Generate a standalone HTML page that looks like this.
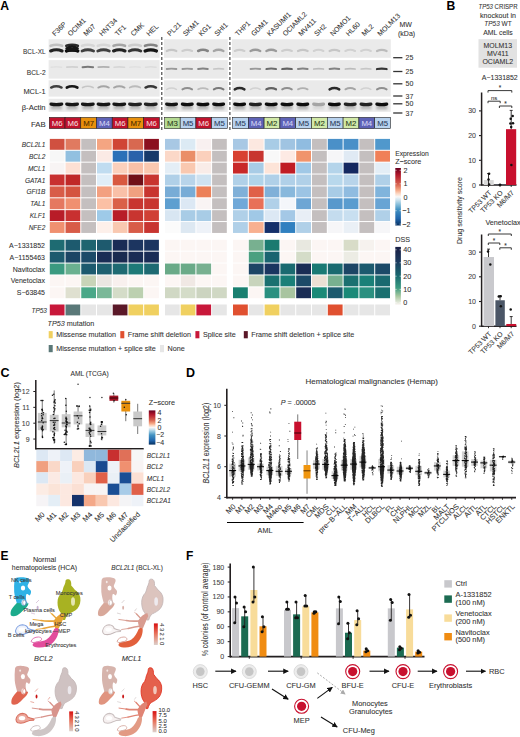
<!DOCTYPE html>
<html><head><meta charset="utf-8"><style>
html,body{margin:0;padding:0;background:#fff;}
body{width:520px;height:737px;overflow:hidden;}
svg{display:block;font-family:"Liberation Sans", sans-serif;}
</style></head><body>
<svg width="520" height="737" viewBox="0 0 520 737">
<rect width="520" height="737" fill="#fff"/>
<text x="0.30" y="10.30" font-size="12.2" text-anchor="start" fill="#000" font-weight="bold">A</text>
<text x="54.90" y="36.60" font-size="7.0" text-anchor="start" fill="#333" stroke="#333" stroke-width="0.08" transform="rotate(-45 54.90 36.60)">F36P</text>
<text x="70.63" y="36.60" font-size="7.0" text-anchor="start" fill="#333" stroke="#333" stroke-width="0.08" transform="rotate(-45 70.63 36.60)">OCIM1</text>
<text x="86.36" y="36.60" font-size="7.0" text-anchor="start" fill="#333" stroke="#333" stroke-width="0.08" transform="rotate(-45 86.36 36.60)">M07</text>
<text x="102.09" y="36.60" font-size="7.0" text-anchor="start" fill="#333" stroke="#333" stroke-width="0.08" transform="rotate(-45 102.09 36.60)">HNT34</text>
<text x="117.82" y="36.60" font-size="7.0" text-anchor="start" fill="#333" stroke="#333" stroke-width="0.08" transform="rotate(-45 117.82 36.60)">TF1</text>
<text x="133.55" y="36.60" font-size="7.0" text-anchor="start" fill="#333" stroke="#333" stroke-width="0.08" transform="rotate(-45 133.55 36.60)">CMK</text>
<text x="149.28" y="36.60" font-size="7.0" text-anchor="start" fill="#333" stroke="#333" stroke-width="0.08" transform="rotate(-45 149.28 36.60)">HEL</text>
<text x="170.10" y="36.60" font-size="7.0" text-anchor="start" fill="#333" stroke="#333" stroke-width="0.08" transform="rotate(-45 170.10 36.60)">PL21</text>
<text x="185.80" y="36.60" font-size="7.0" text-anchor="start" fill="#333" stroke="#333" stroke-width="0.08" transform="rotate(-45 185.80 36.60)">SKM1</text>
<text x="201.50" y="36.60" font-size="7.0" text-anchor="start" fill="#333" stroke="#333" stroke-width="0.08" transform="rotate(-45 201.50 36.60)">KG1</text>
<text x="217.20" y="36.60" font-size="7.0" text-anchor="start" fill="#333" stroke="#333" stroke-width="0.08" transform="rotate(-45 217.20 36.60)">SHI1</text>
<text x="238.10" y="36.60" font-size="7.0" text-anchor="start" fill="#333" stroke="#333" stroke-width="0.08" transform="rotate(-45 238.10 36.60)">THP1</text>
<text x="253.90" y="36.60" font-size="7.0" text-anchor="start" fill="#333" stroke="#333" stroke-width="0.08" transform="rotate(-45 253.90 36.60)">GDM1</text>
<text x="269.70" y="36.60" font-size="7.0" text-anchor="start" fill="#333" stroke="#333" stroke-width="0.08" transform="rotate(-45 269.70 36.60)">KASUMI1</text>
<text x="285.50" y="36.60" font-size="7.0" text-anchor="start" fill="#333" stroke="#333" stroke-width="0.08" transform="rotate(-45 285.50 36.60)">OCIAML2</text>
<text x="301.30" y="36.60" font-size="7.0" text-anchor="start" fill="#333" stroke="#333" stroke-width="0.08" transform="rotate(-45 301.30 36.60)">MV411</text>
<text x="317.10" y="36.60" font-size="7.0" text-anchor="start" fill="#333" stroke="#333" stroke-width="0.08" transform="rotate(-45 317.10 36.60)">SH2</text>
<text x="332.90" y="36.60" font-size="7.0" text-anchor="start" fill="#333" stroke="#333" stroke-width="0.08" transform="rotate(-45 332.90 36.60)">NOMO1</text>
<text x="348.70" y="36.60" font-size="7.0" text-anchor="start" fill="#333" stroke="#333" stroke-width="0.08" transform="rotate(-45 348.70 36.60)">HL60</text>
<text x="364.50" y="36.60" font-size="7.0" text-anchor="start" fill="#333" stroke="#333" stroke-width="0.08" transform="rotate(-45 364.50 36.60)">ML2</text>
<text x="380.30" y="36.60" font-size="7.0" text-anchor="start" fill="#333" stroke="#333" stroke-width="0.08" transform="rotate(-45 380.30 36.60)">MOLM13</text>
<rect x="48.60" y="39.30" width="111.00" height="18.50" fill="#eaeaea"/>
<rect x="48.60" y="60.10" width="111.00" height="18.50" fill="#eaeaea"/>
<rect x="48.60" y="80.30" width="111.00" height="16.30" fill="#eaeaea"/>
<rect x="48.60" y="98.80" width="111.00" height="13.00" fill="#eaeaea"/>
<rect x="164.00" y="39.30" width="63.80" height="18.50" fill="#eaeaea"/>
<rect x="164.00" y="60.10" width="63.80" height="18.50" fill="#eaeaea"/>
<rect x="164.00" y="80.30" width="63.80" height="16.30" fill="#eaeaea"/>
<rect x="164.00" y="98.80" width="63.80" height="13.00" fill="#eaeaea"/>
<rect x="232.00" y="39.30" width="158.80" height="18.50" fill="#eaeaea"/>
<rect x="232.00" y="60.10" width="158.80" height="18.50" fill="#eaeaea"/>
<rect x="232.00" y="80.30" width="158.80" height="16.30" fill="#eaeaea"/>
<rect x="232.00" y="98.80" width="158.80" height="13.00" fill="#eaeaea"/>
<defs><filter id="bl" x="-30%" y="-150%" width="160%" height="400%"><feGaussianBlur stdDeviation="0.55"/></filter><filter id="bl2" x="-30%" y="-150%" width="160%" height="400%"><feGaussianBlur stdDeviation="1.0"/></filter></defs>
<g filter="url(#bl2)">
<rect x="50.87" y="105" width="11" height="4.5" fill="rgb(184,184,184)"/>
<rect x="66.59" y="105" width="11" height="4.5" fill="rgb(184,184,184)"/>
<rect x="82.32" y="105" width="11" height="4.5" fill="rgb(184,184,184)"/>
<rect x="98.05" y="105" width="11" height="4.5" fill="rgb(184,184,184)"/>
<rect x="113.78" y="105" width="11" height="4.5" fill="rgb(184,184,184)"/>
<rect x="129.51" y="105" width="11" height="4.5" fill="rgb(187,187,187)"/>
<rect x="145.25" y="105" width="11" height="4.5" fill="rgb(187,187,187)"/>
<rect x="166.05" y="105" width="11" height="4.5" fill="rgb(184,184,184)"/>
<rect x="181.75" y="105" width="11" height="4.5" fill="rgb(182,182,182)"/>
<rect x="197.45" y="105" width="11" height="4.5" fill="rgb(182,182,182)"/>
<rect x="213.15" y="105" width="11" height="4.5" fill="rgb(182,182,182)"/>
<rect x="234.10" y="105" width="11" height="4.5" fill="rgb(182,182,182)"/>
<rect x="249.90" y="105" width="11" height="4.5" fill="rgb(187,187,187)"/>
<rect x="265.70" y="105" width="11" height="4.5" fill="rgb(182,182,182)"/>
<rect x="281.50" y="105" width="11" height="4.5" fill="rgb(182,182,182)"/>
<rect x="297.30" y="105" width="11" height="4.5" fill="rgb(182,182,182)"/>
<rect x="313.10" y="105" width="11" height="4.5" fill="rgb(217,217,217)"/>
<rect x="328.90" y="105" width="11" height="4.5" fill="rgb(182,182,182)"/>
<rect x="344.70" y="105" width="11" height="4.5" fill="rgb(187,187,187)"/>
<rect x="360.50" y="105" width="11" height="4.5" fill="rgb(187,187,187)"/>
<rect x="376.30" y="105" width="11" height="4.5" fill="rgb(182,182,182)"/>
</g>
<g filter="url(#bl)">
<path d="M50.62,51.00 Q56.37,48.60 62.12,51.00" fill="none" stroke="rgb(32,32,32)" stroke-width="3.08" stroke-linecap="round"/>
<path d="M66.34,51.00 Q72.09,48.60 77.84,51.00" fill="none" stroke="rgb(10,10,10)" stroke-width="3.20" stroke-linecap="round"/>
<path d="M82.07,51.00 Q87.82,48.60 93.57,51.00" fill="none" stroke="rgb(65,65,65)" stroke-width="2.90" stroke-linecap="round"/>
<path d="M97.80,51.00 Q103.55,48.60 109.30,51.00" fill="none" stroke="rgb(65,65,65)" stroke-width="2.90" stroke-linecap="round"/>
<path d="M113.53,51.00 Q119.28,48.60 125.03,51.00" fill="none" stroke="rgb(32,32,32)" stroke-width="3.08" stroke-linecap="round"/>
<path d="M129.26,51.00 Q135.01,48.60 140.76,51.00" fill="none" stroke="rgb(54,54,54)" stroke-width="2.96" stroke-linecap="round"/>
<path d="M145.00,51.00 Q150.75,48.60 156.50,51.00" fill="none" stroke="rgb(21,21,21)" stroke-width="3.14" stroke-linecap="round"/>
<path d="M166.75,51.00 Q171.55,48.60 176.35,51.00" fill="none" stroke="rgb(198,198,198)" stroke-width="2.18" stroke-linecap="round"/>
<path d="M182.45,51.00 Q187.25,48.60 192.05,51.00" fill="none" stroke="rgb(205,205,205)" stroke-width="2.14" stroke-linecap="round"/>
<path d="M198.15,51.00 Q202.95,48.60 207.75,51.00" fill="none" stroke="rgb(132,132,132)" stroke-width="2.54" stroke-linecap="round"/>
<path d="M213.85,51.00 Q218.65,48.60 223.45,51.00" fill="none" stroke="rgb(165,165,165)" stroke-width="2.36" stroke-linecap="round"/>
<path d="M234.80,51.00 Q239.60,48.60 244.40,51.00" fill="none" stroke="rgb(205,205,205)" stroke-width="2.14" stroke-linecap="round"/>
<path d="M250.60,51.00 Q255.40,48.60 260.20,51.00" fill="none" stroke="rgb(154,154,154)" stroke-width="2.42" stroke-linecap="round"/>
<path d="M266.40,51.00 Q271.20,48.60 276.00,51.00" fill="none" stroke="rgb(154,154,154)" stroke-width="2.42" stroke-linecap="round"/>
<path d="M282.20,51.00 Q287.00,48.60 291.80,51.00" fill="none" stroke="rgb(205,205,205)" stroke-width="2.14" stroke-linecap="round"/>
<path d="M298.00,51.00 Q302.80,48.60 307.60,51.00" fill="none" stroke="rgb(198,198,198)" stroke-width="2.18" stroke-linecap="round"/>
<path d="M313.80,51.00 Q318.60,48.60 323.40,51.00" fill="none" stroke="rgb(209,209,209)" stroke-width="2.12" stroke-linecap="round"/>
<path d="M329.60,51.00 Q334.40,48.60 339.20,51.00" fill="none" stroke="rgb(198,198,198)" stroke-width="2.18" stroke-linecap="round"/>
<path d="M345.40,51.00 Q350.20,48.60 355.00,51.00" fill="none" stroke="rgb(209,209,209)" stroke-width="2.12" stroke-linecap="round"/>
<path d="M361.20,51.00 Q366.00,48.60 370.80,51.00" fill="none" stroke="rgb(209,209,209)" stroke-width="2.12" stroke-linecap="round"/>
<path d="M377.00,51.00 Q381.80,48.60 386.60,51.00" fill="none" stroke="rgb(187,187,187)" stroke-width="2.24" stroke-linecap="round"/>
<path d="M50.62,45.80 Q56.37,43.80 62.12,45.80" fill="none" stroke="rgb(192,192,192)" stroke-width="2.60" stroke-linecap="round"/>
<path d="M66.34,45.80 Q72.09,43.80 77.84,45.80" fill="none" stroke="rgb(43,43,43)" stroke-width="2.60" stroke-linecap="round"/>
<path d="M82.07,45.80 Q87.82,43.80 93.57,45.80" fill="none" stroke="rgb(214,214,214)" stroke-width="2.60" stroke-linecap="round"/>
<path d="M97.80,45.80 Q103.55,43.80 109.30,45.80" fill="none" stroke="rgb(214,214,214)" stroke-width="2.60" stroke-linecap="round"/>
<path d="M113.53,45.80 Q119.28,43.80 125.03,45.80" fill="none" stroke="rgb(165,165,165)" stroke-width="2.60" stroke-linecap="round"/>
<path d="M129.26,45.80 Q135.01,43.80 140.76,45.80" fill="none" stroke="rgb(205,205,205)" stroke-width="2.60" stroke-linecap="round"/>
<path d="M145.00,45.80 Q150.75,43.80 156.50,45.80" fill="none" stroke="rgb(132,132,132)" stroke-width="2.60" stroke-linecap="round"/>
<path d="M51.12,67.20 Q56.37,66.40 61.62,67.20" fill="none" stroke="rgb(225,225,225)" stroke-width="1.62" stroke-linecap="round"/>
<path d="M66.84,67.20 Q72.09,66.40 77.34,67.20" fill="none" stroke="rgb(209,209,209)" stroke-width="1.68" stroke-linecap="round"/>
<path d="M82.57,67.20 Q87.82,66.40 93.07,67.20" fill="none" stroke="rgb(121,121,121)" stroke-width="2.00" stroke-linecap="round"/>
<path d="M98.30,67.20 Q103.55,66.40 108.80,67.20" fill="none" stroke="rgb(176,176,176)" stroke-width="1.80" stroke-linecap="round"/>
<path d="M114.03,67.20 Q119.28,66.40 124.53,67.20" fill="none" stroke="rgb(214,214,214)" stroke-width="1.66" stroke-linecap="round"/>
<path d="M129.76,67.20 Q135.01,66.40 140.26,67.20" fill="none" stroke="rgb(225,225,225)" stroke-width="1.62" stroke-linecap="round"/>
<path d="M145.50,67.20 Q150.75,66.40 156.00,67.20" fill="none" stroke="rgb(220,220,220)" stroke-width="1.64" stroke-linecap="round"/>
<path d="M166.75,69.00 Q171.55,68.20 176.35,69.00" fill="none" stroke="rgb(154,154,154)" stroke-width="1.88" stroke-linecap="round"/>
<path d="M182.45,69.00 Q187.25,68.20 192.05,69.00" fill="none" stroke="rgb(154,154,154)" stroke-width="1.88" stroke-linecap="round"/>
<path d="M198.15,69.00 Q202.95,68.20 207.75,69.00" fill="none" stroke="rgb(132,132,132)" stroke-width="1.96" stroke-linecap="round"/>
<path d="M213.85,69.00 Q218.65,68.20 223.45,69.00" fill="none" stroke="rgb(198,198,198)" stroke-width="1.72" stroke-linecap="round"/>
<path d="M250.60,69.00 Q255.40,68.20 260.20,69.00" fill="none" stroke="rgb(154,154,154)" stroke-width="1.88" stroke-linecap="round"/>
<path d="M266.40,69.00 Q271.20,68.20 276.00,69.00" fill="none" stroke="rgb(109,109,109)" stroke-width="2.04" stroke-linecap="round"/>
<path d="M282.20,69.00 Q287.00,68.20 291.80,69.00" fill="none" stroke="rgb(98,98,98)" stroke-width="2.08" stroke-linecap="round"/>
<path d="M298.00,69.00 Q302.80,68.20 307.60,69.00" fill="none" stroke="rgb(132,132,132)" stroke-width="1.96" stroke-linecap="round"/>
<path d="M313.80,69.00 Q318.60,68.20 323.40,69.00" fill="none" stroke="rgb(187,187,187)" stroke-width="1.76" stroke-linecap="round"/>
<path d="M329.60,69.00 Q334.40,68.20 339.20,69.00" fill="none" stroke="rgb(132,132,132)" stroke-width="1.96" stroke-linecap="round"/>
<path d="M345.40,69.00 Q350.20,68.20 355.00,69.00" fill="none" stroke="rgb(187,187,187)" stroke-width="1.76" stroke-linecap="round"/>
<path d="M361.20,69.00 Q366.00,68.20 370.80,69.00" fill="none" stroke="rgb(198,198,198)" stroke-width="1.72" stroke-linecap="round"/>
<path d="M377.00,69.00 Q381.80,68.20 386.60,69.00" fill="none" stroke="rgb(54,54,54)" stroke-width="2.24" stroke-linecap="round"/>
<path d="M51.12,87.55 Q56.37,84.95 61.62,87.55" fill="none" stroke="rgb(65,65,65)" stroke-width="2.40" stroke-linecap="round"/>
<path d="M66.84,87.55 Q72.09,84.95 77.34,87.55" fill="none" stroke="rgb(21,21,21)" stroke-width="2.64" stroke-linecap="round"/>
<path d="M82.57,87.55 Q87.82,84.95 93.07,87.55" fill="none" stroke="rgb(198,198,198)" stroke-width="1.68" stroke-linecap="round"/>
<path d="M98.30,87.55 Q103.55,84.95 108.80,87.55" fill="none" stroke="rgb(165,165,165)" stroke-width="1.86" stroke-linecap="round"/>
<path d="M114.03,87.55 Q119.28,84.95 124.53,87.55" fill="none" stroke="rgb(165,165,165)" stroke-width="1.86" stroke-linecap="round"/>
<path d="M129.76,87.55 Q135.01,84.95 140.26,87.55" fill="none" stroke="rgb(187,187,187)" stroke-width="1.74" stroke-linecap="round"/>
<path d="M145.50,87.55 Q150.75,84.95 156.00,87.55" fill="none" stroke="rgb(54,54,54)" stroke-width="2.46" stroke-linecap="round"/>
<path d="M166.75,89.35 Q171.55,86.75 176.35,89.35" fill="none" stroke="rgb(209,209,209)" stroke-width="1.62" stroke-linecap="round"/>
<path d="M182.45,89.35 Q187.25,86.75 192.05,89.35" fill="none" stroke="rgb(143,143,143)" stroke-width="1.98" stroke-linecap="round"/>
<path d="M198.15,89.35 Q202.95,86.75 207.75,89.35" fill="none" stroke="rgb(187,187,187)" stroke-width="1.74" stroke-linecap="round"/>
<path d="M213.85,89.35 Q218.65,86.75 223.45,89.35" fill="none" stroke="rgb(121,121,121)" stroke-width="2.10" stroke-linecap="round"/>
<path d="M234.80,89.35 Q239.60,86.75 244.40,89.35" fill="none" stroke="rgb(43,43,43)" stroke-width="2.52" stroke-linecap="round"/>
<path d="M250.60,89.35 Q255.40,86.75 260.20,89.35" fill="none" stroke="rgb(209,209,209)" stroke-width="1.62" stroke-linecap="round"/>
<path d="M266.40,89.35 Q271.20,86.75 276.00,89.35" fill="none" stroke="rgb(98,98,98)" stroke-width="2.22" stroke-linecap="round"/>
<path d="M282.20,89.35 Q287.00,86.75 291.80,89.35" fill="none" stroke="rgb(143,143,143)" stroke-width="1.98" stroke-linecap="round"/>
<path d="M298.00,89.35 Q302.80,86.75 307.60,89.35" fill="none" stroke="rgb(176,176,176)" stroke-width="1.80" stroke-linecap="round"/>
<path d="M329.60,89.35 Q334.40,86.75 339.20,89.35" fill="none" stroke="rgb(43,43,43)" stroke-width="2.52" stroke-linecap="round"/>
<path d="M345.40,89.35 Q350.20,86.75 355.00,89.35" fill="none" stroke="rgb(165,165,165)" stroke-width="1.86" stroke-linecap="round"/>
<path d="M361.20,89.35 Q366.00,86.75 370.80,89.35" fill="none" stroke="rgb(209,209,209)" stroke-width="1.62" stroke-linecap="round"/>
<path d="M377.00,89.35 Q381.80,86.75 386.60,89.35" fill="none" stroke="rgb(143,143,143)" stroke-width="1.98" stroke-linecap="round"/>
<path d="M51.12,104.15 Q56.37,105.15 61.62,104.15" fill="none" stroke="rgb(21,21,21)" stroke-width="3.40" stroke-linecap="round"/>
<path d="M66.84,104.15 Q72.09,105.15 77.34,104.15" fill="none" stroke="rgb(21,21,21)" stroke-width="3.40" stroke-linecap="round"/>
<path d="M82.57,104.15 Q87.82,105.15 93.07,104.15" fill="none" stroke="rgb(21,21,21)" stroke-width="3.40" stroke-linecap="round"/>
<path d="M98.30,104.15 Q103.55,105.15 108.80,104.15" fill="none" stroke="rgb(21,21,21)" stroke-width="3.40" stroke-linecap="round"/>
<path d="M114.03,104.15 Q119.28,105.15 124.53,104.15" fill="none" stroke="rgb(21,21,21)" stroke-width="3.40" stroke-linecap="round"/>
<path d="M129.76,104.15 Q135.01,105.15 140.26,104.15" fill="none" stroke="rgb(32,32,32)" stroke-width="3.40" stroke-linecap="round"/>
<path d="M145.50,104.15 Q150.75,105.15 156.00,104.15" fill="none" stroke="rgb(32,32,32)" stroke-width="3.40" stroke-linecap="round"/>
<path d="M166.75,104.15 Q171.55,105.15 176.35,104.15" fill="none" stroke="rgb(21,21,21)" stroke-width="3.40" stroke-linecap="round"/>
<path d="M182.45,104.15 Q187.25,105.15 192.05,104.15" fill="none" stroke="rgb(10,10,10)" stroke-width="3.40" stroke-linecap="round"/>
<path d="M198.15,104.15 Q202.95,105.15 207.75,104.15" fill="none" stroke="rgb(10,10,10)" stroke-width="3.40" stroke-linecap="round"/>
<path d="M213.85,104.15 Q218.65,105.15 223.45,104.15" fill="none" stroke="rgb(10,10,10)" stroke-width="3.40" stroke-linecap="round"/>
<path d="M234.80,104.15 Q239.60,105.15 244.40,104.15" fill="none" stroke="rgb(10,10,10)" stroke-width="3.40" stroke-linecap="round"/>
<path d="M250.60,104.15 Q255.40,105.15 260.20,104.15" fill="none" stroke="rgb(32,32,32)" stroke-width="3.40" stroke-linecap="round"/>
<path d="M266.40,104.15 Q271.20,105.15 276.00,104.15" fill="none" stroke="rgb(10,10,10)" stroke-width="3.40" stroke-linecap="round"/>
<path d="M282.20,104.15 Q287.00,105.15 291.80,104.15" fill="none" stroke="rgb(10,10,10)" stroke-width="3.40" stroke-linecap="round"/>
<path d="M298.00,104.15 Q302.80,105.15 307.60,104.15" fill="none" stroke="rgb(10,10,10)" stroke-width="3.40" stroke-linecap="round"/>
<path d="M313.80,104.15 Q318.60,105.15 323.40,104.15" fill="none" stroke="rgb(165,165,165)" stroke-width="3.40" stroke-linecap="round"/>
<path d="M329.60,104.15 Q334.40,105.15 339.20,104.15" fill="none" stroke="rgb(10,10,10)" stroke-width="3.40" stroke-linecap="round"/>
<path d="M345.40,104.15 Q350.20,105.15 355.00,104.15" fill="none" stroke="rgb(32,32,32)" stroke-width="3.40" stroke-linecap="round"/>
<path d="M361.20,104.15 Q366.00,105.15 370.80,104.15" fill="none" stroke="rgb(32,32,32)" stroke-width="3.40" stroke-linecap="round"/>
<path d="M377.00,104.15 Q381.80,105.15 386.60,104.15" fill="none" stroke="rgb(10,10,10)" stroke-width="3.40" stroke-linecap="round"/>
<path d="M66.59,48.50 Q72.09,44.50 77.59,48.50" fill="none" stroke="rgb(25,25,25)" stroke-width="2.6" stroke-linecap="round"/>
<rect x="66.59" y="47.5" width="11" height="4.2" fill="rgb(20,20,20)" rx="1.5"/>
</g>
<line x1="161.80" y1="37.00" x2="161.80" y2="131.00" stroke="#3a3a3a" stroke-width="1.1" stroke-dasharray="3,2"/>
<line x1="229.90" y1="37.00" x2="229.90" y2="131.00" stroke="#3a3a3a" stroke-width="1.1" stroke-dasharray="3,2"/>
<text x="45.60" y="54.10" font-size="7.4" text-anchor="end" fill="#333" stroke="#333" stroke-width="0.08" textLength="22.54" lengthAdjust="spacingAndGlyphs">BCL-XL</text>
<text x="45.60" y="75.40" font-size="7.4" text-anchor="end" fill="#333" stroke="#333" stroke-width="0.08" textLength="18.88" lengthAdjust="spacingAndGlyphs">BCL-2</text>
<text x="45.60" y="94.20" font-size="7.4" text-anchor="end" fill="#333" stroke="#333" stroke-width="0.08" textLength="22.20" lengthAdjust="spacingAndGlyphs">MCL-1</text>
<text x="45.60" y="109.90" font-size="7.4" text-anchor="end" fill="#333" stroke="#333" stroke-width="0.08" textLength="23.87" lengthAdjust="spacingAndGlyphs">&#946;-Actin</text>
<text x="45.60" y="126.70" font-size="7.4" text-anchor="end" fill="#333" stroke="#333" stroke-width="0.08" textLength="14.68" lengthAdjust="spacingAndGlyphs">FAB</text>
<text x="399.50" y="27.00" font-size="7.0" text-anchor="start" fill="#333" stroke="#333" stroke-width="0.08">MW</text>
<text x="398.00" y="35.50" font-size="7.0" text-anchor="start" fill="#333" stroke="#333" stroke-width="0.08">(kDa)</text>
<line x1="393.20" y1="57.70" x2="402.40" y2="57.70" stroke="#333" stroke-width="1.3"/>
<text x="405.50" y="60.30" font-size="7.0" text-anchor="start" fill="#333" stroke="#333" stroke-width="0.08">25</text>
<line x1="393.20" y1="71.50" x2="402.40" y2="71.50" stroke="#333" stroke-width="1.3"/>
<text x="405.50" y="74.10" font-size="7.0" text-anchor="start" fill="#333" stroke="#333" stroke-width="0.08">25</text>
<line x1="393.20" y1="83.80" x2="402.40" y2="83.80" stroke="#333" stroke-width="1.3"/>
<text x="405.50" y="86.40" font-size="7.0" text-anchor="start" fill="#333" stroke="#333" stroke-width="0.08">50</text>
<line x1="393.20" y1="96.00" x2="402.40" y2="96.00" stroke="#333" stroke-width="1.3"/>
<text x="405.50" y="98.60" font-size="7.0" text-anchor="start" fill="#333" stroke="#333" stroke-width="0.08">37</text>
<line x1="393.20" y1="103.80" x2="402.40" y2="103.80" stroke="#333" stroke-width="1.3"/>
<text x="405.50" y="106.40" font-size="7.0" text-anchor="start" fill="#333" stroke="#333" stroke-width="0.08">50</text>
<line x1="393.20" y1="113.00" x2="402.40" y2="113.00" stroke="#333" stroke-width="1.3"/>
<text x="405.50" y="115.60" font-size="7.0" text-anchor="start" fill="#333" stroke="#333" stroke-width="0.08">37</text>
<rect x="49.30" y="117.40" width="15.73" height="11.20" fill="#c0122c" stroke="#222" stroke-width="0.6"/>
<text x="57.16" y="125.90" font-size="7.8" text-anchor="middle" fill="#f4dede" stroke="#f4dede" stroke-width="0.08">M6</text>
<rect x="65.03" y="117.40" width="15.73" height="11.20" fill="#c0122c" stroke="#222" stroke-width="0.6"/>
<text x="72.89" y="125.90" font-size="7.8" text-anchor="middle" fill="#f4dede" stroke="#f4dede" stroke-width="0.08">M6</text>
<rect x="80.76" y="117.40" width="15.73" height="11.20" fill="#e8900c" stroke="#222" stroke-width="0.6"/>
<text x="88.62" y="125.90" font-size="7.8" text-anchor="middle" fill="#4a2a00" stroke="#4a2a00" stroke-width="0.08">M7</text>
<rect x="96.49" y="117.40" width="15.73" height="11.20" fill="#5e62b6" stroke="#222" stroke-width="0.6"/>
<text x="104.35" y="125.90" font-size="7.8" text-anchor="middle" fill="#d4d4f4" stroke="#d4d4f4" stroke-width="0.08">M4</text>
<rect x="112.22" y="117.40" width="15.73" height="11.20" fill="#c0122c" stroke="#222" stroke-width="0.6"/>
<text x="120.08" y="125.90" font-size="7.8" text-anchor="middle" fill="#f4dede" stroke="#f4dede" stroke-width="0.08">M6</text>
<rect x="127.95" y="117.40" width="15.73" height="11.20" fill="#e8900c" stroke="#222" stroke-width="0.6"/>
<text x="135.81" y="125.90" font-size="7.8" text-anchor="middle" fill="#4a2a00" stroke="#4a2a00" stroke-width="0.08">M7</text>
<rect x="143.68" y="117.40" width="15.73" height="11.20" fill="#c0122c" stroke="#222" stroke-width="0.6"/>
<text x="151.55" y="125.90" font-size="7.8" text-anchor="middle" fill="#f4dede" stroke="#f4dede" stroke-width="0.08">M6</text>
<rect x="164.50" y="117.40" width="15.70" height="11.20" fill="#b4da92" stroke="#222" stroke-width="0.6"/>
<text x="172.35" y="125.90" font-size="7.8" text-anchor="middle" fill="#2a3a1a" stroke="#2a3a1a" stroke-width="0.08">M3</text>
<rect x="180.20" y="117.40" width="15.70" height="11.20" fill="#b8d2ee" stroke="#222" stroke-width="0.6"/>
<text x="188.05" y="125.90" font-size="7.8" text-anchor="middle" fill="#2a3a5a" stroke="#2a3a5a" stroke-width="0.08">M5</text>
<rect x="195.90" y="117.40" width="15.70" height="11.20" fill="#c0122c" stroke="#222" stroke-width="0.6"/>
<text x="203.75" y="125.90" font-size="7.8" text-anchor="middle" fill="#f4dede" stroke="#f4dede" stroke-width="0.08">M6</text>
<rect x="211.60" y="117.40" width="15.70" height="11.20" fill="#b8d2ee" stroke="#222" stroke-width="0.6"/>
<text x="219.45" y="125.90" font-size="7.8" text-anchor="middle" fill="#2a3a5a" stroke="#2a3a5a" stroke-width="0.08">M5</text>
<rect x="232.50" y="117.40" width="15.80" height="11.20" fill="#b8d2ee" stroke="#222" stroke-width="0.6"/>
<text x="240.40" y="125.90" font-size="7.8" text-anchor="middle" fill="#2a3a5a" stroke="#2a3a5a" stroke-width="0.08">M5</text>
<rect x="248.30" y="117.40" width="15.80" height="11.20" fill="#5e62b6" stroke="#222" stroke-width="0.6"/>
<text x="256.20" y="125.90" font-size="7.8" text-anchor="middle" fill="#d4d4f4" stroke="#d4d4f4" stroke-width="0.08">M4</text>
<rect x="264.10" y="117.40" width="15.80" height="11.20" fill="#d2eaa8" stroke="#222" stroke-width="0.6"/>
<text x="272.00" y="125.90" font-size="7.8" text-anchor="middle" fill="#2a3a1a" stroke="#2a3a1a" stroke-width="0.08">M2</text>
<rect x="279.90" y="117.40" width="15.80" height="11.20" fill="#5e62b6" stroke="#222" stroke-width="0.6"/>
<text x="287.80" y="125.90" font-size="7.8" text-anchor="middle" fill="#d4d4f4" stroke="#d4d4f4" stroke-width="0.08">M4</text>
<rect x="295.70" y="117.40" width="15.80" height="11.20" fill="#b8d2ee" stroke="#222" stroke-width="0.6"/>
<text x="303.60" y="125.90" font-size="7.8" text-anchor="middle" fill="#2a3a5a" stroke="#2a3a5a" stroke-width="0.08">M5</text>
<rect x="311.50" y="117.40" width="15.80" height="11.20" fill="#d2eaa8" stroke="#222" stroke-width="0.6"/>
<text x="319.40" y="125.90" font-size="7.8" text-anchor="middle" fill="#2a3a1a" stroke="#2a3a1a" stroke-width="0.08">M2</text>
<rect x="327.30" y="117.40" width="15.80" height="11.20" fill="#b8d2ee" stroke="#222" stroke-width="0.6"/>
<text x="335.20" y="125.90" font-size="7.8" text-anchor="middle" fill="#2a3a5a" stroke="#2a3a5a" stroke-width="0.08">M5</text>
<rect x="343.10" y="117.40" width="15.80" height="11.20" fill="#d2eaa8" stroke="#222" stroke-width="0.6"/>
<text x="351.00" y="125.90" font-size="7.8" text-anchor="middle" fill="#2a3a1a" stroke="#2a3a1a" stroke-width="0.08">M2</text>
<rect x="358.90" y="117.40" width="15.80" height="11.20" fill="#5e62b6" stroke="#222" stroke-width="0.6"/>
<text x="366.80" y="125.90" font-size="7.8" text-anchor="middle" fill="#d4d4f4" stroke="#d4d4f4" stroke-width="0.08">M4</text>
<rect x="374.70" y="117.40" width="15.80" height="11.20" fill="#b8d2ee" stroke="#222" stroke-width="0.6"/>
<text x="382.60" y="125.90" font-size="7.8" text-anchor="middle" fill="#2a3a5a" stroke="#2a3a5a" stroke-width="0.08">M5</text>
<rect x="49.80" y="138.90" width="14.73" height="10.88" fill="#d05040"/>
<rect x="65.53" y="138.90" width="14.73" height="10.88" fill="#e07a60"/>
<rect x="81.26" y="138.90" width="14.73" height="10.88" fill="#c4bfbf"/>
<rect x="96.99" y="138.90" width="14.73" height="10.88" fill="#f4a582"/>
<rect x="112.72" y="138.90" width="14.73" height="10.88" fill="#d04535"/>
<rect x="128.45" y="138.90" width="14.73" height="10.88" fill="#d86850"/>
<rect x="144.18" y="138.90" width="14.73" height="10.88" fill="#8b1020"/>
<rect x="165.00" y="138.90" width="14.70" height="10.88" fill="#a8c8e4"/>
<rect x="180.70" y="138.90" width="14.70" height="10.88" fill="#dceaf4"/>
<rect x="196.40" y="138.90" width="14.70" height="10.88" fill="#f8f0f0"/>
<rect x="212.10" y="138.90" width="14.70" height="10.88" fill="#c4bfbf"/>
<rect x="233.00" y="138.90" width="14.80" height="10.88" fill="#a8c8e4"/>
<rect x="248.80" y="138.90" width="14.80" height="10.88" fill="#fce8e0"/>
<rect x="264.60" y="138.90" width="14.80" height="10.88" fill="#a8cce6"/>
<rect x="280.40" y="138.90" width="14.80" height="10.88" fill="#a0c4e2"/>
<rect x="296.20" y="138.90" width="14.80" height="10.88" fill="#90bce0"/>
<rect x="312.00" y="138.90" width="14.80" height="10.88" fill="#c4bfbf"/>
<rect x="327.80" y="138.90" width="14.80" height="10.88" fill="#4a90c8"/>
<rect x="343.60" y="138.90" width="14.80" height="10.88" fill="#4a90c8"/>
<rect x="359.40" y="138.90" width="14.80" height="10.88" fill="#c4bfbf"/>
<rect x="375.20" y="138.90" width="14.80" height="10.88" fill="#5098cc"/>
<text x="45.30" y="146.94" font-size="7.4" text-anchor="end" fill="#333" stroke="#333" stroke-width="0.08" font-style="italic" textLength="23.53" lengthAdjust="spacingAndGlyphs">BCL2L1</text>
<rect x="49.80" y="150.78" width="14.73" height="10.88" fill="#f7f7f7"/>
<rect x="65.53" y="150.78" width="14.73" height="10.88" fill="#92c0e0"/>
<rect x="81.26" y="150.78" width="14.73" height="10.88" fill="#c4bfbf"/>
<rect x="96.99" y="150.78" width="14.73" height="10.88" fill="#fbeae5"/>
<rect x="112.72" y="150.78" width="14.73" height="10.88" fill="#2a70b8"/>
<rect x="128.45" y="150.78" width="14.73" height="10.88" fill="#2a62aa"/>
<rect x="144.18" y="150.78" width="14.73" height="10.88" fill="#173a6a"/>
<rect x="165.00" y="150.78" width="14.70" height="10.88" fill="#fbd8c8"/>
<rect x="180.70" y="150.78" width="14.70" height="10.88" fill="#ea8e68"/>
<rect x="196.40" y="150.78" width="14.70" height="10.88" fill="#fbd0bc"/>
<rect x="212.10" y="150.78" width="14.70" height="10.88" fill="#c4bfbf"/>
<rect x="233.00" y="150.78" width="14.80" height="10.88" fill="#d84030"/>
<rect x="248.80" y="150.78" width="14.80" height="10.88" fill="#c83530"/>
<rect x="264.60" y="150.78" width="14.80" height="10.88" fill="#f8f8f8"/>
<rect x="280.40" y="150.78" width="14.80" height="10.88" fill="#fdeae4"/>
<rect x="296.20" y="150.78" width="14.80" height="10.88" fill="#f0946c"/>
<rect x="312.00" y="150.78" width="14.80" height="10.88" fill="#c4bfbf"/>
<rect x="327.80" y="150.78" width="14.80" height="10.88" fill="#f6f6f8"/>
<rect x="343.60" y="150.78" width="14.80" height="10.88" fill="#e0eaf4"/>
<rect x="359.40" y="150.78" width="14.80" height="10.88" fill="#c4bfbf"/>
<rect x="375.20" y="150.78" width="14.80" height="10.88" fill="#f08058"/>
<text x="45.30" y="158.82" font-size="7.4" text-anchor="end" fill="#333" stroke="#333" stroke-width="0.08" font-style="italic" textLength="16.29" lengthAdjust="spacingAndGlyphs">BCL2</text>
<rect x="49.80" y="162.66" width="14.73" height="10.88" fill="#f8f4f4"/>
<rect x="65.53" y="162.66" width="14.73" height="10.88" fill="#fde0d4"/>
<rect x="81.26" y="162.66" width="14.73" height="10.88" fill="#c4bfbf"/>
<rect x="96.99" y="162.66" width="14.73" height="10.88" fill="#c0dcf0"/>
<rect x="112.72" y="162.66" width="14.73" height="10.88" fill="#fbd0bc"/>
<rect x="128.45" y="162.66" width="14.73" height="10.88" fill="#f8c0a8"/>
<rect x="144.18" y="162.66" width="14.73" height="10.88" fill="#f9c8b0"/>
<rect x="165.00" y="162.66" width="14.70" height="10.88" fill="#e4eef6"/>
<rect x="180.70" y="162.66" width="14.70" height="10.88" fill="#f9c8b0"/>
<rect x="196.40" y="162.66" width="14.70" height="10.88" fill="#f9ece8"/>
<rect x="212.10" y="162.66" width="14.70" height="10.88" fill="#c4bfbf"/>
<rect x="233.00" y="162.66" width="14.80" height="10.88" fill="#c82828"/>
<rect x="248.80" y="162.66" width="14.80" height="10.88" fill="#a8cce6"/>
<rect x="264.60" y="162.66" width="14.80" height="10.88" fill="#fde4d8"/>
<rect x="280.40" y="162.66" width="14.80" height="10.88" fill="#c01c24"/>
<rect x="296.20" y="162.66" width="14.80" height="10.88" fill="#a0c8e6"/>
<rect x="312.00" y="162.66" width="14.80" height="10.88" fill="#c4bfbf"/>
<rect x="327.80" y="162.66" width="14.80" height="10.88" fill="#b4d4ea"/>
<rect x="343.60" y="162.66" width="14.80" height="10.88" fill="#142860"/>
<rect x="359.40" y="162.66" width="14.80" height="10.88" fill="#c4bfbf"/>
<rect x="375.20" y="162.66" width="14.80" height="10.88" fill="#e4eef6"/>
<text x="45.30" y="170.70" font-size="7.4" text-anchor="end" fill="#333" stroke="#333" stroke-width="0.08" font-style="italic" textLength="17.37" lengthAdjust="spacingAndGlyphs">MCL1</text>
<rect x="49.80" y="174.54" width="14.73" height="10.88" fill="#c83030"/>
<rect x="65.53" y="174.54" width="14.73" height="10.88" fill="#c02828"/>
<rect x="81.26" y="174.54" width="14.73" height="10.88" fill="#c4bfbf"/>
<rect x="96.99" y="174.54" width="14.73" height="10.88" fill="#e0eef8"/>
<rect x="112.72" y="174.54" width="14.73" height="10.88" fill="#d85840"/>
<rect x="128.45" y="174.54" width="14.73" height="10.88" fill="#700f18"/>
<rect x="144.18" y="174.54" width="14.73" height="10.88" fill="#c83530"/>
<rect x="165.00" y="174.54" width="14.70" height="10.88" fill="#b0d0e8"/>
<rect x="180.70" y="174.54" width="14.70" height="10.88" fill="#b8d4ea"/>
<rect x="196.40" y="174.54" width="14.70" height="10.88" fill="#cfe2f0"/>
<rect x="212.10" y="174.54" width="14.70" height="10.88" fill="#c4bfbf"/>
<rect x="233.00" y="174.54" width="14.80" height="10.88" fill="#b0d0e8"/>
<rect x="248.80" y="174.54" width="14.80" height="10.88" fill="#b0d4ea"/>
<rect x="264.60" y="174.54" width="14.80" height="10.88" fill="#b0d0e8"/>
<rect x="280.40" y="174.54" width="14.80" height="10.88" fill="#b0d0e8"/>
<rect x="296.20" y="174.54" width="14.80" height="10.88" fill="#b0d0e8"/>
<rect x="312.00" y="174.54" width="14.80" height="10.88" fill="#c4bfbf"/>
<rect x="327.80" y="174.54" width="14.80" height="10.88" fill="#b8d8ec"/>
<rect x="343.60" y="174.54" width="14.80" height="10.88" fill="#b8d4ea"/>
<rect x="359.40" y="174.54" width="14.80" height="10.88" fill="#c4bfbf"/>
<rect x="375.20" y="174.54" width="14.80" height="10.88" fill="#b0d0e8"/>
<text x="45.30" y="182.58" font-size="7.4" text-anchor="end" fill="#333" stroke="#333" stroke-width="0.08" font-style="italic" textLength="20.38" lengthAdjust="spacingAndGlyphs">GATA1</text>
<rect x="49.80" y="186.42" width="14.73" height="10.88" fill="#d85c48"/>
<rect x="65.53" y="186.42" width="14.73" height="10.88" fill="#d45440"/>
<rect x="81.26" y="186.42" width="14.73" height="10.88" fill="#c4bfbf"/>
<rect x="96.99" y="186.42" width="14.73" height="10.88" fill="#f3a080"/>
<rect x="112.72" y="186.42" width="14.73" height="10.88" fill="#f9c0a8"/>
<rect x="128.45" y="186.42" width="14.73" height="10.88" fill="#f0a080"/>
<rect x="144.18" y="186.42" width="14.73" height="10.88" fill="#c83530"/>
<rect x="165.00" y="186.42" width="14.70" height="10.88" fill="#78acd6"/>
<rect x="180.70" y="186.42" width="14.70" height="10.88" fill="#78acd6"/>
<rect x="196.40" y="186.42" width="14.70" height="10.88" fill="#ec8058"/>
<rect x="212.10" y="186.42" width="14.70" height="10.88" fill="#c4bfbf"/>
<rect x="233.00" y="186.42" width="14.80" height="10.88" fill="#80b0d8"/>
<rect x="248.80" y="186.42" width="14.80" height="10.88" fill="#e06048"/>
<rect x="264.60" y="186.42" width="14.80" height="10.88" fill="#80b0d8"/>
<rect x="280.40" y="186.42" width="14.80" height="10.88" fill="#88b8dc"/>
<rect x="296.20" y="186.42" width="14.80" height="10.88" fill="#9cc4e4"/>
<rect x="312.00" y="186.42" width="14.80" height="10.88" fill="#c4bfbf"/>
<rect x="327.80" y="186.42" width="14.80" height="10.88" fill="#a8cce6"/>
<rect x="343.60" y="186.42" width="14.80" height="10.88" fill="#90bce0"/>
<rect x="359.40" y="186.42" width="14.80" height="10.88" fill="#c4bfbf"/>
<rect x="375.20" y="186.42" width="14.80" height="10.88" fill="#80b4dc"/>
<text x="45.30" y="194.46" font-size="7.4" text-anchor="end" fill="#333" stroke="#333" stroke-width="0.08" font-style="italic" textLength="18.82" lengthAdjust="spacingAndGlyphs">GFI1B</text>
<rect x="49.80" y="198.30" width="14.73" height="10.88" fill="#e57860"/>
<rect x="65.53" y="198.30" width="14.73" height="10.88" fill="#f09070"/>
<rect x="81.26" y="198.30" width="14.73" height="10.88" fill="#c4bfbf"/>
<rect x="96.99" y="198.30" width="14.73" height="10.88" fill="#fbc0a5"/>
<rect x="112.72" y="198.30" width="14.73" height="10.88" fill="#da6048"/>
<rect x="128.45" y="198.30" width="14.73" height="10.88" fill="#c83530"/>
<rect x="144.18" y="198.30" width="14.73" height="10.88" fill="#c83530"/>
<rect x="165.00" y="198.30" width="14.70" height="10.88" fill="#5e9fd0"/>
<rect x="180.70" y="198.30" width="14.70" height="10.88" fill="#dce8f4"/>
<rect x="196.40" y="198.30" width="14.70" height="10.88" fill="#f9f4f4"/>
<rect x="212.10" y="198.30" width="14.70" height="10.88" fill="#c4bfbf"/>
<rect x="233.00" y="198.30" width="14.80" height="10.88" fill="#70a8d8"/>
<rect x="248.80" y="198.30" width="14.80" height="10.88" fill="#e87058"/>
<rect x="264.60" y="198.30" width="14.80" height="10.88" fill="#b0d0e8"/>
<rect x="280.40" y="198.30" width="14.80" height="10.88" fill="#f4f6fa"/>
<rect x="296.20" y="198.30" width="14.80" height="10.88" fill="#6ea6d4"/>
<rect x="312.00" y="198.30" width="14.80" height="10.88" fill="#c4bfbf"/>
<rect x="327.80" y="198.30" width="14.80" height="10.88" fill="#5898cc"/>
<rect x="343.60" y="198.30" width="14.80" height="10.88" fill="#5a9ccf"/>
<rect x="359.40" y="198.30" width="14.80" height="10.88" fill="#c4bfbf"/>
<rect x="375.20" y="198.30" width="14.80" height="10.88" fill="#68a4d4"/>
<text x="45.30" y="206.34" font-size="7.4" text-anchor="end" fill="#333" stroke="#333" stroke-width="0.08" font-style="italic" textLength="15.08" lengthAdjust="spacingAndGlyphs">TAL1</text>
<rect x="49.80" y="210.18" width="14.73" height="10.88" fill="#b81c28"/>
<rect x="65.53" y="210.18" width="14.73" height="10.88" fill="#c83030"/>
<rect x="81.26" y="210.18" width="14.73" height="10.88" fill="#c4bfbf"/>
<rect x="96.99" y="210.18" width="14.73" height="10.88" fill="#9ecae8"/>
<rect x="112.72" y="210.18" width="14.73" height="10.88" fill="#b81c28"/>
<rect x="128.45" y="210.18" width="14.73" height="10.88" fill="#c83530"/>
<rect x="144.18" y="210.18" width="14.73" height="10.88" fill="#d04035"/>
<rect x="165.00" y="210.18" width="14.70" height="10.88" fill="#d8e6f2"/>
<rect x="180.70" y="210.18" width="14.70" height="10.88" fill="#a8cce6"/>
<rect x="196.40" y="210.18" width="14.70" height="10.88" fill="#a8cce6"/>
<rect x="212.10" y="210.18" width="14.70" height="10.88" fill="#c4bfbf"/>
<rect x="233.00" y="210.18" width="14.80" height="10.88" fill="#b0d0e8"/>
<rect x="248.80" y="210.18" width="14.80" height="10.88" fill="#a0c8e6"/>
<rect x="264.60" y="210.18" width="14.80" height="10.88" fill="#dce8f4"/>
<rect x="280.40" y="210.18" width="14.80" height="10.88" fill="#a4c8e6"/>
<rect x="296.20" y="210.18" width="14.80" height="10.88" fill="#e8eef6"/>
<rect x="312.00" y="210.18" width="14.80" height="10.88" fill="#c4bfbf"/>
<rect x="327.80" y="210.18" width="14.80" height="10.88" fill="#c4dcee"/>
<rect x="343.60" y="210.18" width="14.80" height="10.88" fill="#c8dff0"/>
<rect x="359.40" y="210.18" width="14.80" height="10.88" fill="#c4bfbf"/>
<rect x="375.20" y="210.18" width="14.80" height="10.88" fill="#b0d0e8"/>
<text x="45.30" y="218.22" font-size="7.4" text-anchor="end" fill="#333" stroke="#333" stroke-width="0.08" font-style="italic" textLength="15.56" lengthAdjust="spacingAndGlyphs">KLF1</text>
<rect x="49.80" y="222.06" width="14.73" height="10.88" fill="#f09070"/>
<rect x="65.53" y="222.06" width="14.73" height="10.88" fill="#d85c48"/>
<rect x="81.26" y="222.06" width="14.73" height="10.88" fill="#c4bfbf"/>
<rect x="96.99" y="222.06" width="14.73" height="10.88" fill="#fdf0ea"/>
<rect x="112.72" y="222.06" width="14.73" height="10.88" fill="#f9c8b0"/>
<rect x="128.45" y="222.06" width="14.73" height="10.88" fill="#d85c48"/>
<rect x="144.18" y="222.06" width="14.73" height="10.88" fill="#c83530"/>
<rect x="165.00" y="222.06" width="14.70" height="10.88" fill="#fbfbfb"/>
<rect x="180.70" y="222.06" width="14.70" height="10.88" fill="#dde8f2"/>
<rect x="196.40" y="222.06" width="14.70" height="10.88" fill="#eef2f8"/>
<rect x="212.10" y="222.06" width="14.70" height="10.88" fill="#c4bfbf"/>
<rect x="233.00" y="222.06" width="14.80" height="10.88" fill="#b0d0e8"/>
<rect x="248.80" y="222.06" width="14.80" height="10.88" fill="#f8b090"/>
<rect x="264.60" y="222.06" width="14.80" height="10.88" fill="#15306a"/>
<rect x="280.40" y="222.06" width="14.80" height="10.88" fill="#3080c0"/>
<rect x="296.20" y="222.06" width="14.80" height="10.88" fill="#b0d0e8"/>
<rect x="312.00" y="222.06" width="14.80" height="10.88" fill="#c4bfbf"/>
<rect x="327.80" y="222.06" width="14.80" height="10.88" fill="#f6f6f8"/>
<rect x="343.60" y="222.06" width="14.80" height="10.88" fill="#eaf0f6"/>
<rect x="359.40" y="222.06" width="14.80" height="10.88" fill="#c4bfbf"/>
<rect x="375.20" y="222.06" width="14.80" height="10.88" fill="#f6f6f8"/>
<text x="45.30" y="230.10" font-size="7.4" text-anchor="end" fill="#333" stroke="#333" stroke-width="0.08" font-style="italic" textLength="16.65" lengthAdjust="spacingAndGlyphs">NFE2</text>
<rect x="49.80" y="239.80" width="14.73" height="10.88" fill="#1e6b72"/>
<rect x="65.53" y="239.80" width="14.73" height="10.88" fill="#1d5a6e"/>
<rect x="81.26" y="239.80" width="14.73" height="10.88" fill="#1e6470"/>
<rect x="96.99" y="239.80" width="14.73" height="10.88" fill="#1e5a6e"/>
<rect x="112.72" y="239.80" width="14.73" height="10.88" fill="#1a2c55"/>
<rect x="128.45" y="239.80" width="14.73" height="10.88" fill="#1c3560"/>
<rect x="144.18" y="239.80" width="14.73" height="10.88" fill="#1c3560"/>
<rect x="165.00" y="239.80" width="14.70" height="10.88" fill="#fcf6f4"/>
<rect x="180.70" y="239.80" width="14.70" height="10.88" fill="#fcf6f4"/>
<rect x="196.40" y="239.80" width="14.70" height="10.88" fill="#fcf6f4"/>
<rect x="212.10" y="239.80" width="14.70" height="10.88" fill="#fcf6f4"/>
<rect x="233.00" y="239.80" width="14.80" height="10.88" fill="#fcf6f4"/>
<rect x="248.80" y="239.80" width="14.80" height="10.88" fill="#78b090"/>
<rect x="264.60" y="239.80" width="14.80" height="10.88" fill="#1a7a70"/>
<rect x="280.40" y="239.80" width="14.80" height="10.88" fill="#fcf6f4"/>
<rect x="296.20" y="239.80" width="14.80" height="10.88" fill="#e8e8e0"/>
<rect x="312.00" y="239.80" width="14.80" height="10.88" fill="#fcf6f4"/>
<rect x="327.80" y="239.80" width="14.80" height="10.88" fill="#fcf6f4"/>
<rect x="343.60" y="239.80" width="14.80" height="10.88" fill="#d8dcc8"/>
<rect x="359.40" y="239.80" width="14.80" height="10.88" fill="#f6f2ee"/>
<rect x="375.20" y="239.80" width="14.80" height="10.88" fill="#fcf6f4"/>
<text x="45.00" y="247.74" font-size="7.0" text-anchor="end" fill="#333" stroke="#333" stroke-width="0.08">A&#8722;1331852</text>
<rect x="49.80" y="251.68" width="14.73" height="10.88" fill="#1c5a6e"/>
<rect x="65.53" y="251.68" width="14.73" height="10.88" fill="#1c4565"/>
<rect x="81.26" y="251.68" width="14.73" height="10.88" fill="#1c4a68"/>
<rect x="96.99" y="251.68" width="14.73" height="10.88" fill="#1a2d55"/>
<rect x="112.72" y="251.68" width="14.73" height="10.88" fill="#192a50"/>
<rect x="128.45" y="251.68" width="14.73" height="10.88" fill="#1a2c55"/>
<rect x="144.18" y="251.68" width="14.73" height="10.88" fill="#1a2c55"/>
<rect x="165.00" y="251.68" width="14.70" height="10.88" fill="#fcf6f4"/>
<rect x="180.70" y="251.68" width="14.70" height="10.88" fill="#fcf6f4"/>
<rect x="196.40" y="251.68" width="14.70" height="10.88" fill="#fcf6f4"/>
<rect x="212.10" y="251.68" width="14.70" height="10.88" fill="#fcf6f4"/>
<rect x="233.00" y="251.68" width="14.80" height="10.88" fill="#fcf6f4"/>
<rect x="248.80" y="251.68" width="14.80" height="10.88" fill="#4aa080"/>
<rect x="264.60" y="251.68" width="14.80" height="10.88" fill="#1a6470"/>
<rect x="280.40" y="251.68" width="14.80" height="10.88" fill="#fcf6f4"/>
<rect x="296.20" y="251.68" width="14.80" height="10.88" fill="#d4dcc8"/>
<rect x="312.00" y="251.68" width="14.80" height="10.88" fill="#fcf6f4"/>
<rect x="327.80" y="251.68" width="14.80" height="10.88" fill="#fcf6f4"/>
<rect x="343.60" y="251.68" width="14.80" height="10.88" fill="#ecece4"/>
<rect x="359.40" y="251.68" width="14.80" height="10.88" fill="#fcf6f4"/>
<rect x="375.20" y="251.68" width="14.80" height="10.88" fill="#fcf6f4"/>
<text x="45.00" y="259.62" font-size="7.0" text-anchor="end" fill="#333" stroke="#333" stroke-width="0.08">A&#8722;1155463</text>
<rect x="49.80" y="263.56" width="14.73" height="10.88" fill="#3a9a80"/>
<rect x="65.53" y="263.56" width="14.73" height="10.88" fill="#6ab090"/>
<rect x="81.26" y="263.56" width="14.73" height="10.88" fill="#1c5a6e"/>
<rect x="96.99" y="263.56" width="14.73" height="10.88" fill="#1e6070"/>
<rect x="112.72" y="263.56" width="14.73" height="10.88" fill="#1e6a72"/>
<rect x="128.45" y="263.56" width="14.73" height="10.88" fill="#1e7a78"/>
<rect x="144.18" y="263.56" width="14.73" height="10.88" fill="#1e6a72"/>
<rect x="165.00" y="263.56" width="14.70" height="10.88" fill="#6aaa88"/>
<rect x="180.70" y="263.56" width="14.70" height="10.88" fill="#6aaa88"/>
<rect x="196.40" y="263.56" width="14.70" height="10.88" fill="#78b090"/>
<rect x="212.10" y="263.56" width="14.70" height="10.88" fill="#fcf6f4"/>
<rect x="233.00" y="263.56" width="14.80" height="10.88" fill="#fcf6f4"/>
<rect x="248.80" y="263.56" width="14.80" height="10.88" fill="#1c4565"/>
<rect x="264.60" y="263.56" width="14.80" height="10.88" fill="#1a3560"/>
<rect x="280.40" y="263.56" width="14.80" height="10.88" fill="#1a6a70"/>
<rect x="296.20" y="263.56" width="14.80" height="10.88" fill="#1a2d55"/>
<rect x="312.00" y="263.56" width="14.80" height="10.88" fill="#1a7a74"/>
<rect x="327.80" y="263.56" width="14.80" height="10.88" fill="#1a6a70"/>
<rect x="343.60" y="263.56" width="14.80" height="10.88" fill="#1c4565"/>
<rect x="359.40" y="263.56" width="14.80" height="10.88" fill="#1c5a6e"/>
<rect x="375.20" y="263.56" width="14.80" height="10.88" fill="#1c4a68"/>
<text x="45.00" y="271.50" font-size="7.0" text-anchor="end" fill="#333" stroke="#333" stroke-width="0.08">Navitoclax</text>
<rect x="49.80" y="275.44" width="14.73" height="10.88" fill="#fcf6f4"/>
<rect x="65.53" y="275.44" width="14.73" height="10.88" fill="#fcf6f4"/>
<rect x="81.26" y="275.44" width="14.73" height="10.88" fill="#c8d4b8"/>
<rect x="96.99" y="275.44" width="14.73" height="10.88" fill="#ebe6e2"/>
<rect x="112.72" y="275.44" width="14.73" height="10.88" fill="#f8f0ee"/>
<rect x="128.45" y="275.44" width="14.73" height="10.88" fill="#fcf6f4"/>
<rect x="144.18" y="275.44" width="14.73" height="10.88" fill="#fcf6f4"/>
<rect x="165.00" y="275.44" width="14.70" height="10.88" fill="#fcf6f4"/>
<rect x="180.70" y="275.44" width="14.70" height="10.88" fill="#f0e8e4"/>
<rect x="196.40" y="275.44" width="14.70" height="10.88" fill="#fcf6f4"/>
<rect x="212.10" y="275.44" width="14.70" height="10.88" fill="#fcf6f4"/>
<rect x="233.00" y="275.44" width="14.80" height="10.88" fill="#fcf6f4"/>
<rect x="248.80" y="275.44" width="14.80" height="10.88" fill="#c8d4bc"/>
<rect x="264.60" y="275.44" width="14.80" height="10.88" fill="#1a7070"/>
<rect x="280.40" y="275.44" width="14.80" height="10.88" fill="#1a8078"/>
<rect x="296.20" y="275.44" width="14.80" height="10.88" fill="#1c4a68"/>
<rect x="312.00" y="275.44" width="14.80" height="10.88" fill="#ebe0d4"/>
<rect x="327.80" y="275.44" width="14.80" height="10.88" fill="#78b090"/>
<rect x="343.60" y="275.44" width="14.80" height="10.88" fill="#1a7070"/>
<rect x="359.40" y="275.44" width="14.80" height="10.88" fill="#1a8078"/>
<rect x="375.20" y="275.44" width="14.80" height="10.88" fill="#1a6a70"/>
<text x="45.00" y="283.38" font-size="7.0" text-anchor="end" fill="#333" stroke="#333" stroke-width="0.08">Venetoclax</text>
<rect x="49.80" y="287.32" width="14.73" height="10.88" fill="#fcf6f4"/>
<rect x="65.53" y="287.32" width="14.73" height="10.88" fill="#dfe0d0"/>
<rect x="81.26" y="287.32" width="14.73" height="10.88" fill="#4aa888"/>
<rect x="96.99" y="287.32" width="14.73" height="10.88" fill="#7ab898"/>
<rect x="112.72" y="287.32" width="14.73" height="10.88" fill="#d4dcc8"/>
<rect x="128.45" y="287.32" width="14.73" height="10.88" fill="#bcd0b0"/>
<rect x="144.18" y="287.32" width="14.73" height="10.88" fill="#fcf6f4"/>
<rect x="165.00" y="287.32" width="14.70" height="10.88" fill="#d0d8c4"/>
<rect x="180.70" y="287.32" width="14.70" height="10.88" fill="#d4dcc8"/>
<rect x="196.40" y="287.32" width="14.70" height="10.88" fill="#ccd4c0"/>
<rect x="212.10" y="287.32" width="14.70" height="10.88" fill="#d0d8c4"/>
<rect x="233.00" y="287.32" width="14.80" height="10.88" fill="#1a8070"/>
<rect x="248.80" y="287.32" width="14.80" height="10.88" fill="#fcf6f4"/>
<rect x="264.60" y="287.32" width="14.80" height="10.88" fill="#2a9080"/>
<rect x="280.40" y="287.32" width="14.80" height="10.88" fill="#a8c4a0"/>
<rect x="296.20" y="287.32" width="14.80" height="10.88" fill="#1a2d55"/>
<rect x="312.00" y="287.32" width="14.80" height="10.88" fill="#1a8a78"/>
<rect x="327.80" y="287.32" width="14.80" height="10.88" fill="#1c5a6e"/>
<rect x="343.60" y="287.32" width="14.80" height="10.88" fill="#1a8a78"/>
<rect x="359.40" y="287.32" width="14.80" height="10.88" fill="#2a9080"/>
<rect x="375.20" y="287.32" width="14.80" height="10.88" fill="#1a7070"/>
<text x="45.00" y="295.26" font-size="7.0" text-anchor="end" fill="#333" stroke="#333" stroke-width="0.08">S&#8722;63845</text>
<rect x="49.80" y="304.50" width="14.73" height="10.88" fill="#c8183a"/>
<rect x="65.53" y="304.50" width="14.73" height="10.88" fill="#5a7878"/>
<rect x="81.26" y="304.50" width="14.73" height="10.88" fill="#e6e6e6"/>
<rect x="96.99" y="304.50" width="14.73" height="10.88" fill="#e6e6e6"/>
<rect x="112.72" y="304.50" width="14.73" height="10.88" fill="#5a1828"/>
<rect x="128.45" y="304.50" width="14.73" height="10.88" fill="#f0d060"/>
<rect x="144.18" y="304.50" width="14.73" height="10.88" fill="#f0d060"/>
<rect x="165.00" y="304.50" width="14.70" height="10.88" fill="#e6e6e6"/>
<rect x="180.70" y="304.50" width="14.70" height="10.88" fill="#f0d060"/>
<rect x="196.40" y="304.50" width="14.70" height="10.88" fill="#c8183a"/>
<rect x="212.10" y="304.50" width="14.70" height="10.88" fill="#e6e6e6"/>
<rect x="233.00" y="304.50" width="14.80" height="10.88" fill="#e05030"/>
<rect x="248.80" y="304.50" width="14.80" height="10.88" fill="#e6e6e6"/>
<rect x="264.60" y="304.50" width="14.80" height="10.88" fill="#f0d060"/>
<rect x="280.40" y="304.50" width="14.80" height="10.88" fill="#e6e6e6"/>
<rect x="296.20" y="304.50" width="14.80" height="10.88" fill="#e6e6e6"/>
<rect x="312.00" y="304.50" width="14.80" height="10.88" fill="#e6e6e6"/>
<rect x="327.80" y="304.50" width="14.80" height="10.88" fill="#e05030"/>
<rect x="343.60" y="304.50" width="14.80" height="10.88" fill="#e6e6e6"/>
<rect x="359.40" y="304.50" width="14.80" height="10.88" fill="#e6e6e6"/>
<rect x="375.20" y="304.50" width="14.80" height="10.88" fill="#e6e6e6"/>
<text x="47.00" y="312.54" font-size="7.4" text-anchor="end" fill="#333" stroke="#333" stroke-width="0.08" font-style="italic" textLength="15.56" lengthAdjust="spacingAndGlyphs">TP53</text>
<defs><linearGradient id="rdbu" x1="0" y1="0" x2="0" y2="1"><stop offset="0" stop-color="#67001f"/><stop offset="0.12" stop-color="#b2182b"/><stop offset="0.28" stop-color="#d6604d"/><stop offset="0.38" stop-color="#f4a582"/><stop offset="0.45" stop-color="#fddbc7"/><stop offset="0.5" stop-color="#f7f7f7"/><stop offset="0.55" stop-color="#d1e5f0"/><stop offset="0.62" stop-color="#92c5de"/><stop offset="0.72" stop-color="#4393c3"/><stop offset="0.88" stop-color="#2166ac"/><stop offset="1" stop-color="#053061"/></linearGradient><linearGradient id="dss" x1="0" y1="0" x2="0" y2="1"><stop offset="0" stop-color="#1a1f45"/><stop offset="0.25" stop-color="#1c3a5e"/><stop offset="0.5" stop-color="#1a6a70"/><stop offset="0.7" stop-color="#3a9a80"/><stop offset="0.85" stop-color="#a8c8a0"/><stop offset="1" stop-color="#fcf6f4"/></linearGradient></defs>
<text x="395.20" y="155.80" font-size="7.2" text-anchor="start" fill="#333" stroke="#333" stroke-width="0.08" textLength="33.48" lengthAdjust="spacingAndGlyphs">Expression</text>
<text x="395.20" y="164.00" font-size="7.2" text-anchor="start" fill="#333" stroke="#333" stroke-width="0.08">Z&#8722;score</text>
<rect x="395.30" y="168.00" width="5.60" height="57.50" fill="url(#rdbu)"/>
<line x1="395.30" y1="170.30" x2="396.60" y2="170.30" stroke="#fff" stroke-width="0.6"/>
<line x1="399.60" y1="170.30" x2="400.90" y2="170.30" stroke="#fff" stroke-width="0.6"/>
<text x="403.40" y="172.80" font-size="7.2" text-anchor="start" fill="#333" stroke="#333" stroke-width="0.08">2</text>
<line x1="395.30" y1="183.80" x2="396.60" y2="183.80" stroke="#fff" stroke-width="0.6"/>
<line x1="399.60" y1="183.80" x2="400.90" y2="183.80" stroke="#fff" stroke-width="0.6"/>
<text x="403.40" y="186.30" font-size="7.2" text-anchor="start" fill="#333" stroke="#333" stroke-width="0.08">1</text>
<line x1="395.30" y1="197.20" x2="396.60" y2="197.20" stroke="#fff" stroke-width="0.6"/>
<line x1="399.60" y1="197.20" x2="400.90" y2="197.20" stroke="#fff" stroke-width="0.6"/>
<text x="403.40" y="199.70" font-size="7.2" text-anchor="start" fill="#333" stroke="#333" stroke-width="0.08">0</text>
<line x1="395.30" y1="210.70" x2="396.60" y2="210.70" stroke="#fff" stroke-width="0.6"/>
<line x1="399.60" y1="210.70" x2="400.90" y2="210.70" stroke="#fff" stroke-width="0.6"/>
<text x="402.20" y="213.20" font-size="7.2" text-anchor="start" fill="#333" stroke="#333" stroke-width="0.08">&#8722;1</text>
<line x1="395.30" y1="224.10" x2="396.60" y2="224.10" stroke="#fff" stroke-width="0.6"/>
<line x1="399.60" y1="224.10" x2="400.90" y2="224.10" stroke="#fff" stroke-width="0.6"/>
<text x="402.20" y="226.60" font-size="7.2" text-anchor="start" fill="#333" stroke="#333" stroke-width="0.08">&#8722;2</text>
<text x="395.20" y="241.80" font-size="7.2" text-anchor="start" fill="#333" stroke="#333" stroke-width="0.08">DSS</text>
<rect x="395.30" y="246.90" width="5.60" height="58.00" fill="url(#dss)"/>
<line x1="395.30" y1="249.80" x2="396.60" y2="249.80" stroke="#fff" stroke-width="0.6"/>
<line x1="399.60" y1="249.80" x2="400.90" y2="249.80" stroke="#fff" stroke-width="0.6"/>
<text x="403.20" y="252.30" font-size="7.2" text-anchor="start" fill="#333" stroke="#333" stroke-width="0.08">40</text>
<line x1="395.30" y1="262.80" x2="396.60" y2="262.80" stroke="#fff" stroke-width="0.6"/>
<line x1="399.60" y1="262.80" x2="400.90" y2="262.80" stroke="#fff" stroke-width="0.6"/>
<text x="403.20" y="265.30" font-size="7.2" text-anchor="start" fill="#333" stroke="#333" stroke-width="0.08">30</text>
<line x1="395.30" y1="276.20" x2="396.60" y2="276.20" stroke="#fff" stroke-width="0.6"/>
<line x1="399.60" y1="276.20" x2="400.90" y2="276.20" stroke="#fff" stroke-width="0.6"/>
<text x="403.20" y="278.70" font-size="7.2" text-anchor="start" fill="#333" stroke="#333" stroke-width="0.08">20</text>
<line x1="395.30" y1="289.40" x2="396.60" y2="289.40" stroke="#fff" stroke-width="0.6"/>
<line x1="399.60" y1="289.40" x2="400.90" y2="289.40" stroke="#fff" stroke-width="0.6"/>
<text x="403.20" y="291.90" font-size="7.2" text-anchor="start" fill="#333" stroke="#333" stroke-width="0.08">10</text>
<line x1="395.30" y1="302.60" x2="396.60" y2="302.60" stroke="#fff" stroke-width="0.6"/>
<line x1="399.60" y1="302.60" x2="400.90" y2="302.60" stroke="#fff" stroke-width="0.6"/>
<text x="403.20" y="305.10" font-size="7.2" text-anchor="start" fill="#333" stroke="#333" stroke-width="0.08">0</text>
<text x="47.60" y="326.30" font-size="7.2" text-anchor="start" fill="#333" stroke="#333" stroke-width="0.08"><tspan font-style="italic">TP53</tspan> mutation</text>
<rect x="48.70" y="331.10" width="4.00" height="7.20" fill="#f0d060"/>
<text x="56.20" y="337.20" font-size="7.2" text-anchor="start" fill="#333" stroke="#333" stroke-width="0.08">Missense mutation</text>
<rect x="120.30" y="331.10" width="4.00" height="7.20" fill="#e05030"/>
<text x="127.80" y="337.20" font-size="7.2" text-anchor="start" fill="#333" stroke="#333" stroke-width="0.08">Frame shift deletion</text>
<rect x="195.40" y="331.10" width="4.00" height="7.20" fill="#c8183a"/>
<text x="202.90" y="337.20" font-size="7.2" text-anchor="start" fill="#333" stroke="#333" stroke-width="0.08">Splice site</text>
<rect x="243.80" y="331.10" width="4.00" height="7.20" fill="#5a1828"/>
<text x="251.30" y="337.20" font-size="7.2" text-anchor="start" fill="#333" stroke="#333" stroke-width="0.08">Frame shift deletion + splice site</text>
<rect x="48.70" y="345.00" width="4.00" height="7.20" fill="#5a7878"/>
<text x="56.20" y="351.10" font-size="7.2" text-anchor="start" fill="#333" stroke="#333" stroke-width="0.08">Missense mutation + splice site</text>
<rect x="160.00" y="345.00" width="4.00" height="7.20" fill="#e6e6e6"/>
<text x="167.50" y="351.10" font-size="7.2" text-anchor="start" fill="#333" stroke="#333" stroke-width="0.08">None</text>
<text x="446.60" y="10.30" font-size="12.2" text-anchor="start" fill="#000" font-weight="bold">B</text>
<text x="498.00" y="9.40" font-size="7.3" text-anchor="middle" fill="#333" stroke="#333" stroke-width="0.08" textLength="39.1" lengthAdjust="spacingAndGlyphs"><tspan font-style="italic">TP53</tspan> CRISPR</text>
<text x="498.00" y="17.80" font-size="7.3" text-anchor="middle" fill="#333" stroke="#333" stroke-width="0.08" textLength="35.9" lengthAdjust="spacingAndGlyphs">knockout in</text>
<text x="498.00" y="26.20" font-size="7.3" text-anchor="middle" fill="#333" stroke="#333" stroke-width="0.08" textLength="27.4" lengthAdjust="spacingAndGlyphs"><tspan font-style="italic">TP53</tspan> WT</text>
<text x="498.00" y="34.60" font-size="7.3" text-anchor="middle" fill="#333" stroke="#333" stroke-width="0.08" textLength="29.5" lengthAdjust="spacingAndGlyphs">AML cells</text>
<rect x="478.50" y="39.20" width="38.50" height="28.50" fill="#e2e2e2"/>
<text x="497.80" y="47.60" font-size="7.3" text-anchor="middle" fill="#333" stroke="#333" stroke-width="0.08" textLength="28.5" lengthAdjust="spacingAndGlyphs">MOLM13</text>
<text x="497.80" y="55.80" font-size="7.3" text-anchor="middle" fill="#333" stroke="#333" stroke-width="0.08" textLength="21.5" lengthAdjust="spacingAndGlyphs">MV411</text>
<text x="497.80" y="64.00" font-size="7.3" text-anchor="middle" fill="#333" stroke="#333" stroke-width="0.08" textLength="30.8" lengthAdjust="spacingAndGlyphs">OCIAML2</text>
<text x="499.80" y="80.30" font-size="7.3" text-anchor="middle" fill="#333" stroke="#333" stroke-width="0.08" textLength="35.9" lengthAdjust="spacingAndGlyphs">A&#8722;1331852</text>
<line x1="481.60" y1="92.50" x2="481.60" y2="185.70" stroke="#231f20" stroke-width="1.5"/>
<line x1="481.60" y1="185.00" x2="516.50" y2="185.00" stroke="#231f20" stroke-width="1.5"/>
<line x1="479.00" y1="185.00" x2="481.60" y2="185.00" stroke="#231f20" stroke-width="1.1"/>
<text x="476.00" y="187.50" font-size="7.0" text-anchor="end" fill="#444" stroke="#444" stroke-width="0.08">0</text>
<line x1="479.00" y1="160.30" x2="481.60" y2="160.30" stroke="#231f20" stroke-width="1.1"/>
<text x="476.00" y="162.80" font-size="7.0" text-anchor="end" fill="#444" stroke="#444" stroke-width="0.08">10</text>
<line x1="479.00" y1="135.60" x2="481.60" y2="135.60" stroke="#231f20" stroke-width="1.1"/>
<text x="476.00" y="138.10" font-size="7.0" text-anchor="end" fill="#444" stroke="#444" stroke-width="0.08">20</text>
<line x1="479.00" y1="110.90" x2="481.60" y2="110.90" stroke="#231f20" stroke-width="1.1"/>
<text x="476.00" y="113.40" font-size="7.0" text-anchor="end" fill="#444" stroke="#444" stroke-width="0.08">30</text>
<rect x="483.80" y="180.06" width="9.90" height="4.94" fill="#d9d9d9"/>
<rect x="495.30" y="184.51" width="9.30" height="0.49" fill="#4b5667"/>
<rect x="506.00" y="129.18" width="10.20" height="55.82" fill="#c8102e"/>
<line x1="488.50" y1="173.64" x2="488.50" y2="185.00" stroke="#231f20" stroke-width="0.9"/>
<line x1="487.00" y1="173.64" x2="490.00" y2="173.64" stroke="#231f20" stroke-width="0.9"/>
<circle cx="489.10" cy="173.64" r="1.25" fill="#111"/>
<circle cx="488.50" cy="179.57" r="1.25" fill="#111"/>
<circle cx="489.10" cy="184.51" r="1.25" fill="#111"/>
<line x1="500.00" y1="184.75" x2="500.00" y2="185.00" stroke="#231f20" stroke-width="0.9"/>
<line x1="498.50" y1="184.75" x2="501.50" y2="184.75" stroke="#231f20" stroke-width="0.9"/>
<circle cx="500.00" cy="184.75" r="1.25" fill="#111"/>
<line x1="511.20" y1="110.41" x2="511.20" y2="129.18" stroke="#231f20" stroke-width="0.9"/>
<line x1="509.70" y1="110.41" x2="512.70" y2="110.41" stroke="#231f20" stroke-width="0.9"/>
<circle cx="512.70" cy="116.09" r="1.25" fill="#111"/>
<circle cx="510.70" cy="118.80" r="1.25" fill="#111"/>
<circle cx="513.00" cy="123.25" r="1.25" fill="#111"/>
<circle cx="510.40" cy="123.50" r="1.25" fill="#111"/>
<circle cx="511.20" cy="126.95" r="1.25" fill="#111"/>
<circle cx="511.40" cy="164.99" r="1.25" fill="#111"/>
<path d="M488.00,92.60 L488.00,90.60 L511.80,90.60 L511.80,92.60" fill="none" stroke="#222" stroke-width="0.9"/>
<text x="499.90" y="90.40" font-size="6.5" text-anchor="middle" fill="#333" stroke="#333" stroke-width="0.08">*</text>
<path d="M488.00,103.20 L488.00,101.20 L500.20,101.20 L500.20,103.20" fill="none" stroke="#222" stroke-width="0.9"/>
<text x="494.10" y="99.60" font-size="6.0" text-anchor="middle" fill="#333" stroke="#333" stroke-width="0.08">ns</text>
<path d="M499.40,108.00 L499.40,106.00 L511.80,106.00 L511.80,108.00" fill="none" stroke="#222" stroke-width="0.9"/>
<text x="505.60" y="105.80" font-size="6.5" text-anchor="middle" fill="#333" stroke="#333" stroke-width="0.08">*</text>
<line x1="488.50" y1="185.00" x2="488.50" y2="187.00" stroke="#231f20" stroke-width="0.9"/>
<line x1="500.00" y1="185.00" x2="500.00" y2="187.00" stroke="#231f20" stroke-width="0.9"/>
<line x1="511.20" y1="185.00" x2="511.20" y2="187.00" stroke="#231f20" stroke-width="0.9"/>
<text x="491.90" y="193.20" font-size="6.9" text-anchor="end" fill="#333" stroke="#333" stroke-width="0.08" transform="rotate(-45 491.90 193.20)">TP53 WT</text>
<text x="503.40" y="193.20" font-size="6.9" text-anchor="end" fill="#333" stroke="#333" stroke-width="0.08" transform="rotate(-45 503.40 193.20)">TP53 KO</text>
<text x="514.60" y="193.20" font-size="6.9" text-anchor="end" fill="#333" stroke="#333" stroke-width="0.08" transform="rotate(-45 514.60 193.20)">M6/M7</text>
<text x="503.00" y="224.80" font-size="7.2" text-anchor="middle" fill="#333" stroke="#333" stroke-width="0.08">Venetoclax</text>
<line x1="481.60" y1="234.50" x2="481.60" y2="326.90" stroke="#231f20" stroke-width="1.5"/>
<line x1="481.60" y1="326.20" x2="516.50" y2="326.20" stroke="#231f20" stroke-width="1.5"/>
<line x1="479.00" y1="326.20" x2="481.60" y2="326.20" stroke="#231f20" stroke-width="1.1"/>
<text x="476.00" y="328.70" font-size="7.0" text-anchor="end" fill="#444" stroke="#444" stroke-width="0.08">0</text>
<line x1="479.00" y1="301.50" x2="481.60" y2="301.50" stroke="#231f20" stroke-width="1.1"/>
<text x="476.00" y="304.00" font-size="7.0" text-anchor="end" fill="#444" stroke="#444" stroke-width="0.08">10</text>
<line x1="479.00" y1="276.80" x2="481.60" y2="276.80" stroke="#231f20" stroke-width="1.1"/>
<text x="476.00" y="279.30" font-size="7.0" text-anchor="end" fill="#444" stroke="#444" stroke-width="0.08">20</text>
<line x1="479.00" y1="252.10" x2="481.60" y2="252.10" stroke="#231f20" stroke-width="1.1"/>
<text x="476.00" y="254.60" font-size="7.0" text-anchor="end" fill="#444" stroke="#444" stroke-width="0.08">30</text>
<rect x="483.60" y="257.04" width="10.40" height="69.16" fill="#c9c9cd"/>
<rect x="495.40" y="300.26" width="9.40" height="25.94" fill="#4b5667"/>
<rect x="506.30" y="323.98" width="9.90" height="2.22" fill="#c8102e"/>
<line x1="488.50" y1="249.14" x2="488.50" y2="257.04" stroke="#231f20" stroke-width="0.9"/>
<line x1="487.00" y1="249.14" x2="490.00" y2="249.14" stroke="#231f20" stroke-width="0.9"/>
<circle cx="488.00" cy="251.61" r="1.25" fill="#111"/>
<circle cx="490.30" cy="264.45" r="1.25" fill="#111"/>
<line x1="500.00" y1="295.82" x2="500.00" y2="300.26" stroke="#231f20" stroke-width="0.9"/>
<line x1="498.50" y1="295.82" x2="501.50" y2="295.82" stroke="#231f20" stroke-width="0.9"/>
<circle cx="498.80" cy="296.56" r="1.25" fill="#111"/>
<circle cx="500.60" cy="296.31" r="1.25" fill="#111"/>
<circle cx="500.80" cy="306.19" r="1.25" fill="#111"/>
<line x1="511.20" y1="316.57" x2="511.20" y2="323.98" stroke="#231f20" stroke-width="0.9"/>
<line x1="509.70" y1="316.57" x2="512.70" y2="316.57" stroke="#231f20" stroke-width="0.9"/>
<circle cx="510.70" cy="309.40" r="1.25" fill="#111"/>
<path d="M488.30,236.00 L488.30,234.00 L511.30,234.00 L511.30,236.00" fill="none" stroke="#222" stroke-width="0.9"/>
<text x="499.80" y="233.80" font-size="6.5" text-anchor="middle" fill="#333" stroke="#333" stroke-width="0.08">*</text>
<path d="M488.30,245.00 L488.30,243.00 L499.80,243.00 L499.80,245.00" fill="none" stroke="#222" stroke-width="0.9"/>
<text x="494.05" y="242.80" font-size="6.5" text-anchor="middle" fill="#333" stroke="#333" stroke-width="0.08">*</text>
<path d="M499.80,249.80 L499.80,247.80 L511.30,247.80 L511.30,249.80" fill="none" stroke="#222" stroke-width="0.9"/>
<text x="505.55" y="247.60" font-size="6.5" text-anchor="middle" fill="#333" stroke="#333" stroke-width="0.08">*</text>
<line x1="488.50" y1="326.20" x2="488.50" y2="328.20" stroke="#231f20" stroke-width="0.9"/>
<line x1="500.00" y1="326.20" x2="500.00" y2="328.20" stroke="#231f20" stroke-width="0.9"/>
<line x1="511.20" y1="326.20" x2="511.20" y2="328.20" stroke="#231f20" stroke-width="0.9"/>
<text x="491.90" y="334.40" font-size="6.9" text-anchor="end" fill="#333" stroke="#333" stroke-width="0.08" transform="rotate(-45 491.90 334.40)">TP53 WT</text>
<text x="503.40" y="334.40" font-size="6.9" text-anchor="end" fill="#333" stroke="#333" stroke-width="0.08" transform="rotate(-45 503.40 334.40)">TP53 KO</text>
<text x="514.60" y="334.40" font-size="6.9" text-anchor="end" fill="#333" stroke="#333" stroke-width="0.08" transform="rotate(-45 514.60 334.40)">M6/M7</text>
<text x="461.60" y="210.50" font-size="8.0" text-anchor="middle" fill="#333" stroke="#333" stroke-width="0.08" transform="rotate(-90 461.60 210.50)" textLength="67" lengthAdjust="spacingAndGlyphs">Drug sensitivity score</text>
<text x="0.50" y="377.30" font-size="12.5" text-anchor="start" fill="#000" font-weight="bold">C</text>
<text x="89.60" y="376.30" font-size="7.4" text-anchor="middle" fill="#333" stroke="#333" stroke-width="0.08" textLength="38.3" lengthAdjust="spacingAndGlyphs">AML (TCGA)</text>
<line x1="35.80" y1="380.00" x2="35.80" y2="449.50" stroke="#231f20" stroke-width="1.5"/>
<line x1="35.80" y1="448.80" x2="143.70" y2="448.80" stroke="#231f20" stroke-width="1.5"/>
<line x1="33.30" y1="439.05" x2="35.80" y2="439.05" stroke="#231f20" stroke-width="1.0"/>
<text x="29.60" y="441.55" font-size="7.0" text-anchor="end" fill="#444" stroke="#444" stroke-width="0.08">9</text>
<line x1="33.30" y1="423.20" x2="35.80" y2="423.20" stroke="#231f20" stroke-width="1.0"/>
<text x="29.60" y="425.70" font-size="7.0" text-anchor="end" fill="#444" stroke="#444" stroke-width="0.08">10</text>
<line x1="33.30" y1="407.35" x2="35.80" y2="407.35" stroke="#231f20" stroke-width="1.0"/>
<text x="29.60" y="409.85" font-size="7.0" text-anchor="end" fill="#444" stroke="#444" stroke-width="0.08">11</text>
<line x1="33.30" y1="391.50" x2="35.80" y2="391.50" stroke="#231f20" stroke-width="1.0"/>
<text x="29.60" y="394.00" font-size="7.0" text-anchor="end" fill="#444" stroke="#444" stroke-width="0.08">12</text>
<text x="19.00" y="425.00" font-size="7.8" text-anchor="middle" fill="#333" stroke="#333" stroke-width="0.08" transform="rotate(-90 19.00 425.00)" textLength="86" lengthAdjust="spacingAndGlyphs"><tspan font-style="italic">BCL2L1</tspan> expression (log2)</text>
<line x1="42.27" y1="400.40" x2="42.27" y2="437.90" stroke="#555" stroke-width="0.8"/>
<rect x="37.87" y="412.90" width="8.80" height="17.30" fill="#c8c8c8" fill-opacity="0.95"/>
<line x1="37.87" y1="422.00" x2="46.66" y2="422.00" stroke="#333" stroke-width="1.0"/>
<circle cx="42.62" cy="418.46" r="0.75" fill="#111"/>
<circle cx="42.04" cy="418.87" r="0.75" fill="#111"/>
<circle cx="42.12" cy="409.13" r="0.75" fill="#111"/>
<circle cx="42.56" cy="437.39" r="0.75" fill="#111"/>
<circle cx="42.44" cy="436.35" r="0.75" fill="#111"/>
<circle cx="42.39" cy="427.46" r="0.75" fill="#111"/>
<circle cx="42.86" cy="400.40" r="0.75" fill="#111"/>
<circle cx="42.61" cy="429.01" r="0.75" fill="#111"/>
<circle cx="41.04" cy="400.40" r="0.75" fill="#111"/>
<circle cx="41.94" cy="409.69" r="0.75" fill="#111"/>
<circle cx="42.23" cy="426.23" r="0.75" fill="#111"/>
<circle cx="41.82" cy="429.21" r="0.75" fill="#111"/>
<circle cx="42.54" cy="426.27" r="0.75" fill="#111"/>
<circle cx="43.47" cy="412.85" r="0.75" fill="#111"/>
<circle cx="43.10" cy="429.70" r="0.75" fill="#111"/>
<circle cx="41.75" cy="413.41" r="0.75" fill="#111"/>
<circle cx="42.19" cy="417.24" r="0.75" fill="#111"/>
<circle cx="42.44" cy="430.75" r="0.75" fill="#111"/>
<circle cx="41.60" cy="415.81" r="0.75" fill="#111"/>
<circle cx="43.12" cy="414.80" r="0.75" fill="#111"/>
<circle cx="42.44" cy="410.82" r="0.75" fill="#111"/>
<circle cx="41.22" cy="427.90" r="0.75" fill="#111"/>
<circle cx="43.18" cy="422.67" r="0.75" fill="#111"/>
<circle cx="42.04" cy="400.40" r="0.75" fill="#111"/>
<circle cx="41.69" cy="420.53" r="0.75" fill="#111"/>
<circle cx="42.22" cy="428.88" r="0.75" fill="#111"/>
<line x1="54.19" y1="390.40" x2="54.19" y2="443.70" stroke="#555" stroke-width="0.8"/>
<rect x="49.79" y="414.80" width="8.80" height="16.70" fill="#c8c8c8" fill-opacity="0.95"/>
<line x1="49.79" y1="420.60" x2="58.59" y2="420.60" stroke="#333" stroke-width="1.0"/>
<circle cx="54.77" cy="401.03" r="0.75" fill="#111"/>
<circle cx="54.86" cy="429.54" r="0.75" fill="#111"/>
<circle cx="54.45" cy="439.85" r="0.75" fill="#111"/>
<circle cx="53.29" cy="422.19" r="0.75" fill="#111"/>
<circle cx="53.77" cy="428.82" r="0.75" fill="#111"/>
<circle cx="53.31" cy="414.55" r="0.75" fill="#111"/>
<circle cx="53.82" cy="407.67" r="0.75" fill="#111"/>
<circle cx="52.77" cy="437.82" r="0.75" fill="#111"/>
<circle cx="54.36" cy="401.13" r="0.75" fill="#111"/>
<circle cx="54.60" cy="439.88" r="0.75" fill="#111"/>
<circle cx="52.43" cy="395.22" r="0.75" fill="#111"/>
<circle cx="53.68" cy="425.37" r="0.75" fill="#111"/>
<circle cx="54.88" cy="405.64" r="0.75" fill="#111"/>
<circle cx="54.31" cy="435.32" r="0.75" fill="#111"/>
<circle cx="54.50" cy="423.88" r="0.75" fill="#111"/>
<circle cx="54.63" cy="441.90" r="0.75" fill="#111"/>
<circle cx="54.58" cy="427.53" r="0.75" fill="#111"/>
<circle cx="55.09" cy="399.65" r="0.75" fill="#111"/>
<circle cx="54.57" cy="433.36" r="0.75" fill="#111"/>
<circle cx="53.75" cy="394.23" r="0.75" fill="#111"/>
<circle cx="52.93" cy="431.85" r="0.75" fill="#111"/>
<circle cx="54.91" cy="418.14" r="0.75" fill="#111"/>
<circle cx="55.32" cy="403.08" r="0.75" fill="#111"/>
<circle cx="54.09" cy="427.97" r="0.75" fill="#111"/>
<circle cx="54.65" cy="424.94" r="0.75" fill="#111"/>
<circle cx="55.00" cy="422.21" r="0.75" fill="#111"/>
<circle cx="53.90" cy="411.76" r="0.75" fill="#111"/>
<circle cx="54.21" cy="434.52" r="0.75" fill="#111"/>
<circle cx="54.86" cy="408.84" r="0.75" fill="#111"/>
<circle cx="53.88" cy="440.18" r="0.75" fill="#111"/>
<circle cx="54.10" cy="402.16" r="0.75" fill="#111"/>
<circle cx="53.99" cy="418.61" r="0.75" fill="#111"/>
<circle cx="53.48" cy="439.37" r="0.75" fill="#111"/>
<circle cx="53.31" cy="437.44" r="0.75" fill="#111"/>
<circle cx="54.64" cy="410.09" r="0.75" fill="#111"/>
<line x1="66.12" y1="398.50" x2="66.12" y2="444.60" stroke="#555" stroke-width="0.8"/>
<rect x="61.73" y="414.20" width="8.80" height="13.10" fill="#c8c8c8" fill-opacity="0.95"/>
<line x1="61.73" y1="423.00" x2="70.53" y2="423.00" stroke="#333" stroke-width="1.0"/>
<circle cx="66.73" cy="434.83" r="0.75" fill="#111"/>
<circle cx="66.22" cy="426.62" r="0.75" fill="#111"/>
<circle cx="66.53" cy="424.60" r="0.75" fill="#111"/>
<circle cx="66.32" cy="421.15" r="0.75" fill="#111"/>
<circle cx="66.13" cy="429.00" r="0.75" fill="#111"/>
<circle cx="66.52" cy="431.01" r="0.75" fill="#111"/>
<circle cx="66.35" cy="444.07" r="0.75" fill="#111"/>
<circle cx="65.86" cy="418.52" r="0.75" fill="#111"/>
<circle cx="66.77" cy="422.86" r="0.75" fill="#111"/>
<circle cx="66.40" cy="419.47" r="0.75" fill="#111"/>
<circle cx="64.33" cy="442.25" r="0.75" fill="#111"/>
<circle cx="66.30" cy="411.22" r="0.75" fill="#111"/>
<circle cx="66.29" cy="427.17" r="0.75" fill="#111"/>
<circle cx="66.58" cy="418.48" r="0.75" fill="#111"/>
<circle cx="65.76" cy="425.96" r="0.75" fill="#111"/>
<circle cx="66.37" cy="444.60" r="0.75" fill="#111"/>
<circle cx="66.06" cy="417.19" r="0.75" fill="#111"/>
<circle cx="66.08" cy="420.64" r="0.75" fill="#111"/>
<circle cx="65.78" cy="398.50" r="0.75" fill="#111"/>
<circle cx="65.31" cy="433.57" r="0.75" fill="#111"/>
<circle cx="66.79" cy="422.30" r="0.75" fill="#111"/>
<circle cx="67.17" cy="431.97" r="0.75" fill="#111"/>
<circle cx="65.88" cy="405.17" r="0.75" fill="#111"/>
<circle cx="66.56" cy="419.43" r="0.75" fill="#111"/>
<circle cx="64.25" cy="434.44" r="0.75" fill="#111"/>
<circle cx="65.11" cy="434.41" r="0.75" fill="#111"/>
<circle cx="65.08" cy="430.16" r="0.75" fill="#111"/>
<circle cx="66.96" cy="424.84" r="0.75" fill="#111"/>
<circle cx="66.26" cy="421.44" r="0.75" fill="#111"/>
<circle cx="66.22" cy="431.35" r="0.75" fill="#111"/>
<circle cx="67.20" cy="422.07" r="0.75" fill="#111"/>
<circle cx="65.92" cy="433.99" r="0.75" fill="#111"/>
<circle cx="65.32" cy="444.60" r="0.75" fill="#111"/>
<circle cx="65.94" cy="432.59" r="0.75" fill="#111"/>
<circle cx="66.62" cy="424.39" r="0.75" fill="#111"/>
<line x1="78.05" y1="406.00" x2="78.05" y2="429.00" stroke="#555" stroke-width="0.8"/>
<rect x="73.65" y="411.50" width="8.80" height="12.90" fill="#c8c8c8" fill-opacity="0.95"/>
<line x1="73.65" y1="415.80" x2="82.45" y2="415.80" stroke="#333" stroke-width="1.0"/>
<circle cx="78.50" cy="418.09" r="0.75" fill="#111"/>
<circle cx="77.00" cy="406.00" r="0.75" fill="#111"/>
<circle cx="77.38" cy="422.15" r="0.75" fill="#111"/>
<circle cx="77.03" cy="406.00" r="0.75" fill="#111"/>
<circle cx="78.58" cy="428.87" r="0.75" fill="#111"/>
<circle cx="77.40" cy="429.00" r="0.75" fill="#111"/>
<circle cx="77.26" cy="415.81" r="0.75" fill="#111"/>
<circle cx="79.17" cy="423.71" r="0.75" fill="#111"/>
<circle cx="79.15" cy="406.61" r="0.75" fill="#111"/>
<circle cx="77.93" cy="426.00" r="0.75" fill="#111"/>
<circle cx="79.04" cy="406.00" r="0.75" fill="#111"/>
<line x1="89.98" y1="406.00" x2="89.98" y2="446.00" stroke="#555" stroke-width="0.8"/>
<rect x="85.58" y="423.50" width="8.80" height="13.50" fill="#c8c8c8" fill-opacity="0.95"/>
<line x1="85.58" y1="430.40" x2="94.39" y2="430.40" stroke="#333" stroke-width="1.0"/>
<circle cx="89.56" cy="429.36" r="0.75" fill="#111"/>
<circle cx="90.27" cy="434.72" r="0.75" fill="#111"/>
<circle cx="89.27" cy="446.00" r="0.75" fill="#111"/>
<circle cx="91.03" cy="442.67" r="0.75" fill="#111"/>
<circle cx="89.86" cy="446.00" r="0.75" fill="#111"/>
<circle cx="90.70" cy="422.36" r="0.75" fill="#111"/>
<circle cx="90.07" cy="431.64" r="0.75" fill="#111"/>
<circle cx="89.80" cy="445.78" r="0.75" fill="#111"/>
<circle cx="89.71" cy="406.00" r="0.75" fill="#111"/>
<circle cx="90.56" cy="410.38" r="0.75" fill="#111"/>
<circle cx="89.56" cy="433.82" r="0.75" fill="#111"/>
<circle cx="90.57" cy="430.30" r="0.75" fill="#111"/>
<circle cx="90.91" cy="431.25" r="0.75" fill="#111"/>
<circle cx="90.71" cy="429.74" r="0.75" fill="#111"/>
<circle cx="91.11" cy="446.00" r="0.75" fill="#111"/>
<circle cx="90.60" cy="423.14" r="0.75" fill="#111"/>
<circle cx="89.23" cy="410.14" r="0.75" fill="#111"/>
<circle cx="90.73" cy="409.20" r="0.75" fill="#111"/>
<circle cx="89.98" cy="417.10" r="0.75" fill="#111"/>
<circle cx="89.96" cy="428.32" r="0.75" fill="#111"/>
<circle cx="90.15" cy="424.01" r="0.75" fill="#111"/>
<circle cx="90.02" cy="446.00" r="0.75" fill="#111"/>
<circle cx="90.69" cy="436.13" r="0.75" fill="#111"/>
<circle cx="89.10" cy="428.26" r="0.75" fill="#111"/>
<circle cx="90.74" cy="424.40" r="0.75" fill="#111"/>
<circle cx="89.57" cy="412.62" r="0.75" fill="#111"/>
<circle cx="90.54" cy="441.28" r="0.75" fill="#111"/>
<circle cx="90.55" cy="430.48" r="0.75" fill="#111"/>
<circle cx="89.16" cy="432.19" r="0.75" fill="#111"/>
<line x1="101.91" y1="422.00" x2="101.91" y2="440.40" stroke="#555" stroke-width="0.8"/>
<rect x="97.51" y="425.40" width="8.80" height="10.00" fill="#c8c8c8" fill-opacity="0.95"/>
<line x1="97.51" y1="431.50" x2="106.31" y2="431.50" stroke="#333" stroke-width="1.0"/>
<circle cx="101.47" cy="422.00" r="0.75" fill="#111"/>
<circle cx="101.52" cy="438.88" r="0.75" fill="#111"/>
<circle cx="101.38" cy="424.28" r="0.75" fill="#111"/>
<circle cx="101.83" cy="422.00" r="0.75" fill="#111"/>
<circle cx="102.17" cy="422.06" r="0.75" fill="#111"/>
<circle cx="102.14" cy="422.00" r="0.75" fill="#111"/>
<circle cx="100.56" cy="426.37" r="0.75" fill="#111"/>
<circle cx="101.72" cy="437.30" r="0.75" fill="#111"/>
<circle cx="101.30" cy="422.00" r="0.75" fill="#111"/>
<circle cx="101.59" cy="433.83" r="0.75" fill="#111"/>
<circle cx="102.44" cy="437.74" r="0.75" fill="#111"/>
<line x1="113.84" y1="393.00" x2="113.84" y2="402.70" stroke="#555" stroke-width="0.8"/>
<rect x="109.44" y="395.60" width="8.80" height="5.20" fill="#a01424"/>
<line x1="109.44" y1="398.00" x2="118.25" y2="398.00" stroke="#3a0008" stroke-width="1.0"/>
<circle cx="114.07" cy="400.77" r="0.75" fill="#111"/>
<line x1="125.77" y1="399.40" x2="125.77" y2="421.20" stroke="#555" stroke-width="0.8"/>
<rect x="121.37" y="400.80" width="8.80" height="10.70" fill="#e8900c"/>
<line x1="121.37" y1="403.30" x2="130.17" y2="403.30" stroke="#333" stroke-width="1.0"/>
<circle cx="126.24" cy="414.72" r="0.75" fill="#111"/>
<circle cx="124.32" cy="407.16" r="0.75" fill="#111"/>
<line x1="137.70" y1="403.80" x2="137.70" y2="434.00" stroke="#555" stroke-width="0.8"/>
<rect x="133.30" y="411.50" width="8.80" height="14.80" fill="#c9c9c9"/>
<line x1="133.30" y1="418.70" x2="142.10" y2="418.70" stroke="#333" stroke-width="1.0"/>
<circle cx="78.05" cy="384.20" r="0.7" fill="#222"/>
<circle cx="89.98" cy="397.50" r="0.7" fill="#222"/>
<circle cx="101.91" cy="397.50" r="0.7" fill="#222"/>
<circle cx="113.34" cy="393.20" r="0.7" fill="#222"/>
<circle cx="125.77" cy="399.50" r="0.7" fill="#222"/>
<rect x="36.30" y="449.80" width="11.92" height="11.30" fill="#dde8f4"/>
<rect x="48.20" y="449.80" width="11.92" height="11.30" fill="#eef2f8"/>
<rect x="60.10" y="449.80" width="11.92" height="11.30" fill="#dde8f4"/>
<rect x="72.00" y="449.80" width="11.92" height="11.30" fill="#fcece4"/>
<rect x="83.90" y="449.80" width="11.92" height="11.30" fill="#90b8dc"/>
<rect x="95.80" y="449.80" width="11.92" height="11.30" fill="#90b8dc"/>
<rect x="107.70" y="449.80" width="11.92" height="11.30" fill="#c83030"/>
<rect x="119.60" y="449.80" width="11.92" height="11.30" fill="#e07058"/>
<rect x="131.50" y="449.80" width="11.92" height="11.30" fill="#f6f6f6"/>
<text x="146.80" y="458.14" font-size="7.4" text-anchor="start" fill="#333" stroke="#333" stroke-width="0.08" font-style="italic" textLength="23.26" lengthAdjust="spacingAndGlyphs">BCL2L1</text>
<rect x="36.30" y="461.08" width="11.92" height="11.30" fill="#f0a080"/>
<rect x="48.20" y="461.08" width="11.92" height="11.30" fill="#fad8c8"/>
<rect x="60.10" y="461.08" width="11.92" height="11.30" fill="#eef2f8"/>
<rect x="72.00" y="461.08" width="11.92" height="11.30" fill="#f9d0bc"/>
<rect x="83.90" y="461.08" width="11.92" height="11.30" fill="#dce8f4"/>
<rect x="95.80" y="461.08" width="11.92" height="11.30" fill="#1a4a90"/>
<rect x="107.70" y="461.08" width="11.92" height="11.30" fill="#eef2f8"/>
<rect x="119.60" y="461.08" width="11.92" height="11.30" fill="#f09070"/>
<rect x="131.50" y="461.08" width="11.92" height="11.30" fill="#f8f4f4"/>
<text x="146.80" y="469.42" font-size="7.4" text-anchor="start" fill="#333" stroke="#333" stroke-width="0.08" font-style="italic" textLength="16.10" lengthAdjust="spacingAndGlyphs">BCL2</text>
<rect x="36.30" y="472.36" width="11.92" height="11.30" fill="#dce8f4"/>
<rect x="48.20" y="472.36" width="11.92" height="11.30" fill="#fbeae4"/>
<rect x="60.10" y="472.36" width="11.92" height="11.30" fill="#eaf0f6"/>
<rect x="72.00" y="472.36" width="11.92" height="11.30" fill="#fce8e0"/>
<rect x="83.90" y="472.36" width="11.92" height="11.30" fill="#f9d0bc"/>
<rect x="95.80" y="472.36" width="11.92" height="11.30" fill="#e06048"/>
<rect x="107.70" y="472.36" width="11.92" height="11.30" fill="#eaf0f6"/>
<rect x="119.60" y="472.36" width="11.92" height="11.30" fill="#1a4e94"/>
<rect x="131.50" y="472.36" width="11.92" height="11.30" fill="#fce0d4"/>
<text x="146.80" y="480.70" font-size="7.4" text-anchor="start" fill="#333" stroke="#333" stroke-width="0.08" font-style="italic" textLength="17.17" lengthAdjust="spacingAndGlyphs">MCL1</text>
<rect x="36.30" y="483.64" width="11.92" height="11.30" fill="#fcece4"/>
<rect x="48.20" y="483.64" width="11.92" height="11.30" fill="#fbe4d8"/>
<rect x="60.10" y="483.64" width="11.92" height="11.30" fill="#fce8e0"/>
<rect x="72.00" y="483.64" width="11.92" height="11.30" fill="#fbe0d4"/>
<rect x="83.90" y="483.64" width="11.92" height="11.30" fill="#f8f4f4"/>
<rect x="95.80" y="483.64" width="11.92" height="11.30" fill="#f8f4f4"/>
<rect x="107.70" y="483.64" width="11.92" height="11.30" fill="#1a4e94"/>
<rect x="119.60" y="483.64" width="11.92" height="11.30" fill="#a8cce8"/>
<rect x="131.50" y="483.64" width="11.92" height="11.30" fill="#e06048"/>
<text x="146.80" y="491.98" font-size="7.4" text-anchor="start" fill="#333" stroke="#333" stroke-width="0.08" font-style="italic" textLength="23.26" lengthAdjust="spacingAndGlyphs">BCL2L2</text>
<rect x="36.30" y="494.92" width="11.92" height="11.30" fill="#f6f4f6"/>
<rect x="48.20" y="494.92" width="11.92" height="11.30" fill="#e4eef6"/>
<rect x="60.10" y="494.92" width="11.92" height="11.30" fill="#fce8e0"/>
<rect x="72.00" y="494.92" width="11.92" height="11.30" fill="#15326a"/>
<rect x="83.90" y="494.92" width="11.92" height="11.30" fill="#f4a888"/>
<rect x="95.80" y="494.92" width="11.92" height="11.30" fill="#f9c8b0"/>
<rect x="107.70" y="494.92" width="11.92" height="11.30" fill="#fce8e0"/>
<rect x="119.60" y="494.92" width="11.92" height="11.30" fill="#f4f4f6"/>
<rect x="131.50" y="494.92" width="11.92" height="11.30" fill="#eef2f8"/>
<text x="146.80" y="503.26" font-size="7.4" text-anchor="start" fill="#333" stroke="#333" stroke-width="0.08" font-style="italic" textLength="23.98" lengthAdjust="spacingAndGlyphs">BCL2A1</text>
<text x="45.06" y="515.00" font-size="7.3" text-anchor="end" fill="#333" stroke="#333" stroke-width="0.08" transform="rotate(-45 45.06 515.00)">M0</text>
<text x="56.99" y="515.00" font-size="7.3" text-anchor="end" fill="#333" stroke="#333" stroke-width="0.08" transform="rotate(-45 56.99 515.00)">M1</text>
<text x="68.92" y="515.00" font-size="7.3" text-anchor="end" fill="#333" stroke="#333" stroke-width="0.08" transform="rotate(-45 68.92 515.00)">M2</text>
<text x="80.85" y="515.00" font-size="7.3" text-anchor="end" fill="#333" stroke="#333" stroke-width="0.08" transform="rotate(-45 80.85 515.00)">M3</text>
<text x="92.78" y="515.00" font-size="7.3" text-anchor="end" fill="#333" stroke="#333" stroke-width="0.08" transform="rotate(-45 92.78 515.00)">M4</text>
<text x="104.71" y="515.00" font-size="7.3" text-anchor="end" fill="#333" stroke="#333" stroke-width="0.08" transform="rotate(-45 104.71 515.00)">M5</text>
<text x="116.64" y="515.00" font-size="7.3" text-anchor="end" fill="#333" stroke="#333" stroke-width="0.08" transform="rotate(-45 116.64 515.00)">M6</text>
<text x="128.57" y="515.00" font-size="7.3" text-anchor="end" fill="#333" stroke="#333" stroke-width="0.08" transform="rotate(-45 128.57 515.00)">M7</text>
<text x="140.50" y="515.00" font-size="7.3" text-anchor="end" fill="#333" stroke="#333" stroke-width="0.08" transform="rotate(-45 140.50 515.00)">Unclassified</text>
<text x="148.80" y="405.20" font-size="7.2" text-anchor="start" fill="#333" stroke="#333" stroke-width="0.08">Z&#8722;score</text>
<rect x="148.80" y="410.40" width="6.60" height="34.20" fill="url(#rdbu)"/>
<text x="157.50" y="414.50" font-size="7.0" text-anchor="start" fill="#333" stroke="#333" stroke-width="0.08">4</text>
<text x="157.50" y="422.50" font-size="7.0" text-anchor="start" fill="#333" stroke="#333" stroke-width="0.08">2</text>
<text x="157.50" y="429.80" font-size="7.0" text-anchor="start" fill="#333" stroke="#333" stroke-width="0.08">0</text>
<text x="156.20" y="437.10" font-size="7.0" text-anchor="start" fill="#333" stroke="#333" stroke-width="0.08">&#8722;2</text>
<text x="156.20" y="444.80" font-size="7.0" text-anchor="start" fill="#333" stroke="#333" stroke-width="0.08">&#8722;4</text>
<text x="186.00" y="377.30" font-size="12.5" text-anchor="start" fill="#000" font-weight="bold">D</text>
<text x="305.50" y="383.60" font-size="7.4" text-anchor="start" fill="#333" stroke="#333" stroke-width="0.08" textLength="132.4" lengthAdjust="spacingAndGlyphs">Hematological malignancies (Hemap)</text>
<line x1="226.80" y1="388.80" x2="226.80" y2="498.40" stroke="#231f20" stroke-width="1.6"/>
<line x1="226.80" y1="497.60" x2="516.00" y2="497.60" stroke="#231f20" stroke-width="1.6"/>
<line x1="224.30" y1="497.40" x2="226.80" y2="497.40" stroke="#231f20" stroke-width="1.0"/>
<text x="221.00" y="499.90" font-size="7.0" text-anchor="end" fill="#444" stroke="#444" stroke-width="0.08">4</text>
<line x1="224.30" y1="466.70" x2="226.80" y2="466.70" stroke="#231f20" stroke-width="1.0"/>
<text x="221.00" y="469.20" font-size="7.0" text-anchor="end" fill="#444" stroke="#444" stroke-width="0.08">6</text>
<line x1="224.30" y1="436.00" x2="226.80" y2="436.00" stroke="#231f20" stroke-width="1.0"/>
<text x="221.00" y="438.50" font-size="7.0" text-anchor="end" fill="#444" stroke="#444" stroke-width="0.08">8</text>
<line x1="224.30" y1="405.30" x2="226.80" y2="405.30" stroke="#231f20" stroke-width="1.0"/>
<text x="221.00" y="407.80" font-size="7.0" text-anchor="end" fill="#444" stroke="#444" stroke-width="0.08">10</text>
<text x="209.20" y="443.10" font-size="8.2" text-anchor="middle" fill="#333" stroke="#333" stroke-width="0.08" transform="rotate(-90 209.20 443.10)" textLength="80.6" lengthAdjust="spacingAndGlyphs"><tspan font-style="italic">BCL2L1</tspan> expression (log2)</text>
<text x="280.80" y="404.80" font-size="7.2" text-anchor="start" fill="#333" stroke="#333" stroke-width="0.08"><tspan font-style="italic">P</tspan> = .00005</text>
<rect x="229.30" y="463.63" width="6.6" height="13.05" fill="#c4c4c4" fill-opacity="0.75"/>
<line x1="229.10" y1="470.54" x2="236.10" y2="470.54" stroke="#111" stroke-width="1.1"/>
<rect x="238.60" y="459.79" width="6.6" height="11.51" fill="#c4c4c4" fill-opacity="0.75"/>
<line x1="238.41" y1="465.93" x2="245.41" y2="465.93" stroke="#111" stroke-width="1.1"/>
<rect x="247.91" y="457.49" width="6.6" height="12.28" fill="#c4c4c4" fill-opacity="0.75"/>
<line x1="247.71" y1="464.40" x2="254.71" y2="464.40" stroke="#111" stroke-width="1.1"/>
<rect x="257.21" y="463.63" width="6.6" height="6.91" fill="#c4c4c4" fill-opacity="0.75"/>
<line x1="257.01" y1="466.70" x2="264.01" y2="466.70" stroke="#111" stroke-width="1.1"/>
<rect x="266.52" y="466.70" width="6.6" height="8.44" fill="#c4c4c4" fill-opacity="0.75"/>
<line x1="266.32" y1="470.54" x2="273.32" y2="470.54" stroke="#111" stroke-width="1.1"/>
<rect x="275.82" y="465.93" width="6.6" height="9.98" fill="#c4c4c4" fill-opacity="0.75"/>
<line x1="275.62" y1="471.30" x2="282.62" y2="471.30" stroke="#111" stroke-width="1.1"/>
<rect x="285.13" y="468.23" width="6.6" height="6.14" fill="#c4c4c4" fill-opacity="0.75"/>
<line x1="284.93" y1="471.30" x2="291.93" y2="471.30" stroke="#111" stroke-width="1.1"/>
<rect x="313.05" y="460.25" width="6.6" height="8.60" fill="#c4c4c4" fill-opacity="0.75"/>
<line x1="312.85" y1="464.09" x2="319.85" y2="464.09" stroke="#111" stroke-width="1.1"/>
<rect x="322.35" y="459.02" width="6.6" height="10.75" fill="#c4c4c4" fill-opacity="0.75"/>
<line x1="322.15" y1="464.40" x2="329.15" y2="464.40" stroke="#111" stroke-width="1.1"/>
<rect x="331.65" y="471.30" width="6.6" height="7.68" fill="#c4c4c4" fill-opacity="0.75"/>
<line x1="331.45" y1="475.60" x2="338.45" y2="475.60" stroke="#111" stroke-width="1.1"/>
<rect x="340.96" y="459.79" width="6.6" height="10.75" fill="#c4c4c4" fill-opacity="0.75"/>
<line x1="340.76" y1="465.16" x2="347.76" y2="465.16" stroke="#111" stroke-width="1.1"/>
<rect x="350.26" y="459.02" width="6.6" height="10.75" fill="#c4c4c4" fill-opacity="0.75"/>
<line x1="350.06" y1="464.09" x2="357.06" y2="464.09" stroke="#111" stroke-width="1.1"/>
<rect x="359.57" y="455.95" width="6.6" height="11.51" fill="#c4c4c4" fill-opacity="0.75"/>
<line x1="359.37" y1="462.09" x2="366.37" y2="462.09" stroke="#111" stroke-width="1.1"/>
<rect x="368.87" y="466.70" width="6.6" height="2.30" fill="#c4c4c4" fill-opacity="0.75"/>
<line x1="368.67" y1="467.93" x2="375.67" y2="467.93" stroke="#111" stroke-width="1.1"/>
<rect x="378.18" y="459.02" width="6.6" height="12.28" fill="#c4c4c4" fill-opacity="0.75"/>
<line x1="377.98" y1="466.70" x2="384.98" y2="466.70" stroke="#111" stroke-width="1.1"/>
<rect x="387.48" y="465.16" width="6.6" height="8.44" fill="#c4c4c4" fill-opacity="0.75"/>
<line x1="387.28" y1="470.08" x2="394.28" y2="470.08" stroke="#111" stroke-width="1.1"/>
<rect x="396.79" y="466.70" width="6.6" height="7.68" fill="#c4c4c4" fill-opacity="0.75"/>
<line x1="396.59" y1="471.00" x2="403.59" y2="471.00" stroke="#111" stroke-width="1.1"/>
<rect x="406.09" y="466.70" width="6.6" height="3.07" fill="#c4c4c4" fill-opacity="0.75"/>
<line x1="405.89" y1="468.23" x2="412.89" y2="468.23" stroke="#111" stroke-width="1.1"/>
<rect x="415.40" y="465.93" width="6.6" height="9.21" fill="#c4c4c4" fill-opacity="0.75"/>
<line x1="415.20" y1="471.30" x2="422.20" y2="471.30" stroke="#111" stroke-width="1.1"/>
<rect x="424.70" y="471.30" width="6.6" height="3.07" fill="#c4c4c4" fill-opacity="0.75"/>
<line x1="424.50" y1="472.84" x2="431.50" y2="472.84" stroke="#111" stroke-width="1.1"/>
<rect x="434.01" y="462.09" width="6.6" height="8.44" fill="#c4c4c4" fill-opacity="0.75"/>
<line x1="433.81" y1="465.93" x2="440.81" y2="465.93" stroke="#111" stroke-width="1.1"/>
<rect x="443.31" y="470.54" width="6.6" height="6.91" fill="#c4c4c4" fill-opacity="0.75"/>
<line x1="443.12" y1="474.38" x2="450.12" y2="474.38" stroke="#111" stroke-width="1.1"/>
<rect x="452.62" y="455.19" width="6.6" height="10.75" fill="#c4c4c4" fill-opacity="0.75"/>
<line x1="452.42" y1="460.56" x2="459.42" y2="460.56" stroke="#111" stroke-width="1.1"/>
<rect x="461.93" y="451.35" width="6.6" height="15.35" fill="#c4c4c4" fill-opacity="0.75"/>
<line x1="461.73" y1="460.56" x2="468.73" y2="460.56" stroke="#111" stroke-width="1.1"/>
<rect x="471.23" y="459.02" width="6.6" height="6.91" fill="#c4c4c4" fill-opacity="0.75"/>
<line x1="471.03" y1="462.09" x2="478.03" y2="462.09" stroke="#111" stroke-width="1.1"/>
<rect x="480.53" y="460.56" width="6.6" height="7.68" fill="#c4c4c4" fill-opacity="0.75"/>
<line x1="480.33" y1="462.86" x2="487.33" y2="462.86" stroke="#111" stroke-width="1.1"/>
<rect x="489.84" y="459.79" width="6.6" height="11.51" fill="#c4c4c4" fill-opacity="0.75"/>
<line x1="489.64" y1="465.16" x2="496.64" y2="465.16" stroke="#111" stroke-width="1.1"/>
<rect x="499.14" y="455.95" width="6.6" height="1.54" fill="#c4c4c4" fill-opacity="0.75"/>
<line x1="498.94" y1="456.72" x2="505.94" y2="456.72" stroke="#111" stroke-width="1.1"/>
<rect x="508.45" y="460.56" width="6.6" height="3.07" fill="#c4c4c4" fill-opacity="0.75"/>
<line x1="508.25" y1="462.09" x2="515.25" y2="462.09" stroke="#111" stroke-width="1.1"/>
<path d="M231.8 466.4h.9v.9h-.9zM233.3 481.0h.9v.9h-.9zM232.6 457.6h.9v.9h-.9zM233.4 472.7h.9v.9h-.9zM232.3 455.8h.9v.9h-.9zM232.2 463.8h.9v.9h-.9zM232.5 479.7h.9v.9h-.9zM232.2 468.5h.9v.9h-.9zM233.7 473.2h.9v.9h-.9zM233.8 470.7h.9v.9h-.9zM233.3 470.2h.9v.9h-.9zM231.7 466.7h.9v.9h-.9zM232.3 449.5h.9v.9h-.9zM233.4 457.4h.9v.9h-.9zM231.5 471.5h.9v.9h-.9zM232.4 473.5h.9v.9h-.9zM233.1 452.9h.9v.9h-.9zM233.4 463.3h.9v.9h-.9zM232.3 460.9h.9v.9h-.9zM233.5 476.6h.9v.9h-.9zM232.1 459.2h.9v.9h-.9zM231.9 458.6h.9v.9h-.9zM232.1 467.1h.9v.9h-.9zM232.2 476.6h.9v.9h-.9zM231.5 473.5h.9v.9h-.9zM231.6 459.4h.9v.9h-.9zM232.5 475.0h.9v.9h-.9zM231.6 472.0h.9v.9h-.9zM233.2 478.3h.9v.9h-.9zM232.6 464.0h.9v.9h-.9zM233.2 477.2h.9v.9h-.9zM232.9 471.3h.9v.9h-.9zM231.7 468.0h.9v.9h-.9zM233.2 466.9h.9v.9h-.9zM233.4 467.6h.9v.9h-.9zM233.0 473.2h.9v.9h-.9zM232.5 470.0h.9v.9h-.9zM232.5 459.4h.9v.9h-.9zM232.6 443.7h.9v.9h-.9zM233.6 462.0h.9v.9h-.9zM232.3 470.2h.9v.9h-.9zM232.6 470.1h.9v.9h-.9zM232.0 469.2h.9v.9h-.9zM232.4 470.5h.9v.9h-.9zM232.1 459.2h.9v.9h-.9zM232.7 471.4h.9v.9h-.9zM233.4 476.9h.9v.9h-.9zM232.3 452.7h.9v.9h-.9zM232.9 477.4h.9v.9h-.9zM233.1 453.1h.9v.9h-.9zM233.1 478.8h.9v.9h-.9zM232.6 454.9h.9v.9h-.9zM233.2 477.2h.9v.9h-.9zM233.1 481.9h.9v.9h-.9zM231.5 472.4h.9v.9h-.9zM232.3 461.4h.9v.9h-.9zM232.9 461.7h.9v.9h-.9zM232.9 478.5h.9v.9h-.9zM232.9 446.5h.9v.9h-.9zM232.7 470.8h.9v.9h-.9zM232.2 481.4h.9v.9h-.9zM232.1 461.7h.9v.9h-.9zM233.7 473.9h.9v.9h-.9zM232.4 449.4h.9v.9h-.9zM232.9 461.3h.9v.9h-.9zM232.0 481.9h.9v.9h-.9zM232.1 470.0h.9v.9h-.9zM232.0 482.6h.9v.9h-.9zM233.1 468.2h.9v.9h-.9zM232.3 481.3h.9v.9h-.9zM231.9 478.5h.9v.9h-.9zM231.9 472.3h.9v.9h-.9zM232.5 471.8h.9v.9h-.9zM233.7 471.1h.9v.9h-.9zM233.7 469.5h.9v.9h-.9zM232.8 461.4h.9v.9h-.9zM232.3 443.7h.9v.9h-.9zM232.6 473.3h.9v.9h-.9zM233.6 472.1h.9v.9h-.9zM231.6 461.2h.9v.9h-.9zM232.2 455.9h.9v.9h-.9zM232.2 469.8h.9v.9h-.9zM233.2 470.1h.9v.9h-.9zM231.7 470.9h.9v.9h-.9zM232.1 474.2h.9v.9h-.9zM232.5 443.7h.9v.9h-.9zM232.5 476.4h.9v.9h-.9zM231.6 463.8h.9v.9h-.9zM233.6 464.9h.9v.9h-.9zM232.1 461.0h.9v.9h-.9zM233.7 473.1h.9v.9h-.9zM233.2 477.1h.9v.9h-.9zM232.7 485.1h.9v.9h-.9zM231.9 479.5h.9v.9h-.9zM232.8 482.1h.9v.9h-.9zM231.6 463.7h.9v.9h-.9zM232.3 476.3h.9v.9h-.9zM233.1 459.6h.9v.9h-.9zM232.1 471.2h.9v.9h-.9zM232.4 481.2h.9v.9h-.9zM233.6 465.7h.9v.9h-.9zM232.0 462.7h.9v.9h-.9zM232.0 478.5h.9v.9h-.9zM231.6 470.2h.9v.9h-.9zM232.1 462.2h.9v.9h-.9zM233.5 473.5h.9v.9h-.9zM232.6 477.0h.9v.9h-.9zM232.2 463.3h.9v.9h-.9zM231.7 464.5h.9v.9h-.9zM232.7 485.1h.9v.9h-.9zM232.0 471.8h.9v.9h-.9zM232.5 460.1h.9v.9h-.9zM231.8 479.1h.9v.9h-.9zM232.9 448.3h.9v.9h-.9zM231.8 480.1h.9v.9h-.9zM233.6 467.6h.9v.9h-.9zM232.3 482.5h.9v.9h-.9zM232.3 443.7h.9v.9h-.9zM233.0 477.7h.9v.9h-.9zM232.9 485.1h.9v.9h-.9zM233.3 466.9h.9v.9h-.9zM233.6 469.3h.9v.9h-.9zM232.0 471.8h.9v.9h-.9zM233.1 474.1h.9v.9h-.9zM232.7 455.7h.9v.9h-.9zM232.0 463.5h.9v.9h-.9zM232.5 476.7h.9v.9h-.9zM233.0 470.9h.9v.9h-.9zM232.1 475.8h.9v.9h-.9zM233.1 471.4h.9v.9h-.9zM232.9 454.9h.9v.9h-.9zM232.0 468.4h.9v.9h-.9zM231.6 475.2h.9v.9h-.9zM232.4 466.2h.9v.9h-.9zM233.1 474.7h.9v.9h-.9zM232.2 482.9h.9v.9h-.9zM232.0 475.6h.9v.9h-.9zM232.9 447.5h.9v.9h-.9zM232.1 455.5h.9v.9h-.9zM232.4 465.9h.9v.9h-.9zM232.4 474.4h.9v.9h-.9zM233.7 468.1h.9v.9h-.9zM232.3 466.1h.9v.9h-.9zM233.5 471.4h.9v.9h-.9zM232.4 485.1h.9v.9h-.9zM233.7 470.1h.9v.9h-.9zM232.4 481.1h.9v.9h-.9zM232.2 466.6h.9v.9h-.9zM232.3 459.7h.9v.9h-.9zM231.7 470.6h.9v.9h-.9zM233.4 472.3h.9v.9h-.9zM232.5 477.1h.9v.9h-.9zM233.4 457.7h.9v.9h-.9zM232.3 468.4h.9v.9h-.9zM233.2 477.9h.9v.9h-.9zM231.5 472.0h.9v.9h-.9zM231.7 442.4h.9v.9h-.9zM232.1 411.2h.9v.9h-.9zM233.4 417.3h.9v.9h-.9zM232.1 431.7h.9v.9h-.9zM242.5 471.0h.9v.9h-.9zM241.3 459.7h.9v.9h-.9zM242.3 465.0h.9v.9h-.9zM241.4 483.6h.9v.9h-.9zM242.3 442.1h.9v.9h-.9zM241.2 461.3h.9v.9h-.9zM241.6 442.1h.9v.9h-.9zM242.6 466.8h.9v.9h-.9zM241.4 467.7h.9v.9h-.9zM241.7 449.8h.9v.9h-.9zM242.6 471.1h.9v.9h-.9zM240.6 462.2h.9v.9h-.9zM243.1 455.9h.9v.9h-.9zM243.4 468.5h.9v.9h-.9zM241.9 461.3h.9v.9h-.9zM241.7 467.9h.9v.9h-.9zM242.3 451.6h.9v.9h-.9zM242.8 472.1h.9v.9h-.9zM241.5 478.2h.9v.9h-.9zM241.7 477.6h.9v.9h-.9zM241.1 468.0h.9v.9h-.9zM242.9 457.4h.9v.9h-.9zM243.3 470.0h.9v.9h-.9zM241.3 473.8h.9v.9h-.9zM241.4 481.4h.9v.9h-.9zM242.2 442.1h.9v.9h-.9zM241.3 468.1h.9v.9h-.9zM241.0 464.2h.9v.9h-.9zM241.8 483.6h.9v.9h-.9zM241.8 476.1h.9v.9h-.9zM240.8 460.9h.9v.9h-.9zM242.0 483.6h.9v.9h-.9zM241.0 461.5h.9v.9h-.9zM242.2 461.1h.9v.9h-.9zM241.4 466.3h.9v.9h-.9zM240.9 467.2h.9v.9h-.9zM242.0 459.8h.9v.9h-.9zM241.3 445.6h.9v.9h-.9zM241.2 449.8h.9v.9h-.9zM242.5 460.7h.9v.9h-.9zM243.3 463.8h.9v.9h-.9zM242.1 456.0h.9v.9h-.9zM242.6 445.4h.9v.9h-.9zM241.2 454.0h.9v.9h-.9zM243.1 466.2h.9v.9h-.9zM242.9 464.7h.9v.9h-.9zM241.1 456.1h.9v.9h-.9zM242.0 457.1h.9v.9h-.9zM242.3 469.1h.9v.9h-.9zM241.9 463.2h.9v.9h-.9zM243.2 462.9h.9v.9h-.9zM241.9 451.8h.9v.9h-.9zM240.9 471.7h.9v.9h-.9zM243.4 467.1h.9v.9h-.9zM241.8 442.1h.9v.9h-.9zM242.2 472.6h.9v.9h-.9zM241.2 474.2h.9v.9h-.9zM242.5 448.3h.9v.9h-.9zM241.6 468.5h.9v.9h-.9zM241.6 471.6h.9v.9h-.9zM243.1 465.6h.9v.9h-.9zM242.0 446.8h.9v.9h-.9zM241.4 482.3h.9v.9h-.9zM242.0 469.9h.9v.9h-.9zM242.1 469.1h.9v.9h-.9zM242.3 454.3h.9v.9h-.9zM242.3 463.5h.9v.9h-.9zM241.1 465.0h.9v.9h-.9zM240.9 467.8h.9v.9h-.9zM241.1 453.0h.9v.9h-.9zM241.7 461.2h.9v.9h-.9zM240.5 467.6h.9v.9h-.9zM242.4 478.4h.9v.9h-.9zM240.8 473.0h.9v.9h-.9zM241.4 481.5h.9v.9h-.9zM242.6 481.0h.9v.9h-.9zM243.3 468.2h.9v.9h-.9zM243.2 458.8h.9v.9h-.9zM242.9 473.8h.9v.9h-.9zM241.7 447.9h.9v.9h-.9zM241.4 476.1h.9v.9h-.9zM241.4 481.7h.9v.9h-.9zM241.3 471.2h.9v.9h-.9zM241.4 468.8h.9v.9h-.9zM243.2 463.0h.9v.9h-.9zM243.0 470.7h.9v.9h-.9zM242.0 464.7h.9v.9h-.9zM241.5 470.2h.9v.9h-.9zM242.7 476.9h.9v.9h-.9zM243.3 460.6h.9v.9h-.9zM241.5 478.4h.9v.9h-.9zM242.1 475.7h.9v.9h-.9zM240.9 464.8h.9v.9h-.9zM240.9 475.4h.9v.9h-.9zM243.4 466.2h.9v.9h-.9zM242.2 478.5h.9v.9h-.9zM240.9 462.8h.9v.9h-.9zM241.7 466.0h.9v.9h-.9zM241.1 469.7h.9v.9h-.9zM240.5 468.8h.9v.9h-.9zM241.5 462.5h.9v.9h-.9zM242.2 461.5h.9v.9h-.9zM241.8 469.4h.9v.9h-.9zM242.7 450.0h.9v.9h-.9zM242.3 462.8h.9v.9h-.9zM242.7 469.1h.9v.9h-.9zM242.3 465.8h.9v.9h-.9zM241.4 467.3h.9v.9h-.9zM242.1 483.6h.9v.9h-.9zM242.9 456.2h.9v.9h-.9zM241.3 454.0h.9v.9h-.9zM242.7 463.5h.9v.9h-.9zM241.5 442.1h.9v.9h-.9zM242.2 457.0h.9v.9h-.9zM241.2 476.1h.9v.9h-.9zM241.6 449.0h.9v.9h-.9zM242.3 450.0h.9v.9h-.9zM242.6 452.6h.9v.9h-.9zM241.8 480.1h.9v.9h-.9zM240.7 461.7h.9v.9h-.9zM242.5 455.5h.9v.9h-.9zM242.9 467.9h.9v.9h-.9zM241.7 467.1h.9v.9h-.9zM242.0 477.1h.9v.9h-.9zM241.5 446.6h.9v.9h-.9zM241.3 483.6h.9v.9h-.9zM243.3 464.2h.9v.9h-.9zM241.6 480.4h.9v.9h-.9zM243.1 469.0h.9v.9h-.9zM242.4 471.7h.9v.9h-.9zM242.6 475.8h.9v.9h-.9zM243.0 467.2h.9v.9h-.9zM241.3 463.5h.9v.9h-.9zM242.1 450.7h.9v.9h-.9zM240.6 460.3h.9v.9h-.9zM243.2 462.4h.9v.9h-.9zM240.5 464.1h.9v.9h-.9zM242.3 467.6h.9v.9h-.9zM242.2 466.2h.9v.9h-.9zM242.8 461.6h.9v.9h-.9zM243.0 468.5h.9v.9h-.9zM243.2 468.0h.9v.9h-.9zM240.5 464.3h.9v.9h-.9zM242.8 470.1h.9v.9h-.9zM241.3 471.6h.9v.9h-.9zM241.1 451.0h.9v.9h-.9zM241.7 468.1h.9v.9h-.9zM241.3 455.9h.9v.9h-.9zM241.4 463.5h.9v.9h-.9zM241.9 474.2h.9v.9h-.9zM241.6 467.6h.9v.9h-.9zM242.7 463.9h.9v.9h-.9zM241.1 461.8h.9v.9h-.9zM241.1 476.5h.9v.9h-.9zM241.0 466.1h.9v.9h-.9zM243.4 466.3h.9v.9h-.9zM242.5 452.1h.9v.9h-.9zM241.9 465.1h.9v.9h-.9zM243.2 461.4h.9v.9h-.9zM241.1 457.9h.9v.9h-.9zM242.3 470.2h.9v.9h-.9zM242.8 465.9h.9v.9h-.9zM241.5 468.8h.9v.9h-.9zM241.7 449.7h.9v.9h-.9zM241.3 481.8h.9v.9h-.9zM241.4 453.1h.9v.9h-.9zM242.8 474.6h.9v.9h-.9zM241.8 465.8h.9v.9h-.9zM242.4 466.3h.9v.9h-.9zM241.6 446.0h.9v.9h-.9zM242.5 456.3h.9v.9h-.9zM241.8 451.3h.9v.9h-.9zM241.8 470.0h.9v.9h-.9zM241.1 468.1h.9v.9h-.9zM242.9 460.0h.9v.9h-.9zM241.3 448.4h.9v.9h-.9zM241.0 459.2h.9v.9h-.9zM241.2 453.1h.9v.9h-.9zM243.3 466.5h.9v.9h-.9zM241.6 460.5h.9v.9h-.9zM241.7 469.9h.9v.9h-.9zM242.1 447.4h.9v.9h-.9zM240.5 462.7h.9v.9h-.9zM242.6 454.6h.9v.9h-.9zM241.8 478.4h.9v.9h-.9zM242.2 465.9h.9v.9h-.9zM241.7 464.5h.9v.9h-.9zM242.2 483.6h.9v.9h-.9zM243.1 463.4h.9v.9h-.9zM242.2 479.9h.9v.9h-.9zM241.8 471.3h.9v.9h-.9zM242.1 450.5h.9v.9h-.9zM242.3 447.8h.9v.9h-.9zM241.3 473.4h.9v.9h-.9zM241.7 450.0h.9v.9h-.9zM243.2 469.4h.9v.9h-.9zM241.6 454.3h.9v.9h-.9zM242.7 448.9h.9v.9h-.9zM242.7 459.1h.9v.9h-.9zM242.0 467.3h.9v.9h-.9zM242.4 452.7h.9v.9h-.9zM242.3 470.9h.9v.9h-.9zM242.9 474.9h.9v.9h-.9zM242.5 464.3h.9v.9h-.9zM243.4 465.4h.9v.9h-.9zM240.7 459.9h.9v.9h-.9zM241.7 464.4h.9v.9h-.9zM242.5 464.8h.9v.9h-.9zM242.6 465.1h.9v.9h-.9zM242.0 472.2h.9v.9h-.9zM241.1 462.2h.9v.9h-.9zM242.6 454.7h.9v.9h-.9zM242.1 472.5h.9v.9h-.9zM243.1 455.9h.9v.9h-.9zM242.6 451.8h.9v.9h-.9zM241.5 449.1h.9v.9h-.9zM241.6 477.7h.9v.9h-.9zM241.5 477.8h.9v.9h-.9zM240.9 465.7h.9v.9h-.9zM242.4 453.4h.9v.9h-.9zM241.8 465.6h.9v.9h-.9zM242.2 455.9h.9v.9h-.9zM242.5 479.1h.9v.9h-.9zM242.4 445.1h.9v.9h-.9zM242.9 467.0h.9v.9h-.9zM240.5 470.7h.9v.9h-.9zM241.5 449.3h.9v.9h-.9zM240.9 460.7h.9v.9h-.9zM240.8 464.1h.9v.9h-.9zM242.6 474.0h.9v.9h-.9zM242.5 453.3h.9v.9h-.9zM242.9 473.6h.9v.9h-.9zM242.5 469.0h.9v.9h-.9zM242.6 470.9h.9v.9h-.9zM241.4 454.7h.9v.9h-.9zM241.0 455.8h.9v.9h-.9zM241.1 453.5h.9v.9h-.9zM241.9 461.1h.9v.9h-.9zM242.9 466.6h.9v.9h-.9zM242.1 464.9h.9v.9h-.9zM241.7 470.5h.9v.9h-.9zM240.8 473.1h.9v.9h-.9zM242.2 467.3h.9v.9h-.9zM243.2 467.5h.9v.9h-.9zM241.9 451.8h.9v.9h-.9zM240.5 467.1h.9v.9h-.9zM242.9 471.6h.9v.9h-.9zM241.8 458.3h.9v.9h-.9zM241.7 466.7h.9v.9h-.9zM242.0 457.8h.9v.9h-.9zM241.6 470.3h.9v.9h-.9zM241.6 481.9h.9v.9h-.9zM242.4 478.6h.9v.9h-.9zM241.4 463.2h.9v.9h-.9zM242.5 451.5h.9v.9h-.9zM242.5 457.2h.9v.9h-.9zM241.3 468.6h.9v.9h-.9zM241.0 464.9h.9v.9h-.9zM242.5 476.0h.9v.9h-.9zM242.2 474.1h.9v.9h-.9zM242.1 475.5h.9v.9h-.9zM241.3 475.7h.9v.9h-.9zM241.3 480.4h.9v.9h-.9zM240.6 460.7h.9v.9h-.9zM241.6 477.0h.9v.9h-.9zM242.6 472.6h.9v.9h-.9zM241.7 466.3h.9v.9h-.9zM241.7 455.9h.9v.9h-.9zM242.1 468.6h.9v.9h-.9zM240.7 464.3h.9v.9h-.9zM241.8 483.5h.9v.9h-.9zM241.7 453.8h.9v.9h-.9zM241.9 483.6h.9v.9h-.9zM241.0 453.2h.9v.9h-.9zM240.4 467.1h.9v.9h-.9zM242.4 459.3h.9v.9h-.9zM243.0 460.9h.9v.9h-.9zM240.4 464.9h.9v.9h-.9zM240.9 466.6h.9v.9h-.9zM242.3 446.6h.9v.9h-.9zM241.0 474.7h.9v.9h-.9zM242.3 477.2h.9v.9h-.9zM243.1 457.6h.9v.9h-.9zM240.5 468.7h.9v.9h-.9zM241.0 453.1h.9v.9h-.9zM242.3 448.1h.9v.9h-.9zM242.6 434.8h.9v.9h-.9zM241.0 420.5h.9v.9h-.9zM242.1 425.8h.9v.9h-.9zM242.3 422.6h.9v.9h-.9zM242.5 435.7h.9v.9h-.9zM242.2 426.0h.9v.9h-.9zM252.0 469.3h.9v.9h-.9zM252.2 467.2h.9v.9h-.9zM252.9 464.9h.9v.9h-.9zM252.3 466.4h.9v.9h-.9zM251.6 428.3h.9v.9h-.9zM250.9 474.2h.9v.9h-.9zM251.8 451.0h.9v.9h-.9zM252.5 468.0h.9v.9h-.9zM250.4 464.5h.9v.9h-.9zM251.5 463.4h.9v.9h-.9zM252.4 465.7h.9v.9h-.9zM252.5 465.5h.9v.9h-.9zM252.3 466.1h.9v.9h-.9zM251.8 475.5h.9v.9h-.9zM252.0 444.7h.9v.9h-.9zM252.0 452.7h.9v.9h-.9zM251.8 465.2h.9v.9h-.9zM250.6 439.9h.9v.9h-.9zM251.1 464.2h.9v.9h-.9zM251.7 432.5h.9v.9h-.9zM252.6 465.2h.9v.9h-.9zM251.3 471.9h.9v.9h-.9zM250.2 454.5h.9v.9h-.9zM251.9 458.2h.9v.9h-.9zM251.3 447.6h.9v.9h-.9zM249.7 457.2h.9v.9h-.9zM251.7 466.3h.9v.9h-.9zM250.0 466.3h.9v.9h-.9zM249.7 468.3h.9v.9h-.9zM252.5 446.3h.9v.9h-.9zM250.7 471.8h.9v.9h-.9zM250.9 465.0h.9v.9h-.9zM252.9 465.5h.9v.9h-.9zM250.5 431.3h.9v.9h-.9zM249.6 461.2h.9v.9h-.9zM252.5 466.6h.9v.9h-.9zM250.7 428.3h.9v.9h-.9zM250.9 468.5h.9v.9h-.9zM251.4 450.9h.9v.9h-.9zM252.8 465.5h.9v.9h-.9zM250.2 469.3h.9v.9h-.9zM252.7 468.3h.9v.9h-.9zM250.8 450.9h.9v.9h-.9zM252.7 465.5h.9v.9h-.9zM251.6 474.1h.9v.9h-.9zM252.8 467.3h.9v.9h-.9zM252.4 445.8h.9v.9h-.9zM250.8 472.0h.9v.9h-.9zM250.6 464.5h.9v.9h-.9zM249.9 455.9h.9v.9h-.9zM250.0 457.9h.9v.9h-.9zM249.7 468.1h.9v.9h-.9zM252.7 464.9h.9v.9h-.9zM252.7 459.8h.9v.9h-.9zM251.0 466.8h.9v.9h-.9zM252.7 458.0h.9v.9h-.9zM250.7 468.8h.9v.9h-.9zM251.1 469.0h.9v.9h-.9zM249.7 466.9h.9v.9h-.9zM251.4 467.6h.9v.9h-.9zM250.9 454.6h.9v.9h-.9zM250.5 454.1h.9v.9h-.9zM251.2 466.2h.9v.9h-.9zM252.5 455.0h.9v.9h-.9zM252.6 458.3h.9v.9h-.9zM250.2 464.7h.9v.9h-.9zM250.1 461.3h.9v.9h-.9zM252.7 450.8h.9v.9h-.9zM250.5 466.7h.9v.9h-.9zM249.6 465.6h.9v.9h-.9zM249.7 468.7h.9v.9h-.9zM251.1 475.9h.9v.9h-.9zM251.2 430.3h.9v.9h-.9zM251.0 464.0h.9v.9h-.9zM249.9 465.9h.9v.9h-.9zM251.8 441.4h.9v.9h-.9zM249.7 465.2h.9v.9h-.9zM251.2 466.6h.9v.9h-.9zM251.9 457.6h.9v.9h-.9zM251.4 472.0h.9v.9h-.9zM251.0 437.6h.9v.9h-.9zM249.8 468.1h.9v.9h-.9zM252.2 470.0h.9v.9h-.9zM250.4 434.6h.9v.9h-.9zM250.9 475.9h.9v.9h-.9zM252.4 459.0h.9v.9h-.9zM251.5 455.4h.9v.9h-.9zM251.3 449.5h.9v.9h-.9zM251.9 455.3h.9v.9h-.9zM252.5 464.7h.9v.9h-.9zM252.1 460.1h.9v.9h-.9zM252.2 447.2h.9v.9h-.9zM251.3 471.3h.9v.9h-.9zM249.5 464.6h.9v.9h-.9zM249.8 465.0h.9v.9h-.9zM252.2 453.1h.9v.9h-.9zM250.5 441.4h.9v.9h-.9zM251.5 448.5h.9v.9h-.9zM250.5 473.3h.9v.9h-.9zM252.0 465.7h.9v.9h-.9zM251.2 449.3h.9v.9h-.9zM250.1 449.7h.9v.9h-.9zM252.2 448.7h.9v.9h-.9zM251.4 446.1h.9v.9h-.9zM252.4 469.9h.9v.9h-.9zM251.1 435.4h.9v.9h-.9zM252.4 470.1h.9v.9h-.9zM250.6 465.3h.9v.9h-.9zM252.8 454.6h.9v.9h-.9zM252.4 469.7h.9v.9h-.9zM251.3 465.5h.9v.9h-.9zM252.7 466.0h.9v.9h-.9zM250.9 441.9h.9v.9h-.9zM249.9 468.2h.9v.9h-.9zM249.9 460.7h.9v.9h-.9zM252.2 464.4h.9v.9h-.9zM252.1 471.4h.9v.9h-.9zM250.2 472.2h.9v.9h-.9zM250.4 465.3h.9v.9h-.9zM252.0 473.0h.9v.9h-.9zM251.0 464.4h.9v.9h-.9zM250.7 471.4h.9v.9h-.9zM251.5 458.9h.9v.9h-.9zM251.3 466.7h.9v.9h-.9zM250.4 442.6h.9v.9h-.9zM249.9 459.7h.9v.9h-.9zM250.4 452.0h.9v.9h-.9zM251.4 456.2h.9v.9h-.9zM251.6 470.2h.9v.9h-.9zM251.8 449.5h.9v.9h-.9zM251.1 440.7h.9v.9h-.9zM250.3 457.0h.9v.9h-.9zM251.4 446.7h.9v.9h-.9zM250.7 463.0h.9v.9h-.9zM251.2 464.9h.9v.9h-.9zM252.3 441.5h.9v.9h-.9zM249.7 462.9h.9v.9h-.9zM251.0 467.7h.9v.9h-.9zM251.9 449.6h.9v.9h-.9zM250.4 451.8h.9v.9h-.9zM250.6 464.6h.9v.9h-.9zM251.8 454.0h.9v.9h-.9zM251.3 470.7h.9v.9h-.9zM251.7 473.0h.9v.9h-.9zM251.5 474.4h.9v.9h-.9zM249.9 466.0h.9v.9h-.9zM251.3 474.2h.9v.9h-.9zM252.9 463.6h.9v.9h-.9zM251.9 473.2h.9v.9h-.9zM250.9 469.4h.9v.9h-.9zM250.8 436.5h.9v.9h-.9zM251.4 456.8h.9v.9h-.9zM252.3 450.5h.9v.9h-.9zM251.1 435.9h.9v.9h-.9zM251.5 461.0h.9v.9h-.9zM249.9 467.4h.9v.9h-.9zM252.2 469.4h.9v.9h-.9zM250.7 474.3h.9v.9h-.9zM249.6 462.2h.9v.9h-.9zM251.2 464.8h.9v.9h-.9zM253.0 465.4h.9v.9h-.9zM251.2 471.5h.9v.9h-.9zM251.5 468.6h.9v.9h-.9zM252.6 453.5h.9v.9h-.9zM250.8 467.0h.9v.9h-.9zM251.4 463.1h.9v.9h-.9zM251.2 475.2h.9v.9h-.9zM251.4 432.5h.9v.9h-.9zM252.2 468.3h.9v.9h-.9zM250.7 445.9h.9v.9h-.9zM249.9 467.6h.9v.9h-.9zM251.7 470.5h.9v.9h-.9zM251.1 475.9h.9v.9h-.9zM250.5 462.1h.9v.9h-.9zM250.2 468.1h.9v.9h-.9zM251.6 464.5h.9v.9h-.9zM250.3 438.8h.9v.9h-.9zM252.2 463.4h.9v.9h-.9zM250.5 463.8h.9v.9h-.9zM251.5 464.9h.9v.9h-.9zM251.4 466.6h.9v.9h-.9zM251.6 444.4h.9v.9h-.9zM251.0 471.9h.9v.9h-.9zM250.0 464.0h.9v.9h-.9zM250.1 466.5h.9v.9h-.9zM252.3 466.0h.9v.9h-.9zM249.5 465.1h.9v.9h-.9zM250.6 466.3h.9v.9h-.9zM250.4 466.5h.9v.9h-.9zM252.6 455.7h.9v.9h-.9zM250.8 468.1h.9v.9h-.9zM252.3 448.4h.9v.9h-.9zM251.5 470.4h.9v.9h-.9zM249.6 459.5h.9v.9h-.9zM252.5 467.5h.9v.9h-.9zM250.6 468.4h.9v.9h-.9zM252.3 470.9h.9v.9h-.9zM250.8 459.2h.9v.9h-.9zM252.6 465.3h.9v.9h-.9zM252.1 449.1h.9v.9h-.9zM250.1 456.5h.9v.9h-.9zM250.6 469.2h.9v.9h-.9zM250.9 469.7h.9v.9h-.9zM249.9 449.7h.9v.9h-.9zM250.3 456.7h.9v.9h-.9zM250.6 449.5h.9v.9h-.9zM250.9 438.4h.9v.9h-.9zM251.9 458.6h.9v.9h-.9zM249.9 460.2h.9v.9h-.9zM251.7 430.4h.9v.9h-.9zM251.9 467.3h.9v.9h-.9zM252.6 450.2h.9v.9h-.9zM250.5 444.0h.9v.9h-.9zM249.9 457.9h.9v.9h-.9zM251.5 465.2h.9v.9h-.9zM250.9 428.3h.9v.9h-.9zM249.9 467.1h.9v.9h-.9zM251.3 475.8h.9v.9h-.9zM251.8 462.0h.9v.9h-.9zM250.7 470.0h.9v.9h-.9zM252.4 454.7h.9v.9h-.9zM251.8 458.6h.9v.9h-.9zM251.2 448.6h.9v.9h-.9zM249.7 457.9h.9v.9h-.9zM252.0 463.0h.9v.9h-.9zM250.9 455.1h.9v.9h-.9zM252.5 466.3h.9v.9h-.9zM250.9 428.3h.9v.9h-.9zM250.7 453.0h.9v.9h-.9zM251.5 440.3h.9v.9h-.9zM250.7 464.5h.9v.9h-.9zM250.8 475.5h.9v.9h-.9zM251.6 439.4h.9v.9h-.9zM249.9 449.1h.9v.9h-.9zM250.8 459.5h.9v.9h-.9zM250.7 449.9h.9v.9h-.9zM251.4 469.1h.9v.9h-.9zM250.8 474.4h.9v.9h-.9zM249.5 457.7h.9v.9h-.9zM252.0 469.3h.9v.9h-.9zM251.4 430.3h.9v.9h-.9zM250.4 455.0h.9v.9h-.9zM252.7 461.2h.9v.9h-.9zM249.9 468.2h.9v.9h-.9zM251.9 471.9h.9v.9h-.9zM250.1 445.9h.9v.9h-.9zM251.4 475.9h.9v.9h-.9zM252.1 470.5h.9v.9h-.9zM251.9 466.2h.9v.9h-.9zM251.3 462.6h.9v.9h-.9zM250.1 471.2h.9v.9h-.9zM251.9 471.4h.9v.9h-.9zM251.3 428.3h.9v.9h-.9zM250.5 468.8h.9v.9h-.9zM250.3 452.8h.9v.9h-.9zM250.1 449.9h.9v.9h-.9zM250.3 466.4h.9v.9h-.9zM251.0 468.1h.9v.9h-.9zM252.5 467.3h.9v.9h-.9zM251.4 452.2h.9v.9h-.9zM252.1 455.3h.9v.9h-.9zM251.6 443.6h.9v.9h-.9zM251.8 473.9h.9v.9h-.9zM250.5 457.0h.9v.9h-.9zM250.4 462.7h.9v.9h-.9zM251.9 458.3h.9v.9h-.9zM251.1 452.3h.9v.9h-.9zM250.1 454.0h.9v.9h-.9zM251.4 428.3h.9v.9h-.9zM252.0 460.6h.9v.9h-.9zM251.2 466.9h.9v.9h-.9zM250.1 461.0h.9v.9h-.9zM251.4 475.9h.9v.9h-.9zM252.8 465.1h.9v.9h-.9zM249.9 464.4h.9v.9h-.9zM252.0 450.8h.9v.9h-.9zM251.7 465.5h.9v.9h-.9zM252.6 467.9h.9v.9h-.9zM252.0 457.1h.9v.9h-.9zM250.8 431.2h.9v.9h-.9zM251.4 466.8h.9v.9h-.9zM252.2 448.8h.9v.9h-.9zM251.5 441.8h.9v.9h-.9zM251.9 466.3h.9v.9h-.9zM251.2 470.7h.9v.9h-.9zM250.5 457.3h.9v.9h-.9zM250.5 472.1h.9v.9h-.9zM252.6 451.1h.9v.9h-.9zM250.4 445.6h.9v.9h-.9zM249.5 465.9h.9v.9h-.9zM251.0 470.6h.9v.9h-.9zM251.5 439.4h.9v.9h-.9zM251.0 469.0h.9v.9h-.9zM252.3 466.9h.9v.9h-.9zM251.0 466.9h.9v.9h-.9zM250.7 468.5h.9v.9h-.9zM251.1 450.7h.9v.9h-.9zM252.6 467.0h.9v.9h-.9zM251.3 475.9h.9v.9h-.9zM249.7 466.8h.9v.9h-.9zM251.4 468.1h.9v.9h-.9zM251.1 467.5h.9v.9h-.9zM252.6 466.0h.9v.9h-.9zM250.3 448.6h.9v.9h-.9zM251.8 466.7h.9v.9h-.9zM251.5 461.9h.9v.9h-.9zM251.0 441.5h.9v.9h-.9zM250.1 460.0h.9v.9h-.9zM252.4 467.1h.9v.9h-.9zM249.8 461.8h.9v.9h-.9zM251.4 464.5h.9v.9h-.9zM251.4 443.5h.9v.9h-.9zM250.3 440.4h.9v.9h-.9zM249.7 462.4h.9v.9h-.9zM251.8 449.5h.9v.9h-.9zM250.2 469.9h.9v.9h-.9zM252.4 464.9h.9v.9h-.9zM250.1 456.2h.9v.9h-.9zM250.6 473.6h.9v.9h-.9zM249.8 468.2h.9v.9h-.9zM251.5 462.2h.9v.9h-.9zM250.5 462.1h.9v.9h-.9zM251.4 475.2h.9v.9h-.9zM251.4 469.8h.9v.9h-.9zM252.0 466.8h.9v.9h-.9zM252.1 456.5h.9v.9h-.9zM250.8 465.7h.9v.9h-.9zM252.7 467.0h.9v.9h-.9zM250.3 471.9h.9v.9h-.9zM252.3 466.5h.9v.9h-.9zM250.7 440.3h.9v.9h-.9zM251.0 452.2h.9v.9h-.9zM249.6 466.9h.9v.9h-.9zM252.3 460.1h.9v.9h-.9zM251.8 450.3h.9v.9h-.9zM250.0 459.4h.9v.9h-.9zM251.8 472.9h.9v.9h-.9zM249.5 466.5h.9v.9h-.9zM252.4 452.0h.9v.9h-.9zM250.0 469.9h.9v.9h-.9zM250.9 453.1h.9v.9h-.9zM250.5 439.7h.9v.9h-.9zM251.4 473.6h.9v.9h-.9zM250.8 441.7h.9v.9h-.9zM250.0 445.5h.9v.9h-.9zM250.8 449.5h.9v.9h-.9zM250.8 448.6h.9v.9h-.9zM251.5 456.1h.9v.9h-.9zM252.4 444.6h.9v.9h-.9zM249.9 461.8h.9v.9h-.9zM251.2 465.1h.9v.9h-.9zM251.4 450.1h.9v.9h-.9zM250.8 475.9h.9v.9h-.9zM252.0 469.2h.9v.9h-.9zM251.7 465.6h.9v.9h-.9zM250.8 439.2h.9v.9h-.9zM251.5 473.9h.9v.9h-.9zM251.6 433.9h.9v.9h-.9zM250.9 472.6h.9v.9h-.9zM250.9 464.9h.9v.9h-.9zM252.9 456.1h.9v.9h-.9zM250.8 450.8h.9v.9h-.9zM249.9 462.8h.9v.9h-.9zM252.2 447.8h.9v.9h-.9zM250.8 442.4h.9v.9h-.9zM249.7 456.5h.9v.9h-.9zM251.4 454.0h.9v.9h-.9zM250.9 473.0h.9v.9h-.9zM250.1 466.4h.9v.9h-.9zM252.9 465.6h.9v.9h-.9zM252.5 461.5h.9v.9h-.9zM251.2 445.5h.9v.9h-.9zM249.5 465.1h.9v.9h-.9zM250.5 450.7h.9v.9h-.9zM250.1 465.5h.9v.9h-.9zM252.2 470.1h.9v.9h-.9zM252.7 467.5h.9v.9h-.9zM250.4 473.2h.9v.9h-.9zM250.1 468.1h.9v.9h-.9zM251.3 452.8h.9v.9h-.9zM250.6 472.7h.9v.9h-.9zM251.6 433.0h.9v.9h-.9zM250.8 471.6h.9v.9h-.9zM251.0 449.2h.9v.9h-.9zM251.2 453.0h.9v.9h-.9zM250.4 468.1h.9v.9h-.9zM251.3 428.3h.9v.9h-.9zM249.6 465.5h.9v.9h-.9zM249.8 465.2h.9v.9h-.9zM250.2 448.5h.9v.9h-.9zM251.1 473.3h.9v.9h-.9zM251.4 470.0h.9v.9h-.9zM250.7 468.7h.9v.9h-.9zM250.6 470.9h.9v.9h-.9zM250.5 465.2h.9v.9h-.9zM252.0 474.3h.9v.9h-.9zM252.8 460.5h.9v.9h-.9zM250.1 442.8h.9v.9h-.9zM250.8 447.0h.9v.9h-.9zM250.7 472.6h.9v.9h-.9zM249.9 465.6h.9v.9h-.9zM251.2 462.1h.9v.9h-.9zM250.9 470.1h.9v.9h-.9zM250.8 428.3h.9v.9h-.9zM249.7 467.4h.9v.9h-.9zM250.3 466.0h.9v.9h-.9zM250.9 472.6h.9v.9h-.9zM251.1 464.5h.9v.9h-.9zM252.0 457.3h.9v.9h-.9zM251.7 459.5h.9v.9h-.9zM251.4 460.2h.9v.9h-.9zM252.7 459.6h.9v.9h-.9zM250.4 467.3h.9v.9h-.9zM251.0 455.2h.9v.9h-.9zM251.7 455.6h.9v.9h-.9zM252.1 435.3h.9v.9h-.9zM251.3 424.3h.9v.9h-.9zM251.9 425.4h.9v.9h-.9zM250.7 412.3h.9v.9h-.9zM251.9 414.5h.9v.9h-.9zM250.9 423.1h.9v.9h-.9zM252.0 419.4h.9v.9h-.9zM251.6 425.3h.9v.9h-.9zM251.1 417.3h.9v.9h-.9zM261.4 469.8h.9v.9h-.9zM261.1 463.5h.9v.9h-.9zM261.5 471.8h.9v.9h-.9zM260.0 454.1h.9v.9h-.9zM261.5 465.8h.9v.9h-.9zM261.1 466.5h.9v.9h-.9zM259.7 461.6h.9v.9h-.9zM261.2 457.6h.9v.9h-.9zM260.0 479.0h.9v.9h-.9zM260.8 453.7h.9v.9h-.9zM260.1 473.8h.9v.9h-.9zM259.6 464.8h.9v.9h-.9zM261.2 460.7h.9v.9h-.9zM260.5 466.4h.9v.9h-.9zM260.9 462.8h.9v.9h-.9zM261.1 464.8h.9v.9h-.9zM260.5 471.1h.9v.9h-.9zM260.2 470.4h.9v.9h-.9zM260.8 452.9h.9v.9h-.9zM259.8 463.8h.9v.9h-.9zM260.5 464.8h.9v.9h-.9zM260.6 465.8h.9v.9h-.9zM260.7 456.2h.9v.9h-.9zM260.6 467.3h.9v.9h-.9zM260.7 479.0h.9v.9h-.9zM260.1 465.1h.9v.9h-.9zM260.3 460.0h.9v.9h-.9zM259.7 465.5h.9v.9h-.9zM261.2 475.1h.9v.9h-.9zM260.8 466.4h.9v.9h-.9zM259.6 466.4h.9v.9h-.9zM261.1 470.8h.9v.9h-.9zM260.3 475.7h.9v.9h-.9zM260.6 469.6h.9v.9h-.9zM261.1 466.4h.9v.9h-.9zM260.5 466.7h.9v.9h-.9zM260.8 471.2h.9v.9h-.9zM260.2 466.8h.9v.9h-.9zM260.7 472.6h.9v.9h-.9zM260.2 471.4h.9v.9h-.9zM260.8 470.9h.9v.9h-.9zM261.5 465.4h.9v.9h-.9zM260.5 465.2h.9v.9h-.9zM259.9 458.4h.9v.9h-.9zM260.6 474.1h.9v.9h-.9zM259.9 468.0h.9v.9h-.9zM260.8 463.4h.9v.9h-.9zM261.2 472.8h.9v.9h-.9zM261.1 472.5h.9v.9h-.9zM259.6 468.3h.9v.9h-.9zM260.2 466.7h.9v.9h-.9zM260.6 469.6h.9v.9h-.9zM261.5 460.8h.9v.9h-.9zM260.4 469.9h.9v.9h-.9zM259.7 463.2h.9v.9h-.9zM260.3 476.6h.9v.9h-.9zM260.1 467.2h.9v.9h-.9zM259.6 460.1h.9v.9h-.9zM259.8 464.5h.9v.9h-.9zM260.0 467.6h.9v.9h-.9zM259.5 466.0h.9v.9h-.9zM260.9 478.3h.9v.9h-.9zM260.7 455.9h.9v.9h-.9zM259.6 461.0h.9v.9h-.9zM260.2 459.4h.9v.9h-.9zM260.8 458.6h.9v.9h-.9zM260.7 470.3h.9v.9h-.9zM259.9 471.5h.9v.9h-.9zM260.9 468.1h.9v.9h-.9zM259.7 460.2h.9v.9h-.9zM260.5 472.1h.9v.9h-.9zM261.0 471.9h.9v.9h-.9zM260.4 460.3h.9v.9h-.9zM260.3 470.5h.9v.9h-.9zM260.5 461.0h.9v.9h-.9zM261.2 470.9h.9v.9h-.9zM259.4 467.1h.9v.9h-.9zM260.6 472.9h.9v.9h-.9zM259.9 467.1h.9v.9h-.9zM261.2 463.3h.9v.9h-.9zM260.6 456.9h.9v.9h-.9zM260.9 460.6h.9v.9h-.9zM261.0 468.7h.9v.9h-.9zM260.7 466.4h.9v.9h-.9zM259.8 471.8h.9v.9h-.9zM260.5 453.9h.9v.9h-.9zM260.0 461.2h.9v.9h-.9zM259.9 466.3h.9v.9h-.9zM260.4 473.6h.9v.9h-.9zM260.1 463.9h.9v.9h-.9zM260.0 470.6h.9v.9h-.9zM260.0 453.8h.9v.9h-.9zM260.5 471.5h.9v.9h-.9zM260.2 471.6h.9v.9h-.9zM260.6 470.9h.9v.9h-.9zM260.3 452.9h.9v.9h-.9zM260.2 473.4h.9v.9h-.9zM261.1 461.9h.9v.9h-.9zM260.7 463.6h.9v.9h-.9zM261.0 454.6h.9v.9h-.9zM260.4 465.0h.9v.9h-.9zM259.5 468.2h.9v.9h-.9zM260.0 474.1h.9v.9h-.9zM260.6 470.3h.9v.9h-.9zM260.8 475.9h.9v.9h-.9zM259.8 466.6h.9v.9h-.9zM260.1 475.1h.9v.9h-.9zM260.0 454.5h.9v.9h-.9zM260.8 472.8h.9v.9h-.9zM261.5 464.5h.9v.9h-.9zM261.0 467.9h.9v.9h-.9zM261.3 464.7h.9v.9h-.9zM260.1 465.7h.9v.9h-.9zM260.0 474.8h.9v.9h-.9zM259.8 472.0h.9v.9h-.9zM261.1 477.2h.9v.9h-.9zM260.8 460.1h.9v.9h-.9zM260.6 465.3h.9v.9h-.9zM260.4 455.8h.9v.9h-.9zM259.6 468.9h.9v.9h-.9zM261.1 476.7h.9v.9h-.9zM260.5 476.4h.9v.9h-.9zM260.5 460.1h.9v.9h-.9zM259.9 475.1h.9v.9h-.9zM260.6 460.6h.9v.9h-.9zM259.9 459.7h.9v.9h-.9zM260.1 456.3h.9v.9h-.9zM259.7 474.1h.9v.9h-.9zM261.4 472.2h.9v.9h-.9zM259.5 467.8h.9v.9h-.9zM261.0 461.8h.9v.9h-.9zM261.2 465.1h.9v.9h-.9zM259.8 458.7h.9v.9h-.9zM261.1 470.0h.9v.9h-.9zM260.5 468.3h.9v.9h-.9zM260.9 466.3h.9v.9h-.9zM260.3 461.0h.9v.9h-.9zM259.8 469.4h.9v.9h-.9zM261.2 460.9h.9v.9h-.9zM260.5 468.7h.9v.9h-.9zM260.0 454.9h.9v.9h-.9zM260.6 458.8h.9v.9h-.9zM260.6 462.6h.9v.9h-.9zM260.2 442.8h.9v.9h-.9zM260.3 448.9h.9v.9h-.9zM259.8 448.8h.9v.9h-.9zM271.0 468.6h.9v.9h-.9zM271.3 471.4h.9v.9h-.9zM270.8 468.8h.9v.9h-.9zM270.6 472.3h.9v.9h-.9zM269.1 460.0h.9v.9h-.9zM269.3 455.6h.9v.9h-.9zM268.7 475.4h.9v.9h-.9zM270.8 471.4h.9v.9h-.9zM269.0 479.3h.9v.9h-.9zM269.4 439.1h.9v.9h-.9zM270.1 481.4h.9v.9h-.9zM269.7 477.0h.9v.9h-.9zM269.0 480.5h.9v.9h-.9zM268.7 476.2h.9v.9h-.9zM270.5 462.1h.9v.9h-.9zM268.7 474.0h.9v.9h-.9zM269.0 458.8h.9v.9h-.9zM270.0 439.1h.9v.9h-.9zM269.8 462.4h.9v.9h-.9zM270.1 479.7h.9v.9h-.9zM270.1 456.2h.9v.9h-.9zM270.5 471.2h.9v.9h-.9zM268.8 463.8h.9v.9h-.9zM268.8 475.6h.9v.9h-.9zM270.6 480.1h.9v.9h-.9zM270.8 470.9h.9v.9h-.9zM269.7 482.9h.9v.9h-.9zM269.2 473.4h.9v.9h-.9zM269.9 483.4h.9v.9h-.9zM270.2 483.3h.9v.9h-.9zM270.3 443.0h.9v.9h-.9zM269.0 465.0h.9v.9h-.9zM270.8 454.0h.9v.9h-.9zM270.7 472.1h.9v.9h-.9zM270.3 476.8h.9v.9h-.9zM268.5 473.6h.9v.9h-.9zM270.7 476.5h.9v.9h-.9zM270.3 445.8h.9v.9h-.9zM269.8 453.7h.9v.9h-.9zM269.7 448.4h.9v.9h-.9zM269.7 478.2h.9v.9h-.9zM270.9 467.2h.9v.9h-.9zM269.3 476.5h.9v.9h-.9zM269.6 467.3h.9v.9h-.9zM270.3 480.6h.9v.9h-.9zM270.9 468.7h.9v.9h-.9zM269.1 466.4h.9v.9h-.9zM271.0 473.6h.9v.9h-.9zM271.0 474.1h.9v.9h-.9zM269.8 439.1h.9v.9h-.9zM268.8 470.6h.9v.9h-.9zM268.4 474.7h.9v.9h-.9zM270.9 454.1h.9v.9h-.9zM269.3 466.2h.9v.9h-.9zM270.0 459.4h.9v.9h-.9zM270.9 476.9h.9v.9h-.9zM270.4 471.1h.9v.9h-.9zM271.1 458.4h.9v.9h-.9zM270.3 458.6h.9v.9h-.9zM270.3 476.2h.9v.9h-.9zM269.8 476.1h.9v.9h-.9zM270.9 465.2h.9v.9h-.9zM270.0 470.9h.9v.9h-.9zM270.6 470.3h.9v.9h-.9zM269.3 483.6h.9v.9h-.9zM270.5 445.2h.9v.9h-.9zM269.9 441.0h.9v.9h-.9zM270.4 476.8h.9v.9h-.9zM269.1 472.4h.9v.9h-.9zM269.6 472.6h.9v.9h-.9zM270.1 478.4h.9v.9h-.9zM271.3 473.4h.9v.9h-.9zM270.3 476.3h.9v.9h-.9zM270.8 459.7h.9v.9h-.9zM269.5 477.8h.9v.9h-.9zM269.4 439.1h.9v.9h-.9zM268.7 471.9h.9v.9h-.9zM269.5 458.1h.9v.9h-.9zM271.3 472.3h.9v.9h-.9zM269.0 456.8h.9v.9h-.9zM269.8 439.1h.9v.9h-.9zM269.4 469.5h.9v.9h-.9zM269.2 477.1h.9v.9h-.9zM270.7 456.1h.9v.9h-.9zM270.6 474.4h.9v.9h-.9zM269.7 455.3h.9v.9h-.9zM270.1 479.5h.9v.9h-.9zM271.2 471.5h.9v.9h-.9zM269.3 476.7h.9v.9h-.9zM268.3 471.2h.9v.9h-.9zM269.9 481.7h.9v.9h-.9zM269.1 459.0h.9v.9h-.9zM270.0 466.0h.9v.9h-.9zM270.8 473.5h.9v.9h-.9zM269.3 455.9h.9v.9h-.9zM270.2 479.6h.9v.9h-.9zM269.5 472.4h.9v.9h-.9zM269.5 470.8h.9v.9h-.9zM269.4 476.5h.9v.9h-.9zM269.9 457.1h.9v.9h-.9zM270.9 476.3h.9v.9h-.9zM269.5 467.5h.9v.9h-.9zM270.9 472.6h.9v.9h-.9zM270.0 476.4h.9v.9h-.9zM270.9 463.0h.9v.9h-.9zM270.4 472.5h.9v.9h-.9zM269.8 473.7h.9v.9h-.9zM270.5 479.2h.9v.9h-.9zM270.8 476.9h.9v.9h-.9zM270.2 463.6h.9v.9h-.9zM269.1 447.0h.9v.9h-.9zM268.9 472.9h.9v.9h-.9zM268.7 459.3h.9v.9h-.9zM269.6 482.1h.9v.9h-.9zM268.4 472.4h.9v.9h-.9zM270.2 470.8h.9v.9h-.9zM269.1 469.4h.9v.9h-.9zM270.5 451.7h.9v.9h-.9zM270.8 463.8h.9v.9h-.9zM269.3 467.0h.9v.9h-.9zM270.0 448.7h.9v.9h-.9zM270.9 467.6h.9v.9h-.9zM269.9 474.8h.9v.9h-.9zM269.8 469.9h.9v.9h-.9zM268.4 466.8h.9v.9h-.9zM269.5 471.9h.9v.9h-.9zM270.0 479.1h.9v.9h-.9zM270.1 439.1h.9v.9h-.9zM269.7 483.6h.9v.9h-.9zM268.9 477.2h.9v.9h-.9zM270.4 462.8h.9v.9h-.9zM269.0 476.3h.9v.9h-.9zM269.1 466.5h.9v.9h-.9zM269.6 468.9h.9v.9h-.9zM270.3 451.7h.9v.9h-.9zM270.5 468.6h.9v.9h-.9zM270.3 478.9h.9v.9h-.9zM270.2 479.7h.9v.9h-.9zM269.0 458.4h.9v.9h-.9zM270.1 454.1h.9v.9h-.9zM269.5 451.5h.9v.9h-.9zM269.6 439.1h.9v.9h-.9zM269.5 439.1h.9v.9h-.9zM269.7 447.6h.9v.9h-.9zM268.9 453.7h.9v.9h-.9zM271.4 467.5h.9v.9h-.9zM270.5 477.8h.9v.9h-.9zM268.5 466.9h.9v.9h-.9zM269.8 473.6h.9v.9h-.9zM271.2 470.5h.9v.9h-.9zM271.3 471.9h.9v.9h-.9zM269.6 480.3h.9v.9h-.9zM270.8 474.6h.9v.9h-.9zM270.1 459.7h.9v.9h-.9zM268.2 469.7h.9v.9h-.9zM268.3 472.2h.9v.9h-.9zM269.9 477.6h.9v.9h-.9zM271.0 460.7h.9v.9h-.9zM270.1 450.8h.9v.9h-.9zM269.4 469.1h.9v.9h-.9zM269.9 439.1h.9v.9h-.9zM270.1 465.2h.9v.9h-.9zM270.3 477.4h.9v.9h-.9zM269.0 447.5h.9v.9h-.9zM269.5 460.1h.9v.9h-.9zM270.3 471.6h.9v.9h-.9zM269.7 475.2h.9v.9h-.9zM268.8 452.6h.9v.9h-.9zM271.2 459.0h.9v.9h-.9zM270.4 448.9h.9v.9h-.9zM270.4 477.7h.9v.9h-.9zM270.1 439.1h.9v.9h-.9zM269.0 446.6h.9v.9h-.9zM270.3 460.5h.9v.9h-.9zM270.3 472.5h.9v.9h-.9zM268.2 470.8h.9v.9h-.9zM268.6 474.3h.9v.9h-.9zM270.8 471.6h.9v.9h-.9zM269.9 460.7h.9v.9h-.9zM271.1 462.9h.9v.9h-.9zM270.2 439.1h.9v.9h-.9zM270.2 473.9h.9v.9h-.9zM270.5 477.5h.9v.9h-.9zM269.4 451.9h.9v.9h-.9zM268.3 463.9h.9v.9h-.9zM270.2 482.7h.9v.9h-.9zM268.6 466.1h.9v.9h-.9zM268.6 472.4h.9v.9h-.9zM269.9 477.2h.9v.9h-.9zM270.5 449.4h.9v.9h-.9zM268.8 476.4h.9v.9h-.9zM268.8 461.9h.9v.9h-.9zM270.6 481.0h.9v.9h-.9zM268.6 473.1h.9v.9h-.9zM270.1 470.6h.9v.9h-.9zM270.1 477.0h.9v.9h-.9zM271.2 472.4h.9v.9h-.9zM270.8 474.7h.9v.9h-.9zM269.3 483.6h.9v.9h-.9zM270.9 474.6h.9v.9h-.9zM271.0 457.0h.9v.9h-.9zM269.2 467.3h.9v.9h-.9zM269.3 459.0h.9v.9h-.9zM270.0 439.1h.9v.9h-.9zM270.5 477.0h.9v.9h-.9zM269.5 481.4h.9v.9h-.9zM269.5 469.6h.9v.9h-.9zM271.2 466.6h.9v.9h-.9zM270.1 439.1h.9v.9h-.9zM269.9 479.5h.9v.9h-.9zM270.6 452.7h.9v.9h-.9zM269.9 460.0h.9v.9h-.9zM268.8 475.0h.9v.9h-.9zM271.0 475.3h.9v.9h-.9zM270.8 454.7h.9v.9h-.9zM268.9 473.3h.9v.9h-.9zM271.2 469.2h.9v.9h-.9zM271.4 468.9h.9v.9h-.9zM269.7 445.6h.9v.9h-.9zM270.6 474.5h.9v.9h-.9zM269.4 446.3h.9v.9h-.9zM269.0 466.6h.9v.9h-.9zM270.2 474.7h.9v.9h-.9zM270.4 475.4h.9v.9h-.9zM268.8 452.9h.9v.9h-.9zM268.9 455.7h.9v.9h-.9zM269.8 469.2h.9v.9h-.9zM270.7 472.5h.9v.9h-.9zM268.7 458.9h.9v.9h-.9zM269.7 450.3h.9v.9h-.9zM268.7 475.9h.9v.9h-.9zM268.7 477.3h.9v.9h-.9zM269.4 480.8h.9v.9h-.9zM269.1 473.7h.9v.9h-.9zM269.2 448.4h.9v.9h-.9zM270.1 475.8h.9v.9h-.9zM269.1 478.6h.9v.9h-.9zM269.7 439.1h.9v.9h-.9zM269.9 481.2h.9v.9h-.9zM271.0 468.0h.9v.9h-.9zM271.4 469.5h.9v.9h-.9zM270.8 469.1h.9v.9h-.9zM269.4 462.1h.9v.9h-.9zM270.7 474.3h.9v.9h-.9zM269.5 462.9h.9v.9h-.9zM268.9 471.2h.9v.9h-.9zM269.4 460.3h.9v.9h-.9zM269.3 483.5h.9v.9h-.9zM270.9 472.9h.9v.9h-.9zM268.9 453.9h.9v.9h-.9zM270.5 467.4h.9v.9h-.9zM269.0 457.3h.9v.9h-.9zM269.7 458.4h.9v.9h-.9zM269.7 457.0h.9v.9h-.9zM270.0 473.1h.9v.9h-.9zM270.0 466.1h.9v.9h-.9zM270.6 481.1h.9v.9h-.9zM269.9 482.6h.9v.9h-.9zM269.3 446.5h.9v.9h-.9zM269.0 471.2h.9v.9h-.9zM269.7 473.2h.9v.9h-.9zM269.4 476.9h.9v.9h-.9zM270.3 462.7h.9v.9h-.9zM269.8 439.1h.9v.9h-.9zM269.2 439.6h.9v.9h-.9zM269.7 472.0h.9v.9h-.9zM269.9 470.7h.9v.9h-.9zM270.1 449.1h.9v.9h-.9zM270.8 470.4h.9v.9h-.9zM269.4 471.3h.9v.9h-.9zM269.4 483.4h.9v.9h-.9zM269.2 442.9h.9v.9h-.9zM268.8 451.0h.9v.9h-.9zM270.6 464.0h.9v.9h-.9zM271.2 473.8h.9v.9h-.9zM271.3 469.5h.9v.9h-.9zM269.7 468.3h.9v.9h-.9zM271.0 477.7h.9v.9h-.9zM268.9 473.0h.9v.9h-.9zM269.7 478.2h.9v.9h-.9zM270.1 439.1h.9v.9h-.9zM270.3 458.5h.9v.9h-.9zM269.4 462.6h.9v.9h-.9zM270.2 470.4h.9v.9h-.9zM269.7 470.3h.9v.9h-.9zM269.0 471.4h.9v.9h-.9zM271.2 462.2h.9v.9h-.9zM270.0 458.1h.9v.9h-.9zM268.7 476.6h.9v.9h-.9zM269.7 460.2h.9v.9h-.9zM270.7 452.4h.9v.9h-.9zM269.4 481.0h.9v.9h-.9zM269.7 483.1h.9v.9h-.9zM268.3 464.2h.9v.9h-.9zM269.1 466.8h.9v.9h-.9zM269.9 475.2h.9v.9h-.9zM270.7 475.5h.9v.9h-.9zM269.0 473.8h.9v.9h-.9zM270.1 470.8h.9v.9h-.9zM269.5 483.6h.9v.9h-.9zM270.5 446.6h.9v.9h-.9zM269.1 474.7h.9v.9h-.9zM269.6 448.6h.9v.9h-.9zM270.6 471.7h.9v.9h-.9zM269.7 472.8h.9v.9h-.9zM269.7 470.8h.9v.9h-.9zM270.5 471.4h.9v.9h-.9zM270.5 477.5h.9v.9h-.9zM269.7 439.1h.9v.9h-.9zM271.3 472.3h.9v.9h-.9zM269.2 477.0h.9v.9h-.9zM270.5 476.7h.9v.9h-.9zM269.2 452.6h.9v.9h-.9zM268.6 470.1h.9v.9h-.9zM269.6 466.3h.9v.9h-.9zM269.9 439.1h.9v.9h-.9zM270.3 451.9h.9v.9h-.9zM268.4 462.4h.9v.9h-.9zM269.0 477.2h.9v.9h-.9zM270.3 444.4h.9v.9h-.9zM270.2 473.1h.9v.9h-.9zM270.6 474.8h.9v.9h-.9zM269.0 468.4h.9v.9h-.9zM270.4 480.8h.9v.9h-.9zM269.1 478.1h.9v.9h-.9zM269.4 445.8h.9v.9h-.9zM268.2 465.0h.9v.9h-.9zM268.9 470.1h.9v.9h-.9zM270.5 469.2h.9v.9h-.9zM271.2 473.7h.9v.9h-.9zM268.7 470.9h.9v.9h-.9zM269.6 456.9h.9v.9h-.9zM269.0 468.6h.9v.9h-.9zM268.6 462.4h.9v.9h-.9zM270.5 472.5h.9v.9h-.9zM269.3 463.9h.9v.9h-.9zM269.3 446.0h.9v.9h-.9zM268.7 472.5h.9v.9h-.9zM269.6 412.5h.9v.9h-.9zM269.3 411.6h.9v.9h-.9zM270.4 408.5h.9v.9h-.9zM270.0 435.5h.9v.9h-.9zM270.2 431.7h.9v.9h-.9zM270.4 408.2h.9v.9h-.9zM278.2 470.3h.9v.9h-.9zM278.5 474.0h.9v.9h-.9zM278.3 472.5h.9v.9h-.9zM279.0 471.5h.9v.9h-.9zM279.6 475.5h.9v.9h-.9zM278.7 470.3h.9v.9h-.9zM279.5 475.1h.9v.9h-.9zM278.7 474.3h.9v.9h-.9zM278.6 473.4h.9v.9h-.9zM279.9 469.2h.9v.9h-.9zM279.7 480.4h.9v.9h-.9zM279.6 473.0h.9v.9h-.9zM279.3 464.5h.9v.9h-.9zM278.6 461.6h.9v.9h-.9zM279.9 473.3h.9v.9h-.9zM279.1 469.9h.9v.9h-.9zM278.8 473.9h.9v.9h-.9zM278.7 480.4h.9v.9h-.9zM278.9 468.6h.9v.9h-.9zM278.5 471.1h.9v.9h-.9zM279.1 458.8h.9v.9h-.9zM279.0 472.0h.9v.9h-.9zM279.9 476.4h.9v.9h-.9zM279.4 476.0h.9v.9h-.9zM278.2 465.6h.9v.9h-.9zM279.1 473.7h.9v.9h-.9zM278.7 472.8h.9v.9h-.9zM279.0 471.2h.9v.9h-.9zM279.0 456.8h.9v.9h-.9zM278.7 468.6h.9v.9h-.9zM278.3 471.7h.9v.9h-.9zM279.2 466.7h.9v.9h-.9zM278.4 472.7h.9v.9h-.9zM278.8 470.5h.9v.9h-.9zM278.7 462.5h.9v.9h-.9zM279.6 474.4h.9v.9h-.9zM280.0 474.1h.9v.9h-.9zM278.8 460.2h.9v.9h-.9zM279.6 468.2h.9v.9h-.9zM280.1 473.7h.9v.9h-.9zM279.8 467.3h.9v.9h-.9zM279.1 471.2h.9v.9h-.9zM278.4 475.4h.9v.9h-.9zM279.7 472.7h.9v.9h-.9zM278.5 466.6h.9v.9h-.9zM279.3 464.0h.9v.9h-.9zM279.4 456.1h.9v.9h-.9zM278.9 482.0h.9v.9h-.9zM279.6 479.1h.9v.9h-.9zM278.8 465.9h.9v.9h-.9zM278.4 465.2h.9v.9h-.9zM279.4 464.0h.9v.9h-.9zM279.7 474.3h.9v.9h-.9zM279.7 458.0h.9v.9h-.9zM279.6 476.0h.9v.9h-.9zM278.9 471.5h.9v.9h-.9zM278.6 479.2h.9v.9h-.9zM278.8 476.5h.9v.9h-.9zM279.6 479.8h.9v.9h-.9zM279.4 479.4h.9v.9h-.9zM279.3 481.0h.9v.9h-.9zM279.0 464.0h.9v.9h-.9zM279.6 463.6h.9v.9h-.9zM278.8 473.9h.9v.9h-.9zM278.3 467.0h.9v.9h-.9zM278.8 456.4h.9v.9h-.9zM278.2 468.9h.9v.9h-.9zM278.9 473.2h.9v.9h-.9zM279.9 477.0h.9v.9h-.9zM279.1 459.2h.9v.9h-.9zM279.4 479.7h.9v.9h-.9zM278.4 463.6h.9v.9h-.9zM279.7 476.3h.9v.9h-.9zM279.8 476.9h.9v.9h-.9zM278.5 471.9h.9v.9h-.9zM279.4 457.4h.9v.9h-.9zM279.6 455.2h.9v.9h-.9zM279.5 463.7h.9v.9h-.9zM278.3 466.4h.9v.9h-.9zM278.8 475.4h.9v.9h-.9zM279.4 457.8h.9v.9h-.9zM280.2 473.5h.9v.9h-.9zM279.0 454.4h.9v.9h-.9zM278.7 474.6h.9v.9h-.9zM279.6 468.9h.9v.9h-.9zM279.4 461.8h.9v.9h-.9zM280.1 468.4h.9v.9h-.9zM278.7 480.2h.9v.9h-.9zM279.2 474.9h.9v.9h-.9zM280.0 474.8h.9v.9h-.9zM278.2 465.4h.9v.9h-.9zM279.7 480.6h.9v.9h-.9zM279.8 478.2h.9v.9h-.9zM279.7 476.0h.9v.9h-.9zM279.3 461.9h.9v.9h-.9zM279.2 469.9h.9v.9h-.9zM278.4 462.6h.9v.9h-.9zM279.6 464.1h.9v.9h-.9zM278.8 460.0h.9v.9h-.9zM279.9 474.6h.9v.9h-.9zM279.3 461.1h.9v.9h-.9zM279.6 471.3h.9v.9h-.9zM279.6 458.0h.9v.9h-.9zM279.1 482.0h.9v.9h-.9zM278.3 464.7h.9v.9h-.9zM279.0 472.6h.9v.9h-.9zM280.2 474.0h.9v.9h-.9zM278.4 470.6h.9v.9h-.9zM279.0 465.0h.9v.9h-.9zM278.5 472.4h.9v.9h-.9zM278.5 466.6h.9v.9h-.9zM279.1 465.9h.9v.9h-.9zM280.2 471.2h.9v.9h-.9zM278.6 462.3h.9v.9h-.9zM278.4 473.4h.9v.9h-.9zM279.8 459.5h.9v.9h-.9zM278.8 465.5h.9v.9h-.9zM278.8 445.3h.9v.9h-.9zM278.9 439.6h.9v.9h-.9zM279.9 451.1h.9v.9h-.9zM288.7 480.3h.9v.9h-.9zM288.8 470.4h.9v.9h-.9zM288.0 475.3h.9v.9h-.9zM288.8 474.1h.9v.9h-.9zM288.1 473.8h.9v.9h-.9zM289.2 472.1h.9v.9h-.9zM289.5 473.2h.9v.9h-.9zM288.2 475.1h.9v.9h-.9zM288.8 452.9h.9v.9h-.9zM288.2 455.0h.9v.9h-.9zM289.2 460.4h.9v.9h-.9zM288.5 471.0h.9v.9h-.9zM288.1 474.7h.9v.9h-.9zM288.7 461.3h.9v.9h-.9zM288.1 471.6h.9v.9h-.9zM289.3 460.3h.9v.9h-.9zM289.3 472.0h.9v.9h-.9zM288.8 461.1h.9v.9h-.9zM289.2 469.9h.9v.9h-.9zM287.8 467.5h.9v.9h-.9zM289.0 469.7h.9v.9h-.9zM289.0 478.8h.9v.9h-.9zM289.5 473.1h.9v.9h-.9zM287.7 469.0h.9v.9h-.9zM287.5 474.2h.9v.9h-.9zM289.0 474.8h.9v.9h-.9zM287.3 472.6h.9v.9h-.9zM287.2 470.8h.9v.9h-.9zM287.6 472.8h.9v.9h-.9zM288.7 467.2h.9v.9h-.9zM289.4 475.6h.9v.9h-.9zM288.2 469.2h.9v.9h-.9zM289.7 467.9h.9v.9h-.9zM288.2 480.5h.9v.9h-.9zM289.0 465.1h.9v.9h-.9zM288.5 462.6h.9v.9h-.9zM289.0 476.2h.9v.9h-.9zM288.3 472.3h.9v.9h-.9zM288.2 474.7h.9v.9h-.9zM289.3 473.8h.9v.9h-.9zM287.7 473.7h.9v.9h-.9zM288.9 468.9h.9v.9h-.9zM288.5 464.8h.9v.9h-.9zM288.8 452.2h.9v.9h-.9zM289.0 464.0h.9v.9h-.9zM289.3 458.2h.9v.9h-.9zM288.1 477.0h.9v.9h-.9zM287.9 464.4h.9v.9h-.9zM289.2 473.4h.9v.9h-.9zM288.7 479.1h.9v.9h-.9zM288.7 470.9h.9v.9h-.9zM289.2 462.3h.9v.9h-.9zM287.4 467.2h.9v.9h-.9zM288.7 480.5h.9v.9h-.9zM289.5 470.3h.9v.9h-.9zM288.3 477.3h.9v.9h-.9zM287.8 478.1h.9v.9h-.9zM287.6 460.9h.9v.9h-.9zM288.1 478.2h.9v.9h-.9zM288.8 474.0h.9v.9h-.9zM288.0 452.9h.9v.9h-.9zM287.9 471.6h.9v.9h-.9zM288.9 448.3h.9v.9h-.9zM288.6 458.0h.9v.9h-.9zM289.4 471.6h.9v.9h-.9zM289.3 458.6h.9v.9h-.9zM287.8 457.2h.9v.9h-.9zM287.6 476.5h.9v.9h-.9zM287.9 478.6h.9v.9h-.9zM288.1 473.2h.9v.9h-.9zM288.4 470.1h.9v.9h-.9zM289.3 468.6h.9v.9h-.9zM288.4 476.3h.9v.9h-.9zM289.0 472.4h.9v.9h-.9zM287.6 464.6h.9v.9h-.9zM287.5 472.5h.9v.9h-.9zM287.7 460.9h.9v.9h-.9zM288.4 471.3h.9v.9h-.9zM287.7 471.3h.9v.9h-.9zM288.5 480.5h.9v.9h-.9zM288.5 472.2h.9v.9h-.9zM288.3 477.7h.9v.9h-.9zM288.7 453.5h.9v.9h-.9zM287.9 475.6h.9v.9h-.9zM289.2 458.3h.9v.9h-.9zM288.6 448.3h.9v.9h-.9zM287.6 473.6h.9v.9h-.9zM288.4 467.4h.9v.9h-.9zM289.0 461.4h.9v.9h-.9zM287.8 475.6h.9v.9h-.9zM289.0 479.2h.9v.9h-.9zM288.5 449.7h.9v.9h-.9zM288.1 475.7h.9v.9h-.9zM287.8 461.7h.9v.9h-.9zM288.6 467.8h.9v.9h-.9zM288.7 477.6h.9v.9h-.9zM288.5 455.8h.9v.9h-.9zM288.8 473.3h.9v.9h-.9zM289.5 463.6h.9v.9h-.9zM289.6 465.4h.9v.9h-.9zM287.9 456.7h.9v.9h-.9zM287.5 471.7h.9v.9h-.9zM289.4 474.7h.9v.9h-.9zM288.7 477.4h.9v.9h-.9zM288.2 472.8h.9v.9h-.9zM288.0 471.3h.9v.9h-.9zM289.2 476.1h.9v.9h-.9zM289.3 471.6h.9v.9h-.9zM289.3 469.2h.9v.9h-.9zM289.4 464.4h.9v.9h-.9zM288.1 461.2h.9v.9h-.9zM288.2 475.1h.9v.9h-.9zM289.0 479.2h.9v.9h-.9zM289.0 462.4h.9v.9h-.9zM288.8 464.7h.9v.9h-.9zM289.5 474.8h.9v.9h-.9zM287.8 476.1h.9v.9h-.9zM288.5 476.0h.9v.9h-.9zM287.6 464.2h.9v.9h-.9zM287.6 466.1h.9v.9h-.9zM288.4 472.2h.9v.9h-.9zM288.6 473.9h.9v.9h-.9zM287.3 469.4h.9v.9h-.9zM287.8 470.8h.9v.9h-.9zM287.8 471.7h.9v.9h-.9zM288.4 449.9h.9v.9h-.9zM287.9 461.3h.9v.9h-.9zM288.9 478.0h.9v.9h-.9zM288.5 448.3h.9v.9h-.9zM287.3 470.8h.9v.9h-.9zM288.8 468.9h.9v.9h-.9zM288.0 467.0h.9v.9h-.9zM287.7 474.5h.9v.9h-.9zM288.0 468.0h.9v.9h-.9zM287.6 472.6h.9v.9h-.9zM287.7 459.6h.9v.9h-.9zM288.7 472.9h.9v.9h-.9zM288.4 465.9h.9v.9h-.9zM288.8 456.1h.9v.9h-.9zM287.8 475.9h.9v.9h-.9zM287.8 477.5h.9v.9h-.9zM287.3 474.1h.9v.9h-.9zM287.5 465.2h.9v.9h-.9zM289.6 473.1h.9v.9h-.9zM287.7 469.6h.9v.9h-.9zM288.7 454.2h.9v.9h-.9zM288.5 468.8h.9v.9h-.9zM289.5 472.8h.9v.9h-.9zM287.9 458.0h.9v.9h-.9zM288.4 471.4h.9v.9h-.9zM289.2 474.1h.9v.9h-.9zM288.1 448.3h.9v.9h-.9zM288.8 459.1h.9v.9h-.9zM289.3 476.3h.9v.9h-.9zM287.5 466.8h.9v.9h-.9zM287.9 451.1h.9v.9h-.9zM288.9 472.0h.9v.9h-.9zM288.9 460.8h.9v.9h-.9zM287.5 459.1h.9v.9h-.9zM289.0 469.6h.9v.9h-.9zM289.3 473.1h.9v.9h-.9zM287.5 473.3h.9v.9h-.9zM287.3 470.8h.9v.9h-.9zM289.4 470.4h.9v.9h-.9zM289.0 475.5h.9v.9h-.9zM288.5 480.5h.9v.9h-.9zM288.5 478.2h.9v.9h-.9zM288.5 449.3h.9v.9h-.9zM288.5 465.5h.9v.9h-.9zM287.8 475.1h.9v.9h-.9zM288.3 457.7h.9v.9h-.9zM287.6 471.4h.9v.9h-.9zM288.9 472.6h.9v.9h-.9zM288.5 479.1h.9v.9h-.9zM288.2 459.0h.9v.9h-.9zM288.2 465.1h.9v.9h-.9zM289.0 473.5h.9v.9h-.9zM288.3 459.3h.9v.9h-.9zM289.1 467.5h.9v.9h-.9zM287.8 475.4h.9v.9h-.9zM288.9 467.7h.9v.9h-.9zM288.7 477.9h.9v.9h-.9zM287.6 441.2h.9v.9h-.9zM287.5 438.9h.9v.9h-.9zM288.5 423.2h.9v.9h-.9zM289.4 430.8h.9v.9h-.9zM315.2 465.0h.9v.9h-.9zM316.9 470.8h.9v.9h-.9zM316.3 459.8h.9v.9h-.9zM317.4 468.4h.9v.9h-.9zM316.2 469.5h.9v.9h-.9zM317.5 457.8h.9v.9h-.9zM317.5 460.6h.9v.9h-.9zM315.9 469.2h.9v.9h-.9zM315.6 470.2h.9v.9h-.9zM316.0 469.1h.9v.9h-.9zM316.1 457.1h.9v.9h-.9zM315.7 468.7h.9v.9h-.9zM315.2 458.1h.9v.9h-.9zM317.0 459.2h.9v.9h-.9zM315.6 459.4h.9v.9h-.9zM316.7 454.1h.9v.9h-.9zM317.3 465.4h.9v.9h-.9zM315.7 468.9h.9v.9h-.9zM315.3 469.9h.9v.9h-.9zM316.7 460.9h.9v.9h-.9zM315.6 467.9h.9v.9h-.9zM316.1 463.8h.9v.9h-.9zM317.6 460.9h.9v.9h-.9zM317.3 461.8h.9v.9h-.9zM315.3 457.5h.9v.9h-.9zM317.2 467.9h.9v.9h-.9zM317.7 462.6h.9v.9h-.9zM316.1 455.2h.9v.9h-.9zM317.0 454.4h.9v.9h-.9zM316.1 473.2h.9v.9h-.9zM317.0 468.7h.9v.9h-.9zM317.6 460.3h.9v.9h-.9zM315.1 458.8h.9v.9h-.9zM315.2 462.8h.9v.9h-.9zM315.9 455.5h.9v.9h-.9zM316.4 467.7h.9v.9h-.9zM316.3 468.4h.9v.9h-.9zM317.1 455.8h.9v.9h-.9zM315.9 458.7h.9v.9h-.9zM316.5 469.0h.9v.9h-.9zM316.2 448.3h.9v.9h-.9zM316.6 454.1h.9v.9h-.9zM317.3 467.2h.9v.9h-.9zM316.2 457.9h.9v.9h-.9zM315.5 468.9h.9v.9h-.9zM316.7 469.9h.9v.9h-.9zM317.1 459.3h.9v.9h-.9zM317.2 460.9h.9v.9h-.9zM315.6 463.9h.9v.9h-.9zM316.8 465.9h.9v.9h-.9zM315.7 472.5h.9v.9h-.9zM316.8 463.9h.9v.9h-.9zM315.3 464.7h.9v.9h-.9zM315.8 474.8h.9v.9h-.9zM315.4 467.8h.9v.9h-.9zM316.6 454.9h.9v.9h-.9zM316.5 459.8h.9v.9h-.9zM316.8 474.6h.9v.9h-.9zM317.3 465.5h.9v.9h-.9zM316.9 472.0h.9v.9h-.9zM316.6 448.3h.9v.9h-.9zM315.4 470.4h.9v.9h-.9zM316.8 479.0h.9v.9h-.9zM315.7 467.7h.9v.9h-.9zM316.4 470.3h.9v.9h-.9zM316.9 450.8h.9v.9h-.9zM316.4 458.3h.9v.9h-.9zM315.8 474.0h.9v.9h-.9zM315.9 465.0h.9v.9h-.9zM315.2 462.6h.9v.9h-.9zM315.8 467.3h.9v.9h-.9zM317.5 460.9h.9v.9h-.9zM316.3 479.0h.9v.9h-.9zM316.1 479.0h.9v.9h-.9zM315.7 468.6h.9v.9h-.9zM317.0 452.2h.9v.9h-.9zM315.8 475.4h.9v.9h-.9zM316.3 473.7h.9v.9h-.9zM317.5 468.8h.9v.9h-.9zM317.0 462.7h.9v.9h-.9zM316.1 464.3h.9v.9h-.9zM315.9 451.9h.9v.9h-.9zM316.3 470.1h.9v.9h-.9zM316.9 457.1h.9v.9h-.9zM315.6 469.1h.9v.9h-.9zM316.9 458.9h.9v.9h-.9zM315.6 471.6h.9v.9h-.9zM316.3 469.1h.9v.9h-.9zM317.0 465.2h.9v.9h-.9zM317.1 459.0h.9v.9h-.9zM316.3 462.3h.9v.9h-.9zM316.5 453.0h.9v.9h-.9zM317.2 463.6h.9v.9h-.9zM317.3 463.9h.9v.9h-.9zM315.6 472.5h.9v.9h-.9zM315.9 470.3h.9v.9h-.9zM317.2 466.6h.9v.9h-.9zM316.6 452.5h.9v.9h-.9zM316.1 465.4h.9v.9h-.9zM315.4 467.3h.9v.9h-.9zM315.5 458.9h.9v.9h-.9zM316.5 458.3h.9v.9h-.9zM316.2 454.4h.9v.9h-.9zM317.3 465.5h.9v.9h-.9zM315.2 459.3h.9v.9h-.9zM316.5 466.2h.9v.9h-.9zM315.8 466.7h.9v.9h-.9zM316.0 476.8h.9v.9h-.9zM316.3 468.4h.9v.9h-.9zM316.7 458.0h.9v.9h-.9zM316.9 469.5h.9v.9h-.9zM317.0 455.9h.9v.9h-.9zM315.3 469.4h.9v.9h-.9zM315.2 462.2h.9v.9h-.9zM316.2 464.1h.9v.9h-.9zM317.0 457.4h.9v.9h-.9zM315.1 468.1h.9v.9h-.9zM315.3 460.4h.9v.9h-.9zM315.6 468.8h.9v.9h-.9zM316.5 448.3h.9v.9h-.9zM315.9 456.9h.9v.9h-.9zM317.5 460.8h.9v.9h-.9zM316.9 471.5h.9v.9h-.9zM316.3 467.0h.9v.9h-.9zM316.2 450.2h.9v.9h-.9zM316.5 472.8h.9v.9h-.9zM316.5 458.8h.9v.9h-.9zM315.2 466.6h.9v.9h-.9zM315.8 448.3h.9v.9h-.9zM316.5 478.1h.9v.9h-.9zM315.8 468.0h.9v.9h-.9zM317.0 464.8h.9v.9h-.9zM316.7 456.9h.9v.9h-.9zM316.2 455.1h.9v.9h-.9zM315.5 458.2h.9v.9h-.9zM315.8 468.0h.9v.9h-.9zM317.2 467.3h.9v.9h-.9zM316.8 454.8h.9v.9h-.9zM317.0 462.4h.9v.9h-.9zM315.4 463.4h.9v.9h-.9zM315.6 455.9h.9v.9h-.9zM315.8 464.2h.9v.9h-.9zM315.7 470.0h.9v.9h-.9zM315.9 469.4h.9v.9h-.9zM317.0 467.8h.9v.9h-.9zM315.5 457.2h.9v.9h-.9zM316.0 448.8h.9v.9h-.9zM317.0 459.0h.9v.9h-.9zM316.2 458.6h.9v.9h-.9zM317.2 471.5h.9v.9h-.9zM315.3 456.5h.9v.9h-.9zM317.5 461.0h.9v.9h-.9zM315.6 453.4h.9v.9h-.9zM315.4 470.1h.9v.9h-.9zM316.0 463.8h.9v.9h-.9zM316.3 462.6h.9v.9h-.9zM315.2 460.8h.9v.9h-.9zM315.6 459.5h.9v.9h-.9zM316.2 473.1h.9v.9h-.9zM315.9 453.0h.9v.9h-.9zM315.7 475.8h.9v.9h-.9zM316.1 467.7h.9v.9h-.9zM315.2 466.3h.9v.9h-.9zM316.6 466.7h.9v.9h-.9zM315.5 465.6h.9v.9h-.9zM315.9 455.0h.9v.9h-.9zM316.7 465.9h.9v.9h-.9zM317.1 458.1h.9v.9h-.9zM316.4 463.6h.9v.9h-.9zM316.9 467.7h.9v.9h-.9zM316.1 449.9h.9v.9h-.9zM317.1 472.3h.9v.9h-.9zM317.1 469.5h.9v.9h-.9zM315.5 466.1h.9v.9h-.9zM316.5 472.2h.9v.9h-.9zM316.9 452.6h.9v.9h-.9zM315.5 463.5h.9v.9h-.9zM316.7 453.2h.9v.9h-.9zM316.3 462.1h.9v.9h-.9zM316.8 467.1h.9v.9h-.9zM316.1 456.8h.9v.9h-.9zM316.2 448.3h.9v.9h-.9zM316.1 464.7h.9v.9h-.9zM316.4 474.9h.9v.9h-.9zM316.6 448.3h.9v.9h-.9zM316.3 470.1h.9v.9h-.9zM316.9 464.8h.9v.9h-.9zM316.8 476.3h.9v.9h-.9zM316.3 465.5h.9v.9h-.9zM316.2 450.3h.9v.9h-.9zM316.7 472.0h.9v.9h-.9zM315.8 451.4h.9v.9h-.9zM315.2 465.7h.9v.9h-.9zM316.8 457.1h.9v.9h-.9zM317.3 460.0h.9v.9h-.9zM315.8 458.3h.9v.9h-.9zM316.1 455.7h.9v.9h-.9zM317.4 463.4h.9v.9h-.9zM316.1 448.3h.9v.9h-.9zM315.0 464.0h.9v.9h-.9zM316.4 461.5h.9v.9h-.9zM316.0 454.0h.9v.9h-.9zM316.8 479.0h.9v.9h-.9zM316.7 448.3h.9v.9h-.9zM316.9 460.6h.9v.9h-.9zM316.8 477.2h.9v.9h-.9zM316.1 458.1h.9v.9h-.9zM316.9 462.6h.9v.9h-.9zM316.6 466.0h.9v.9h-.9zM316.9 474.4h.9v.9h-.9zM316.1 471.9h.9v.9h-.9zM316.2 448.3h.9v.9h-.9zM316.6 473.8h.9v.9h-.9zM317.0 468.6h.9v.9h-.9zM316.1 451.1h.9v.9h-.9zM316.7 460.9h.9v.9h-.9zM317.4 464.2h.9v.9h-.9zM315.8 452.1h.9v.9h-.9zM317.3 454.3h.9v.9h-.9zM316.7 448.3h.9v.9h-.9zM315.7 473.3h.9v.9h-.9zM316.3 448.3h.9v.9h-.9zM317.3 456.0h.9v.9h-.9zM317.3 463.1h.9v.9h-.9zM315.9 468.8h.9v.9h-.9zM316.1 461.1h.9v.9h-.9zM316.6 470.7h.9v.9h-.9zM315.5 464.3h.9v.9h-.9zM315.2 460.6h.9v.9h-.9zM317.3 463.8h.9v.9h-.9zM316.5 477.9h.9v.9h-.9zM315.0 467.1h.9v.9h-.9zM315.1 463.3h.9v.9h-.9zM316.1 474.4h.9v.9h-.9zM316.2 443.7h.9v.9h-.9zM316.8 447.3h.9v.9h-.9zM326.0 467.0h.9v.9h-.9zM327.4 466.3h.9v.9h-.9zM325.9 477.2h.9v.9h-.9zM327.0 455.7h.9v.9h-.9zM325.9 468.3h.9v.9h-.9zM325.0 457.5h.9v.9h-.9zM325.8 468.8h.9v.9h-.9zM325.9 468.3h.9v.9h-.9zM325.3 477.4h.9v.9h-.9zM325.8 445.6h.9v.9h-.9zM325.6 473.3h.9v.9h-.9zM325.8 466.2h.9v.9h-.9zM325.0 465.4h.9v.9h-.9zM324.1 464.8h.9v.9h-.9zM326.2 473.7h.9v.9h-.9zM325.2 460.2h.9v.9h-.9zM326.0 459.2h.9v.9h-.9zM325.9 446.8h.9v.9h-.9zM324.8 467.3h.9v.9h-.9zM325.5 477.4h.9v.9h-.9zM325.9 461.3h.9v.9h-.9zM327.1 468.2h.9v.9h-.9zM327.2 462.1h.9v.9h-.9zM326.5 447.1h.9v.9h-.9zM325.2 434.5h.9v.9h-.9zM324.6 454.2h.9v.9h-.9zM325.9 456.7h.9v.9h-.9zM326.2 442.5h.9v.9h-.9zM326.4 471.9h.9v.9h-.9zM326.5 442.7h.9v.9h-.9zM327.0 464.4h.9v.9h-.9zM324.2 464.7h.9v.9h-.9zM326.8 465.7h.9v.9h-.9zM325.3 473.5h.9v.9h-.9zM326.2 469.4h.9v.9h-.9zM326.8 467.1h.9v.9h-.9zM325.8 465.2h.9v.9h-.9zM326.7 453.1h.9v.9h-.9zM326.3 464.9h.9v.9h-.9zM326.2 441.3h.9v.9h-.9zM324.9 465.4h.9v.9h-.9zM325.5 467.2h.9v.9h-.9zM325.1 466.1h.9v.9h-.9zM324.5 467.0h.9v.9h-.9zM326.3 464.3h.9v.9h-.9zM324.8 457.8h.9v.9h-.9zM325.5 469.1h.9v.9h-.9zM325.2 453.4h.9v.9h-.9zM326.6 458.7h.9v.9h-.9zM326.0 474.4h.9v.9h-.9zM325.0 455.0h.9v.9h-.9zM324.7 468.0h.9v.9h-.9zM326.1 458.4h.9v.9h-.9zM325.5 435.1h.9v.9h-.9zM325.8 471.0h.9v.9h-.9zM324.8 467.0h.9v.9h-.9zM326.4 450.3h.9v.9h-.9zM325.4 453.7h.9v.9h-.9zM326.6 470.8h.9v.9h-.9zM325.2 465.2h.9v.9h-.9zM326.7 448.3h.9v.9h-.9zM325.2 472.5h.9v.9h-.9zM325.5 466.1h.9v.9h-.9zM326.7 471.3h.9v.9h-.9zM325.3 477.4h.9v.9h-.9zM326.1 466.7h.9v.9h-.9zM325.2 477.4h.9v.9h-.9zM326.2 474.8h.9v.9h-.9zM326.5 459.5h.9v.9h-.9zM325.4 455.3h.9v.9h-.9zM324.3 456.9h.9v.9h-.9zM325.1 474.4h.9v.9h-.9zM326.6 447.5h.9v.9h-.9zM326.1 468.8h.9v.9h-.9zM325.7 460.0h.9v.9h-.9zM325.5 465.9h.9v.9h-.9zM325.4 469.6h.9v.9h-.9zM327.1 457.2h.9v.9h-.9zM325.0 471.0h.9v.9h-.9zM325.6 460.2h.9v.9h-.9zM325.0 445.3h.9v.9h-.9zM324.4 461.9h.9v.9h-.9zM324.8 458.0h.9v.9h-.9zM325.6 477.4h.9v.9h-.9zM324.1 466.3h.9v.9h-.9zM326.3 464.8h.9v.9h-.9zM325.3 440.2h.9v.9h-.9zM325.8 450.9h.9v.9h-.9zM325.6 464.7h.9v.9h-.9zM326.5 460.0h.9v.9h-.9zM324.7 465.7h.9v.9h-.9zM324.8 448.4h.9v.9h-.9zM325.4 474.3h.9v.9h-.9zM326.0 467.4h.9v.9h-.9zM324.8 470.9h.9v.9h-.9zM326.2 469.6h.9v.9h-.9zM325.1 466.3h.9v.9h-.9zM326.8 459.1h.9v.9h-.9zM326.0 436.1h.9v.9h-.9zM325.0 468.9h.9v.9h-.9zM326.4 460.8h.9v.9h-.9zM326.4 452.3h.9v.9h-.9zM325.4 472.0h.9v.9h-.9zM325.2 477.4h.9v.9h-.9zM325.4 472.4h.9v.9h-.9zM325.0 465.9h.9v.9h-.9zM326.5 460.4h.9v.9h-.9zM324.6 445.9h.9v.9h-.9zM323.9 465.9h.9v.9h-.9zM326.1 447.8h.9v.9h-.9zM326.4 469.0h.9v.9h-.9zM324.8 469.7h.9v.9h-.9zM325.0 473.0h.9v.9h-.9zM325.2 450.5h.9v.9h-.9zM325.9 450.4h.9v.9h-.9zM326.1 444.7h.9v.9h-.9zM324.2 464.3h.9v.9h-.9zM325.7 455.9h.9v.9h-.9zM325.3 438.0h.9v.9h-.9zM326.0 474.6h.9v.9h-.9zM327.3 464.9h.9v.9h-.9zM325.5 434.5h.9v.9h-.9zM327.0 459.3h.9v.9h-.9zM326.5 449.3h.9v.9h-.9zM325.4 434.5h.9v.9h-.9zM324.3 461.7h.9v.9h-.9zM324.8 457.5h.9v.9h-.9zM325.5 467.2h.9v.9h-.9zM326.0 438.9h.9v.9h-.9zM327.1 460.2h.9v.9h-.9zM325.2 471.3h.9v.9h-.9zM327.0 458.0h.9v.9h-.9zM326.2 476.5h.9v.9h-.9zM326.1 444.6h.9v.9h-.9zM325.4 436.7h.9v.9h-.9zM326.2 458.1h.9v.9h-.9zM327.1 453.4h.9v.9h-.9zM326.3 453.2h.9v.9h-.9zM324.4 463.3h.9v.9h-.9zM324.6 467.6h.9v.9h-.9zM326.5 471.9h.9v.9h-.9zM324.8 452.5h.9v.9h-.9zM325.5 477.4h.9v.9h-.9zM327.2 457.9h.9v.9h-.9zM325.3 434.5h.9v.9h-.9zM327.1 467.3h.9v.9h-.9zM326.3 449.4h.9v.9h-.9zM324.8 473.6h.9v.9h-.9zM326.1 473.5h.9v.9h-.9zM326.1 448.7h.9v.9h-.9zM327.2 464.4h.9v.9h-.9zM326.7 459.9h.9v.9h-.9zM325.8 459.6h.9v.9h-.9zM325.6 452.7h.9v.9h-.9zM325.4 450.1h.9v.9h-.9zM326.7 472.0h.9v.9h-.9zM326.1 473.2h.9v.9h-.9zM324.2 469.4h.9v.9h-.9zM326.4 472.5h.9v.9h-.9zM324.1 456.8h.9v.9h-.9zM324.3 464.6h.9v.9h-.9zM326.5 466.3h.9v.9h-.9zM326.0 445.0h.9v.9h-.9zM325.1 475.5h.9v.9h-.9zM325.4 463.3h.9v.9h-.9zM327.4 464.0h.9v.9h-.9zM326.0 436.9h.9v.9h-.9zM326.3 456.2h.9v.9h-.9zM325.7 456.0h.9v.9h-.9zM324.3 464.6h.9v.9h-.9zM324.8 468.9h.9v.9h-.9zM326.2 458.7h.9v.9h-.9zM325.7 470.4h.9v.9h-.9zM324.8 469.4h.9v.9h-.9zM324.4 458.3h.9v.9h-.9zM324.3 453.0h.9v.9h-.9zM325.9 477.4h.9v.9h-.9zM326.6 465.7h.9v.9h-.9zM325.8 463.1h.9v.9h-.9zM326.5 468.8h.9v.9h-.9zM326.4 448.8h.9v.9h-.9zM325.0 474.5h.9v.9h-.9zM326.2 445.6h.9v.9h-.9zM326.4 470.9h.9v.9h-.9zM325.8 477.4h.9v.9h-.9zM325.9 470.0h.9v.9h-.9zM324.3 463.6h.9v.9h-.9zM325.5 444.9h.9v.9h-.9zM325.3 451.2h.9v.9h-.9zM325.2 459.1h.9v.9h-.9zM326.4 465.4h.9v.9h-.9zM325.5 462.9h.9v.9h-.9zM324.0 467.6h.9v.9h-.9zM327.1 468.0h.9v.9h-.9zM324.4 451.5h.9v.9h-.9zM326.8 465.6h.9v.9h-.9zM326.7 463.7h.9v.9h-.9zM325.4 441.2h.9v.9h-.9zM326.8 455.5h.9v.9h-.9zM325.8 435.9h.9v.9h-.9zM324.4 466.0h.9v.9h-.9zM326.2 448.2h.9v.9h-.9zM325.6 456.4h.9v.9h-.9zM326.5 473.4h.9v.9h-.9zM325.5 471.4h.9v.9h-.9zM326.9 452.7h.9v.9h-.9zM325.1 467.8h.9v.9h-.9zM325.1 467.7h.9v.9h-.9zM326.4 460.7h.9v.9h-.9zM327.1 455.7h.9v.9h-.9zM324.4 468.6h.9v.9h-.9zM325.9 446.3h.9v.9h-.9zM324.3 465.3h.9v.9h-.9zM324.5 465.8h.9v.9h-.9zM325.7 440.7h.9v.9h-.9zM325.8 442.6h.9v.9h-.9zM324.8 462.6h.9v.9h-.9zM327.0 455.9h.9v.9h-.9zM324.6 461.6h.9v.9h-.9zM325.3 457.0h.9v.9h-.9zM325.4 470.5h.9v.9h-.9zM326.9 468.6h.9v.9h-.9zM327.1 454.4h.9v.9h-.9zM326.3 466.8h.9v.9h-.9zM327.0 463.3h.9v.9h-.9zM326.3 456.4h.9v.9h-.9zM324.6 454.4h.9v.9h-.9zM326.3 462.7h.9v.9h-.9zM325.5 474.7h.9v.9h-.9zM324.8 464.0h.9v.9h-.9zM325.1 456.0h.9v.9h-.9zM325.1 447.4h.9v.9h-.9zM326.4 449.3h.9v.9h-.9zM326.4 473.9h.9v.9h-.9zM324.5 465.9h.9v.9h-.9zM325.8 461.4h.9v.9h-.9zM324.9 470.3h.9v.9h-.9zM326.5 467.9h.9v.9h-.9zM325.4 434.5h.9v.9h-.9zM324.5 469.7h.9v.9h-.9zM325.2 472.9h.9v.9h-.9zM325.1 439.8h.9v.9h-.9zM326.0 473.7h.9v.9h-.9zM324.8 461.5h.9v.9h-.9zM326.0 460.0h.9v.9h-.9zM324.5 464.0h.9v.9h-.9zM324.6 454.2h.9v.9h-.9zM326.2 466.5h.9v.9h-.9zM324.5 470.1h.9v.9h-.9zM325.3 436.9h.9v.9h-.9zM326.2 472.6h.9v.9h-.9zM325.5 465.6h.9v.9h-.9zM325.0 463.0h.9v.9h-.9zM326.0 461.9h.9v.9h-.9zM326.8 468.2h.9v.9h-.9zM324.4 468.3h.9v.9h-.9zM324.4 466.2h.9v.9h-.9zM325.2 470.8h.9v.9h-.9zM324.4 456.6h.9v.9h-.9zM325.8 451.3h.9v.9h-.9zM324.9 474.0h.9v.9h-.9zM326.8 449.1h.9v.9h-.9zM325.7 474.2h.9v.9h-.9zM325.9 469.7h.9v.9h-.9zM327.0 464.2h.9v.9h-.9zM325.3 457.6h.9v.9h-.9zM326.3 472.6h.9v.9h-.9zM326.7 470.4h.9v.9h-.9zM326.2 448.9h.9v.9h-.9zM325.3 444.3h.9v.9h-.9zM326.7 456.2h.9v.9h-.9zM325.2 449.9h.9v.9h-.9zM325.1 464.8h.9v.9h-.9zM325.5 477.4h.9v.9h-.9zM325.2 464.9h.9v.9h-.9zM326.5 445.4h.9v.9h-.9zM324.6 465.3h.9v.9h-.9zM324.1 467.0h.9v.9h-.9zM325.7 472.6h.9v.9h-.9zM325.9 461.0h.9v.9h-.9zM324.4 458.3h.9v.9h-.9zM326.1 465.9h.9v.9h-.9zM324.3 469.7h.9v.9h-.9zM325.3 434.5h.9v.9h-.9zM326.5 469.0h.9v.9h-.9zM325.7 449.3h.9v.9h-.9zM325.6 464.5h.9v.9h-.9zM326.9 449.3h.9v.9h-.9zM326.5 466.8h.9v.9h-.9zM326.5 452.9h.9v.9h-.9zM325.5 447.7h.9v.9h-.9zM326.4 471.1h.9v.9h-.9zM327.1 465.2h.9v.9h-.9zM325.6 464.6h.9v.9h-.9zM326.4 467.9h.9v.9h-.9zM325.3 469.2h.9v.9h-.9zM324.3 465.6h.9v.9h-.9zM325.9 460.7h.9v.9h-.9zM324.1 463.3h.9v.9h-.9zM326.5 471.5h.9v.9h-.9zM326.0 469.7h.9v.9h-.9zM327.3 460.0h.9v.9h-.9zM324.2 466.2h.9v.9h-.9zM325.4 436.7h.9v.9h-.9zM326.0 434.5h.9v.9h-.9zM325.1 473.3h.9v.9h-.9zM324.3 452.6h.9v.9h-.9zM324.9 465.2h.9v.9h-.9zM325.2 472.6h.9v.9h-.9zM326.3 467.7h.9v.9h-.9zM325.1 471.6h.9v.9h-.9zM325.5 461.4h.9v.9h-.9zM326.8 469.5h.9v.9h-.9zM326.1 476.3h.9v.9h-.9zM326.5 459.0h.9v.9h-.9zM324.5 469.0h.9v.9h-.9zM326.0 456.0h.9v.9h-.9zM326.7 453.3h.9v.9h-.9zM325.1 453.2h.9v.9h-.9zM327.2 457.1h.9v.9h-.9zM325.8 465.5h.9v.9h-.9zM327.3 466.5h.9v.9h-.9zM327.1 469.4h.9v.9h-.9zM327.1 468.2h.9v.9h-.9zM325.4 434.5h.9v.9h-.9zM325.2 466.9h.9v.9h-.9zM326.1 477.4h.9v.9h-.9zM326.5 449.7h.9v.9h-.9zM325.4 434.5h.9v.9h-.9zM325.8 446.4h.9v.9h-.9zM324.3 458.8h.9v.9h-.9zM324.8 473.6h.9v.9h-.9zM324.2 466.5h.9v.9h-.9zM326.7 467.4h.9v.9h-.9zM326.9 453.4h.9v.9h-.9zM325.4 477.4h.9v.9h-.9zM325.9 474.9h.9v.9h-.9zM325.3 465.6h.9v.9h-.9zM326.9 466.9h.9v.9h-.9zM325.8 456.3h.9v.9h-.9zM325.5 473.3h.9v.9h-.9zM325.5 437.5h.9v.9h-.9zM324.2 464.8h.9v.9h-.9zM324.3 464.6h.9v.9h-.9zM326.8 453.9h.9v.9h-.9zM324.9 436.6h.9v.9h-.9zM324.2 469.4h.9v.9h-.9zM324.8 456.1h.9v.9h-.9zM324.3 468.8h.9v.9h-.9zM324.2 464.9h.9v.9h-.9zM325.5 434.5h.9v.9h-.9zM325.6 448.1h.9v.9h-.9zM325.3 445.4h.9v.9h-.9zM324.8 470.2h.9v.9h-.9zM326.9 452.9h.9v.9h-.9zM326.4 452.6h.9v.9h-.9zM326.0 466.7h.9v.9h-.9zM325.6 466.9h.9v.9h-.9zM325.4 456.3h.9v.9h-.9zM325.6 445.5h.9v.9h-.9zM325.7 477.4h.9v.9h-.9zM325.3 435.0h.9v.9h-.9zM326.3 464.8h.9v.9h-.9zM325.3 469.3h.9v.9h-.9zM326.4 473.1h.9v.9h-.9zM325.1 456.0h.9v.9h-.9zM325.6 469.5h.9v.9h-.9zM326.1 466.6h.9v.9h-.9zM324.1 464.6h.9v.9h-.9zM325.4 463.7h.9v.9h-.9zM325.0 443.5h.9v.9h-.9zM325.3 465.9h.9v.9h-.9zM325.8 470.1h.9v.9h-.9zM326.4 448.2h.9v.9h-.9zM327.0 464.4h.9v.9h-.9zM324.3 470.1h.9v.9h-.9zM324.9 443.4h.9v.9h-.9zM325.4 471.9h.9v.9h-.9zM327.0 470.6h.9v.9h-.9zM327.0 467.7h.9v.9h-.9zM324.0 465.5h.9v.9h-.9zM326.2 467.8h.9v.9h-.9zM327.1 466.4h.9v.9h-.9zM324.2 469.1h.9v.9h-.9zM327.3 461.1h.9v.9h-.9zM326.7 466.4h.9v.9h-.9zM326.4 458.1h.9v.9h-.9zM326.7 466.0h.9v.9h-.9zM324.2 465.2h.9v.9h-.9zM326.8 465.1h.9v.9h-.9zM324.3 465.6h.9v.9h-.9zM325.0 435.0h.9v.9h-.9zM326.2 474.0h.9v.9h-.9zM327.0 470.1h.9v.9h-.9zM325.2 477.4h.9v.9h-.9zM325.0 471.8h.9v.9h-.9zM324.9 440.1h.9v.9h-.9zM325.3 434.5h.9v.9h-.9zM325.7 474.5h.9v.9h-.9zM325.1 464.6h.9v.9h-.9zM327.0 463.6h.9v.9h-.9zM326.3 441.1h.9v.9h-.9zM325.8 470.4h.9v.9h-.9zM324.3 457.6h.9v.9h-.9zM326.4 461.0h.9v.9h-.9zM326.1 465.8h.9v.9h-.9zM326.1 459.5h.9v.9h-.9zM325.7 436.8h.9v.9h-.9zM327.0 463.4h.9v.9h-.9zM327.1 468.1h.9v.9h-.9zM324.1 462.8h.9v.9h-.9zM325.7 446.6h.9v.9h-.9zM326.0 447.8h.9v.9h-.9zM326.5 469.0h.9v.9h-.9zM325.9 434.5h.9v.9h-.9zM324.3 464.2h.9v.9h-.9zM324.0 460.1h.9v.9h-.9zM324.0 457.8h.9v.9h-.9zM324.0 456.9h.9v.9h-.9zM324.8 457.6h.9v.9h-.9zM325.1 452.3h.9v.9h-.9zM326.8 457.2h.9v.9h-.9zM324.7 464.9h.9v.9h-.9zM325.5 464.4h.9v.9h-.9zM324.6 451.0h.9v.9h-.9zM325.7 476.8h.9v.9h-.9zM326.2 455.6h.9v.9h-.9zM325.9 472.6h.9v.9h-.9zM326.9 461.9h.9v.9h-.9zM327.1 464.9h.9v.9h-.9zM325.1 463.3h.9v.9h-.9zM326.8 455.3h.9v.9h-.9zM327.1 467.6h.9v.9h-.9zM325.9 451.7h.9v.9h-.9zM324.2 465.1h.9v.9h-.9zM324.8 470.8h.9v.9h-.9zM326.1 460.7h.9v.9h-.9zM326.4 473.6h.9v.9h-.9zM324.5 466.4h.9v.9h-.9zM324.8 446.5h.9v.9h-.9zM326.0 446.0h.9v.9h-.9zM325.2 439.2h.9v.9h-.9zM325.7 420.8h.9v.9h-.9zM324.8 433.9h.9v.9h-.9zM325.9 421.4h.9v.9h-.9zM326.2 432.6h.9v.9h-.9zM325.8 428.9h.9v.9h-.9zM325.3 422.3h.9v.9h-.9zM325.4 412.7h.9v.9h-.9zM325.7 424.7h.9v.9h-.9zM335.0 483.7h.9v.9h-.9zM335.4 476.2h.9v.9h-.9zM334.5 483.5h.9v.9h-.9zM334.7 477.1h.9v.9h-.9zM335.7 474.0h.9v.9h-.9zM334.7 467.7h.9v.9h-.9zM336.6 477.9h.9v.9h-.9zM334.8 485.1h.9v.9h-.9zM334.9 485.1h.9v.9h-.9zM333.3 474.8h.9v.9h-.9zM333.8 466.1h.9v.9h-.9zM333.4 473.6h.9v.9h-.9zM335.0 465.7h.9v.9h-.9zM334.6 477.1h.9v.9h-.9zM336.0 461.2h.9v.9h-.9zM334.4 473.9h.9v.9h-.9zM336.0 475.0h.9v.9h-.9zM334.1 462.4h.9v.9h-.9zM334.6 467.8h.9v.9h-.9zM334.8 479.1h.9v.9h-.9zM335.1 482.2h.9v.9h-.9zM334.4 477.2h.9v.9h-.9zM335.1 462.1h.9v.9h-.9zM335.8 471.9h.9v.9h-.9zM336.3 469.8h.9v.9h-.9zM334.3 468.3h.9v.9h-.9zM334.9 476.2h.9v.9h-.9zM333.8 479.3h.9v.9h-.9zM334.7 474.3h.9v.9h-.9zM335.7 477.4h.9v.9h-.9zM334.7 483.0h.9v.9h-.9zM334.9 482.3h.9v.9h-.9zM333.9 479.2h.9v.9h-.9zM333.4 474.4h.9v.9h-.9zM335.9 465.1h.9v.9h-.9zM334.9 465.1h.9v.9h-.9zM336.3 468.7h.9v.9h-.9zM335.0 477.9h.9v.9h-.9zM335.1 483.2h.9v.9h-.9zM335.5 454.0h.9v.9h-.9zM335.0 475.2h.9v.9h-.9zM334.8 478.2h.9v.9h-.9zM335.1 464.2h.9v.9h-.9zM335.7 461.6h.9v.9h-.9zM334.6 485.1h.9v.9h-.9zM334.9 460.2h.9v.9h-.9zM333.7 474.6h.9v.9h-.9zM335.5 485.1h.9v.9h-.9zM334.8 477.7h.9v.9h-.9zM336.0 476.3h.9v.9h-.9zM333.4 469.6h.9v.9h-.9zM334.6 485.1h.9v.9h-.9zM334.6 485.1h.9v.9h-.9zM334.3 480.6h.9v.9h-.9zM334.6 471.7h.9v.9h-.9zM334.4 476.6h.9v.9h-.9zM335.0 481.2h.9v.9h-.9zM335.2 472.7h.9v.9h-.9zM335.5 465.6h.9v.9h-.9zM334.3 456.7h.9v.9h-.9zM336.6 474.2h.9v.9h-.9zM335.7 482.3h.9v.9h-.9zM334.9 470.6h.9v.9h-.9zM335.1 483.4h.9v.9h-.9zM335.3 474.3h.9v.9h-.9zM336.1 478.1h.9v.9h-.9zM334.7 452.9h.9v.9h-.9zM336.2 473.7h.9v.9h-.9zM335.2 469.2h.9v.9h-.9zM334.3 485.1h.9v.9h-.9zM335.0 481.8h.9v.9h-.9zM334.3 462.8h.9v.9h-.9zM334.1 477.6h.9v.9h-.9zM335.1 476.7h.9v.9h-.9zM334.4 461.0h.9v.9h-.9zM336.2 477.0h.9v.9h-.9zM336.1 461.9h.9v.9h-.9zM333.9 478.1h.9v.9h-.9zM335.7 477.9h.9v.9h-.9zM335.0 464.0h.9v.9h-.9zM334.9 458.5h.9v.9h-.9zM334.4 480.7h.9v.9h-.9zM334.3 461.6h.9v.9h-.9zM335.0 476.0h.9v.9h-.9zM336.4 475.1h.9v.9h-.9zM334.6 484.7h.9v.9h-.9zM336.2 473.9h.9v.9h-.9zM334.4 476.4h.9v.9h-.9zM334.5 472.9h.9v.9h-.9zM335.5 478.2h.9v.9h-.9zM334.2 478.3h.9v.9h-.9zM335.4 470.8h.9v.9h-.9zM336.0 481.0h.9v.9h-.9zM335.0 469.0h.9v.9h-.9zM334.9 452.9h.9v.9h-.9zM334.5 469.7h.9v.9h-.9zM334.9 465.9h.9v.9h-.9zM335.7 479.6h.9v.9h-.9zM335.1 458.3h.9v.9h-.9zM335.0 477.0h.9v.9h-.9zM335.1 455.0h.9v.9h-.9zM333.7 469.2h.9v.9h-.9zM335.6 478.3h.9v.9h-.9zM336.2 476.4h.9v.9h-.9zM334.8 476.3h.9v.9h-.9zM334.4 477.5h.9v.9h-.9zM333.7 463.8h.9v.9h-.9zM335.1 462.3h.9v.9h-.9zM334.2 482.8h.9v.9h-.9zM334.3 482.2h.9v.9h-.9zM333.5 468.1h.9v.9h-.9zM335.4 479.9h.9v.9h-.9zM336.3 475.8h.9v.9h-.9zM336.4 477.5h.9v.9h-.9zM334.3 460.1h.9v.9h-.9zM335.1 479.2h.9v.9h-.9zM335.4 479.8h.9v.9h-.9zM334.8 475.8h.9v.9h-.9zM334.4 459.8h.9v.9h-.9zM334.9 467.0h.9v.9h-.9zM336.4 479.1h.9v.9h-.9zM335.9 471.9h.9v.9h-.9zM335.9 464.4h.9v.9h-.9zM333.5 478.4h.9v.9h-.9zM335.4 479.6h.9v.9h-.9zM334.0 479.4h.9v.9h-.9zM336.1 478.4h.9v.9h-.9zM335.0 478.6h.9v.9h-.9zM335.1 480.3h.9v.9h-.9zM334.4 475.1h.9v.9h-.9zM335.1 452.9h.9v.9h-.9zM336.2 474.9h.9v.9h-.9zM335.3 470.0h.9v.9h-.9zM334.5 482.1h.9v.9h-.9zM335.5 483.3h.9v.9h-.9zM334.7 470.6h.9v.9h-.9zM335.2 455.1h.9v.9h-.9zM335.1 464.8h.9v.9h-.9zM335.5 479.7h.9v.9h-.9zM334.9 477.5h.9v.9h-.9zM334.4 472.7h.9v.9h-.9zM335.7 482.6h.9v.9h-.9zM333.6 476.6h.9v.9h-.9zM334.0 462.1h.9v.9h-.9zM334.7 483.4h.9v.9h-.9zM336.4 470.5h.9v.9h-.9zM333.9 463.0h.9v.9h-.9zM335.2 483.4h.9v.9h-.9zM335.0 461.7h.9v.9h-.9zM336.2 478.6h.9v.9h-.9zM335.2 455.9h.9v.9h-.9zM333.4 476.1h.9v.9h-.9zM334.9 466.9h.9v.9h-.9zM334.0 478.3h.9v.9h-.9zM335.5 481.3h.9v.9h-.9zM335.8 470.1h.9v.9h-.9zM336.2 479.5h.9v.9h-.9zM335.0 483.1h.9v.9h-.9zM335.5 477.9h.9v.9h-.9zM334.6 460.6h.9v.9h-.9zM334.4 463.1h.9v.9h-.9zM334.0 482.0h.9v.9h-.9zM336.5 473.5h.9v.9h-.9zM334.6 471.6h.9v.9h-.9zM334.8 482.2h.9v.9h-.9zM336.5 472.3h.9v.9h-.9zM334.1 462.8h.9v.9h-.9zM335.0 473.5h.9v.9h-.9zM336.5 477.1h.9v.9h-.9zM336.3 474.0h.9v.9h-.9zM334.1 471.8h.9v.9h-.9zM335.8 470.4h.9v.9h-.9zM335.0 465.6h.9v.9h-.9zM336.4 469.9h.9v.9h-.9zM334.5 466.0h.9v.9h-.9zM333.7 480.0h.9v.9h-.9zM334.6 482.8h.9v.9h-.9zM334.7 456.0h.9v.9h-.9zM334.6 477.0h.9v.9h-.9zM334.6 482.6h.9v.9h-.9zM335.2 458.7h.9v.9h-.9zM333.6 469.3h.9v.9h-.9zM333.9 471.2h.9v.9h-.9zM334.4 478.0h.9v.9h-.9zM333.8 476.0h.9v.9h-.9zM335.5 467.1h.9v.9h-.9zM335.6 475.7h.9v.9h-.9zM335.1 454.9h.9v.9h-.9zM334.5 477.5h.9v.9h-.9zM334.5 476.4h.9v.9h-.9zM335.7 482.6h.9v.9h-.9zM334.6 465.3h.9v.9h-.9zM333.6 475.7h.9v.9h-.9zM335.0 478.9h.9v.9h-.9zM335.5 485.0h.9v.9h-.9zM333.4 477.9h.9v.9h-.9zM335.1 452.9h.9v.9h-.9zM334.7 477.1h.9v.9h-.9zM334.3 466.9h.9v.9h-.9zM335.9 464.3h.9v.9h-.9zM335.2 478.4h.9v.9h-.9zM336.0 469.0h.9v.9h-.9zM334.4 466.9h.9v.9h-.9zM334.9 464.0h.9v.9h-.9zM333.9 476.9h.9v.9h-.9zM335.9 468.6h.9v.9h-.9zM333.5 473.7h.9v.9h-.9zM334.9 476.5h.9v.9h-.9zM334.8 452.9h.9v.9h-.9zM334.7 477.5h.9v.9h-.9zM335.1 485.1h.9v.9h-.9zM334.3 469.3h.9v.9h-.9zM334.8 455.7h.9v.9h-.9zM335.1 479.3h.9v.9h-.9zM334.4 457.5h.9v.9h-.9zM333.3 477.2h.9v.9h-.9zM335.3 467.1h.9v.9h-.9zM335.3 481.5h.9v.9h-.9zM334.9 485.1h.9v.9h-.9zM333.3 476.6h.9v.9h-.9zM334.7 478.9h.9v.9h-.9zM335.2 474.4h.9v.9h-.9zM335.6 473.5h.9v.9h-.9zM335.6 478.4h.9v.9h-.9zM334.6 477.6h.9v.9h-.9zM335.6 482.5h.9v.9h-.9zM336.2 478.6h.9v.9h-.9zM336.5 477.8h.9v.9h-.9zM336.0 468.1h.9v.9h-.9zM334.9 482.1h.9v.9h-.9zM335.1 470.9h.9v.9h-.9zM334.0 482.3h.9v.9h-.9zM336.1 470.6h.9v.9h-.9zM336.3 474.5h.9v.9h-.9zM335.4 462.9h.9v.9h-.9zM335.2 461.4h.9v.9h-.9zM335.1 481.0h.9v.9h-.9zM334.7 471.3h.9v.9h-.9zM336.0 481.2h.9v.9h-.9zM335.1 480.3h.9v.9h-.9zM335.1 471.5h.9v.9h-.9zM336.2 476.8h.9v.9h-.9zM334.9 475.5h.9v.9h-.9zM334.5 484.2h.9v.9h-.9zM334.9 457.4h.9v.9h-.9zM336.3 474.0h.9v.9h-.9zM334.9 468.5h.9v.9h-.9zM334.5 477.2h.9v.9h-.9zM336.6 476.3h.9v.9h-.9zM335.1 475.5h.9v.9h-.9zM333.9 476.1h.9v.9h-.9zM336.2 471.6h.9v.9h-.9zM335.0 479.3h.9v.9h-.9zM334.3 473.2h.9v.9h-.9zM335.3 478.9h.9v.9h-.9zM335.0 472.8h.9v.9h-.9zM334.5 480.7h.9v.9h-.9zM335.3 478.8h.9v.9h-.9zM333.9 478.0h.9v.9h-.9zM336.0 477.5h.9v.9h-.9zM334.9 467.6h.9v.9h-.9zM335.2 477.5h.9v.9h-.9zM335.4 476.0h.9v.9h-.9zM334.9 466.5h.9v.9h-.9zM336.1 477.0h.9v.9h-.9zM334.3 469.6h.9v.9h-.9zM336.2 480.1h.9v.9h-.9zM336.6 474.6h.9v.9h-.9zM334.4 456.8h.9v.9h-.9zM333.3 477.4h.9v.9h-.9zM334.9 472.6h.9v.9h-.9zM335.8 471.9h.9v.9h-.9zM334.5 454.2h.9v.9h-.9zM336.3 477.6h.9v.9h-.9zM334.4 478.5h.9v.9h-.9zM333.9 474.4h.9v.9h-.9zM335.2 479.3h.9v.9h-.9zM334.2 482.9h.9v.9h-.9zM334.4 482.3h.9v.9h-.9zM334.6 475.9h.9v.9h-.9zM334.3 477.9h.9v.9h-.9zM333.3 476.9h.9v.9h-.9zM334.6 482.8h.9v.9h-.9zM334.9 470.5h.9v.9h-.9zM334.4 480.7h.9v.9h-.9zM334.2 478.1h.9v.9h-.9zM334.5 472.8h.9v.9h-.9zM335.2 485.1h.9v.9h-.9zM336.5 474.2h.9v.9h-.9zM333.6 475.8h.9v.9h-.9zM334.6 482.7h.9v.9h-.9zM335.4 475.8h.9v.9h-.9zM334.4 465.7h.9v.9h-.9zM335.5 484.6h.9v.9h-.9zM334.6 483.8h.9v.9h-.9zM335.5 479.5h.9v.9h-.9zM335.9 458.9h.9v.9h-.9zM335.1 480.6h.9v.9h-.9zM335.0 477.9h.9v.9h-.9zM334.2 479.8h.9v.9h-.9zM335.4 463.3h.9v.9h-.9zM335.0 483.2h.9v.9h-.9zM334.8 475.9h.9v.9h-.9zM333.9 476.1h.9v.9h-.9zM336.0 467.9h.9v.9h-.9zM336.0 471.5h.9v.9h-.9zM336.4 478.1h.9v.9h-.9zM334.8 469.1h.9v.9h-.9zM334.2 482.5h.9v.9h-.9zM334.2 470.9h.9v.9h-.9zM336.5 471.7h.9v.9h-.9zM334.0 478.8h.9v.9h-.9zM333.6 478.0h.9v.9h-.9zM335.7 480.9h.9v.9h-.9zM333.7 477.2h.9v.9h-.9zM335.6 466.0h.9v.9h-.9zM334.9 477.9h.9v.9h-.9zM333.5 469.3h.9v.9h-.9zM334.2 459.7h.9v.9h-.9zM335.5 483.0h.9v.9h-.9zM335.0 452.9h.9v.9h-.9zM336.3 466.4h.9v.9h-.9zM334.7 466.2h.9v.9h-.9zM335.5 472.9h.9v.9h-.9zM336.7 476.7h.9v.9h-.9zM335.0 478.4h.9v.9h-.9zM335.7 480.6h.9v.9h-.9zM335.4 479.6h.9v.9h-.9zM335.3 466.7h.9v.9h-.9zM334.8 474.4h.9v.9h-.9zM334.6 484.1h.9v.9h-.9zM334.2 463.0h.9v.9h-.9zM334.2 460.7h.9v.9h-.9zM335.5 454.9h.9v.9h-.9zM334.8 485.1h.9v.9h-.9zM334.1 470.8h.9v.9h-.9zM334.9 479.2h.9v.9h-.9zM333.7 476.0h.9v.9h-.9zM333.6 473.2h.9v.9h-.9zM336.0 471.3h.9v.9h-.9zM335.5 483.9h.9v.9h-.9zM334.3 477.9h.9v.9h-.9zM336.5 476.9h.9v.9h-.9zM336.4 473.9h.9v.9h-.9zM335.4 477.6h.9v.9h-.9zM335.5 474.1h.9v.9h-.9zM333.9 476.2h.9v.9h-.9zM335.3 481.0h.9v.9h-.9zM336.3 476.8h.9v.9h-.9zM335.0 476.8h.9v.9h-.9zM335.0 483.6h.9v.9h-.9zM335.0 474.7h.9v.9h-.9zM335.8 461.8h.9v.9h-.9zM333.9 475.8h.9v.9h-.9zM334.9 481.0h.9v.9h-.9zM335.5 478.7h.9v.9h-.9zM335.2 483.9h.9v.9h-.9zM334.1 473.6h.9v.9h-.9zM334.3 467.6h.9v.9h-.9zM335.6 480.0h.9v.9h-.9zM333.9 467.6h.9v.9h-.9zM335.5 485.1h.9v.9h-.9zM334.6 460.9h.9v.9h-.9zM335.6 461.3h.9v.9h-.9zM335.7 468.1h.9v.9h-.9zM336.1 479.9h.9v.9h-.9zM333.3 477.7h.9v.9h-.9zM334.5 465.9h.9v.9h-.9zM335.5 469.6h.9v.9h-.9zM334.1 474.7h.9v.9h-.9zM336.2 476.1h.9v.9h-.9zM336.3 476.5h.9v.9h-.9zM333.7 474.1h.9v.9h-.9zM335.2 482.9h.9v.9h-.9zM334.7 479.3h.9v.9h-.9zM333.7 476.8h.9v.9h-.9zM335.2 485.1h.9v.9h-.9zM335.5 481.6h.9v.9h-.9zM335.1 475.4h.9v.9h-.9zM333.9 472.4h.9v.9h-.9zM334.6 458.0h.9v.9h-.9zM334.0 479.6h.9v.9h-.9zM334.1 460.5h.9v.9h-.9zM335.1 481.4h.9v.9h-.9zM333.5 476.3h.9v.9h-.9zM335.0 476.8h.9v.9h-.9zM334.0 476.8h.9v.9h-.9zM335.6 479.3h.9v.9h-.9zM334.8 475.1h.9v.9h-.9zM335.9 472.4h.9v.9h-.9zM335.3 429.7h.9v.9h-.9zM334.0 446.5h.9v.9h-.9zM335.3 432.3h.9v.9h-.9zM335.6 452.6h.9v.9h-.9zM344.7 471.1h.9v.9h-.9zM344.7 472.3h.9v.9h-.9zM342.6 466.2h.9v.9h-.9zM344.1 474.0h.9v.9h-.9zM343.6 457.9h.9v.9h-.9zM345.6 468.5h.9v.9h-.9zM344.3 461.3h.9v.9h-.9zM345.2 468.4h.9v.9h-.9zM344.5 448.8h.9v.9h-.9zM344.1 480.5h.9v.9h-.9zM345.3 453.2h.9v.9h-.9zM345.1 468.5h.9v.9h-.9zM346.0 465.2h.9v.9h-.9zM344.6 469.3h.9v.9h-.9zM344.7 448.0h.9v.9h-.9zM343.6 471.7h.9v.9h-.9zM345.7 463.0h.9v.9h-.9zM344.8 446.6h.9v.9h-.9zM343.1 453.8h.9v.9h-.9zM344.7 453.8h.9v.9h-.9zM345.0 473.3h.9v.9h-.9zM345.5 457.9h.9v.9h-.9zM343.0 468.0h.9v.9h-.9zM344.0 457.7h.9v.9h-.9zM345.3 474.2h.9v.9h-.9zM344.8 458.7h.9v.9h-.9zM343.0 462.7h.9v.9h-.9zM342.9 466.0h.9v.9h-.9zM343.2 449.4h.9v.9h-.9zM344.9 462.6h.9v.9h-.9zM343.9 452.7h.9v.9h-.9zM342.8 470.0h.9v.9h-.9zM345.4 450.4h.9v.9h-.9zM343.0 469.6h.9v.9h-.9zM344.6 478.4h.9v.9h-.9zM344.0 480.5h.9v.9h-.9zM344.4 452.6h.9v.9h-.9zM344.0 463.0h.9v.9h-.9zM344.9 472.5h.9v.9h-.9zM345.0 470.6h.9v.9h-.9zM344.7 463.1h.9v.9h-.9zM343.3 456.7h.9v.9h-.9zM343.0 452.4h.9v.9h-.9zM343.4 475.2h.9v.9h-.9zM345.0 475.2h.9v.9h-.9zM344.1 468.5h.9v.9h-.9zM344.5 478.2h.9v.9h-.9zM343.1 468.1h.9v.9h-.9zM344.7 447.5h.9v.9h-.9zM344.5 462.6h.9v.9h-.9zM345.9 465.4h.9v.9h-.9zM344.2 479.4h.9v.9h-.9zM342.8 458.6h.9v.9h-.9zM343.1 463.8h.9v.9h-.9zM344.4 475.3h.9v.9h-.9zM345.0 477.1h.9v.9h-.9zM344.5 470.6h.9v.9h-.9zM345.4 462.1h.9v.9h-.9zM344.0 457.4h.9v.9h-.9zM345.8 470.5h.9v.9h-.9zM345.1 477.2h.9v.9h-.9zM344.3 480.2h.9v.9h-.9zM345.2 461.5h.9v.9h-.9zM344.6 473.7h.9v.9h-.9zM344.1 469.0h.9v.9h-.9zM343.1 463.1h.9v.9h-.9zM344.0 468.2h.9v.9h-.9zM344.6 460.4h.9v.9h-.9zM345.8 461.4h.9v.9h-.9zM344.7 447.0h.9v.9h-.9zM343.0 473.2h.9v.9h-.9zM344.3 464.0h.9v.9h-.9zM345.2 453.3h.9v.9h-.9zM345.3 465.4h.9v.9h-.9zM343.7 440.0h.9v.9h-.9zM342.5 465.1h.9v.9h-.9zM344.7 439.1h.9v.9h-.9zM344.2 455.8h.9v.9h-.9zM343.1 464.9h.9v.9h-.9zM343.2 474.5h.9v.9h-.9zM344.0 439.1h.9v.9h-.9zM345.2 458.8h.9v.9h-.9zM343.3 462.9h.9v.9h-.9zM345.5 464.1h.9v.9h-.9zM345.5 452.6h.9v.9h-.9zM343.6 479.4h.9v.9h-.9zM343.3 463.8h.9v.9h-.9zM344.5 469.0h.9v.9h-.9zM345.8 464.1h.9v.9h-.9zM344.2 467.9h.9v.9h-.9zM343.5 470.3h.9v.9h-.9zM344.7 463.9h.9v.9h-.9zM344.3 478.3h.9v.9h-.9zM344.9 462.6h.9v.9h-.9zM343.4 473.6h.9v.9h-.9zM344.0 467.9h.9v.9h-.9zM344.4 474.6h.9v.9h-.9zM344.8 480.5h.9v.9h-.9zM345.7 467.0h.9v.9h-.9zM345.7 460.0h.9v.9h-.9zM344.5 475.0h.9v.9h-.9zM344.4 480.5h.9v.9h-.9zM344.2 446.2h.9v.9h-.9zM344.4 454.9h.9v.9h-.9zM344.7 463.1h.9v.9h-.9zM344.7 480.5h.9v.9h-.9zM343.9 451.9h.9v.9h-.9zM345.6 467.6h.9v.9h-.9zM342.5 463.0h.9v.9h-.9zM345.1 470.4h.9v.9h-.9zM343.9 444.4h.9v.9h-.9zM345.5 465.6h.9v.9h-.9zM343.6 453.3h.9v.9h-.9zM344.4 457.8h.9v.9h-.9zM344.7 465.9h.9v.9h-.9zM344.9 467.8h.9v.9h-.9zM342.9 463.6h.9v.9h-.9zM344.5 463.3h.9v.9h-.9zM342.5 466.5h.9v.9h-.9zM345.3 449.4h.9v.9h-.9zM344.3 475.3h.9v.9h-.9zM345.3 469.9h.9v.9h-.9zM345.1 476.0h.9v.9h-.9zM345.3 458.0h.9v.9h-.9zM345.1 444.9h.9v.9h-.9zM343.9 471.7h.9v.9h-.9zM344.4 465.7h.9v.9h-.9zM345.0 467.8h.9v.9h-.9zM344.0 448.4h.9v.9h-.9zM345.3 472.9h.9v.9h-.9zM345.1 450.4h.9v.9h-.9zM343.5 462.7h.9v.9h-.9zM345.9 460.8h.9v.9h-.9zM345.0 468.8h.9v.9h-.9zM344.5 452.5h.9v.9h-.9zM346.0 463.0h.9v.9h-.9zM343.4 467.0h.9v.9h-.9zM344.8 464.4h.9v.9h-.9zM344.5 454.8h.9v.9h-.9zM344.3 465.7h.9v.9h-.9zM344.8 467.5h.9v.9h-.9zM345.2 461.4h.9v.9h-.9zM343.6 474.1h.9v.9h-.9zM343.4 477.2h.9v.9h-.9zM344.3 473.1h.9v.9h-.9zM343.3 460.4h.9v.9h-.9zM343.4 467.0h.9v.9h-.9zM343.5 467.0h.9v.9h-.9zM345.5 454.1h.9v.9h-.9zM343.0 468.7h.9v.9h-.9zM343.5 458.4h.9v.9h-.9zM345.3 472.5h.9v.9h-.9zM343.6 458.9h.9v.9h-.9zM344.0 464.1h.9v.9h-.9zM345.9 460.3h.9v.9h-.9zM344.4 439.1h.9v.9h-.9zM344.9 444.4h.9v.9h-.9zM343.5 447.9h.9v.9h-.9zM342.8 469.4h.9v.9h-.9zM343.4 477.5h.9v.9h-.9zM342.5 467.0h.9v.9h-.9zM345.7 471.7h.9v.9h-.9zM345.3 469.7h.9v.9h-.9zM343.8 470.3h.9v.9h-.9zM344.1 451.4h.9v.9h-.9zM345.1 464.9h.9v.9h-.9zM344.1 480.0h.9v.9h-.9zM345.3 460.2h.9v.9h-.9zM345.4 465.6h.9v.9h-.9zM345.1 477.1h.9v.9h-.9zM344.4 465.9h.9v.9h-.9zM342.5 464.2h.9v.9h-.9zM342.8 471.5h.9v.9h-.9zM344.6 439.1h.9v.9h-.9zM342.9 469.3h.9v.9h-.9zM344.9 473.0h.9v.9h-.9zM344.3 443.4h.9v.9h-.9zM344.2 456.2h.9v.9h-.9zM345.3 465.8h.9v.9h-.9zM344.7 453.4h.9v.9h-.9zM344.6 440.2h.9v.9h-.9zM344.0 446.8h.9v.9h-.9zM344.4 462.5h.9v.9h-.9zM342.7 466.4h.9v.9h-.9zM344.4 480.5h.9v.9h-.9zM344.7 476.9h.9v.9h-.9zM345.0 446.3h.9v.9h-.9zM343.7 475.3h.9v.9h-.9zM344.2 452.8h.9v.9h-.9zM346.0 464.0h.9v.9h-.9zM343.9 480.5h.9v.9h-.9zM343.8 467.6h.9v.9h-.9zM343.9 476.8h.9v.9h-.9zM343.8 470.0h.9v.9h-.9zM345.2 476.2h.9v.9h-.9zM342.5 464.4h.9v.9h-.9zM344.9 476.1h.9v.9h-.9zM343.9 466.9h.9v.9h-.9zM345.0 474.7h.9v.9h-.9zM344.1 451.8h.9v.9h-.9zM345.4 457.8h.9v.9h-.9zM345.7 453.9h.9v.9h-.9zM343.8 475.4h.9v.9h-.9zM345.5 469.2h.9v.9h-.9zM343.5 456.0h.9v.9h-.9zM344.8 465.2h.9v.9h-.9zM342.6 459.9h.9v.9h-.9zM344.5 458.7h.9v.9h-.9zM343.6 454.0h.9v.9h-.9zM343.8 466.9h.9v.9h-.9zM342.6 465.2h.9v.9h-.9zM344.4 472.6h.9v.9h-.9zM345.6 469.0h.9v.9h-.9zM345.4 450.0h.9v.9h-.9zM344.8 479.1h.9v.9h-.9zM343.1 474.4h.9v.9h-.9zM345.1 473.7h.9v.9h-.9zM345.3 456.2h.9v.9h-.9zM342.8 465.1h.9v.9h-.9zM344.4 461.6h.9v.9h-.9zM343.8 468.2h.9v.9h-.9zM343.8 470.8h.9v.9h-.9zM344.5 466.5h.9v.9h-.9zM343.0 467.0h.9v.9h-.9zM345.8 462.8h.9v.9h-.9zM343.1 467.6h.9v.9h-.9zM343.8 459.9h.9v.9h-.9zM345.7 466.3h.9v.9h-.9zM344.3 471.8h.9v.9h-.9zM344.3 472.9h.9v.9h-.9zM343.9 459.4h.9v.9h-.9zM345.7 470.7h.9v.9h-.9zM343.5 453.1h.9v.9h-.9zM345.2 459.8h.9v.9h-.9zM344.5 454.6h.9v.9h-.9zM342.9 466.0h.9v.9h-.9zM344.8 458.0h.9v.9h-.9zM343.7 447.8h.9v.9h-.9zM345.2 452.1h.9v.9h-.9zM344.1 479.5h.9v.9h-.9zM345.8 460.8h.9v.9h-.9zM344.0 451.4h.9v.9h-.9zM344.2 459.0h.9v.9h-.9zM344.8 456.0h.9v.9h-.9zM345.1 469.0h.9v.9h-.9zM343.8 445.4h.9v.9h-.9zM344.5 480.5h.9v.9h-.9zM343.8 455.8h.9v.9h-.9zM343.6 444.0h.9v.9h-.9zM344.9 457.6h.9v.9h-.9zM346.0 461.7h.9v.9h-.9zM343.8 472.8h.9v.9h-.9zM345.1 472.3h.9v.9h-.9zM345.3 469.5h.9v.9h-.9zM344.4 448.8h.9v.9h-.9zM345.4 464.7h.9v.9h-.9zM344.4 451.3h.9v.9h-.9zM344.7 477.8h.9v.9h-.9zM343.7 467.4h.9v.9h-.9zM344.7 462.9h.9v.9h-.9zM343.2 458.2h.9v.9h-.9zM344.1 465.9h.9v.9h-.9zM343.7 449.2h.9v.9h-.9zM342.7 463.9h.9v.9h-.9zM344.1 458.8h.9v.9h-.9zM345.1 460.6h.9v.9h-.9zM345.9 466.5h.9v.9h-.9zM344.8 460.7h.9v.9h-.9zM343.8 480.5h.9v.9h-.9zM345.7 466.9h.9v.9h-.9zM344.3 470.0h.9v.9h-.9zM343.9 471.8h.9v.9h-.9zM343.1 456.5h.9v.9h-.9zM343.6 466.2h.9v.9h-.9zM344.1 445.4h.9v.9h-.9zM343.8 462.0h.9v.9h-.9zM345.5 452.2h.9v.9h-.9zM342.7 460.8h.9v.9h-.9zM344.4 477.2h.9v.9h-.9zM345.2 454.7h.9v.9h-.9zM345.2 448.6h.9v.9h-.9zM343.8 466.2h.9v.9h-.9zM342.6 466.7h.9v.9h-.9zM344.8 476.3h.9v.9h-.9zM344.4 461.1h.9v.9h-.9zM345.5 462.4h.9v.9h-.9zM344.1 443.9h.9v.9h-.9zM344.0 464.6h.9v.9h-.9zM343.9 475.6h.9v.9h-.9zM344.5 444.1h.9v.9h-.9zM345.0 473.5h.9v.9h-.9zM344.9 476.2h.9v.9h-.9zM343.4 446.9h.9v.9h-.9zM344.7 458.7h.9v.9h-.9zM344.2 455.4h.9v.9h-.9zM345.8 467.6h.9v.9h-.9zM344.4 448.9h.9v.9h-.9zM345.3 472.9h.9v.9h-.9zM343.3 467.4h.9v.9h-.9zM342.9 465.8h.9v.9h-.9zM345.3 469.5h.9v.9h-.9zM345.0 471.4h.9v.9h-.9zM344.6 439.1h.9v.9h-.9zM342.9 470.2h.9v.9h-.9zM344.8 468.8h.9v.9h-.9zM345.2 463.3h.9v.9h-.9zM345.5 473.7h.9v.9h-.9zM344.9 479.6h.9v.9h-.9zM344.9 479.3h.9v.9h-.9zM342.8 467.6h.9v.9h-.9zM343.1 461.6h.9v.9h-.9zM343.3 453.2h.9v.9h-.9zM343.6 448.1h.9v.9h-.9zM343.2 472.4h.9v.9h-.9zM344.7 468.3h.9v.9h-.9zM344.6 469.2h.9v.9h-.9zM344.4 440.6h.9v.9h-.9zM343.7 461.6h.9v.9h-.9zM344.3 473.4h.9v.9h-.9zM342.5 460.3h.9v.9h-.9zM343.6 457.3h.9v.9h-.9zM343.0 453.1h.9v.9h-.9zM343.4 454.7h.9v.9h-.9zM343.5 445.8h.9v.9h-.9zM344.3 443.5h.9v.9h-.9zM346.0 466.9h.9v.9h-.9zM344.8 469.1h.9v.9h-.9zM345.7 463.3h.9v.9h-.9zM344.2 439.1h.9v.9h-.9zM344.5 473.8h.9v.9h-.9zM345.1 458.8h.9v.9h-.9zM344.8 471.5h.9v.9h-.9zM343.9 439.1h.9v.9h-.9zM344.6 458.2h.9v.9h-.9zM344.2 476.8h.9v.9h-.9zM345.5 467.0h.9v.9h-.9zM345.0 455.9h.9v.9h-.9zM344.0 469.0h.9v.9h-.9zM344.5 463.3h.9v.9h-.9zM345.1 477.0h.9v.9h-.9zM343.5 456.4h.9v.9h-.9zM344.0 478.1h.9v.9h-.9zM344.7 480.5h.9v.9h-.9zM344.0 475.4h.9v.9h-.9zM344.1 445.0h.9v.9h-.9zM343.5 472.4h.9v.9h-.9zM343.5 468.0h.9v.9h-.9zM344.5 458.9h.9v.9h-.9zM344.4 476.0h.9v.9h-.9zM343.2 473.5h.9v.9h-.9zM345.4 457.5h.9v.9h-.9zM344.6 464.1h.9v.9h-.9zM345.2 452.8h.9v.9h-.9zM345.0 478.9h.9v.9h-.9zM343.9 443.1h.9v.9h-.9zM344.3 463.5h.9v.9h-.9zM344.5 478.3h.9v.9h-.9zM344.0 474.6h.9v.9h-.9zM344.1 448.0h.9v.9h-.9zM345.3 472.0h.9v.9h-.9zM344.0 439.1h.9v.9h-.9zM343.9 467.3h.9v.9h-.9zM344.5 451.4h.9v.9h-.9zM342.5 464.1h.9v.9h-.9zM343.7 449.2h.9v.9h-.9zM344.1 450.4h.9v.9h-.9zM344.3 466.7h.9v.9h-.9zM344.1 453.2h.9v.9h-.9zM343.7 467.8h.9v.9h-.9zM343.3 465.2h.9v.9h-.9zM343.4 453.6h.9v.9h-.9zM342.8 467.8h.9v.9h-.9zM344.4 473.2h.9v.9h-.9zM344.6 455.8h.9v.9h-.9zM343.2 466.3h.9v.9h-.9zM344.6 467.6h.9v.9h-.9zM344.9 470.4h.9v.9h-.9zM345.6 469.5h.9v.9h-.9zM345.4 454.1h.9v.9h-.9zM344.9 448.5h.9v.9h-.9zM344.9 457.7h.9v.9h-.9zM343.3 456.2h.9v.9h-.9zM345.7 461.8h.9v.9h-.9zM343.5 444.9h.9v.9h-.9zM344.2 465.7h.9v.9h-.9zM343.4 444.4h.9v.9h-.9zM345.6 465.0h.9v.9h-.9zM344.3 473.7h.9v.9h-.9zM344.3 472.9h.9v.9h-.9zM345.6 465.0h.9v.9h-.9zM343.9 456.1h.9v.9h-.9zM343.5 460.1h.9v.9h-.9zM343.0 456.1h.9v.9h-.9zM343.4 474.5h.9v.9h-.9zM344.2 462.7h.9v.9h-.9zM343.2 472.3h.9v.9h-.9zM343.8 469.4h.9v.9h-.9zM345.5 458.1h.9v.9h-.9zM343.8 468.0h.9v.9h-.9zM344.0 465.5h.9v.9h-.9zM344.8 462.8h.9v.9h-.9zM342.9 466.9h.9v.9h-.9zM344.4 458.9h.9v.9h-.9zM344.4 457.2h.9v.9h-.9zM344.7 448.6h.9v.9h-.9zM344.0 479.7h.9v.9h-.9zM344.0 447.8h.9v.9h-.9zM343.7 476.7h.9v.9h-.9zM343.8 467.3h.9v.9h-.9zM344.3 480.5h.9v.9h-.9zM344.5 439.1h.9v.9h-.9zM344.5 470.8h.9v.9h-.9zM344.6 474.4h.9v.9h-.9zM343.9 476.3h.9v.9h-.9zM345.7 471.8h.9v.9h-.9zM344.9 466.3h.9v.9h-.9zM345.8 467.7h.9v.9h-.9zM344.7 472.3h.9v.9h-.9zM345.6 461.2h.9v.9h-.9zM344.6 465.2h.9v.9h-.9zM343.9 464.3h.9v.9h-.9zM344.6 462.6h.9v.9h-.9zM344.1 443.4h.9v.9h-.9zM343.2 447.8h.9v.9h-.9zM343.1 473.3h.9v.9h-.9zM342.5 462.4h.9v.9h-.9zM344.2 471.6h.9v.9h-.9zM343.3 467.1h.9v.9h-.9zM343.7 479.4h.9v.9h-.9zM343.8 439.1h.9v.9h-.9zM345.4 464.4h.9v.9h-.9zM345.1 462.0h.9v.9h-.9zM344.6 465.7h.9v.9h-.9zM344.7 466.8h.9v.9h-.9zM344.3 477.9h.9v.9h-.9zM344.2 454.2h.9v.9h-.9zM345.3 457.7h.9v.9h-.9zM343.3 475.8h.9v.9h-.9zM344.3 464.5h.9v.9h-.9zM344.4 469.2h.9v.9h-.9zM343.7 444.9h.9v.9h-.9zM344.3 466.4h.9v.9h-.9zM344.6 480.5h.9v.9h-.9zM343.8 478.6h.9v.9h-.9zM344.7 473.8h.9v.9h-.9zM345.4 451.2h.9v.9h-.9zM343.6 444.9h.9v.9h-.9zM343.7 467.7h.9v.9h-.9zM344.6 467.6h.9v.9h-.9zM344.1 459.9h.9v.9h-.9zM344.9 461.7h.9v.9h-.9zM343.5 444.1h.9v.9h-.9zM344.4 475.8h.9v.9h-.9zM345.2 471.1h.9v.9h-.9zM343.6 469.4h.9v.9h-.9zM344.8 451.4h.9v.9h-.9zM344.1 471.4h.9v.9h-.9zM343.9 472.0h.9v.9h-.9zM344.9 444.1h.9v.9h-.9zM344.0 469.1h.9v.9h-.9zM344.0 450.0h.9v.9h-.9zM343.4 465.6h.9v.9h-.9zM345.4 466.6h.9v.9h-.9zM344.9 454.8h.9v.9h-.9zM343.6 452.8h.9v.9h-.9zM345.7 469.8h.9v.9h-.9zM344.0 466.1h.9v.9h-.9zM344.4 466.6h.9v.9h-.9zM343.8 476.8h.9v.9h-.9zM342.7 463.6h.9v.9h-.9zM343.1 465.1h.9v.9h-.9zM345.4 471.9h.9v.9h-.9zM343.5 471.5h.9v.9h-.9zM344.0 470.4h.9v.9h-.9zM344.1 457.3h.9v.9h-.9zM343.6 469.6h.9v.9h-.9zM344.7 469.3h.9v.9h-.9zM345.3 455.7h.9v.9h-.9zM345.0 466.6h.9v.9h-.9zM343.5 448.3h.9v.9h-.9zM345.2 464.2h.9v.9h-.9zM344.2 466.3h.9v.9h-.9zM345.0 468.8h.9v.9h-.9zM345.6 462.4h.9v.9h-.9zM344.1 480.0h.9v.9h-.9zM344.0 459.8h.9v.9h-.9zM345.1 477.1h.9v.9h-.9zM344.3 468.1h.9v.9h-.9zM344.1 475.3h.9v.9h-.9zM346.0 465.5h.9v.9h-.9zM344.5 468.5h.9v.9h-.9zM343.3 466.5h.9v.9h-.9zM343.5 465.5h.9v.9h-.9zM344.7 477.3h.9v.9h-.9zM343.5 456.6h.9v.9h-.9zM344.4 451.8h.9v.9h-.9zM343.3 466.4h.9v.9h-.9zM343.9 467.8h.9v.9h-.9zM344.6 466.2h.9v.9h-.9zM344.6 452.8h.9v.9h-.9zM343.0 466.1h.9v.9h-.9zM344.4 476.5h.9v.9h-.9zM345.1 467.8h.9v.9h-.9zM343.9 469.8h.9v.9h-.9zM343.2 465.9h.9v.9h-.9zM345.0 476.7h.9v.9h-.9zM344.1 439.1h.9v.9h-.9zM343.7 446.8h.9v.9h-.9zM345.0 459.3h.9v.9h-.9zM344.6 457.6h.9v.9h-.9zM344.2 462.7h.9v.9h-.9zM342.8 455.4h.9v.9h-.9zM345.7 469.5h.9v.9h-.9zM344.4 457.0h.9v.9h-.9zM344.8 442.5h.9v.9h-.9zM345.3 473.4h.9v.9h-.9zM344.8 458.6h.9v.9h-.9zM343.8 466.5h.9v.9h-.9zM344.0 467.1h.9v.9h-.9zM344.8 447.6h.9v.9h-.9zM344.1 458.3h.9v.9h-.9zM343.7 444.2h.9v.9h-.9zM344.5 461.0h.9v.9h-.9zM343.6 453.3h.9v.9h-.9zM343.0 464.1h.9v.9h-.9zM343.4 473.3h.9v.9h-.9zM345.1 456.0h.9v.9h-.9zM345.3 451.2h.9v.9h-.9zM344.1 469.1h.9v.9h-.9zM343.6 453.2h.9v.9h-.9zM345.4 468.8h.9v.9h-.9zM343.8 480.5h.9v.9h-.9zM343.4 459.5h.9v.9h-.9zM344.4 455.4h.9v.9h-.9zM344.7 466.6h.9v.9h-.9zM345.1 455.4h.9v.9h-.9zM344.5 468.7h.9v.9h-.9zM342.9 461.9h.9v.9h-.9zM343.5 470.9h.9v.9h-.9zM345.7 467.4h.9v.9h-.9zM344.1 457.2h.9v.9h-.9zM343.6 467.9h.9v.9h-.9zM342.9 467.4h.9v.9h-.9zM343.0 464.2h.9v.9h-.9zM345.2 474.1h.9v.9h-.9zM345.1 471.1h.9v.9h-.9zM344.4 444.2h.9v.9h-.9zM344.3 477.8h.9v.9h-.9zM344.9 457.2h.9v.9h-.9zM345.3 472.6h.9v.9h-.9zM342.9 472.1h.9v.9h-.9zM344.4 460.9h.9v.9h-.9zM345.1 465.3h.9v.9h-.9zM345.5 462.2h.9v.9h-.9zM345.1 471.3h.9v.9h-.9zM345.5 453.2h.9v.9h-.9zM344.8 454.7h.9v.9h-.9zM345.3 473.5h.9v.9h-.9zM343.9 449.6h.9v.9h-.9zM343.9 460.5h.9v.9h-.9zM344.5 467.8h.9v.9h-.9zM345.0 445.6h.9v.9h-.9zM345.0 462.5h.9v.9h-.9zM343.8 469.9h.9v.9h-.9zM344.4 455.4h.9v.9h-.9zM342.6 469.1h.9v.9h-.9zM343.1 454.1h.9v.9h-.9zM344.2 441.3h.9v.9h-.9zM343.1 472.1h.9v.9h-.9zM343.8 480.5h.9v.9h-.9zM345.0 477.2h.9v.9h-.9zM345.9 461.5h.9v.9h-.9zM345.7 467.2h.9v.9h-.9zM344.1 443.0h.9v.9h-.9zM344.2 480.5h.9v.9h-.9zM343.4 452.2h.9v.9h-.9zM345.6 458.0h.9v.9h-.9zM344.5 469.4h.9v.9h-.9zM345.4 458.6h.9v.9h-.9zM345.9 465.2h.9v.9h-.9zM343.9 452.2h.9v.9h-.9zM345.3 468.4h.9v.9h-.9zM343.1 466.0h.9v.9h-.9zM343.2 459.1h.9v.9h-.9zM345.6 467.3h.9v.9h-.9zM342.7 456.8h.9v.9h-.9zM344.5 462.1h.9v.9h-.9zM344.1 464.1h.9v.9h-.9zM345.3 470.4h.9v.9h-.9zM345.4 466.5h.9v.9h-.9zM344.4 472.4h.9v.9h-.9zM345.3 462.9h.9v.9h-.9zM344.4 463.1h.9v.9h-.9zM343.8 473.5h.9v.9h-.9zM343.5 444.8h.9v.9h-.9zM344.5 475.3h.9v.9h-.9zM345.7 470.1h.9v.9h-.9zM344.4 474.4h.9v.9h-.9zM344.8 452.8h.9v.9h-.9zM344.0 475.2h.9v.9h-.9zM342.9 468.5h.9v.9h-.9zM343.2 469.6h.9v.9h-.9zM344.0 461.5h.9v.9h-.9zM344.3 472.2h.9v.9h-.9zM345.1 473.0h.9v.9h-.9zM344.3 470.8h.9v.9h-.9zM342.8 461.6h.9v.9h-.9zM342.8 456.9h.9v.9h-.9zM345.1 459.4h.9v.9h-.9zM344.7 462.3h.9v.9h-.9zM343.0 459.7h.9v.9h-.9zM343.8 476.3h.9v.9h-.9zM342.7 468.9h.9v.9h-.9zM343.0 469.1h.9v.9h-.9zM343.9 461.3h.9v.9h-.9zM344.9 463.4h.9v.9h-.9zM343.1 471.8h.9v.9h-.9zM342.5 463.3h.9v.9h-.9zM343.5 445.0h.9v.9h-.9zM345.0 446.2h.9v.9h-.9zM342.7 467.6h.9v.9h-.9zM344.7 462.2h.9v.9h-.9zM343.5 441.1h.9v.9h-.9zM343.9 464.8h.9v.9h-.9zM344.0 466.2h.9v.9h-.9zM344.5 445.6h.9v.9h-.9zM344.5 450.7h.9v.9h-.9zM344.2 469.2h.9v.9h-.9zM345.8 456.0h.9v.9h-.9zM344.2 450.0h.9v.9h-.9zM343.6 469.0h.9v.9h-.9zM344.1 449.9h.9v.9h-.9zM344.2 456.0h.9v.9h-.9zM342.9 467.6h.9v.9h-.9zM343.4 466.4h.9v.9h-.9zM344.2 456.8h.9v.9h-.9zM344.5 473.9h.9v.9h-.9zM342.9 456.0h.9v.9h-.9zM344.1 475.9h.9v.9h-.9zM343.1 455.9h.9v.9h-.9zM342.8 465.9h.9v.9h-.9zM344.8 452.2h.9v.9h-.9zM344.1 478.2h.9v.9h-.9zM343.6 449.2h.9v.9h-.9zM343.5 466.1h.9v.9h-.9zM344.2 459.8h.9v.9h-.9zM343.7 451.0h.9v.9h-.9zM344.5 457.6h.9v.9h-.9zM345.5 468.1h.9v.9h-.9zM343.7 480.1h.9v.9h-.9zM343.5 453.4h.9v.9h-.9zM345.5 458.5h.9v.9h-.9zM345.6 467.8h.9v.9h-.9zM344.6 451.1h.9v.9h-.9zM345.1 445.8h.9v.9h-.9zM344.3 452.0h.9v.9h-.9zM345.2 446.0h.9v.9h-.9zM344.8 480.5h.9v.9h-.9zM344.1 450.0h.9v.9h-.9zM344.7 479.3h.9v.9h-.9zM343.4 452.5h.9v.9h-.9zM343.5 449.7h.9v.9h-.9zM344.5 439.1h.9v.9h-.9zM344.6 479.7h.9v.9h-.9zM343.4 473.8h.9v.9h-.9zM343.7 459.5h.9v.9h-.9zM343.4 459.9h.9v.9h-.9zM345.2 470.0h.9v.9h-.9zM344.2 466.1h.9v.9h-.9zM345.2 470.1h.9v.9h-.9zM343.2 447.9h.9v.9h-.9zM345.1 463.3h.9v.9h-.9zM344.3 474.6h.9v.9h-.9zM342.9 459.6h.9v.9h-.9zM345.2 466.3h.9v.9h-.9zM344.7 473.3h.9v.9h-.9zM345.8 467.3h.9v.9h-.9zM345.3 464.4h.9v.9h-.9zM343.2 473.5h.9v.9h-.9zM343.8 471.1h.9v.9h-.9zM344.8 461.8h.9v.9h-.9zM344.6 441.6h.9v.9h-.9zM345.2 459.5h.9v.9h-.9zM345.3 475.1h.9v.9h-.9zM344.4 475.2h.9v.9h-.9zM343.6 461.2h.9v.9h-.9zM344.7 473.4h.9v.9h-.9zM344.2 480.5h.9v.9h-.9zM344.8 476.1h.9v.9h-.9zM344.0 440.0h.9v.9h-.9zM343.9 462.6h.9v.9h-.9zM344.2 451.6h.9v.9h-.9zM345.2 467.3h.9v.9h-.9zM344.4 477.6h.9v.9h-.9zM345.8 457.3h.9v.9h-.9zM343.9 474.2h.9v.9h-.9zM344.7 470.1h.9v.9h-.9zM343.3 456.8h.9v.9h-.9zM343.8 478.6h.9v.9h-.9zM343.4 459.8h.9v.9h-.9zM343.9 471.5h.9v.9h-.9zM343.3 457.7h.9v.9h-.9zM343.9 466.5h.9v.9h-.9zM345.9 459.5h.9v.9h-.9zM344.5 439.1h.9v.9h-.9zM344.1 445.2h.9v.9h-.9zM344.7 456.7h.9v.9h-.9zM344.2 453.1h.9v.9h-.9zM344.8 455.5h.9v.9h-.9zM343.9 469.4h.9v.9h-.9zM344.6 457.2h.9v.9h-.9zM343.0 467.7h.9v.9h-.9zM344.4 471.5h.9v.9h-.9zM343.7 468.9h.9v.9h-.9zM344.0 462.5h.9v.9h-.9zM343.3 473.9h.9v.9h-.9zM344.3 463.0h.9v.9h-.9zM344.3 469.6h.9v.9h-.9zM345.9 458.6h.9v.9h-.9zM342.9 453.2h.9v.9h-.9zM343.9 467.7h.9v.9h-.9zM343.6 453.1h.9v.9h-.9zM344.5 469.2h.9v.9h-.9zM343.1 457.2h.9v.9h-.9zM344.6 480.5h.9v.9h-.9zM343.5 469.8h.9v.9h-.9zM344.9 462.9h.9v.9h-.9zM345.0 459.4h.9v.9h-.9zM344.3 442.8h.9v.9h-.9zM345.5 451.4h.9v.9h-.9zM343.9 467.0h.9v.9h-.9zM343.9 445.0h.9v.9h-.9zM343.2 461.8h.9v.9h-.9zM343.9 471.0h.9v.9h-.9zM343.1 469.5h.9v.9h-.9zM345.1 475.9h.9v.9h-.9zM344.7 472.1h.9v.9h-.9zM344.1 443.6h.9v.9h-.9zM344.6 480.5h.9v.9h-.9zM345.8 470.3h.9v.9h-.9zM345.3 464.4h.9v.9h-.9zM344.3 464.7h.9v.9h-.9zM344.9 448.5h.9v.9h-.9zM343.4 457.1h.9v.9h-.9zM343.6 466.6h.9v.9h-.9zM343.5 465.4h.9v.9h-.9zM344.7 439.2h.9v.9h-.9zM344.8 456.9h.9v.9h-.9zM344.6 453.6h.9v.9h-.9zM342.7 460.2h.9v.9h-.9zM342.8 466.2h.9v.9h-.9zM343.5 461.1h.9v.9h-.9zM344.3 468.7h.9v.9h-.9zM344.5 456.3h.9v.9h-.9zM345.8 465.0h.9v.9h-.9zM344.5 465.0h.9v.9h-.9zM344.7 455.6h.9v.9h-.9zM345.5 467.2h.9v.9h-.9zM343.9 474.5h.9v.9h-.9zM344.3 460.6h.9v.9h-.9zM343.9 477.1h.9v.9h-.9zM343.5 469.5h.9v.9h-.9zM344.1 471.8h.9v.9h-.9zM342.8 464.9h.9v.9h-.9zM344.7 471.9h.9v.9h-.9zM345.7 458.7h.9v.9h-.9zM344.5 451.6h.9v.9h-.9zM342.8 467.1h.9v.9h-.9zM345.1 465.2h.9v.9h-.9zM343.7 478.7h.9v.9h-.9zM345.2 461.4h.9v.9h-.9zM344.5 464.9h.9v.9h-.9zM344.5 448.4h.9v.9h-.9zM344.4 480.5h.9v.9h-.9zM343.8 467.1h.9v.9h-.9zM344.6 461.8h.9v.9h-.9zM343.5 456.8h.9v.9h-.9zM345.0 467.8h.9v.9h-.9zM343.4 450.3h.9v.9h-.9zM343.6 474.1h.9v.9h-.9zM344.7 480.4h.9v.9h-.9zM343.4 452.2h.9v.9h-.9zM345.3 467.8h.9v.9h-.9zM343.5 471.0h.9v.9h-.9zM345.4 468.8h.9v.9h-.9zM343.4 467.3h.9v.9h-.9zM343.4 460.0h.9v.9h-.9zM345.5 471.9h.9v.9h-.9zM346.0 465.0h.9v.9h-.9zM343.1 474.0h.9v.9h-.9zM343.0 468.5h.9v.9h-.9zM345.9 458.4h.9v.9h-.9zM344.6 476.2h.9v.9h-.9zM345.0 444.5h.9v.9h-.9zM345.6 458.3h.9v.9h-.9zM344.3 465.7h.9v.9h-.9zM344.4 443.2h.9v.9h-.9zM344.4 466.1h.9v.9h-.9zM344.5 473.5h.9v.9h-.9zM343.9 474.5h.9v.9h-.9zM343.8 461.3h.9v.9h-.9zM344.7 470.6h.9v.9h-.9zM344.1 443.1h.9v.9h-.9zM343.9 463.0h.9v.9h-.9zM345.5 452.6h.9v.9h-.9zM343.6 476.7h.9v.9h-.9zM343.7 464.6h.9v.9h-.9zM343.1 465.1h.9v.9h-.9zM345.6 461.6h.9v.9h-.9zM343.1 461.9h.9v.9h-.9zM344.3 453.2h.9v.9h-.9zM343.7 463.3h.9v.9h-.9zM345.2 473.0h.9v.9h-.9zM343.1 469.7h.9v.9h-.9zM342.6 468.9h.9v.9h-.9zM343.1 467.3h.9v.9h-.9zM343.6 445.0h.9v.9h-.9zM344.9 476.4h.9v.9h-.9zM345.2 455.0h.9v.9h-.9zM342.8 468.6h.9v.9h-.9zM343.3 470.7h.9v.9h-.9zM344.7 453.6h.9v.9h-.9zM344.1 466.3h.9v.9h-.9zM344.4 467.5h.9v.9h-.9zM345.9 466.2h.9v.9h-.9zM344.7 476.1h.9v.9h-.9zM345.0 468.9h.9v.9h-.9zM345.4 469.8h.9v.9h-.9zM344.8 467.5h.9v.9h-.9zM344.2 458.2h.9v.9h-.9zM344.6 449.7h.9v.9h-.9zM343.0 471.7h.9v.9h-.9zM344.7 408.9h.9v.9h-.9zM344.5 408.4h.9v.9h-.9zM345.0 417.2h.9v.9h-.9zM344.5 413.9h.9v.9h-.9zM343.3 437.7h.9v.9h-.9zM345.0 414.9h.9v.9h-.9zM343.7 426.0h.9v.9h-.9zM344.9 424.2h.9v.9h-.9zM343.5 413.6h.9v.9h-.9zM343.7 432.3h.9v.9h-.9zM353.2 464.2h.9v.9h-.9zM353.5 442.1h.9v.9h-.9zM353.3 462.4h.9v.9h-.9zM351.9 462.5h.9v.9h-.9zM353.5 442.4h.9v.9h-.9zM355.0 465.5h.9v.9h-.9zM353.6 466.0h.9v.9h-.9zM353.8 477.1h.9v.9h-.9zM354.3 473.3h.9v.9h-.9zM354.0 442.8h.9v.9h-.9zM354.8 452.9h.9v.9h-.9zM354.6 455.0h.9v.9h-.9zM354.1 471.6h.9v.9h-.9zM354.9 468.2h.9v.9h-.9zM353.7 471.8h.9v.9h-.9zM353.6 450.9h.9v.9h-.9zM352.9 466.9h.9v.9h-.9zM354.8 463.0h.9v.9h-.9zM353.0 463.4h.9v.9h-.9zM352.4 470.8h.9v.9h-.9zM352.0 466.7h.9v.9h-.9zM353.2 480.9h.9v.9h-.9zM352.1 471.3h.9v.9h-.9zM353.9 477.3h.9v.9h-.9zM354.4 464.2h.9v.9h-.9zM352.5 460.2h.9v.9h-.9zM352.1 468.9h.9v.9h-.9zM352.3 472.1h.9v.9h-.9zM354.4 457.7h.9v.9h-.9zM355.3 462.1h.9v.9h-.9zM354.0 458.6h.9v.9h-.9zM352.9 479.8h.9v.9h-.9zM352.8 475.1h.9v.9h-.9zM352.8 457.8h.9v.9h-.9zM353.7 467.5h.9v.9h-.9zM354.4 456.0h.9v.9h-.9zM355.0 465.0h.9v.9h-.9zM354.5 466.4h.9v.9h-.9zM352.6 449.0h.9v.9h-.9zM354.2 468.2h.9v.9h-.9zM353.9 452.7h.9v.9h-.9zM352.7 454.7h.9v.9h-.9zM352.2 470.7h.9v.9h-.9zM352.3 464.7h.9v.9h-.9zM354.2 481.0h.9v.9h-.9zM352.5 469.4h.9v.9h-.9zM355.1 461.4h.9v.9h-.9zM353.9 454.6h.9v.9h-.9zM353.3 462.6h.9v.9h-.9zM354.5 472.2h.9v.9h-.9zM354.5 460.6h.9v.9h-.9zM354.3 470.3h.9v.9h-.9zM351.8 465.3h.9v.9h-.9zM353.8 451.3h.9v.9h-.9zM353.4 462.0h.9v.9h-.9zM352.7 470.8h.9v.9h-.9zM352.2 466.7h.9v.9h-.9zM354.7 466.0h.9v.9h-.9zM354.3 473.9h.9v.9h-.9zM353.8 475.5h.9v.9h-.9zM352.1 468.0h.9v.9h-.9zM353.2 457.2h.9v.9h-.9zM353.2 445.1h.9v.9h-.9zM354.6 471.4h.9v.9h-.9zM352.1 457.9h.9v.9h-.9zM352.5 460.2h.9v.9h-.9zM354.1 444.4h.9v.9h-.9zM352.1 467.0h.9v.9h-.9zM353.1 457.4h.9v.9h-.9zM353.7 471.8h.9v.9h-.9zM354.3 460.9h.9v.9h-.9zM352.0 468.1h.9v.9h-.9zM353.5 455.6h.9v.9h-.9zM352.7 465.3h.9v.9h-.9zM352.9 446.6h.9v.9h-.9zM354.4 473.1h.9v.9h-.9zM354.2 477.4h.9v.9h-.9zM353.3 483.2h.9v.9h-.9zM353.7 444.1h.9v.9h-.9zM353.6 470.1h.9v.9h-.9zM352.4 467.3h.9v.9h-.9zM352.2 459.5h.9v.9h-.9zM353.5 481.1h.9v.9h-.9zM352.7 470.2h.9v.9h-.9zM354.2 473.2h.9v.9h-.9zM355.2 469.0h.9v.9h-.9zM353.4 445.9h.9v.9h-.9zM353.5 454.7h.9v.9h-.9zM353.0 463.2h.9v.9h-.9zM353.3 481.5h.9v.9h-.9zM354.3 460.4h.9v.9h-.9zM353.0 481.3h.9v.9h-.9zM353.8 472.9h.9v.9h-.9zM353.0 479.5h.9v.9h-.9zM352.7 462.9h.9v.9h-.9zM354.3 462.4h.9v.9h-.9zM353.1 479.7h.9v.9h-.9zM353.0 445.3h.9v.9h-.9zM353.7 442.1h.9v.9h-.9zM352.8 447.3h.9v.9h-.9zM352.5 464.6h.9v.9h-.9zM353.0 445.3h.9v.9h-.9zM354.3 466.9h.9v.9h-.9zM352.7 450.1h.9v.9h-.9zM353.2 473.0h.9v.9h-.9zM352.4 457.1h.9v.9h-.9zM353.9 474.4h.9v.9h-.9zM352.8 475.6h.9v.9h-.9zM353.0 475.1h.9v.9h-.9zM355.3 461.6h.9v.9h-.9zM353.9 462.2h.9v.9h-.9zM352.7 458.8h.9v.9h-.9zM353.3 451.5h.9v.9h-.9zM352.6 472.9h.9v.9h-.9zM353.4 480.7h.9v.9h-.9zM354.8 456.5h.9v.9h-.9zM354.3 466.2h.9v.9h-.9zM354.1 476.2h.9v.9h-.9zM354.8 469.1h.9v.9h-.9zM354.8 471.0h.9v.9h-.9zM353.2 442.1h.9v.9h-.9zM352.8 450.3h.9v.9h-.9zM353.5 454.7h.9v.9h-.9zM353.0 458.8h.9v.9h-.9zM354.6 475.0h.9v.9h-.9zM355.1 468.0h.9v.9h-.9zM352.0 466.2h.9v.9h-.9zM354.8 464.2h.9v.9h-.9zM353.7 451.6h.9v.9h-.9zM352.7 450.5h.9v.9h-.9zM354.4 478.4h.9v.9h-.9zM354.6 456.4h.9v.9h-.9zM354.5 455.4h.9v.9h-.9zM352.1 459.0h.9v.9h-.9zM352.0 462.9h.9v.9h-.9zM353.4 462.5h.9v.9h-.9zM353.7 448.7h.9v.9h-.9zM353.6 480.6h.9v.9h-.9zM352.0 467.7h.9v.9h-.9zM354.4 454.0h.9v.9h-.9zM354.1 465.9h.9v.9h-.9zM352.7 469.9h.9v.9h-.9zM352.6 470.9h.9v.9h-.9zM355.1 465.6h.9v.9h-.9zM352.5 463.6h.9v.9h-.9zM353.3 458.0h.9v.9h-.9zM352.8 459.9h.9v.9h-.9zM352.5 457.1h.9v.9h-.9zM354.2 463.2h.9v.9h-.9zM353.5 463.5h.9v.9h-.9zM353.3 470.6h.9v.9h-.9zM353.0 457.9h.9v.9h-.9zM352.5 460.7h.9v.9h-.9zM352.2 459.0h.9v.9h-.9zM354.2 467.9h.9v.9h-.9zM354.2 451.6h.9v.9h-.9zM352.1 470.7h.9v.9h-.9zM353.1 466.4h.9v.9h-.9zM354.8 458.1h.9v.9h-.9zM354.8 460.6h.9v.9h-.9zM355.0 464.2h.9v.9h-.9zM353.9 456.2h.9v.9h-.9zM354.8 474.5h.9v.9h-.9zM355.1 466.4h.9v.9h-.9zM351.8 464.6h.9v.9h-.9zM353.7 467.2h.9v.9h-.9zM355.0 471.3h.9v.9h-.9zM352.4 462.0h.9v.9h-.9zM353.4 442.1h.9v.9h-.9zM354.7 463.4h.9v.9h-.9zM352.8 471.8h.9v.9h-.9zM355.0 469.9h.9v.9h-.9zM353.6 468.7h.9v.9h-.9zM353.8 468.9h.9v.9h-.9zM354.2 468.0h.9v.9h-.9zM353.4 474.3h.9v.9h-.9zM355.0 471.8h.9v.9h-.9zM353.8 443.0h.9v.9h-.9zM353.5 468.6h.9v.9h-.9zM354.5 457.6h.9v.9h-.9zM352.4 468.9h.9v.9h-.9zM354.6 464.3h.9v.9h-.9zM353.8 451.3h.9v.9h-.9zM352.8 457.1h.9v.9h-.9zM353.1 461.9h.9v.9h-.9zM353.6 482.5h.9v.9h-.9zM354.8 461.1h.9v.9h-.9zM352.9 478.9h.9v.9h-.9zM353.2 458.3h.9v.9h-.9zM355.0 467.9h.9v.9h-.9zM352.4 470.1h.9v.9h-.9zM353.8 455.6h.9v.9h-.9zM354.9 467.9h.9v.9h-.9zM353.9 471.3h.9v.9h-.9zM352.0 458.5h.9v.9h-.9zM354.4 480.4h.9v.9h-.9zM354.6 466.6h.9v.9h-.9zM353.3 463.2h.9v.9h-.9zM354.2 467.9h.9v.9h-.9zM353.5 471.5h.9v.9h-.9zM354.1 455.3h.9v.9h-.9zM354.0 483.0h.9v.9h-.9zM352.5 464.1h.9v.9h-.9zM353.3 447.7h.9v.9h-.9zM355.1 466.5h.9v.9h-.9zM354.3 472.5h.9v.9h-.9zM351.8 462.3h.9v.9h-.9zM353.0 460.5h.9v.9h-.9zM354.7 456.5h.9v.9h-.9zM353.2 454.8h.9v.9h-.9zM354.7 452.5h.9v.9h-.9zM355.1 467.4h.9v.9h-.9zM353.0 444.7h.9v.9h-.9zM352.6 456.7h.9v.9h-.9zM355.3 463.0h.9v.9h-.9zM353.9 446.8h.9v.9h-.9zM355.3 465.9h.9v.9h-.9zM352.1 467.8h.9v.9h-.9zM353.3 460.4h.9v.9h-.9zM352.2 458.4h.9v.9h-.9zM352.9 443.6h.9v.9h-.9zM352.1 458.5h.9v.9h-.9zM355.1 468.7h.9v.9h-.9zM354.1 471.9h.9v.9h-.9zM355.1 468.7h.9v.9h-.9zM354.2 448.2h.9v.9h-.9zM354.8 459.3h.9v.9h-.9zM352.9 448.8h.9v.9h-.9zM355.3 467.5h.9v.9h-.9zM353.4 451.6h.9v.9h-.9zM355.0 456.8h.9v.9h-.9zM353.7 451.4h.9v.9h-.9zM353.3 480.8h.9v.9h-.9zM354.1 442.1h.9v.9h-.9zM354.5 468.3h.9v.9h-.9zM352.3 459.9h.9v.9h-.9zM354.1 456.7h.9v.9h-.9zM353.4 472.1h.9v.9h-.9zM352.9 472.5h.9v.9h-.9zM352.8 458.4h.9v.9h-.9zM353.4 468.8h.9v.9h-.9zM353.0 448.2h.9v.9h-.9zM353.4 449.5h.9v.9h-.9zM353.5 464.3h.9v.9h-.9zM354.7 454.0h.9v.9h-.9zM352.9 469.4h.9v.9h-.9zM352.3 459.4h.9v.9h-.9zM353.1 442.1h.9v.9h-.9zM352.3 462.3h.9v.9h-.9zM353.5 463.6h.9v.9h-.9zM353.1 454.9h.9v.9h-.9zM353.9 460.9h.9v.9h-.9zM352.7 447.2h.9v.9h-.9zM354.0 460.7h.9v.9h-.9zM354.1 471.2h.9v.9h-.9zM354.0 444.6h.9v.9h-.9zM353.1 484.4h.9v.9h-.9zM353.1 466.0h.9v.9h-.9zM353.6 465.9h.9v.9h-.9zM352.1 457.7h.9v.9h-.9zM352.2 466.1h.9v.9h-.9zM353.6 474.6h.9v.9h-.9zM352.7 465.7h.9v.9h-.9zM354.1 475.3h.9v.9h-.9zM354.9 471.6h.9v.9h-.9zM352.4 459.3h.9v.9h-.9zM353.2 483.5h.9v.9h-.9zM353.4 467.4h.9v.9h-.9zM354.7 472.5h.9v.9h-.9zM353.1 475.3h.9v.9h-.9zM352.5 470.3h.9v.9h-.9zM353.2 478.2h.9v.9h-.9zM355.1 469.2h.9v.9h-.9zM354.3 454.7h.9v.9h-.9zM352.6 475.3h.9v.9h-.9zM352.1 465.3h.9v.9h-.9zM355.0 469.1h.9v.9h-.9zM354.0 465.5h.9v.9h-.9zM352.0 458.6h.9v.9h-.9zM353.6 456.1h.9v.9h-.9zM352.5 463.7h.9v.9h-.9zM354.2 469.7h.9v.9h-.9zM353.1 462.6h.9v.9h-.9zM354.6 458.6h.9v.9h-.9zM352.7 454.3h.9v.9h-.9zM354.5 448.8h.9v.9h-.9zM353.4 467.4h.9v.9h-.9zM354.4 455.9h.9v.9h-.9zM354.8 466.5h.9v.9h-.9zM352.7 474.0h.9v.9h-.9zM354.2 477.9h.9v.9h-.9zM353.8 442.1h.9v.9h-.9zM352.5 452.0h.9v.9h-.9zM354.8 459.0h.9v.9h-.9zM353.8 464.8h.9v.9h-.9zM354.8 471.1h.9v.9h-.9zM353.3 452.4h.9v.9h-.9zM353.2 461.6h.9v.9h-.9zM353.7 467.2h.9v.9h-.9zM353.5 472.5h.9v.9h-.9zM353.2 451.1h.9v.9h-.9zM353.5 461.2h.9v.9h-.9zM353.9 473.9h.9v.9h-.9zM352.6 449.7h.9v.9h-.9zM352.9 474.3h.9v.9h-.9zM354.2 455.5h.9v.9h-.9zM354.0 456.3h.9v.9h-.9zM351.8 462.7h.9v.9h-.9zM354.8 473.9h.9v.9h-.9zM353.5 484.4h.9v.9h-.9zM352.9 460.8h.9v.9h-.9zM353.8 453.1h.9v.9h-.9zM352.5 464.8h.9v.9h-.9zM352.4 469.9h.9v.9h-.9zM353.0 476.9h.9v.9h-.9zM354.4 470.4h.9v.9h-.9zM354.8 455.3h.9v.9h-.9zM354.0 475.2h.9v.9h-.9zM354.1 474.7h.9v.9h-.9zM352.4 454.6h.9v.9h-.9zM352.6 468.7h.9v.9h-.9zM353.4 484.4h.9v.9h-.9zM355.0 455.5h.9v.9h-.9zM352.2 468.3h.9v.9h-.9zM353.6 454.3h.9v.9h-.9zM354.1 455.8h.9v.9h-.9zM352.8 457.1h.9v.9h-.9zM352.6 477.9h.9v.9h-.9zM353.6 442.1h.9v.9h-.9zM355.2 468.5h.9v.9h-.9zM354.3 462.3h.9v.9h-.9zM353.2 465.3h.9v.9h-.9zM352.8 465.3h.9v.9h-.9zM352.6 451.3h.9v.9h-.9zM353.7 470.5h.9v.9h-.9zM352.9 463.0h.9v.9h-.9zM352.4 471.3h.9v.9h-.9zM352.8 474.1h.9v.9h-.9zM353.3 484.4h.9v.9h-.9zM352.6 477.0h.9v.9h-.9zM352.3 465.1h.9v.9h-.9zM353.0 461.3h.9v.9h-.9zM354.7 466.3h.9v.9h-.9zM353.7 454.6h.9v.9h-.9zM353.8 442.2h.9v.9h-.9zM353.9 474.5h.9v.9h-.9zM354.7 472.1h.9v.9h-.9zM354.0 472.4h.9v.9h-.9zM352.6 463.0h.9v.9h-.9zM352.1 462.8h.9v.9h-.9zM354.3 462.8h.9v.9h-.9zM353.4 484.4h.9v.9h-.9zM353.0 478.7h.9v.9h-.9zM353.6 449.4h.9v.9h-.9zM354.6 463.1h.9v.9h-.9zM353.8 480.4h.9v.9h-.9zM353.8 449.8h.9v.9h-.9zM353.8 466.7h.9v.9h-.9zM352.4 475.0h.9v.9h-.9zM353.5 462.4h.9v.9h-.9zM352.8 459.0h.9v.9h-.9zM355.0 466.0h.9v.9h-.9zM352.4 453.3h.9v.9h-.9zM353.7 457.4h.9v.9h-.9zM354.0 460.4h.9v.9h-.9zM352.5 465.7h.9v.9h-.9zM353.7 483.6h.9v.9h-.9zM354.3 472.7h.9v.9h-.9zM353.8 461.2h.9v.9h-.9zM353.8 473.5h.9v.9h-.9zM354.0 471.1h.9v.9h-.9zM353.4 457.3h.9v.9h-.9zM354.9 460.2h.9v.9h-.9zM353.9 449.2h.9v.9h-.9zM353.3 473.8h.9v.9h-.9zM353.2 451.8h.9v.9h-.9zM353.8 480.0h.9v.9h-.9zM353.3 480.9h.9v.9h-.9zM353.5 478.6h.9v.9h-.9zM353.9 447.5h.9v.9h-.9zM352.1 469.2h.9v.9h-.9zM352.6 464.2h.9v.9h-.9zM353.1 450.6h.9v.9h-.9zM352.6 463.9h.9v.9h-.9zM353.9 444.2h.9v.9h-.9zM353.1 442.1h.9v.9h-.9zM354.8 467.6h.9v.9h-.9zM355.3 467.0h.9v.9h-.9zM353.8 462.8h.9v.9h-.9zM354.9 463.5h.9v.9h-.9zM354.5 456.8h.9v.9h-.9zM355.0 470.2h.9v.9h-.9zM352.7 469.1h.9v.9h-.9zM352.9 457.5h.9v.9h-.9zM353.6 463.5h.9v.9h-.9zM352.3 465.2h.9v.9h-.9zM352.4 468.5h.9v.9h-.9zM353.2 480.2h.9v.9h-.9zM352.3 459.7h.9v.9h-.9zM355.1 458.1h.9v.9h-.9zM352.6 449.7h.9v.9h-.9zM354.5 452.7h.9v.9h-.9zM354.4 460.9h.9v.9h-.9zM353.2 469.8h.9v.9h-.9zM353.0 470.7h.9v.9h-.9zM352.7 462.3h.9v.9h-.9zM354.2 472.5h.9v.9h-.9zM355.1 458.2h.9v.9h-.9zM352.5 467.9h.9v.9h-.9zM355.1 469.5h.9v.9h-.9zM352.1 461.1h.9v.9h-.9zM352.3 470.3h.9v.9h-.9zM352.4 468.7h.9v.9h-.9zM354.3 471.0h.9v.9h-.9zM353.1 462.5h.9v.9h-.9zM352.2 458.7h.9v.9h-.9zM354.8 470.9h.9v.9h-.9zM353.6 484.4h.9v.9h-.9zM353.7 469.7h.9v.9h-.9zM353.4 453.4h.9v.9h-.9zM354.2 480.6h.9v.9h-.9zM352.0 462.9h.9v.9h-.9zM353.9 445.4h.9v.9h-.9zM354.6 464.1h.9v.9h-.9zM353.1 452.2h.9v.9h-.9zM355.0 468.0h.9v.9h-.9zM353.6 466.5h.9v.9h-.9zM354.4 446.6h.9v.9h-.9zM353.3 484.4h.9v.9h-.9zM353.7 477.0h.9v.9h-.9zM354.6 454.0h.9v.9h-.9zM354.7 453.7h.9v.9h-.9zM353.5 468.5h.9v.9h-.9zM352.7 451.0h.9v.9h-.9zM354.2 444.5h.9v.9h-.9zM353.6 456.6h.9v.9h-.9zM354.7 451.1h.9v.9h-.9zM354.1 457.7h.9v.9h-.9zM354.2 456.8h.9v.9h-.9zM352.5 465.3h.9v.9h-.9zM353.2 458.0h.9v.9h-.9zM354.3 460.9h.9v.9h-.9zM353.6 474.0h.9v.9h-.9zM354.4 461.2h.9v.9h-.9zM352.4 471.9h.9v.9h-.9zM352.0 470.1h.9v.9h-.9zM353.1 481.8h.9v.9h-.9zM354.2 471.7h.9v.9h-.9zM354.3 468.2h.9v.9h-.9zM352.4 459.6h.9v.9h-.9zM354.3 462.1h.9v.9h-.9zM354.9 464.9h.9v.9h-.9zM352.2 464.0h.9v.9h-.9zM353.3 483.9h.9v.9h-.9zM352.6 453.5h.9v.9h-.9zM353.0 481.3h.9v.9h-.9zM353.6 478.2h.9v.9h-.9zM355.0 468.9h.9v.9h-.9zM354.2 449.8h.9v.9h-.9zM355.4 463.5h.9v.9h-.9zM354.7 471.1h.9v.9h-.9zM355.3 465.4h.9v.9h-.9zM352.4 464.2h.9v.9h-.9zM353.9 480.3h.9v.9h-.9zM352.6 459.5h.9v.9h-.9zM354.5 466.1h.9v.9h-.9zM353.0 480.3h.9v.9h-.9zM353.5 445.1h.9v.9h-.9zM354.4 462.3h.9v.9h-.9zM353.7 443.4h.9v.9h-.9zM352.7 451.2h.9v.9h-.9zM354.6 467.9h.9v.9h-.9zM354.4 470.3h.9v.9h-.9zM354.0 468.1h.9v.9h-.9zM353.5 470.6h.9v.9h-.9zM353.1 460.6h.9v.9h-.9zM353.9 471.2h.9v.9h-.9zM353.6 448.6h.9v.9h-.9zM353.9 476.0h.9v.9h-.9zM352.7 479.9h.9v.9h-.9zM352.9 458.1h.9v.9h-.9zM353.8 480.2h.9v.9h-.9zM352.8 456.7h.9v.9h-.9zM354.0 470.0h.9v.9h-.9zM352.0 463.0h.9v.9h-.9zM355.0 468.0h.9v.9h-.9zM353.7 480.7h.9v.9h-.9zM353.7 464.6h.9v.9h-.9zM352.8 474.7h.9v.9h-.9zM353.3 466.3h.9v.9h-.9zM352.6 476.5h.9v.9h-.9zM352.4 470.7h.9v.9h-.9zM353.5 470.4h.9v.9h-.9zM354.5 449.2h.9v.9h-.9zM354.2 467.4h.9v.9h-.9zM353.2 463.8h.9v.9h-.9zM354.1 463.1h.9v.9h-.9zM353.3 469.6h.9v.9h-.9zM352.8 470.1h.9v.9h-.9zM354.2 464.2h.9v.9h-.9zM354.5 464.3h.9v.9h-.9zM352.9 473.6h.9v.9h-.9zM354.5 449.1h.9v.9h-.9zM354.2 478.1h.9v.9h-.9zM354.9 464.3h.9v.9h-.9zM353.5 454.9h.9v.9h-.9zM352.6 469.0h.9v.9h-.9zM354.6 464.6h.9v.9h-.9zM353.0 447.2h.9v.9h-.9zM353.6 484.4h.9v.9h-.9zM354.5 464.5h.9v.9h-.9zM352.0 468.7h.9v.9h-.9zM353.7 467.1h.9v.9h-.9zM353.7 475.0h.9v.9h-.9zM352.3 456.0h.9v.9h-.9zM352.7 473.9h.9v.9h-.9zM352.4 460.6h.9v.9h-.9zM354.4 446.1h.9v.9h-.9zM352.7 469.6h.9v.9h-.9zM353.9 450.2h.9v.9h-.9zM354.8 453.6h.9v.9h-.9zM354.2 451.3h.9v.9h-.9zM351.9 462.2h.9v.9h-.9zM355.0 464.8h.9v.9h-.9zM353.2 462.1h.9v.9h-.9zM352.5 461.3h.9v.9h-.9zM352.7 475.4h.9v.9h-.9zM352.5 472.8h.9v.9h-.9zM353.4 455.5h.9v.9h-.9zM355.4 464.6h.9v.9h-.9zM354.0 475.3h.9v.9h-.9zM353.3 474.1h.9v.9h-.9zM353.7 475.8h.9v.9h-.9zM354.5 469.0h.9v.9h-.9zM353.2 453.1h.9v.9h-.9zM354.9 454.2h.9v.9h-.9zM351.9 460.1h.9v.9h-.9zM352.3 468.6h.9v.9h-.9zM353.7 480.4h.9v.9h-.9zM354.1 457.7h.9v.9h-.9zM353.2 466.0h.9v.9h-.9zM354.8 471.1h.9v.9h-.9zM352.3 465.8h.9v.9h-.9zM352.7 446.5h.9v.9h-.9zM353.7 474.1h.9v.9h-.9zM352.6 458.3h.9v.9h-.9zM354.7 473.9h.9v.9h-.9zM354.3 456.7h.9v.9h-.9zM352.5 460.4h.9v.9h-.9zM353.1 463.9h.9v.9h-.9zM353.0 455.6h.9v.9h-.9zM353.1 460.4h.9v.9h-.9zM353.7 484.4h.9v.9h-.9zM353.3 470.2h.9v.9h-.9zM352.7 469.4h.9v.9h-.9zM352.0 465.8h.9v.9h-.9zM353.5 452.5h.9v.9h-.9zM353.4 475.1h.9v.9h-.9zM354.8 474.2h.9v.9h-.9zM353.0 466.6h.9v.9h-.9zM353.4 475.3h.9v.9h-.9zM354.8 465.8h.9v.9h-.9zM353.1 459.6h.9v.9h-.9zM353.1 471.5h.9v.9h-.9zM353.1 484.4h.9v.9h-.9zM351.9 462.2h.9v.9h-.9zM353.5 473.1h.9v.9h-.9zM353.2 471.6h.9v.9h-.9zM354.2 448.1h.9v.9h-.9zM353.9 481.4h.9v.9h-.9zM354.1 466.5h.9v.9h-.9zM353.5 468.3h.9v.9h-.9zM352.6 459.7h.9v.9h-.9zM355.2 469.3h.9v.9h-.9zM352.1 457.5h.9v.9h-.9zM353.1 452.9h.9v.9h-.9zM353.9 470.7h.9v.9h-.9zM355.1 471.3h.9v.9h-.9zM353.9 468.8h.9v.9h-.9zM353.8 476.2h.9v.9h-.9zM354.9 462.9h.9v.9h-.9zM353.9 479.1h.9v.9h-.9zM354.7 464.4h.9v.9h-.9zM352.5 477.3h.9v.9h-.9zM353.2 466.9h.9v.9h-.9zM353.4 470.3h.9v.9h-.9zM353.5 480.2h.9v.9h-.9zM354.1 475.4h.9v.9h-.9zM352.1 457.1h.9v.9h-.9zM352.1 458.0h.9v.9h-.9zM353.0 448.0h.9v.9h-.9zM353.4 442.1h.9v.9h-.9zM352.7 451.6h.9v.9h-.9zM353.1 478.4h.9v.9h-.9zM354.6 472.9h.9v.9h-.9zM352.7 455.5h.9v.9h-.9zM352.8 455.7h.9v.9h-.9zM352.8 477.0h.9v.9h-.9zM352.0 462.2h.9v.9h-.9zM352.9 449.3h.9v.9h-.9zM352.2 471.0h.9v.9h-.9zM352.6 469.2h.9v.9h-.9zM354.1 479.5h.9v.9h-.9zM354.5 472.7h.9v.9h-.9zM354.3 463.8h.9v.9h-.9zM355.3 462.4h.9v.9h-.9zM353.7 479.3h.9v.9h-.9zM351.9 468.7h.9v.9h-.9zM355.1 463.3h.9v.9h-.9zM354.0 479.9h.9v.9h-.9zM353.8 468.8h.9v.9h-.9zM353.3 470.3h.9v.9h-.9zM352.4 468.5h.9v.9h-.9zM353.8 455.9h.9v.9h-.9zM354.4 462.8h.9v.9h-.9zM355.1 463.5h.9v.9h-.9zM353.3 447.5h.9v.9h-.9zM354.2 466.6h.9v.9h-.9zM353.1 455.3h.9v.9h-.9zM353.9 450.0h.9v.9h-.9zM353.3 469.8h.9v.9h-.9zM353.7 462.2h.9v.9h-.9zM354.4 458.9h.9v.9h-.9zM353.7 446.5h.9v.9h-.9zM353.3 484.4h.9v.9h-.9zM353.3 444.4h.9v.9h-.9zM353.6 459.6h.9v.9h-.9zM354.4 470.6h.9v.9h-.9zM352.7 462.5h.9v.9h-.9zM354.3 448.5h.9v.9h-.9zM354.6 463.9h.9v.9h-.9zM354.8 472.7h.9v.9h-.9zM352.2 470.6h.9v.9h-.9zM352.6 453.8h.9v.9h-.9zM352.1 457.7h.9v.9h-.9zM354.7 456.9h.9v.9h-.9zM352.9 442.7h.9v.9h-.9zM353.7 465.2h.9v.9h-.9zM352.7 449.0h.9v.9h-.9zM353.8 475.5h.9v.9h-.9zM354.3 464.7h.9v.9h-.9zM352.4 466.5h.9v.9h-.9zM353.1 455.7h.9v.9h-.9zM353.8 468.0h.9v.9h-.9zM353.8 458.6h.9v.9h-.9zM353.5 479.4h.9v.9h-.9zM353.0 472.1h.9v.9h-.9zM353.6 460.9h.9v.9h-.9zM352.7 462.8h.9v.9h-.9zM351.9 467.3h.9v.9h-.9zM353.2 457.6h.9v.9h-.9zM354.0 447.5h.9v.9h-.9zM353.7 473.3h.9v.9h-.9zM352.6 469.2h.9v.9h-.9zM354.5 478.1h.9v.9h-.9zM354.0 475.6h.9v.9h-.9zM354.7 462.6h.9v.9h-.9zM353.0 473.8h.9v.9h-.9zM353.7 484.4h.9v.9h-.9zM353.0 467.1h.9v.9h-.9zM353.4 479.1h.9v.9h-.9zM352.4 466.0h.9v.9h-.9zM352.9 448.6h.9v.9h-.9zM354.0 454.7h.9v.9h-.9zM353.4 462.5h.9v.9h-.9zM354.5 465.4h.9v.9h-.9zM352.3 453.1h.9v.9h-.9zM352.6 463.0h.9v.9h-.9zM353.8 467.1h.9v.9h-.9zM354.0 471.9h.9v.9h-.9zM354.6 463.1h.9v.9h-.9zM352.8 462.6h.9v.9h-.9zM353.0 457.8h.9v.9h-.9zM352.5 463.8h.9v.9h-.9zM354.9 466.4h.9v.9h-.9zM353.3 459.5h.9v.9h-.9zM353.4 455.5h.9v.9h-.9zM352.7 467.1h.9v.9h-.9zM353.4 451.5h.9v.9h-.9zM354.4 455.0h.9v.9h-.9zM353.1 465.4h.9v.9h-.9zM352.9 442.7h.9v.9h-.9zM354.7 463.7h.9v.9h-.9zM353.0 470.9h.9v.9h-.9zM352.5 468.3h.9v.9h-.9zM353.6 476.8h.9v.9h-.9zM353.5 467.5h.9v.9h-.9zM353.5 476.0h.9v.9h-.9zM352.6 465.9h.9v.9h-.9zM353.9 469.6h.9v.9h-.9zM353.6 458.5h.9v.9h-.9zM354.5 476.5h.9v.9h-.9zM354.2 453.3h.9v.9h-.9zM353.5 484.4h.9v.9h-.9zM354.2 471.3h.9v.9h-.9zM353.3 480.7h.9v.9h-.9zM353.4 484.4h.9v.9h-.9zM354.3 478.9h.9v.9h-.9zM352.3 465.9h.9v.9h-.9zM354.1 458.3h.9v.9h-.9zM352.5 461.1h.9v.9h-.9zM353.7 459.4h.9v.9h-.9zM352.3 471.0h.9v.9h-.9zM353.9 466.5h.9v.9h-.9zM353.1 465.2h.9v.9h-.9zM353.4 458.4h.9v.9h-.9zM352.9 449.0h.9v.9h-.9zM354.4 480.6h.9v.9h-.9zM353.9 445.4h.9v.9h-.9zM353.8 445.2h.9v.9h-.9zM352.2 470.2h.9v.9h-.9zM354.4 453.5h.9v.9h-.9zM354.3 460.7h.9v.9h-.9zM352.5 453.0h.9v.9h-.9zM353.4 464.4h.9v.9h-.9zM354.8 456.7h.9v.9h-.9zM353.8 474.1h.9v.9h-.9zM352.9 459.4h.9v.9h-.9zM352.9 476.8h.9v.9h-.9zM354.5 469.2h.9v.9h-.9zM354.5 462.2h.9v.9h-.9zM354.7 462.0h.9v.9h-.9zM352.7 466.2h.9v.9h-.9zM353.8 450.1h.9v.9h-.9zM353.0 445.3h.9v.9h-.9zM353.7 461.8h.9v.9h-.9zM352.5 459.6h.9v.9h-.9zM353.0 449.7h.9v.9h-.9zM353.8 468.0h.9v.9h-.9zM351.9 460.9h.9v.9h-.9zM355.2 462.8h.9v.9h-.9zM353.0 462.3h.9v.9h-.9zM353.5 467.5h.9v.9h-.9zM352.9 459.6h.9v.9h-.9zM352.3 474.1h.9v.9h-.9zM354.8 460.6h.9v.9h-.9zM352.7 456.4h.9v.9h-.9zM352.9 461.0h.9v.9h-.9zM352.3 464.7h.9v.9h-.9zM354.9 467.1h.9v.9h-.9zM352.2 471.0h.9v.9h-.9zM353.0 478.1h.9v.9h-.9zM354.3 470.4h.9v.9h-.9zM354.6 473.6h.9v.9h-.9zM354.1 471.2h.9v.9h-.9zM353.4 457.2h.9v.9h-.9zM353.4 450.4h.9v.9h-.9zM354.9 455.2h.9v.9h-.9zM352.8 451.7h.9v.9h-.9zM354.5 467.0h.9v.9h-.9zM354.8 470.9h.9v.9h-.9zM353.2 484.4h.9v.9h-.9zM354.3 460.0h.9v.9h-.9zM353.4 461.7h.9v.9h-.9zM354.4 463.6h.9v.9h-.9zM352.9 467.2h.9v.9h-.9zM354.8 463.6h.9v.9h-.9zM352.8 472.7h.9v.9h-.9zM353.2 455.6h.9v.9h-.9zM354.2 474.4h.9v.9h-.9zM353.2 471.1h.9v.9h-.9zM353.0 481.7h.9v.9h-.9zM353.3 442.1h.9v.9h-.9zM353.4 449.5h.9v.9h-.9zM354.8 470.6h.9v.9h-.9zM354.5 459.3h.9v.9h-.9zM353.8 476.2h.9v.9h-.9zM352.6 465.6h.9v.9h-.9zM354.4 457.6h.9v.9h-.9zM353.0 478.5h.9v.9h-.9zM353.7 479.6h.9v.9h-.9zM352.9 482.9h.9v.9h-.9zM353.3 448.7h.9v.9h-.9zM354.9 458.8h.9v.9h-.9zM354.2 458.0h.9v.9h-.9zM352.7 468.8h.9v.9h-.9zM352.8 463.3h.9v.9h-.9zM353.1 476.6h.9v.9h-.9zM355.1 461.3h.9v.9h-.9zM352.8 456.0h.9v.9h-.9zM354.4 426.7h.9v.9h-.9zM354.0 434.2h.9v.9h-.9zM354.6 435.0h.9v.9h-.9zM352.6 435.7h.9v.9h-.9zM353.7 442.1h.9v.9h-.9zM353.1 428.7h.9v.9h-.9zM362.0 452.3h.9v.9h-.9zM363.4 466.6h.9v.9h-.9zM362.8 455.1h.9v.9h-.9zM363.4 455.6h.9v.9h-.9zM362.9 451.1h.9v.9h-.9zM364.5 456.0h.9v.9h-.9zM362.3 450.5h.9v.9h-.9zM362.7 477.0h.9v.9h-.9zM362.0 453.2h.9v.9h-.9zM364.4 465.3h.9v.9h-.9zM362.2 455.6h.9v.9h-.9zM363.0 445.0h.9v.9h-.9zM361.9 461.6h.9v.9h-.9zM363.9 474.0h.9v.9h-.9zM361.6 448.9h.9v.9h-.9zM362.3 459.6h.9v.9h-.9zM362.6 479.7h.9v.9h-.9zM361.2 457.7h.9v.9h-.9zM361.9 461.3h.9v.9h-.9zM364.4 459.0h.9v.9h-.9zM363.2 443.0h.9v.9h-.9zM364.4 461.6h.9v.9h-.9zM362.9 477.2h.9v.9h-.9zM361.7 468.5h.9v.9h-.9zM362.3 467.0h.9v.9h-.9zM363.8 453.3h.9v.9h-.9zM361.8 472.7h.9v.9h-.9zM361.7 462.7h.9v.9h-.9zM362.1 466.6h.9v.9h-.9zM361.7 471.9h.9v.9h-.9zM362.4 459.0h.9v.9h-.9zM362.6 476.5h.9v.9h-.9zM361.7 457.1h.9v.9h-.9zM363.1 463.1h.9v.9h-.9zM362.7 455.7h.9v.9h-.9zM363.3 448.6h.9v.9h-.9zM363.9 457.6h.9v.9h-.9zM361.6 462.3h.9v.9h-.9zM362.6 452.2h.9v.9h-.9zM362.4 479.7h.9v.9h-.9zM362.7 459.3h.9v.9h-.9zM363.5 474.6h.9v.9h-.9zM363.2 479.7h.9v.9h-.9zM362.5 461.5h.9v.9h-.9zM361.7 451.0h.9v.9h-.9zM362.8 452.7h.9v.9h-.9zM363.2 470.4h.9v.9h-.9zM363.5 467.6h.9v.9h-.9zM361.6 450.4h.9v.9h-.9zM362.4 440.2h.9v.9h-.9zM362.9 465.0h.9v.9h-.9zM363.5 464.9h.9v.9h-.9zM362.5 460.7h.9v.9h-.9zM363.9 452.4h.9v.9h-.9zM361.6 466.2h.9v.9h-.9zM361.8 448.5h.9v.9h-.9zM362.5 462.1h.9v.9h-.9zM363.8 462.0h.9v.9h-.9zM364.2 470.3h.9v.9h-.9zM362.2 459.7h.9v.9h-.9zM363.4 469.8h.9v.9h-.9zM362.4 466.2h.9v.9h-.9zM364.0 448.8h.9v.9h-.9zM362.6 448.7h.9v.9h-.9zM364.3 460.1h.9v.9h-.9zM361.2 463.3h.9v.9h-.9zM363.8 459.4h.9v.9h-.9zM363.0 466.7h.9v.9h-.9zM362.5 462.9h.9v.9h-.9zM361.9 454.1h.9v.9h-.9zM361.9 462.1h.9v.9h-.9zM362.6 452.0h.9v.9h-.9zM361.4 465.6h.9v.9h-.9zM362.8 437.5h.9v.9h-.9zM363.5 475.7h.9v.9h-.9zM362.5 456.9h.9v.9h-.9zM362.6 479.7h.9v.9h-.9zM362.9 479.7h.9v.9h-.9zM363.9 469.3h.9v.9h-.9zM362.3 449.8h.9v.9h-.9zM363.9 458.8h.9v.9h-.9zM362.4 455.0h.9v.9h-.9zM364.1 458.8h.9v.9h-.9zM362.6 472.6h.9v.9h-.9zM362.5 475.8h.9v.9h-.9zM362.3 446.1h.9v.9h-.9zM362.0 455.2h.9v.9h-.9zM363.7 444.7h.9v.9h-.9zM361.4 465.7h.9v.9h-.9zM362.7 479.7h.9v.9h-.9zM363.7 475.3h.9v.9h-.9zM363.1 464.7h.9v.9h-.9zM364.2 459.7h.9v.9h-.9zM362.7 437.5h.9v.9h-.9zM364.2 464.1h.9v.9h-.9zM363.3 454.1h.9v.9h-.9zM363.2 437.6h.9v.9h-.9zM361.2 465.4h.9v.9h-.9zM361.9 462.2h.9v.9h-.9zM364.2 462.4h.9v.9h-.9zM362.0 465.0h.9v.9h-.9zM363.9 464.5h.9v.9h-.9zM363.5 450.1h.9v.9h-.9zM362.3 456.5h.9v.9h-.9zM363.6 464.9h.9v.9h-.9zM362.9 451.1h.9v.9h-.9zM361.5 455.0h.9v.9h-.9zM362.4 451.5h.9v.9h-.9zM363.3 437.5h.9v.9h-.9zM361.6 461.0h.9v.9h-.9zM363.4 446.5h.9v.9h-.9zM362.6 471.9h.9v.9h-.9zM363.6 451.7h.9v.9h-.9zM362.7 455.4h.9v.9h-.9zM363.4 458.6h.9v.9h-.9zM362.5 473.0h.9v.9h-.9zM361.4 454.8h.9v.9h-.9zM361.5 459.1h.9v.9h-.9zM362.9 479.7h.9v.9h-.9zM361.7 454.9h.9v.9h-.9zM362.4 476.7h.9v.9h-.9zM362.6 459.5h.9v.9h-.9zM361.2 460.7h.9v.9h-.9zM364.4 467.1h.9v.9h-.9zM362.1 471.9h.9v.9h-.9zM361.6 449.3h.9v.9h-.9zM362.0 457.6h.9v.9h-.9zM363.0 447.7h.9v.9h-.9zM362.8 437.5h.9v.9h-.9zM363.5 468.7h.9v.9h-.9zM362.7 445.7h.9v.9h-.9zM363.3 452.9h.9v.9h-.9zM362.6 455.3h.9v.9h-.9zM363.2 463.3h.9v.9h-.9zM363.1 471.6h.9v.9h-.9zM362.1 450.0h.9v.9h-.9zM362.9 478.3h.9v.9h-.9zM363.1 451.4h.9v.9h-.9zM363.6 440.6h.9v.9h-.9zM361.8 461.7h.9v.9h-.9zM362.4 437.6h.9v.9h-.9zM362.8 442.1h.9v.9h-.9zM363.4 470.6h.9v.9h-.9zM361.7 459.9h.9v.9h-.9zM363.0 461.1h.9v.9h-.9zM363.5 472.6h.9v.9h-.9zM362.1 443.8h.9v.9h-.9zM362.8 476.9h.9v.9h-.9zM362.2 462.2h.9v.9h-.9zM362.4 437.5h.9v.9h-.9zM361.6 463.5h.9v.9h-.9zM361.2 458.6h.9v.9h-.9zM362.9 450.7h.9v.9h-.9zM362.4 473.6h.9v.9h-.9zM362.7 460.4h.9v.9h-.9zM362.9 445.5h.9v.9h-.9zM363.8 470.9h.9v.9h-.9zM362.9 450.1h.9v.9h-.9zM362.9 465.6h.9v.9h-.9zM362.9 446.4h.9v.9h-.9zM362.7 458.3h.9v.9h-.9zM363.0 457.4h.9v.9h-.9zM364.0 461.0h.9v.9h-.9zM364.5 460.0h.9v.9h-.9zM362.2 450.9h.9v.9h-.9zM362.8 472.5h.9v.9h-.9zM362.1 454.8h.9v.9h-.9zM362.0 457.4h.9v.9h-.9zM362.7 455.2h.9v.9h-.9zM363.0 469.8h.9v.9h-.9zM363.9 469.6h.9v.9h-.9zM362.2 453.0h.9v.9h-.9zM362.7 440.8h.9v.9h-.9zM363.0 471.8h.9v.9h-.9zM362.2 468.5h.9v.9h-.9zM364.4 455.7h.9v.9h-.9zM362.5 460.4h.9v.9h-.9zM362.6 463.6h.9v.9h-.9zM363.2 478.7h.9v.9h-.9zM362.5 444.7h.9v.9h-.9zM361.4 467.0h.9v.9h-.9zM363.2 475.8h.9v.9h-.9zM362.1 455.8h.9v.9h-.9zM361.9 450.1h.9v.9h-.9zM362.7 440.4h.9v.9h-.9zM362.0 460.3h.9v.9h-.9zM362.7 446.3h.9v.9h-.9zM363.1 470.2h.9v.9h-.9zM361.2 464.1h.9v.9h-.9zM362.2 441.4h.9v.9h-.9zM362.5 472.4h.9v.9h-.9zM363.1 438.2h.9v.9h-.9zM363.3 453.5h.9v.9h-.9zM363.3 469.3h.9v.9h-.9zM362.7 474.1h.9v.9h-.9zM362.3 458.6h.9v.9h-.9zM363.5 475.1h.9v.9h-.9zM364.2 466.0h.9v.9h-.9zM362.8 453.7h.9v.9h-.9zM362.6 479.4h.9v.9h-.9zM364.3 452.8h.9v.9h-.9zM362.2 471.0h.9v.9h-.9zM361.8 454.6h.9v.9h-.9zM363.6 466.1h.9v.9h-.9zM363.2 476.8h.9v.9h-.9zM364.3 455.8h.9v.9h-.9zM362.2 461.5h.9v.9h-.9zM363.5 465.9h.9v.9h-.9zM364.1 462.8h.9v.9h-.9zM362.0 459.4h.9v.9h-.9zM362.6 456.6h.9v.9h-.9zM362.3 462.1h.9v.9h-.9zM361.9 445.3h.9v.9h-.9zM363.8 447.6h.9v.9h-.9zM362.9 452.2h.9v.9h-.9zM362.5 464.6h.9v.9h-.9zM362.9 475.0h.9v.9h-.9zM363.8 449.4h.9v.9h-.9zM363.4 474.0h.9v.9h-.9zM362.5 463.2h.9v.9h-.9zM361.9 467.6h.9v.9h-.9zM363.6 470.4h.9v.9h-.9zM363.4 458.6h.9v.9h-.9zM363.5 447.1h.9v.9h-.9zM362.6 469.0h.9v.9h-.9zM362.0 462.2h.9v.9h-.9zM363.7 465.2h.9v.9h-.9zM362.1 456.1h.9v.9h-.9zM362.5 458.9h.9v.9h-.9zM363.5 474.5h.9v.9h-.9zM363.3 452.3h.9v.9h-.9zM362.1 470.1h.9v.9h-.9zM362.5 461.5h.9v.9h-.9zM362.7 463.6h.9v.9h-.9zM363.6 464.4h.9v.9h-.9zM361.5 456.9h.9v.9h-.9zM361.9 452.7h.9v.9h-.9zM361.8 452.2h.9v.9h-.9zM363.2 464.5h.9v.9h-.9zM361.9 471.3h.9v.9h-.9zM362.6 464.6h.9v.9h-.9zM362.4 464.7h.9v.9h-.9zM364.2 468.2h.9v.9h-.9zM362.2 477.1h.9v.9h-.9zM362.0 450.3h.9v.9h-.9zM361.5 463.8h.9v.9h-.9zM362.8 437.5h.9v.9h-.9zM363.2 476.8h.9v.9h-.9zM363.5 472.1h.9v.9h-.9zM363.8 453.7h.9v.9h-.9zM362.4 479.7h.9v.9h-.9zM361.3 462.2h.9v.9h-.9zM364.0 466.5h.9v.9h-.9zM364.3 459.4h.9v.9h-.9zM363.6 449.7h.9v.9h-.9zM362.9 457.3h.9v.9h-.9zM362.0 459.0h.9v.9h-.9zM363.5 457.0h.9v.9h-.9zM363.1 443.4h.9v.9h-.9zM363.3 437.5h.9v.9h-.9zM362.9 479.5h.9v.9h-.9zM362.0 442.2h.9v.9h-.9zM363.6 446.9h.9v.9h-.9zM361.4 458.6h.9v.9h-.9zM363.4 443.3h.9v.9h-.9zM363.0 440.3h.9v.9h-.9zM362.0 460.4h.9v.9h-.9zM362.1 451.4h.9v.9h-.9zM363.4 448.8h.9v.9h-.9zM361.4 453.6h.9v.9h-.9zM362.5 464.4h.9v.9h-.9zM363.2 467.7h.9v.9h-.9zM363.3 472.7h.9v.9h-.9zM363.8 465.1h.9v.9h-.9zM363.8 459.9h.9v.9h-.9zM364.4 461.9h.9v.9h-.9zM363.4 462.2h.9v.9h-.9zM362.6 457.0h.9v.9h-.9zM363.0 460.8h.9v.9h-.9zM362.0 458.3h.9v.9h-.9zM364.1 465.2h.9v.9h-.9zM363.6 473.3h.9v.9h-.9zM364.6 462.3h.9v.9h-.9zM362.3 467.8h.9v.9h-.9zM364.0 467.5h.9v.9h-.9zM364.1 457.5h.9v.9h-.9zM362.9 461.3h.9v.9h-.9zM363.1 466.7h.9v.9h-.9zM363.5 475.6h.9v.9h-.9zM362.0 465.1h.9v.9h-.9zM363.7 468.3h.9v.9h-.9zM364.0 465.0h.9v.9h-.9zM363.1 459.4h.9v.9h-.9zM363.3 461.8h.9v.9h-.9zM363.6 461.7h.9v.9h-.9zM364.6 459.7h.9v.9h-.9zM362.6 438.3h.9v.9h-.9zM362.1 463.9h.9v.9h-.9zM363.2 459.9h.9v.9h-.9zM364.0 450.6h.9v.9h-.9zM361.3 462.8h.9v.9h-.9zM363.1 479.7h.9v.9h-.9zM364.3 455.1h.9v.9h-.9zM364.0 457.8h.9v.9h-.9zM362.5 445.8h.9v.9h-.9zM361.8 450.0h.9v.9h-.9zM362.3 467.1h.9v.9h-.9zM361.6 457.7h.9v.9h-.9zM362.4 465.6h.9v.9h-.9zM363.5 467.2h.9v.9h-.9zM362.5 445.9h.9v.9h-.9zM363.0 479.4h.9v.9h-.9zM363.2 473.0h.9v.9h-.9zM362.7 469.5h.9v.9h-.9zM362.8 442.4h.9v.9h-.9zM364.6 462.8h.9v.9h-.9zM361.2 457.1h.9v.9h-.9zM361.9 446.9h.9v.9h-.9zM363.5 454.5h.9v.9h-.9zM364.0 464.2h.9v.9h-.9zM363.7 462.5h.9v.9h-.9zM363.0 440.2h.9v.9h-.9zM361.1 462.3h.9v.9h-.9zM361.8 470.4h.9v.9h-.9zM364.3 459.8h.9v.9h-.9zM364.4 456.5h.9v.9h-.9zM363.3 470.8h.9v.9h-.9zM361.9 467.4h.9v.9h-.9zM361.9 462.8h.9v.9h-.9zM364.2 467.7h.9v.9h-.9zM362.2 458.6h.9v.9h-.9zM364.1 455.3h.9v.9h-.9zM362.2 474.5h.9v.9h-.9zM362.7 461.1h.9v.9h-.9zM363.2 456.6h.9v.9h-.9zM361.9 447.1h.9v.9h-.9zM364.5 462.5h.9v.9h-.9zM364.4 462.7h.9v.9h-.9zM363.3 459.0h.9v.9h-.9zM362.6 438.3h.9v.9h-.9zM362.1 447.3h.9v.9h-.9zM361.3 456.0h.9v.9h-.9zM361.3 455.5h.9v.9h-.9zM362.0 466.4h.9v.9h-.9zM363.0 464.4h.9v.9h-.9zM361.9 463.3h.9v.9h-.9zM362.4 463.9h.9v.9h-.9zM363.2 473.3h.9v.9h-.9zM363.8 460.4h.9v.9h-.9zM362.3 441.7h.9v.9h-.9zM361.4 457.6h.9v.9h-.9zM362.1 447.0h.9v.9h-.9zM361.4 467.1h.9v.9h-.9zM363.2 440.3h.9v.9h-.9zM363.4 478.5h.9v.9h-.9zM362.6 475.4h.9v.9h-.9zM363.4 460.5h.9v.9h-.9zM361.8 458.1h.9v.9h-.9zM361.6 464.4h.9v.9h-.9zM362.5 464.0h.9v.9h-.9zM362.3 462.6h.9v.9h-.9zM361.9 462.6h.9v.9h-.9zM363.3 451.2h.9v.9h-.9zM364.6 462.1h.9v.9h-.9zM363.3 444.7h.9v.9h-.9zM361.5 464.6h.9v.9h-.9zM361.8 452.3h.9v.9h-.9zM361.2 460.5h.9v.9h-.9zM361.4 460.1h.9v.9h-.9zM363.4 463.7h.9v.9h-.9zM362.6 460.8h.9v.9h-.9zM361.3 464.6h.9v.9h-.9zM361.7 450.8h.9v.9h-.9zM363.9 463.1h.9v.9h-.9zM362.9 471.8h.9v.9h-.9zM362.3 467.7h.9v.9h-.9zM363.1 468.5h.9v.9h-.9zM362.9 462.9h.9v.9h-.9zM362.3 444.0h.9v.9h-.9zM362.6 465.8h.9v.9h-.9zM362.3 441.5h.9v.9h-.9zM362.8 459.6h.9v.9h-.9zM361.9 456.2h.9v.9h-.9zM364.3 459.5h.9v.9h-.9zM362.9 464.5h.9v.9h-.9zM362.7 444.9h.9v.9h-.9zM361.5 470.1h.9v.9h-.9zM362.8 479.7h.9v.9h-.9zM363.0 456.5h.9v.9h-.9zM363.9 470.7h.9v.9h-.9zM362.5 466.1h.9v.9h-.9zM363.8 461.1h.9v.9h-.9zM363.9 469.7h.9v.9h-.9zM362.5 470.9h.9v.9h-.9zM364.1 449.6h.9v.9h-.9zM364.3 463.9h.9v.9h-.9zM362.7 478.9h.9v.9h-.9zM363.1 443.8h.9v.9h-.9zM361.9 453.6h.9v.9h-.9zM362.8 437.5h.9v.9h-.9zM362.5 465.4h.9v.9h-.9zM363.6 449.4h.9v.9h-.9zM364.2 464.7h.9v.9h-.9zM362.3 444.2h.9v.9h-.9zM361.4 468.4h.9v.9h-.9zM363.5 453.5h.9v.9h-.9zM362.6 441.2h.9v.9h-.9zM363.5 459.6h.9v.9h-.9zM362.7 477.1h.9v.9h-.9zM362.8 474.2h.9v.9h-.9zM362.4 465.3h.9v.9h-.9zM363.6 467.8h.9v.9h-.9zM362.5 447.3h.9v.9h-.9zM363.0 479.7h.9v.9h-.9zM364.2 462.1h.9v.9h-.9zM364.0 461.6h.9v.9h-.9zM363.5 471.0h.9v.9h-.9zM363.8 473.3h.9v.9h-.9zM364.2 467.8h.9v.9h-.9zM361.9 454.7h.9v.9h-.9zM362.7 479.7h.9v.9h-.9zM361.8 453.2h.9v.9h-.9zM363.4 465.4h.9v.9h-.9zM364.0 450.0h.9v.9h-.9zM362.8 457.7h.9v.9h-.9zM363.4 448.6h.9v.9h-.9zM362.5 459.0h.9v.9h-.9zM363.6 469.6h.9v.9h-.9zM362.3 464.6h.9v.9h-.9zM363.8 471.0h.9v.9h-.9zM364.4 457.9h.9v.9h-.9zM363.9 471.6h.9v.9h-.9zM362.0 453.1h.9v.9h-.9zM361.8 459.9h.9v.9h-.9zM363.3 475.2h.9v.9h-.9zM363.0 468.1h.9v.9h-.9zM362.5 472.0h.9v.9h-.9zM362.3 459.5h.9v.9h-.9zM363.3 472.5h.9v.9h-.9zM363.2 465.9h.9v.9h-.9zM363.1 467.0h.9v.9h-.9zM362.8 446.7h.9v.9h-.9zM363.9 457.3h.9v.9h-.9zM362.3 461.5h.9v.9h-.9zM363.1 451.6h.9v.9h-.9zM363.4 458.4h.9v.9h-.9zM361.3 466.2h.9v.9h-.9zM361.1 462.9h.9v.9h-.9zM362.3 464.7h.9v.9h-.9zM362.3 442.2h.9v.9h-.9zM363.8 450.4h.9v.9h-.9zM363.0 473.0h.9v.9h-.9zM363.2 456.3h.9v.9h-.9zM362.6 452.2h.9v.9h-.9zM362.5 449.1h.9v.9h-.9zM363.0 479.7h.9v.9h-.9zM363.4 466.5h.9v.9h-.9zM362.9 454.5h.9v.9h-.9zM362.7 479.7h.9v.9h-.9zM362.6 450.7h.9v.9h-.9zM361.7 464.0h.9v.9h-.9zM363.9 458.7h.9v.9h-.9zM363.9 470.0h.9v.9h-.9zM362.6 475.5h.9v.9h-.9zM361.6 463.4h.9v.9h-.9zM362.7 437.5h.9v.9h-.9zM363.0 463.1h.9v.9h-.9zM363.1 447.0h.9v.9h-.9zM362.7 456.8h.9v.9h-.9zM363.0 437.5h.9v.9h-.9zM362.8 454.4h.9v.9h-.9zM363.7 464.8h.9v.9h-.9zM361.9 448.6h.9v.9h-.9zM361.6 471.5h.9v.9h-.9zM364.2 466.3h.9v.9h-.9zM363.3 471.7h.9v.9h-.9zM361.5 456.9h.9v.9h-.9zM363.6 464.4h.9v.9h-.9zM364.0 468.3h.9v.9h-.9zM364.4 467.7h.9v.9h-.9zM363.7 449.9h.9v.9h-.9zM363.0 458.5h.9v.9h-.9zM361.4 464.6h.9v.9h-.9zM362.0 475.5h.9v.9h-.9zM362.3 473.4h.9v.9h-.9zM363.7 467.0h.9v.9h-.9zM363.9 450.6h.9v.9h-.9zM362.4 456.7h.9v.9h-.9zM361.7 455.5h.9v.9h-.9zM362.8 463.1h.9v.9h-.9zM362.9 447.0h.9v.9h-.9zM362.6 453.4h.9v.9h-.9zM364.0 471.4h.9v.9h-.9zM364.0 455.4h.9v.9h-.9zM362.1 460.5h.9v.9h-.9zM364.1 456.1h.9v.9h-.9zM361.5 464.9h.9v.9h-.9zM363.8 472.1h.9v.9h-.9zM363.2 479.7h.9v.9h-.9zM361.2 462.4h.9v.9h-.9zM362.7 462.7h.9v.9h-.9zM361.3 461.3h.9v.9h-.9zM361.6 462.8h.9v.9h-.9zM362.1 451.3h.9v.9h-.9zM361.2 464.9h.9v.9h-.9zM363.0 437.5h.9v.9h-.9zM362.2 451.6h.9v.9h-.9zM362.0 466.4h.9v.9h-.9zM361.3 466.3h.9v.9h-.9zM361.8 470.3h.9v.9h-.9zM364.4 455.3h.9v.9h-.9zM361.2 458.6h.9v.9h-.9zM362.3 448.2h.9v.9h-.9zM362.6 439.9h.9v.9h-.9zM363.4 465.4h.9v.9h-.9zM361.9 449.1h.9v.9h-.9zM362.6 462.5h.9v.9h-.9zM363.2 462.7h.9v.9h-.9zM362.5 468.0h.9v.9h-.9zM364.3 460.9h.9v.9h-.9zM362.5 471.2h.9v.9h-.9zM362.3 471.3h.9v.9h-.9zM362.3 472.8h.9v.9h-.9zM363.0 473.0h.9v.9h-.9zM361.8 471.0h.9v.9h-.9zM363.8 468.2h.9v.9h-.9zM363.0 446.4h.9v.9h-.9zM364.0 467.1h.9v.9h-.9zM363.5 463.8h.9v.9h-.9zM363.6 458.7h.9v.9h-.9zM362.8 464.1h.9v.9h-.9zM362.3 458.8h.9v.9h-.9zM363.0 455.4h.9v.9h-.9zM363.0 450.3h.9v.9h-.9zM362.1 467.8h.9v.9h-.9zM361.5 467.7h.9v.9h-.9zM362.1 477.5h.9v.9h-.9zM363.6 475.0h.9v.9h-.9zM362.4 450.0h.9v.9h-.9zM364.0 449.9h.9v.9h-.9zM363.6 471.9h.9v.9h-.9zM362.1 462.2h.9v.9h-.9zM362.6 458.6h.9v.9h-.9zM363.5 459.9h.9v.9h-.9zM362.0 458.1h.9v.9h-.9zM364.1 454.4h.9v.9h-.9zM364.2 451.8h.9v.9h-.9zM361.7 464.3h.9v.9h-.9zM363.0 479.7h.9v.9h-.9zM362.6 461.8h.9v.9h-.9zM363.2 464.4h.9v.9h-.9zM363.1 440.8h.9v.9h-.9zM363.0 463.9h.9v.9h-.9zM362.3 464.5h.9v.9h-.9zM363.5 476.5h.9v.9h-.9zM363.4 446.7h.9v.9h-.9zM362.2 478.6h.9v.9h-.9zM361.8 451.5h.9v.9h-.9zM363.4 462.6h.9v.9h-.9zM363.1 468.4h.9v.9h-.9zM362.4 447.7h.9v.9h-.9zM361.8 455.7h.9v.9h-.9zM363.2 464.8h.9v.9h-.9zM361.9 454.1h.9v.9h-.9zM362.2 442.4h.9v.9h-.9zM362.9 457.4h.9v.9h-.9zM362.1 449.9h.9v.9h-.9zM363.3 467.0h.9v.9h-.9zM363.2 469.9h.9v.9h-.9zM362.0 475.2h.9v.9h-.9zM361.5 458.7h.9v.9h-.9zM361.5 463.3h.9v.9h-.9zM362.3 433.2h.9v.9h-.9zM362.7 433.5h.9v.9h-.9zM362.8 435.5h.9v.9h-.9zM371.6 466.5h.9v.9h-.9zM371.6 469.1h.9v.9h-.9zM372.2 469.1h.9v.9h-.9zM372.4 474.4h.9v.9h-.9zM372.4 473.3h.9v.9h-.9zM372.0 466.1h.9v.9h-.9zM372.8 470.7h.9v.9h-.9zM372.5 469.3h.9v.9h-.9zM372.5 467.7h.9v.9h-.9zM371.7 466.8h.9v.9h-.9zM371.6 467.6h.9v.9h-.9zM371.4 469.9h.9v.9h-.9zM372.3 467.1h.9v.9h-.9zM372.1 465.3h.9v.9h-.9zM371.6 466.1h.9v.9h-.9zM372.4 474.4h.9v.9h-.9zM372.5 474.4h.9v.9h-.9zM373.0 467.1h.9v.9h-.9zM371.9 472.0h.9v.9h-.9zM371.7 465.7h.9v.9h-.9zM372.1 465.8h.9v.9h-.9zM371.7 467.8h.9v.9h-.9zM372.3 467.5h.9v.9h-.9zM372.3 466.4h.9v.9h-.9zM372.6 466.3h.9v.9h-.9zM372.3 468.0h.9v.9h-.9zM380.8 468.5h.9v.9h-.9zM382.3 452.4h.9v.9h-.9zM380.2 470.9h.9v.9h-.9zM381.7 472.0h.9v.9h-.9zM382.2 424.4h.9v.9h-.9zM382.5 467.4h.9v.9h-.9zM381.0 472.0h.9v.9h-.9zM382.0 468.7h.9v.9h-.9zM383.1 460.8h.9v.9h-.9zM382.2 423.5h.9v.9h-.9zM381.1 471.7h.9v.9h-.9zM382.6 470.3h.9v.9h-.9zM380.3 477.2h.9v.9h-.9zM380.3 440.6h.9v.9h-.9zM381.2 476.6h.9v.9h-.9zM381.0 476.7h.9v.9h-.9zM381.5 469.6h.9v.9h-.9zM382.7 469.4h.9v.9h-.9zM381.2 458.7h.9v.9h-.9zM382.0 473.2h.9v.9h-.9zM381.6 433.8h.9v.9h-.9zM381.1 438.7h.9v.9h-.9zM380.9 449.0h.9v.9h-.9zM382.8 461.6h.9v.9h-.9zM381.2 455.3h.9v.9h-.9zM383.0 459.5h.9v.9h-.9zM381.7 467.3h.9v.9h-.9zM380.6 471.8h.9v.9h-.9zM382.2 482.5h.9v.9h-.9zM381.9 418.7h.9v.9h-.9zM382.6 475.5h.9v.9h-.9zM381.7 446.8h.9v.9h-.9zM380.8 424.5h.9v.9h-.9zM379.7 469.2h.9v.9h-.9zM381.9 467.2h.9v.9h-.9zM382.1 481.3h.9v.9h-.9zM381.4 471.9h.9v.9h-.9zM381.1 471.3h.9v.9h-.9zM380.3 444.9h.9v.9h-.9zM381.3 468.0h.9v.9h-.9zM380.3 473.6h.9v.9h-.9zM381.3 472.0h.9v.9h-.9zM381.2 476.5h.9v.9h-.9zM380.6 469.9h.9v.9h-.9zM381.4 472.2h.9v.9h-.9zM380.3 440.0h.9v.9h-.9zM381.6 416.0h.9v.9h-.9zM380.9 430.3h.9v.9h-.9zM380.9 444.1h.9v.9h-.9zM382.7 461.8h.9v.9h-.9zM380.2 474.9h.9v.9h-.9zM382.3 466.7h.9v.9h-.9zM380.6 478.9h.9v.9h-.9zM381.9 479.4h.9v.9h-.9zM381.3 474.7h.9v.9h-.9zM381.8 448.0h.9v.9h-.9zM381.1 473.0h.9v.9h-.9zM382.0 439.0h.9v.9h-.9zM380.3 460.9h.9v.9h-.9zM381.2 468.8h.9v.9h-.9zM381.6 416.0h.9v.9h-.9zM383.1 462.4h.9v.9h-.9zM382.1 432.6h.9v.9h-.9zM381.2 475.5h.9v.9h-.9zM383.1 468.6h.9v.9h-.9zM382.8 474.0h.9v.9h-.9zM381.1 468.9h.9v.9h-.9zM382.2 475.5h.9v.9h-.9zM382.8 472.5h.9v.9h-.9zM382.4 474.8h.9v.9h-.9zM380.1 468.1h.9v.9h-.9zM380.6 426.8h.9v.9h-.9zM382.1 457.8h.9v.9h-.9zM382.5 475.9h.9v.9h-.9zM381.2 469.7h.9v.9h-.9zM382.5 445.3h.9v.9h-.9zM380.9 473.9h.9v.9h-.9zM382.1 435.3h.9v.9h-.9zM380.5 452.6h.9v.9h-.9zM383.0 467.0h.9v.9h-.9zM380.6 438.6h.9v.9h-.9zM380.6 471.0h.9v.9h-.9zM382.4 479.3h.9v.9h-.9zM381.8 479.8h.9v.9h-.9zM381.5 479.1h.9v.9h-.9zM382.4 480.1h.9v.9h-.9zM381.6 458.4h.9v.9h-.9zM381.5 432.8h.9v.9h-.9zM382.1 437.2h.9v.9h-.9zM380.2 473.1h.9v.9h-.9zM381.1 423.4h.9v.9h-.9zM380.5 468.5h.9v.9h-.9zM382.6 456.8h.9v.9h-.9zM379.9 471.8h.9v.9h-.9zM381.1 454.0h.9v.9h-.9zM381.4 463.4h.9v.9h-.9zM381.1 482.2h.9v.9h-.9zM380.8 480.0h.9v.9h-.9zM379.9 467.0h.9v.9h-.9zM381.0 484.7h.9v.9h-.9zM380.4 473.0h.9v.9h-.9zM381.5 484.4h.9v.9h-.9zM381.9 428.2h.9v.9h-.9zM380.7 443.9h.9v.9h-.9zM382.1 475.8h.9v.9h-.9zM381.4 433.0h.9v.9h-.9zM381.7 429.9h.9v.9h-.9zM380.8 458.7h.9v.9h-.9zM380.5 448.4h.9v.9h-.9zM381.4 456.9h.9v.9h-.9zM382.0 471.8h.9v.9h-.9zM381.8 485.9h.9v.9h-.9zM381.9 472.1h.9v.9h-.9zM380.3 458.3h.9v.9h-.9zM380.1 458.5h.9v.9h-.9zM382.6 470.8h.9v.9h-.9zM381.6 466.1h.9v.9h-.9zM380.2 467.4h.9v.9h-.9zM381.6 481.1h.9v.9h-.9zM380.2 472.4h.9v.9h-.9zM379.7 467.7h.9v.9h-.9zM382.4 471.2h.9v.9h-.9zM381.5 434.4h.9v.9h-.9zM381.4 451.2h.9v.9h-.9zM382.5 445.2h.9v.9h-.9zM380.1 457.6h.9v.9h-.9zM381.0 450.9h.9v.9h-.9zM382.7 476.6h.9v.9h-.9zM380.2 452.4h.9v.9h-.9zM382.1 473.2h.9v.9h-.9zM382.7 437.6h.9v.9h-.9zM381.4 427.2h.9v.9h-.9zM381.4 477.7h.9v.9h-.9zM381.7 455.8h.9v.9h-.9zM382.5 459.2h.9v.9h-.9zM381.4 441.5h.9v.9h-.9zM380.9 463.8h.9v.9h-.9zM382.2 467.2h.9v.9h-.9zM380.0 463.9h.9v.9h-.9zM380.4 436.9h.9v.9h-.9zM381.9 416.0h.9v.9h-.9zM381.8 480.4h.9v.9h-.9zM382.0 470.2h.9v.9h-.9zM380.7 444.2h.9v.9h-.9zM381.8 449.2h.9v.9h-.9zM380.9 454.6h.9v.9h-.9zM381.2 471.4h.9v.9h-.9zM380.7 482.9h.9v.9h-.9zM380.4 475.3h.9v.9h-.9zM381.1 427.9h.9v.9h-.9zM383.2 467.1h.9v.9h-.9zM380.3 451.9h.9v.9h-.9zM381.0 485.9h.9v.9h-.9zM382.1 475.7h.9v.9h-.9zM380.2 443.7h.9v.9h-.9zM380.6 434.4h.9v.9h-.9zM381.5 417.8h.9v.9h-.9zM382.0 467.5h.9v.9h-.9zM382.5 478.7h.9v.9h-.9zM382.0 416.0h.9v.9h-.9zM380.4 438.9h.9v.9h-.9zM382.8 475.8h.9v.9h-.9zM379.9 467.3h.9v.9h-.9zM382.2 435.7h.9v.9h-.9zM381.0 453.7h.9v.9h-.9zM381.0 446.9h.9v.9h-.9zM381.8 448.2h.9v.9h-.9zM382.6 443.8h.9v.9h-.9zM382.5 475.6h.9v.9h-.9zM381.2 458.2h.9v.9h-.9zM380.4 477.2h.9v.9h-.9zM382.5 470.6h.9v.9h-.9zM381.6 457.7h.9v.9h-.9zM381.3 430.3h.9v.9h-.9zM380.0 459.8h.9v.9h-.9zM379.8 462.3h.9v.9h-.9zM381.8 459.2h.9v.9h-.9zM382.1 475.2h.9v.9h-.9zM381.7 481.8h.9v.9h-.9zM381.1 451.1h.9v.9h-.9zM381.3 457.3h.9v.9h-.9zM382.8 444.5h.9v.9h-.9zM380.9 451.1h.9v.9h-.9zM382.1 447.9h.9v.9h-.9zM381.1 416.0h.9v.9h-.9zM383.2 468.4h.9v.9h-.9zM380.4 466.8h.9v.9h-.9zM382.2 467.7h.9v.9h-.9zM382.5 465.6h.9v.9h-.9zM381.0 470.5h.9v.9h-.9zM381.6 474.2h.9v.9h-.9zM382.3 466.7h.9v.9h-.9zM381.8 472.0h.9v.9h-.9zM382.2 475.5h.9v.9h-.9zM382.5 466.4h.9v.9h-.9zM381.7 475.8h.9v.9h-.9zM381.0 471.7h.9v.9h-.9zM382.2 440.0h.9v.9h-.9zM382.5 459.8h.9v.9h-.9zM380.9 471.2h.9v.9h-.9zM380.1 448.4h.9v.9h-.9zM382.8 443.6h.9v.9h-.9zM381.4 456.0h.9v.9h-.9zM381.9 479.4h.9v.9h-.9zM380.5 468.5h.9v.9h-.9zM382.3 445.8h.9v.9h-.9zM382.5 438.4h.9v.9h-.9zM381.7 465.7h.9v.9h-.9zM381.2 425.2h.9v.9h-.9zM381.3 455.5h.9v.9h-.9zM380.7 474.7h.9v.9h-.9zM382.5 463.1h.9v.9h-.9zM381.6 472.5h.9v.9h-.9zM380.9 470.3h.9v.9h-.9zM382.6 437.2h.9v.9h-.9zM380.9 468.8h.9v.9h-.9zM381.6 427.5h.9v.9h-.9zM380.9 449.2h.9v.9h-.9zM381.4 442.7h.9v.9h-.9zM381.6 451.0h.9v.9h-.9zM381.1 479.2h.9v.9h-.9zM381.4 433.1h.9v.9h-.9zM382.7 467.6h.9v.9h-.9zM381.5 457.0h.9v.9h-.9zM380.8 467.9h.9v.9h-.9zM382.1 467.3h.9v.9h-.9zM380.7 438.5h.9v.9h-.9zM380.8 459.8h.9v.9h-.9zM382.6 445.1h.9v.9h-.9zM381.4 460.2h.9v.9h-.9zM382.1 447.2h.9v.9h-.9zM380.7 469.6h.9v.9h-.9zM382.1 472.2h.9v.9h-.9zM381.9 418.1h.9v.9h-.9zM380.5 476.8h.9v.9h-.9zM381.5 476.5h.9v.9h-.9zM380.0 472.6h.9v.9h-.9zM382.8 469.7h.9v.9h-.9zM381.6 418.4h.9v.9h-.9zM383.1 471.7h.9v.9h-.9zM383.1 456.5h.9v.9h-.9zM380.7 470.7h.9v.9h-.9zM382.7 476.1h.9v.9h-.9zM382.1 451.8h.9v.9h-.9zM382.7 468.5h.9v.9h-.9zM381.1 481.5h.9v.9h-.9zM382.5 444.0h.9v.9h-.9zM382.6 447.0h.9v.9h-.9zM382.1 430.1h.9v.9h-.9zM381.0 469.4h.9v.9h-.9zM382.5 464.1h.9v.9h-.9zM382.0 421.6h.9v.9h-.9zM382.2 473.9h.9v.9h-.9zM382.3 454.2h.9v.9h-.9zM381.0 464.3h.9v.9h-.9zM381.5 433.1h.9v.9h-.9zM380.4 464.6h.9v.9h-.9zM381.5 480.4h.9v.9h-.9zM381.1 457.6h.9v.9h-.9zM380.9 448.5h.9v.9h-.9zM382.0 485.9h.9v.9h-.9zM382.8 474.8h.9v.9h-.9zM382.0 471.6h.9v.9h-.9zM383.0 469.8h.9v.9h-.9zM382.5 480.3h.9v.9h-.9zM382.6 471.9h.9v.9h-.9zM381.3 485.0h.9v.9h-.9zM381.3 473.4h.9v.9h-.9zM381.9 445.7h.9v.9h-.9zM381.1 426.9h.9v.9h-.9zM382.4 473.9h.9v.9h-.9zM382.1 434.2h.9v.9h-.9zM382.8 468.6h.9v.9h-.9zM381.6 460.6h.9v.9h-.9zM380.0 470.6h.9v.9h-.9zM382.4 477.2h.9v.9h-.9zM382.6 462.8h.9v.9h-.9zM382.2 472.0h.9v.9h-.9zM382.6 455.6h.9v.9h-.9zM381.9 431.1h.9v.9h-.9zM380.6 448.7h.9v.9h-.9zM381.7 470.6h.9v.9h-.9zM381.5 460.3h.9v.9h-.9zM381.3 444.7h.9v.9h-.9zM380.1 448.4h.9v.9h-.9zM380.9 472.7h.9v.9h-.9zM381.1 475.5h.9v.9h-.9zM383.0 469.9h.9v.9h-.9zM380.8 469.5h.9v.9h-.9zM382.0 457.1h.9v.9h-.9zM380.6 463.0h.9v.9h-.9zM380.9 485.0h.9v.9h-.9zM381.0 424.7h.9v.9h-.9zM381.9 475.2h.9v.9h-.9zM380.6 477.3h.9v.9h-.9zM382.1 471.4h.9v.9h-.9zM381.4 416.0h.9v.9h-.9zM382.5 463.3h.9v.9h-.9zM382.6 453.5h.9v.9h-.9zM381.8 451.1h.9v.9h-.9zM381.0 460.3h.9v.9h-.9zM381.8 460.6h.9v.9h-.9zM381.1 485.9h.9v.9h-.9zM381.1 467.7h.9v.9h-.9zM381.4 454.3h.9v.9h-.9zM382.3 445.5h.9v.9h-.9zM381.7 480.0h.9v.9h-.9zM382.3 441.2h.9v.9h-.9zM382.7 474.0h.9v.9h-.9zM381.7 475.5h.9v.9h-.9zM381.4 449.7h.9v.9h-.9zM380.5 467.4h.9v.9h-.9zM381.5 428.5h.9v.9h-.9zM383.3 467.2h.9v.9h-.9zM381.7 472.1h.9v.9h-.9zM382.7 443.0h.9v.9h-.9zM381.5 475.9h.9v.9h-.9zM380.1 468.8h.9v.9h-.9zM380.5 434.7h.9v.9h-.9zM381.5 418.6h.9v.9h-.9zM380.8 465.4h.9v.9h-.9zM380.8 451.2h.9v.9h-.9zM381.5 440.1h.9v.9h-.9zM382.0 441.7h.9v.9h-.9zM380.8 441.0h.9v.9h-.9zM381.3 482.5h.9v.9h-.9zM380.5 466.9h.9v.9h-.9zM381.9 469.4h.9v.9h-.9zM381.4 481.7h.9v.9h-.9zM382.0 467.7h.9v.9h-.9zM382.2 479.5h.9v.9h-.9zM380.5 453.7h.9v.9h-.9zM380.8 476.5h.9v.9h-.9zM380.8 470.9h.9v.9h-.9zM382.3 481.0h.9v.9h-.9zM382.2 438.3h.9v.9h-.9zM380.2 468.5h.9v.9h-.9zM380.5 436.4h.9v.9h-.9zM382.5 444.0h.9v.9h-.9zM380.9 446.8h.9v.9h-.9zM380.8 422.5h.9v.9h-.9zM381.1 416.0h.9v.9h-.9zM381.9 470.4h.9v.9h-.9zM381.6 469.8h.9v.9h-.9zM380.1 447.7h.9v.9h-.9zM381.1 466.6h.9v.9h-.9zM380.9 483.1h.9v.9h-.9zM380.7 438.9h.9v.9h-.9zM381.5 472.9h.9v.9h-.9zM381.5 477.4h.9v.9h-.9zM380.6 439.1h.9v.9h-.9zM381.5 470.2h.9v.9h-.9zM382.0 438.0h.9v.9h-.9zM382.0 459.2h.9v.9h-.9zM381.6 460.1h.9v.9h-.9zM381.3 483.6h.9v.9h-.9zM382.2 442.1h.9v.9h-.9zM381.2 467.3h.9v.9h-.9zM381.6 460.1h.9v.9h-.9zM380.2 468.7h.9v.9h-.9zM381.2 431.9h.9v.9h-.9zM383.0 465.9h.9v.9h-.9zM380.9 472.6h.9v.9h-.9zM382.9 464.9h.9v.9h-.9zM382.5 470.5h.9v.9h-.9zM380.5 468.1h.9v.9h-.9zM381.1 418.1h.9v.9h-.9zM382.8 463.1h.9v.9h-.9zM382.9 473.4h.9v.9h-.9zM382.3 460.2h.9v.9h-.9zM381.4 485.9h.9v.9h-.9zM381.1 422.5h.9v.9h-.9zM381.7 416.0h.9v.9h-.9zM380.9 449.0h.9v.9h-.9zM380.6 470.3h.9v.9h-.9zM382.4 447.0h.9v.9h-.9zM382.4 449.3h.9v.9h-.9zM380.5 479.5h.9v.9h-.9zM381.8 467.7h.9v.9h-.9zM381.7 485.5h.9v.9h-.9zM382.4 475.4h.9v.9h-.9zM381.8 416.0h.9v.9h-.9zM381.7 466.1h.9v.9h-.9zM380.8 434.4h.9v.9h-.9zM382.2 425.2h.9v.9h-.9zM381.4 437.2h.9v.9h-.9zM383.2 468.1h.9v.9h-.9zM380.2 456.6h.9v.9h-.9zM381.7 473.2h.9v.9h-.9zM381.5 434.9h.9v.9h-.9zM381.7 480.2h.9v.9h-.9zM380.4 475.9h.9v.9h-.9zM381.6 460.6h.9v.9h-.9zM380.3 465.8h.9v.9h-.9zM381.7 450.3h.9v.9h-.9zM381.6 416.0h.9v.9h-.9zM383.1 456.8h.9v.9h-.9zM382.3 466.9h.9v.9h-.9zM380.5 469.4h.9v.9h-.9zM380.4 461.5h.9v.9h-.9zM382.2 450.3h.9v.9h-.9zM382.5 437.0h.9v.9h-.9zM382.7 476.6h.9v.9h-.9zM381.6 477.2h.9v.9h-.9zM380.2 449.6h.9v.9h-.9zM382.4 456.0h.9v.9h-.9zM381.0 476.8h.9v.9h-.9zM380.8 477.9h.9v.9h-.9zM382.8 455.2h.9v.9h-.9zM381.9 416.0h.9v.9h-.9zM380.5 457.7h.9v.9h-.9zM380.8 476.8h.9v.9h-.9zM382.9 467.0h.9v.9h-.9zM380.7 476.7h.9v.9h-.9zM380.3 443.1h.9v.9h-.9zM380.1 465.1h.9v.9h-.9zM382.5 463.9h.9v.9h-.9zM381.5 416.0h.9v.9h-.9zM380.8 423.3h.9v.9h-.9zM380.7 449.1h.9v.9h-.9zM383.0 463.0h.9v.9h-.9zM381.9 449.2h.9v.9h-.9zM381.5 418.0h.9v.9h-.9zM382.1 475.2h.9v.9h-.9zM380.0 470.6h.9v.9h-.9zM383.1 467.3h.9v.9h-.9zM381.2 424.7h.9v.9h-.9zM382.0 480.2h.9v.9h-.9zM380.9 467.1h.9v.9h-.9zM381.6 458.5h.9v.9h-.9zM380.4 448.9h.9v.9h-.9zM382.0 453.8h.9v.9h-.9zM381.4 426.4h.9v.9h-.9zM381.8 435.0h.9v.9h-.9zM380.5 469.4h.9v.9h-.9zM382.9 450.8h.9v.9h-.9zM381.0 432.9h.9v.9h-.9zM380.2 476.9h.9v.9h-.9zM381.2 420.5h.9v.9h-.9zM382.4 469.7h.9v.9h-.9zM382.1 452.9h.9v.9h-.9zM380.9 423.9h.9v.9h-.9zM382.0 449.6h.9v.9h-.9zM382.0 475.8h.9v.9h-.9zM380.5 479.7h.9v.9h-.9zM381.6 460.5h.9v.9h-.9zM381.0 454.4h.9v.9h-.9zM382.0 453.0h.9v.9h-.9zM382.0 474.4h.9v.9h-.9zM382.4 472.3h.9v.9h-.9zM382.9 461.6h.9v.9h-.9zM382.3 439.4h.9v.9h-.9zM381.0 471.3h.9v.9h-.9zM382.8 457.0h.9v.9h-.9zM381.6 445.8h.9v.9h-.9zM379.9 471.4h.9v.9h-.9zM381.9 441.0h.9v.9h-.9zM382.2 472.2h.9v.9h-.9zM380.4 462.1h.9v.9h-.9zM382.0 466.8h.9v.9h-.9zM380.9 455.0h.9v.9h-.9zM381.3 441.5h.9v.9h-.9zM381.8 463.3h.9v.9h-.9zM382.5 472.4h.9v.9h-.9zM380.0 473.5h.9v.9h-.9zM381.1 424.6h.9v.9h-.9zM381.5 473.3h.9v.9h-.9zM382.3 464.7h.9v.9h-.9zM380.5 448.9h.9v.9h-.9zM382.2 471.2h.9v.9h-.9zM381.3 474.3h.9v.9h-.9zM381.5 474.0h.9v.9h-.9zM382.2 446.2h.9v.9h-.9zM382.4 473.5h.9v.9h-.9zM380.3 440.6h.9v.9h-.9zM379.8 457.8h.9v.9h-.9zM382.8 468.1h.9v.9h-.9zM382.1 451.3h.9v.9h-.9zM380.5 469.3h.9v.9h-.9zM381.1 469.6h.9v.9h-.9zM382.2 460.0h.9v.9h-.9zM383.2 466.8h.9v.9h-.9zM382.5 444.8h.9v.9h-.9zM382.0 416.0h.9v.9h-.9zM380.8 478.2h.9v.9h-.9zM381.5 453.7h.9v.9h-.9zM382.8 474.9h.9v.9h-.9zM380.4 458.0h.9v.9h-.9zM381.2 438.5h.9v.9h-.9zM380.5 468.1h.9v.9h-.9zM382.5 478.1h.9v.9h-.9zM380.7 472.6h.9v.9h-.9zM383.0 459.9h.9v.9h-.9zM380.3 448.0h.9v.9h-.9zM379.7 467.7h.9v.9h-.9zM381.5 429.1h.9v.9h-.9zM381.1 475.1h.9v.9h-.9zM381.3 472.4h.9v.9h-.9zM380.4 435.1h.9v.9h-.9zM380.6 463.5h.9v.9h-.9zM381.0 454.0h.9v.9h-.9zM380.6 472.7h.9v.9h-.9zM382.2 473.8h.9v.9h-.9zM380.8 470.5h.9v.9h-.9zM382.6 461.3h.9v.9h-.9zM380.5 475.8h.9v.9h-.9zM382.9 468.0h.9v.9h-.9zM382.3 479.0h.9v.9h-.9zM381.0 459.9h.9v.9h-.9zM380.9 478.4h.9v.9h-.9zM380.6 457.1h.9v.9h-.9zM382.1 458.9h.9v.9h-.9zM381.6 459.3h.9v.9h-.9zM381.3 417.3h.9v.9h-.9zM380.2 468.2h.9v.9h-.9zM382.0 443.1h.9v.9h-.9zM382.2 450.5h.9v.9h-.9zM380.7 459.1h.9v.9h-.9zM381.3 469.6h.9v.9h-.9zM380.2 450.5h.9v.9h-.9zM380.4 474.0h.9v.9h-.9zM380.5 452.4h.9v.9h-.9zM382.2 431.9h.9v.9h-.9zM382.5 455.8h.9v.9h-.9zM380.5 472.6h.9v.9h-.9zM382.4 469.0h.9v.9h-.9zM381.9 466.0h.9v.9h-.9zM382.9 451.7h.9v.9h-.9zM381.5 468.4h.9v.9h-.9zM382.4 447.0h.9v.9h-.9zM381.2 444.1h.9v.9h-.9zM381.1 476.2h.9v.9h-.9zM382.1 485.9h.9v.9h-.9zM382.4 454.5h.9v.9h-.9zM382.9 469.8h.9v.9h-.9zM381.0 476.8h.9v.9h-.9zM381.7 473.9h.9v.9h-.9zM379.9 449.8h.9v.9h-.9zM380.7 477.4h.9v.9h-.9zM380.3 442.2h.9v.9h-.9zM381.5 473.0h.9v.9h-.9zM382.1 462.7h.9v.9h-.9zM380.7 440.3h.9v.9h-.9zM383.0 467.7h.9v.9h-.9zM382.2 466.7h.9v.9h-.9zM380.9 468.8h.9v.9h-.9zM381.8 455.6h.9v.9h-.9zM381.5 478.1h.9v.9h-.9zM380.6 481.4h.9v.9h-.9zM382.8 452.3h.9v.9h-.9zM382.9 455.6h.9v.9h-.9zM381.0 437.6h.9v.9h-.9zM381.0 419.4h.9v.9h-.9zM381.1 416.7h.9v.9h-.9zM382.6 468.6h.9v.9h-.9zM381.5 447.9h.9v.9h-.9zM379.9 460.4h.9v.9h-.9zM380.7 467.4h.9v.9h-.9zM380.3 445.1h.9v.9h-.9zM381.1 467.8h.9v.9h-.9zM380.5 468.2h.9v.9h-.9zM381.6 471.5h.9v.9h-.9zM382.1 468.3h.9v.9h-.9zM380.8 434.0h.9v.9h-.9zM382.4 456.9h.9v.9h-.9zM382.2 472.4h.9v.9h-.9zM380.8 434.9h.9v.9h-.9zM381.7 433.4h.9v.9h-.9zM381.8 473.5h.9v.9h-.9zM382.3 430.8h.9v.9h-.9zM381.7 454.9h.9v.9h-.9zM381.5 468.1h.9v.9h-.9zM380.5 432.2h.9v.9h-.9zM381.9 470.5h.9v.9h-.9zM380.9 475.3h.9v.9h-.9zM381.6 480.4h.9v.9h-.9zM381.7 480.5h.9v.9h-.9zM381.7 479.0h.9v.9h-.9zM382.9 473.0h.9v.9h-.9zM381.2 465.5h.9v.9h-.9zM380.8 470.1h.9v.9h-.9zM381.4 474.8h.9v.9h-.9zM383.0 465.5h.9v.9h-.9zM383.0 463.0h.9v.9h-.9zM381.1 471.3h.9v.9h-.9zM380.1 456.6h.9v.9h-.9zM381.5 472.2h.9v.9h-.9zM382.7 467.0h.9v.9h-.9zM381.8 465.0h.9v.9h-.9zM383.2 469.3h.9v.9h-.9zM381.9 437.3h.9v.9h-.9zM380.7 456.4h.9v.9h-.9zM380.8 448.1h.9v.9h-.9zM380.9 439.3h.9v.9h-.9zM380.9 445.5h.9v.9h-.9zM382.3 428.9h.9v.9h-.9zM380.9 449.9h.9v.9h-.9zM381.3 485.9h.9v.9h-.9zM382.2 470.4h.9v.9h-.9zM381.3 454.3h.9v.9h-.9zM381.9 470.4h.9v.9h-.9zM381.3 451.4h.9v.9h-.9zM380.3 442.3h.9v.9h-.9zM382.6 477.2h.9v.9h-.9zM382.9 461.7h.9v.9h-.9zM382.1 474.7h.9v.9h-.9zM382.8 457.6h.9v.9h-.9zM382.2 471.8h.9v.9h-.9zM381.4 468.7h.9v.9h-.9zM381.8 470.1h.9v.9h-.9zM381.4 472.5h.9v.9h-.9zM381.2 445.6h.9v.9h-.9zM382.0 478.3h.9v.9h-.9zM381.9 450.1h.9v.9h-.9zM381.2 485.9h.9v.9h-.9zM380.4 435.0h.9v.9h-.9zM383.1 465.4h.9v.9h-.9zM380.4 473.8h.9v.9h-.9zM379.9 470.3h.9v.9h-.9zM381.2 481.4h.9v.9h-.9zM381.2 476.9h.9v.9h-.9zM381.2 454.0h.9v.9h-.9zM381.3 485.9h.9v.9h-.9zM382.5 472.2h.9v.9h-.9zM381.4 485.5h.9v.9h-.9zM381.5 483.8h.9v.9h-.9zM383.0 452.8h.9v.9h-.9zM380.3 466.8h.9v.9h-.9zM382.3 481.5h.9v.9h-.9zM382.9 470.5h.9v.9h-.9zM383.0 469.4h.9v.9h-.9zM381.1 416.0h.9v.9h-.9zM381.4 423.2h.9v.9h-.9zM380.6 479.4h.9v.9h-.9zM382.1 447.3h.9v.9h-.9zM380.0 451.9h.9v.9h-.9zM382.3 475.0h.9v.9h-.9zM380.8 461.4h.9v.9h-.9zM381.4 445.7h.9v.9h-.9zM382.6 476.7h.9v.9h-.9zM380.3 454.5h.9v.9h-.9zM381.9 437.7h.9v.9h-.9zM383.2 466.1h.9v.9h-.9zM382.0 467.2h.9v.9h-.9zM381.9 485.9h.9v.9h-.9zM382.0 470.1h.9v.9h-.9zM381.5 472.9h.9v.9h-.9zM380.9 469.8h.9v.9h-.9zM381.4 485.6h.9v.9h-.9zM381.6 438.1h.9v.9h-.9zM382.8 460.7h.9v.9h-.9zM382.4 467.1h.9v.9h-.9zM381.6 455.8h.9v.9h-.9zM382.1 470.3h.9v.9h-.9zM382.6 436.4h.9v.9h-.9zM382.2 451.7h.9v.9h-.9zM381.0 473.7h.9v.9h-.9zM382.2 467.0h.9v.9h-.9zM382.4 450.0h.9v.9h-.9zM382.2 453.5h.9v.9h-.9zM382.5 456.2h.9v.9h-.9zM383.0 472.9h.9v.9h-.9zM381.2 440.4h.9v.9h-.9zM382.1 442.8h.9v.9h-.9zM380.0 469.2h.9v.9h-.9zM382.3 478.3h.9v.9h-.9zM381.4 472.7h.9v.9h-.9zM382.9 467.0h.9v.9h-.9zM381.6 475.3h.9v.9h-.9zM380.8 473.9h.9v.9h-.9zM383.1 460.6h.9v.9h-.9zM380.6 448.6h.9v.9h-.9zM381.1 468.4h.9v.9h-.9zM382.0 468.5h.9v.9h-.9zM382.6 468.1h.9v.9h-.9zM381.9 464.5h.9v.9h-.9zM382.7 475.4h.9v.9h-.9zM381.9 444.8h.9v.9h-.9zM382.2 469.7h.9v.9h-.9zM383.0 457.6h.9v.9h-.9zM381.6 453.5h.9v.9h-.9zM382.0 462.1h.9v.9h-.9zM382.4 459.4h.9v.9h-.9zM380.4 478.4h.9v.9h-.9zM382.7 477.5h.9v.9h-.9zM381.1 475.1h.9v.9h-.9zM380.6 436.9h.9v.9h-.9zM382.7 467.3h.9v.9h-.9zM380.7 443.3h.9v.9h-.9zM380.4 474.7h.9v.9h-.9zM381.2 484.8h.9v.9h-.9zM381.9 475.7h.9v.9h-.9zM381.3 467.7h.9v.9h-.9zM382.1 474.3h.9v.9h-.9zM380.3 445.1h.9v.9h-.9zM381.2 477.4h.9v.9h-.9zM382.2 468.2h.9v.9h-.9zM380.0 459.1h.9v.9h-.9zM380.6 438.2h.9v.9h-.9zM381.7 457.4h.9v.9h-.9zM381.5 436.3h.9v.9h-.9zM380.1 470.1h.9v.9h-.9zM381.5 465.5h.9v.9h-.9zM382.8 465.6h.9v.9h-.9zM382.6 469.9h.9v.9h-.9zM381.8 455.4h.9v.9h-.9zM381.9 458.5h.9v.9h-.9zM381.0 443.9h.9v.9h-.9zM381.9 426.2h.9v.9h-.9zM381.3 485.9h.9v.9h-.9zM381.0 480.0h.9v.9h-.9zM381.5 416.0h.9v.9h-.9zM380.7 477.3h.9v.9h-.9zM381.8 485.9h.9v.9h-.9zM380.7 478.4h.9v.9h-.9zM380.6 476.9h.9v.9h-.9zM383.1 469.9h.9v.9h-.9zM382.8 464.8h.9v.9h-.9zM382.0 475.5h.9v.9h-.9zM380.4 452.5h.9v.9h-.9zM382.2 461.7h.9v.9h-.9zM381.9 485.9h.9v.9h-.9zM382.8 458.2h.9v.9h-.9zM381.5 483.2h.9v.9h-.9zM380.2 474.4h.9v.9h-.9zM382.4 473.2h.9v.9h-.9zM382.1 454.5h.9v.9h-.9zM381.4 427.5h.9v.9h-.9zM380.1 468.2h.9v.9h-.9zM382.5 463.2h.9v.9h-.9zM382.0 445.7h.9v.9h-.9zM380.7 462.0h.9v.9h-.9zM381.5 481.6h.9v.9h-.9zM382.4 478.7h.9v.9h-.9zM380.6 478.9h.9v.9h-.9zM380.9 477.8h.9v.9h-.9zM381.5 448.8h.9v.9h-.9zM383.1 470.7h.9v.9h-.9zM381.2 479.3h.9v.9h-.9zM381.1 434.7h.9v.9h-.9zM380.5 471.0h.9v.9h-.9zM383.0 468.5h.9v.9h-.9zM381.8 416.0h.9v.9h-.9zM381.6 469.0h.9v.9h-.9zM382.6 468.2h.9v.9h-.9zM380.1 469.5h.9v.9h-.9zM380.4 477.0h.9v.9h-.9zM382.6 460.3h.9v.9h-.9zM381.1 477.4h.9v.9h-.9zM383.1 471.7h.9v.9h-.9zM382.2 462.5h.9v.9h-.9zM380.9 483.1h.9v.9h-.9zM381.7 461.3h.9v.9h-.9zM381.5 465.7h.9v.9h-.9zM381.8 485.6h.9v.9h-.9zM380.6 434.3h.9v.9h-.9zM381.5 485.9h.9v.9h-.9zM381.2 480.1h.9v.9h-.9zM381.5 451.7h.9v.9h-.9zM382.3 457.1h.9v.9h-.9zM379.9 470.2h.9v.9h-.9zM381.2 473.7h.9v.9h-.9zM382.4 476.3h.9v.9h-.9zM381.2 442.6h.9v.9h-.9zM381.4 416.0h.9v.9h-.9zM379.7 469.2h.9v.9h-.9zM381.2 484.8h.9v.9h-.9zM381.3 463.4h.9v.9h-.9zM379.8 458.9h.9v.9h-.9zM380.3 452.9h.9v.9h-.9zM381.7 447.8h.9v.9h-.9zM381.1 434.4h.9v.9h-.9zM381.3 482.9h.9v.9h-.9zM380.9 479.3h.9v.9h-.9zM380.5 479.2h.9v.9h-.9zM380.7 459.7h.9v.9h-.9zM381.5 470.2h.9v.9h-.9zM381.1 475.3h.9v.9h-.9zM382.0 434.8h.9v.9h-.9zM380.3 472.6h.9v.9h-.9zM382.5 441.0h.9v.9h-.9zM381.7 478.3h.9v.9h-.9zM381.0 468.2h.9v.9h-.9zM380.9 433.8h.9v.9h-.9zM381.5 474.7h.9v.9h-.9zM382.7 462.3h.9v.9h-.9zM381.5 455.7h.9v.9h-.9zM381.8 472.3h.9v.9h-.9zM381.1 467.8h.9v.9h-.9zM381.4 437.9h.9v.9h-.9zM382.1 474.7h.9v.9h-.9zM382.6 462.7h.9v.9h-.9zM382.4 452.8h.9v.9h-.9zM380.9 471.4h.9v.9h-.9zM381.7 470.3h.9v.9h-.9zM381.9 485.9h.9v.9h-.9zM381.9 469.6h.9v.9h-.9zM380.5 476.9h.9v.9h-.9zM380.7 477.2h.9v.9h-.9zM382.8 451.5h.9v.9h-.9zM381.7 448.7h.9v.9h-.9zM381.5 456.3h.9v.9h-.9zM380.4 456.2h.9v.9h-.9zM380.5 449.2h.9v.9h-.9zM380.9 481.4h.9v.9h-.9zM381.0 478.3h.9v.9h-.9zM381.5 445.3h.9v.9h-.9zM382.0 475.9h.9v.9h-.9zM381.2 416.0h.9v.9h-.9zM382.5 455.6h.9v.9h-.9zM383.0 452.9h.9v.9h-.9zM381.5 449.8h.9v.9h-.9zM382.2 438.9h.9v.9h-.9zM382.7 437.7h.9v.9h-.9zM380.6 461.3h.9v.9h-.9zM380.0 473.7h.9v.9h-.9zM381.9 476.3h.9v.9h-.9zM381.3 416.0h.9v.9h-.9zM382.0 435.2h.9v.9h-.9zM382.3 472.1h.9v.9h-.9zM381.4 470.4h.9v.9h-.9zM381.5 475.1h.9v.9h-.9zM380.1 451.6h.9v.9h-.9zM380.6 479.9h.9v.9h-.9zM381.5 455.4h.9v.9h-.9zM380.2 455.1h.9v.9h-.9zM382.7 474.7h.9v.9h-.9zM382.1 451.3h.9v.9h-.9zM380.8 473.5h.9v.9h-.9zM380.8 429.9h.9v.9h-.9zM382.7 469.0h.9v.9h-.9zM381.7 441.9h.9v.9h-.9zM382.8 469.2h.9v.9h-.9zM382.7 439.9h.9v.9h-.9zM382.7 454.7h.9v.9h-.9zM380.5 438.5h.9v.9h-.9zM382.6 473.3h.9v.9h-.9zM380.5 470.7h.9v.9h-.9zM381.6 469.2h.9v.9h-.9zM380.4 468.5h.9v.9h-.9zM381.0 475.4h.9v.9h-.9zM382.8 443.8h.9v.9h-.9zM381.2 447.6h.9v.9h-.9zM383.1 462.7h.9v.9h-.9zM382.5 476.8h.9v.9h-.9zM382.4 479.7h.9v.9h-.9zM381.8 428.8h.9v.9h-.9zM382.1 443.9h.9v.9h-.9zM382.0 467.7h.9v.9h-.9zM382.9 461.4h.9v.9h-.9zM381.2 471.8h.9v.9h-.9zM382.2 466.4h.9v.9h-.9zM380.4 453.5h.9v.9h-.9zM382.9 470.9h.9v.9h-.9zM380.4 469.9h.9v.9h-.9zM380.4 441.1h.9v.9h-.9zM380.0 460.2h.9v.9h-.9zM381.5 478.6h.9v.9h-.9zM380.6 411.8h.9v.9h-.9zM382.2 410.5h.9v.9h-.9zM381.9 405.8h.9v.9h-.9zM380.8 411.9h.9v.9h-.9zM380.7 405.4h.9v.9h-.9zM381.2 409.7h.9v.9h-.9zM380.6 413.4h.9v.9h-.9zM381.6 411.9h.9v.9h-.9zM391.8 472.6h.9v.9h-.9zM390.5 462.8h.9v.9h-.9zM390.8 467.3h.9v.9h-.9zM390.4 466.6h.9v.9h-.9zM390.9 471.4h.9v.9h-.9zM390.9 479.0h.9v.9h-.9zM390.8 474.2h.9v.9h-.9zM391.1 477.7h.9v.9h-.9zM390.2 465.0h.9v.9h-.9zM391.7 466.7h.9v.9h-.9zM390.7 464.3h.9v.9h-.9zM390.2 475.0h.9v.9h-.9zM390.7 475.6h.9v.9h-.9zM391.9 471.9h.9v.9h-.9zM390.1 465.2h.9v.9h-.9zM391.3 468.4h.9v.9h-.9zM390.2 472.9h.9v.9h-.9zM391.9 469.9h.9v.9h-.9zM390.2 464.9h.9v.9h-.9zM391.2 465.7h.9v.9h-.9zM390.4 472.0h.9v.9h-.9zM390.1 461.9h.9v.9h-.9zM391.0 472.1h.9v.9h-.9zM390.2 461.8h.9v.9h-.9zM391.3 466.6h.9v.9h-.9zM391.6 472.5h.9v.9h-.9zM390.0 471.9h.9v.9h-.9zM390.9 479.0h.9v.9h-.9zM391.6 473.9h.9v.9h-.9zM391.6 473.7h.9v.9h-.9zM391.4 474.2h.9v.9h-.9zM390.8 471.9h.9v.9h-.9zM390.5 465.9h.9v.9h-.9zM391.0 466.8h.9v.9h-.9zM390.9 466.3h.9v.9h-.9zM390.8 463.3h.9v.9h-.9zM390.8 465.4h.9v.9h-.9zM391.0 470.0h.9v.9h-.9zM390.4 468.5h.9v.9h-.9zM391.1 469.3h.9v.9h-.9zM390.3 473.8h.9v.9h-.9zM391.7 468.6h.9v.9h-.9zM390.8 471.8h.9v.9h-.9zM390.5 479.0h.9v.9h-.9zM390.2 470.6h.9v.9h-.9zM390.6 475.7h.9v.9h-.9zM390.5 477.6h.9v.9h-.9zM390.8 471.2h.9v.9h-.9zM390.0 469.1h.9v.9h-.9zM391.2 469.5h.9v.9h-.9zM390.1 470.5h.9v.9h-.9zM390.0 472.0h.9v.9h-.9zM391.4 464.3h.9v.9h-.9zM391.0 471.8h.9v.9h-.9zM390.5 459.0h.9v.9h-.9zM391.3 464.5h.9v.9h-.9zM391.4 476.8h.9v.9h-.9zM390.2 474.7h.9v.9h-.9zM391.3 470.6h.9v.9h-.9zM391.4 470.7h.9v.9h-.9zM391.1 471.2h.9v.9h-.9zM390.4 470.6h.9v.9h-.9zM391.1 473.6h.9v.9h-.9zM391.1 473.5h.9v.9h-.9zM391.3 466.5h.9v.9h-.9zM390.9 477.3h.9v.9h-.9zM390.6 459.0h.9v.9h-.9zM391.4 470.4h.9v.9h-.9zM390.0 468.8h.9v.9h-.9zM390.8 474.1h.9v.9h-.9zM391.1 473.0h.9v.9h-.9zM390.5 479.0h.9v.9h-.9zM391.1 467.3h.9v.9h-.9zM391.8 470.0h.9v.9h-.9zM391.0 478.5h.9v.9h-.9zM390.5 466.7h.9v.9h-.9zM391.4 473.6h.9v.9h-.9zM391.7 472.9h.9v.9h-.9zM391.3 470.8h.9v.9h-.9zM390.4 471.7h.9v.9h-.9zM390.5 475.0h.9v.9h-.9zM390.9 476.9h.9v.9h-.9zM390.7 465.7h.9v.9h-.9zM391.8 472.1h.9v.9h-.9zM390.1 475.0h.9v.9h-.9zM390.1 463.9h.9v.9h-.9zM391.0 471.5h.9v.9h-.9zM390.1 475.3h.9v.9h-.9zM391.3 468.9h.9v.9h-.9zM390.9 469.3h.9v.9h-.9zM390.6 468.3h.9v.9h-.9zM390.0 470.8h.9v.9h-.9zM390.2 468.3h.9v.9h-.9zM391.7 465.1h.9v.9h-.9zM390.7 465.3h.9v.9h-.9zM390.9 477.0h.9v.9h-.9zM391.2 477.2h.9v.9h-.9zM391.8 472.5h.9v.9h-.9zM390.1 463.1h.9v.9h-.9zM391.3 474.9h.9v.9h-.9zM391.4 476.1h.9v.9h-.9zM390.4 463.2h.9v.9h-.9zM391.9 470.2h.9v.9h-.9zM390.9 474.8h.9v.9h-.9zM390.5 469.3h.9v.9h-.9zM389.8 469.6h.9v.9h-.9zM390.5 464.0h.9v.9h-.9zM391.5 463.2h.9v.9h-.9zM391.2 470.6h.9v.9h-.9zM390.9 461.7h.9v.9h-.9zM389.9 468.5h.9v.9h-.9zM390.7 472.6h.9v.9h-.9zM391.2 468.5h.9v.9h-.9zM390.3 476.3h.9v.9h-.9zM391.1 462.0h.9v.9h-.9zM390.5 466.2h.9v.9h-.9zM390.2 467.0h.9v.9h-.9zM391.5 475.6h.9v.9h-.9zM390.5 470.8h.9v.9h-.9zM391.3 469.3h.9v.9h-.9zM391.6 467.5h.9v.9h-.9zM390.9 473.0h.9v.9h-.9zM390.0 467.5h.9v.9h-.9zM390.3 478.6h.9v.9h-.9zM391.1 469.3h.9v.9h-.9zM390.8 472.6h.9v.9h-.9zM390.3 470.3h.9v.9h-.9zM390.4 472.4h.9v.9h-.9zM390.6 464.9h.9v.9h-.9zM390.1 474.5h.9v.9h-.9zM391.0 457.5h.9v.9h-.9zM391.2 455.2h.9v.9h-.9zM400.7 472.2h.9v.9h-.9zM399.1 468.5h.9v.9h-.9zM399.3 467.1h.9v.9h-.9zM399.8 474.7h.9v.9h-.9zM400.4 479.9h.9v.9h-.9zM400.5 472.1h.9v.9h-.9zM400.5 462.1h.9v.9h-.9zM399.7 464.7h.9v.9h-.9zM399.1 469.4h.9v.9h-.9zM400.9 474.3h.9v.9h-.9zM400.2 466.4h.9v.9h-.9zM399.8 479.2h.9v.9h-.9zM401.3 471.3h.9v.9h-.9zM400.1 470.7h.9v.9h-.9zM401.3 473.4h.9v.9h-.9zM400.1 471.3h.9v.9h-.9zM401.1 467.1h.9v.9h-.9zM399.2 471.1h.9v.9h-.9zM401.0 475.8h.9v.9h-.9zM400.1 468.3h.9v.9h-.9zM400.7 475.2h.9v.9h-.9zM400.2 474.0h.9v.9h-.9zM400.8 477.9h.9v.9h-.9zM399.4 472.8h.9v.9h-.9zM400.5 464.4h.9v.9h-.9zM399.3 470.6h.9v.9h-.9zM398.8 470.9h.9v.9h-.9zM400.9 469.9h.9v.9h-.9zM399.1 471.5h.9v.9h-.9zM399.5 466.9h.9v.9h-.9zM400.8 472.8h.9v.9h-.9zM400.8 464.3h.9v.9h-.9zM399.4 471.8h.9v.9h-.9zM400.4 463.0h.9v.9h-.9zM399.9 462.5h.9v.9h-.9zM400.3 471.5h.9v.9h-.9zM400.4 473.2h.9v.9h-.9zM399.9 462.1h.9v.9h-.9zM400.2 466.1h.9v.9h-.9zM400.3 480.5h.9v.9h-.9zM399.4 464.8h.9v.9h-.9zM400.1 476.0h.9v.9h-.9zM400.7 466.5h.9v.9h-.9zM398.9 471.8h.9v.9h-.9zM400.5 467.3h.9v.9h-.9zM400.0 470.8h.9v.9h-.9zM399.8 470.0h.9v.9h-.9zM400.0 476.9h.9v.9h-.9zM400.6 472.4h.9v.9h-.9zM399.0 472.5h.9v.9h-.9zM400.2 470.0h.9v.9h-.9zM400.6 478.5h.9v.9h-.9zM399.7 473.3h.9v.9h-.9zM401.0 473.2h.9v.9h-.9zM399.0 469.8h.9v.9h-.9zM400.0 462.1h.9v.9h-.9zM399.4 478.0h.9v.9h-.9zM399.9 469.3h.9v.9h-.9zM399.0 473.4h.9v.9h-.9zM399.8 464.9h.9v.9h-.9zM400.9 468.9h.9v.9h-.9zM400.2 465.5h.9v.9h-.9zM400.4 467.5h.9v.9h-.9zM399.9 472.7h.9v.9h-.9zM401.1 470.3h.9v.9h-.9zM399.9 463.0h.9v.9h-.9zM400.7 476.9h.9v.9h-.9zM399.6 475.0h.9v.9h-.9zM399.1 472.4h.9v.9h-.9zM400.5 462.6h.9v.9h-.9zM400.6 470.3h.9v.9h-.9zM399.7 470.0h.9v.9h-.9zM400.6 468.6h.9v.9h-.9zM399.7 466.7h.9v.9h-.9zM399.7 475.5h.9v.9h-.9zM401.0 467.1h.9v.9h-.9zM399.1 469.8h.9v.9h-.9zM400.9 476.2h.9v.9h-.9zM399.7 480.2h.9v.9h-.9zM399.5 470.8h.9v.9h-.9zM400.0 480.5h.9v.9h-.9zM400.6 470.8h.9v.9h-.9zM399.2 473.8h.9v.9h-.9zM399.8 470.6h.9v.9h-.9zM399.8 463.6h.9v.9h-.9zM400.0 472.9h.9v.9h-.9zM400.7 471.7h.9v.9h-.9zM400.1 480.5h.9v.9h-.9zM400.1 480.5h.9v.9h-.9zM399.7 469.7h.9v.9h-.9zM399.8 471.7h.9v.9h-.9zM399.1 474.2h.9v.9h-.9zM400.1 464.2h.9v.9h-.9zM399.1 469.0h.9v.9h-.9zM401.3 472.0h.9v.9h-.9zM400.0 469.5h.9v.9h-.9zM400.6 475.6h.9v.9h-.9zM400.6 469.8h.9v.9h-.9zM399.8 462.5h.9v.9h-.9zM400.0 473.0h.9v.9h-.9zM398.9 469.3h.9v.9h-.9zM399.8 468.8h.9v.9h-.9zM400.9 477.0h.9v.9h-.9zM400.9 475.1h.9v.9h-.9zM399.9 465.3h.9v.9h-.9zM398.9 472.7h.9v.9h-.9zM400.7 472.4h.9v.9h-.9zM400.5 464.4h.9v.9h-.9zM400.9 477.2h.9v.9h-.9zM400.2 477.1h.9v.9h-.9zM399.7 476.0h.9v.9h-.9zM401.0 467.7h.9v.9h-.9zM400.2 468.2h.9v.9h-.9zM399.7 479.9h.9v.9h-.9zM400.2 479.6h.9v.9h-.9zM399.8 466.5h.9v.9h-.9zM401.1 469.4h.9v.9h-.9zM399.6 470.4h.9v.9h-.9zM399.7 462.1h.9v.9h-.9zM400.2 469.6h.9v.9h-.9zM400.4 475.2h.9v.9h-.9zM399.8 475.2h.9v.9h-.9zM401.3 470.5h.9v.9h-.9zM399.2 473.3h.9v.9h-.9zM400.7 475.1h.9v.9h-.9zM400.5 468.5h.9v.9h-.9zM399.1 472.4h.9v.9h-.9zM400.3 473.5h.9v.9h-.9zM401.0 465.8h.9v.9h-.9zM400.9 468.8h.9v.9h-.9zM400.0 472.5h.9v.9h-.9zM400.3 468.4h.9v.9h-.9zM399.1 469.1h.9v.9h-.9zM400.8 470.6h.9v.9h-.9zM401.2 474.3h.9v.9h-.9zM399.4 476.5h.9v.9h-.9zM399.9 479.2h.9v.9h-.9zM400.9 475.8h.9v.9h-.9zM400.5 470.4h.9v.9h-.9zM400.5 472.5h.9v.9h-.9zM399.3 469.1h.9v.9h-.9zM399.5 468.0h.9v.9h-.9zM399.7 475.4h.9v.9h-.9zM400.9 466.5h.9v.9h-.9zM399.8 462.9h.9v.9h-.9zM399.8 478.6h.9v.9h-.9zM400.8 467.2h.9v.9h-.9zM400.1 479.5h.9v.9h-.9zM399.9 465.1h.9v.9h-.9zM400.2 462.3h.9v.9h-.9zM400.4 466.6h.9v.9h-.9zM400.5 462.1h.9v.9h-.9zM399.4 465.9h.9v.9h-.9zM399.9 480.5h.9v.9h-.9zM399.8 464.3h.9v.9h-.9zM400.6 468.7h.9v.9h-.9zM399.7 471.4h.9v.9h-.9zM399.6 472.3h.9v.9h-.9zM400.2 474.3h.9v.9h-.9zM400.6 470.4h.9v.9h-.9zM400.3 471.3h.9v.9h-.9zM399.2 468.2h.9v.9h-.9zM400.1 473.8h.9v.9h-.9zM400.7 464.8h.9v.9h-.9zM399.5 473.1h.9v.9h-.9zM399.8 463.4h.9v.9h-.9zM399.5 471.2h.9v.9h-.9zM400.8 468.7h.9v.9h-.9zM400.0 476.3h.9v.9h-.9zM399.8 467.8h.9v.9h-.9zM399.7 470.5h.9v.9h-.9zM399.5 476.4h.9v.9h-.9zM401.2 468.2h.9v.9h-.9zM401.3 469.7h.9v.9h-.9zM400.5 480.5h.9v.9h-.9zM400.5 479.2h.9v.9h-.9zM401.0 469.9h.9v.9h-.9zM400.5 473.6h.9v.9h-.9zM401.0 475.0h.9v.9h-.9zM400.3 478.7h.9v.9h-.9zM400.2 465.3h.9v.9h-.9zM399.3 475.4h.9v.9h-.9zM400.1 461.7h.9v.9h-.9zM401.1 440.7h.9v.9h-.9zM401.0 458.4h.9v.9h-.9zM409.8 465.9h.9v.9h-.9zM409.7 468.6h.9v.9h-.9zM408.9 464.9h.9v.9h-.9zM409.9 472.0h.9v.9h-.9zM409.8 471.4h.9v.9h-.9zM408.8 466.6h.9v.9h-.9zM409.1 467.1h.9v.9h-.9zM409.1 467.1h.9v.9h-.9zM409.8 470.9h.9v.9h-.9zM410.1 467.2h.9v.9h-.9zM409.2 468.6h.9v.9h-.9zM408.5 468.0h.9v.9h-.9zM409.6 467.1h.9v.9h-.9zM408.8 465.8h.9v.9h-.9zM410.1 470.6h.9v.9h-.9zM409.3 469.2h.9v.9h-.9zM409.2 467.6h.9v.9h-.9zM409.8 468.2h.9v.9h-.9zM408.7 466.1h.9v.9h-.9zM410.2 469.0h.9v.9h-.9zM409.5 471.1h.9v.9h-.9zM408.5 469.0h.9v.9h-.9zM409.9 465.4h.9v.9h-.9zM409.1 468.8h.9v.9h-.9zM409.4 468.9h.9v.9h-.9zM409.2 467.7h.9v.9h-.9zM410.1 470.2h.9v.9h-.9zM408.9 471.3h.9v.9h-.9zM410.2 469.7h.9v.9h-.9zM409.6 466.8h.9v.9h-.9zM409.4 466.8h.9v.9h-.9zM410.2 467.4h.9v.9h-.9zM409.5 469.6h.9v.9h-.9zM410.2 468.1h.9v.9h-.9zM409.6 469.2h.9v.9h-.9zM408.7 467.3h.9v.9h-.9zM418.3 459.4h.9v.9h-.9zM418.2 468.3h.9v.9h-.9zM418.8 469.1h.9v.9h-.9zM419.2 482.8h.9v.9h-.9zM417.7 477.6h.9v.9h-.9zM419.1 481.0h.9v.9h-.9zM419.2 480.2h.9v.9h-.9zM418.6 480.1h.9v.9h-.9zM419.1 466.7h.9v.9h-.9zM418.1 476.4h.9v.9h-.9zM418.2 478.2h.9v.9h-.9zM418.7 459.0h.9v.9h-.9zM419.0 462.3h.9v.9h-.9zM417.8 471.2h.9v.9h-.9zM417.9 465.1h.9v.9h-.9zM417.9 465.3h.9v.9h-.9zM418.1 480.5h.9v.9h-.9zM419.1 466.8h.9v.9h-.9zM417.7 469.9h.9v.9h-.9zM418.5 472.3h.9v.9h-.9zM418.8 461.9h.9v.9h-.9zM417.8 474.8h.9v.9h-.9zM418.5 471.0h.9v.9h-.9zM418.7 472.1h.9v.9h-.9zM418.1 478.7h.9v.9h-.9zM418.1 469.2h.9v.9h-.9zM418.1 467.3h.9v.9h-.9zM418.0 477.8h.9v.9h-.9zM418.0 474.8h.9v.9h-.9zM417.6 474.4h.9v.9h-.9zM418.3 483.4h.9v.9h-.9zM417.7 472.0h.9v.9h-.9zM418.7 477.2h.9v.9h-.9zM419.2 468.5h.9v.9h-.9zM418.3 478.6h.9v.9h-.9zM419.5 471.4h.9v.9h-.9zM418.8 484.0h.9v.9h-.9zM419.0 463.1h.9v.9h-.9zM418.0 477.5h.9v.9h-.9zM417.9 467.9h.9v.9h-.9zM419.7 466.3h.9v.9h-.9zM418.8 483.3h.9v.9h-.9zM418.5 477.5h.9v.9h-.9zM418.0 468.0h.9v.9h-.9zM419.5 474.4h.9v.9h-.9zM417.8 477.7h.9v.9h-.9zM418.2 478.0h.9v.9h-.9zM418.8 475.9h.9v.9h-.9zM418.5 470.6h.9v.9h-.9zM418.4 485.1h.9v.9h-.9zM418.5 480.1h.9v.9h-.9zM417.9 467.1h.9v.9h-.9zM419.7 466.9h.9v.9h-.9zM419.4 478.1h.9v.9h-.9zM418.9 470.6h.9v.9h-.9zM419.1 469.7h.9v.9h-.9zM419.7 469.5h.9v.9h-.9zM419.1 462.7h.9v.9h-.9zM418.2 459.0h.9v.9h-.9zM418.5 472.1h.9v.9h-.9zM418.5 460.4h.9v.9h-.9zM418.7 459.0h.9v.9h-.9zM418.7 462.7h.9v.9h-.9zM418.4 469.9h.9v.9h-.9zM418.3 466.6h.9v.9h-.9zM419.1 466.0h.9v.9h-.9zM418.8 463.3h.9v.9h-.9zM419.7 468.2h.9v.9h-.9zM418.7 470.9h.9v.9h-.9zM418.2 461.8h.9v.9h-.9zM419.0 478.0h.9v.9h-.9zM419.1 459.0h.9v.9h-.9zM418.7 459.5h.9v.9h-.9zM419.3 475.2h.9v.9h-.9zM419.3 469.8h.9v.9h-.9zM417.8 470.9h.9v.9h-.9zM418.5 468.3h.9v.9h-.9zM419.4 479.5h.9v.9h-.9zM419.2 459.2h.9v.9h-.9zM419.5 477.2h.9v.9h-.9zM419.2 483.9h.9v.9h-.9zM418.2 462.8h.9v.9h-.9zM418.4 467.6h.9v.9h-.9zM419.4 468.8h.9v.9h-.9zM418.7 467.2h.9v.9h-.9zM418.6 464.1h.9v.9h-.9zM419.9 470.9h.9v.9h-.9zM419.1 459.0h.9v.9h-.9zM418.3 466.5h.9v.9h-.9zM419.5 465.8h.9v.9h-.9zM418.4 485.1h.9v.9h-.9zM419.1 465.4h.9v.9h-.9zM419.2 473.9h.9v.9h-.9zM417.9 475.8h.9v.9h-.9zM419.3 469.1h.9v.9h-.9zM418.4 466.9h.9v.9h-.9zM419.6 477.9h.9v.9h-.9zM419.2 474.4h.9v.9h-.9zM417.7 476.4h.9v.9h-.9zM417.6 466.9h.9v.9h-.9zM418.6 459.0h.9v.9h-.9zM417.8 472.7h.9v.9h-.9zM418.3 485.1h.9v.9h-.9zM418.7 461.7h.9v.9h-.9zM418.8 462.8h.9v.9h-.9zM419.1 466.4h.9v.9h-.9zM418.4 471.3h.9v.9h-.9zM418.5 471.2h.9v.9h-.9zM418.0 473.3h.9v.9h-.9zM418.8 464.0h.9v.9h-.9zM419.0 464.5h.9v.9h-.9zM419.3 475.7h.9v.9h-.9zM419.0 469.3h.9v.9h-.9zM418.4 476.3h.9v.9h-.9zM418.8 476.5h.9v.9h-.9zM419.3 471.8h.9v.9h-.9zM419.6 476.6h.9v.9h-.9zM418.9 470.2h.9v.9h-.9zM419.1 467.1h.9v.9h-.9zM417.9 475.2h.9v.9h-.9zM419.2 463.2h.9v.9h-.9zM417.8 473.3h.9v.9h-.9zM418.3 466.2h.9v.9h-.9zM419.0 482.6h.9v.9h-.9zM418.7 467.3h.9v.9h-.9zM418.3 482.6h.9v.9h-.9zM419.3 461.2h.9v.9h-.9zM419.5 476.1h.9v.9h-.9zM418.8 460.7h.9v.9h-.9zM419.0 480.9h.9v.9h-.9zM418.9 464.1h.9v.9h-.9zM418.9 468.2h.9v.9h-.9zM419.2 473.7h.9v.9h-.9zM418.7 475.5h.9v.9h-.9zM418.3 475.9h.9v.9h-.9zM418.4 470.5h.9v.9h-.9zM418.1 466.7h.9v.9h-.9zM418.6 468.1h.9v.9h-.9zM418.6 468.1h.9v.9h-.9zM418.1 470.1h.9v.9h-.9zM419.3 479.2h.9v.9h-.9zM417.9 473.7h.9v.9h-.9zM419.3 462.2h.9v.9h-.9zM417.9 475.7h.9v.9h-.9zM418.4 460.0h.9v.9h-.9zM419.2 477.4h.9v.9h-.9zM418.1 468.8h.9v.9h-.9zM419.0 464.6h.9v.9h-.9zM418.3 459.0h.9v.9h-.9zM418.3 459.0h.9v.9h-.9zM418.3 469.2h.9v.9h-.9zM418.8 461.2h.9v.9h-.9zM419.0 484.8h.9v.9h-.9zM417.9 478.4h.9v.9h-.9zM418.2 481.5h.9v.9h-.9zM418.7 460.5h.9v.9h-.9zM418.6 455.2h.9v.9h-.9zM418.8 453.4h.9v.9h-.9zM428.0 471.7h.9v.9h-.9zM428.5 471.7h.9v.9h-.9zM427.5 469.6h.9v.9h-.9zM428.0 471.4h.9v.9h-.9zM428.8 473.5h.9v.9h-.9zM427.5 474.8h.9v.9h-.9zM427.1 472.9h.9v.9h-.9zM428.8 473.4h.9v.9h-.9zM427.4 472.4h.9v.9h-.9zM428.4 476.7h.9v.9h-.9zM427.8 472.6h.9v.9h-.9zM427.5 469.1h.9v.9h-.9zM428.4 475.2h.9v.9h-.9zM428.9 473.8h.9v.9h-.9zM428.6 469.7h.9v.9h-.9zM428.5 473.2h.9v.9h-.9zM428.3 476.2h.9v.9h-.9zM427.8 477.4h.9v.9h-.9zM428.6 470.5h.9v.9h-.9zM428.4 472.2h.9v.9h-.9zM427.8 476.4h.9v.9h-.9zM428.5 475.3h.9v.9h-.9zM427.4 473.9h.9v.9h-.9zM427.8 470.6h.9v.9h-.9zM428.3 474.4h.9v.9h-.9zM428.7 474.4h.9v.9h-.9zM427.8 476.6h.9v.9h-.9zM427.2 473.1h.9v.9h-.9zM427.4 469.7h.9v.9h-.9zM428.2 472.1h.9v.9h-.9zM428.3 468.2h.9v.9h-.9zM438.1 465.2h.9v.9h-.9zM436.3 467.8h.9v.9h-.9zM436.9 467.9h.9v.9h-.9zM436.9 466.2h.9v.9h-.9zM437.1 472.8h.9v.9h-.9zM437.4 464.2h.9v.9h-.9zM436.6 466.1h.9v.9h-.9zM437.2 477.4h.9v.9h-.9zM438.1 461.1h.9v.9h-.9zM437.1 456.7h.9v.9h-.9zM437.9 468.1h.9v.9h-.9zM436.5 469.1h.9v.9h-.9zM436.9 469.6h.9v.9h-.9zM436.9 456.4h.9v.9h-.9zM437.2 477.4h.9v.9h-.9zM436.9 467.7h.9v.9h-.9zM437.3 469.1h.9v.9h-.9zM438.1 469.6h.9v.9h-.9zM437.5 465.5h.9v.9h-.9zM438.0 461.0h.9v.9h-.9zM436.4 470.8h.9v.9h-.9zM437.3 454.5h.9v.9h-.9zM436.9 465.3h.9v.9h-.9zM437.0 464.4h.9v.9h-.9zM437.8 477.0h.9v.9h-.9zM436.5 467.5h.9v.9h-.9zM437.1 459.2h.9v.9h-.9zM437.0 461.3h.9v.9h-.9zM437.2 471.3h.9v.9h-.9zM437.0 460.7h.9v.9h-.9zM437.2 461.2h.9v.9h-.9zM437.2 470.0h.9v.9h-.9zM436.8 476.7h.9v.9h-.9zM438.1 466.6h.9v.9h-.9zM437.5 464.6h.9v.9h-.9zM437.0 460.2h.9v.9h-.9zM437.8 458.2h.9v.9h-.9zM437.4 470.8h.9v.9h-.9zM436.9 465.9h.9v.9h-.9zM437.1 471.9h.9v.9h-.9zM437.9 474.4h.9v.9h-.9zM436.7 458.7h.9v.9h-.9zM437.7 452.9h.9v.9h-.9zM438.4 467.8h.9v.9h-.9zM437.8 459.6h.9v.9h-.9zM437.5 452.9h.9v.9h-.9zM438.1 458.9h.9v.9h-.9zM436.7 472.6h.9v.9h-.9zM436.6 463.2h.9v.9h-.9zM437.8 460.3h.9v.9h-.9zM437.8 458.0h.9v.9h-.9zM437.0 477.4h.9v.9h-.9zM436.5 465.0h.9v.9h-.9zM436.5 465.0h.9v.9h-.9zM437.6 474.0h.9v.9h-.9zM438.4 466.6h.9v.9h-.9zM436.5 471.6h.9v.9h-.9zM437.4 456.7h.9v.9h-.9zM437.7 462.0h.9v.9h-.9zM437.9 474.2h.9v.9h-.9zM437.5 452.9h.9v.9h-.9zM437.9 464.7h.9v.9h-.9zM438.0 464.1h.9v.9h-.9zM436.7 469.8h.9v.9h-.9zM437.7 473.9h.9v.9h-.9zM436.4 464.7h.9v.9h-.9zM436.5 470.9h.9v.9h-.9zM437.6 454.4h.9v.9h-.9zM436.7 460.1h.9v.9h-.9zM437.7 474.4h.9v.9h-.9zM437.0 460.2h.9v.9h-.9zM436.6 472.6h.9v.9h-.9zM437.6 471.8h.9v.9h-.9zM436.6 462.9h.9v.9h-.9zM436.6 464.3h.9v.9h-.9zM436.3 464.6h.9v.9h-.9zM437.5 467.1h.9v.9h-.9zM437.1 464.4h.9v.9h-.9zM436.8 471.7h.9v.9h-.9zM437.8 473.4h.9v.9h-.9zM437.4 474.6h.9v.9h-.9zM437.5 458.4h.9v.9h-.9zM436.6 460.2h.9v.9h-.9zM437.1 459.9h.9v.9h-.9zM437.3 469.5h.9v.9h-.9zM437.5 459.7h.9v.9h-.9zM436.4 469.9h.9v.9h-.9zM437.0 469.1h.9v.9h-.9zM437.7 452.9h.9v.9h-.9zM437.7 457.7h.9v.9h-.9zM437.3 453.8h.9v.9h-.9zM438.4 467.1h.9v.9h-.9zM437.5 473.4h.9v.9h-.9zM436.4 465.5h.9v.9h-.9zM437.4 453.3h.9v.9h-.9zM437.5 472.5h.9v.9h-.9zM437.1 452.9h.9v.9h-.9zM438.0 459.0h.9v.9h-.9zM437.2 459.3h.9v.9h-.9zM437.5 469.3h.9v.9h-.9zM436.8 470.0h.9v.9h-.9zM437.5 457.7h.9v.9h-.9zM436.5 463.8h.9v.9h-.9zM438.1 464.5h.9v.9h-.9zM437.5 451.2h.9v.9h-.9zM446.3 475.6h.9v.9h-.9zM446.6 481.2h.9v.9h-.9zM446.4 467.2h.9v.9h-.9zM446.5 472.2h.9v.9h-.9zM446.4 475.7h.9v.9h-.9zM446.1 472.3h.9v.9h-.9zM446.1 479.7h.9v.9h-.9zM446.4 476.0h.9v.9h-.9zM445.9 477.9h.9v.9h-.9zM446.6 479.5h.9v.9h-.9zM446.0 480.7h.9v.9h-.9zM446.1 469.5h.9v.9h-.9zM447.2 472.4h.9v.9h-.9zM446.0 479.1h.9v.9h-.9zM446.2 466.5h.9v.9h-.9zM445.9 469.3h.9v.9h-.9zM445.7 474.7h.9v.9h-.9zM447.0 476.1h.9v.9h-.9zM446.9 468.3h.9v.9h-.9zM447.0 460.6h.9v.9h-.9zM446.5 477.4h.9v.9h-.9zM446.6 478.2h.9v.9h-.9zM446.3 460.8h.9v.9h-.9zM446.9 473.5h.9v.9h-.9zM447.2 471.6h.9v.9h-.9zM446.9 461.4h.9v.9h-.9zM447.0 470.0h.9v.9h-.9zM446.8 469.4h.9v.9h-.9zM446.6 474.0h.9v.9h-.9zM446.8 482.5h.9v.9h-.9zM446.1 468.5h.9v.9h-.9zM446.5 477.4h.9v.9h-.9zM446.4 475.4h.9v.9h-.9zM446.3 472.6h.9v.9h-.9zM445.6 475.7h.9v.9h-.9zM445.6 471.5h.9v.9h-.9zM446.8 477.5h.9v.9h-.9zM446.9 472.8h.9v.9h-.9zM446.8 465.8h.9v.9h-.9zM445.7 478.5h.9v.9h-.9zM447.1 470.3h.9v.9h-.9zM446.5 466.6h.9v.9h-.9zM447.0 467.4h.9v.9h-.9zM446.7 468.1h.9v.9h-.9zM447.4 475.1h.9v.9h-.9zM446.9 484.2h.9v.9h-.9zM445.8 477.8h.9v.9h-.9zM447.1 478.4h.9v.9h-.9zM446.9 472.7h.9v.9h-.9zM447.0 468.9h.9v.9h-.9zM447.0 482.7h.9v.9h-.9zM446.3 465.7h.9v.9h-.9zM447.6 475.5h.9v.9h-.9zM447.0 479.1h.9v.9h-.9zM447.1 474.9h.9v.9h-.9zM447.6 477.3h.9v.9h-.9zM446.9 461.2h.9v.9h-.9zM445.7 474.6h.9v.9h-.9zM446.3 460.6h.9v.9h-.9zM446.2 474.5h.9v.9h-.9zM446.0 476.2h.9v.9h-.9zM446.6 471.7h.9v.9h-.9zM446.2 468.0h.9v.9h-.9zM446.0 477.8h.9v.9h-.9zM446.9 473.0h.9v.9h-.9zM446.0 466.9h.9v.9h-.9zM446.8 471.7h.9v.9h-.9zM446.1 473.6h.9v.9h-.9zM447.2 482.8h.9v.9h-.9zM446.2 469.6h.9v.9h-.9zM445.9 479.1h.9v.9h-.9zM446.5 463.7h.9v.9h-.9zM445.8 467.4h.9v.9h-.9zM447.1 469.3h.9v.9h-.9zM446.7 469.5h.9v.9h-.9zM446.9 467.2h.9v.9h-.9zM447.6 474.0h.9v.9h-.9zM446.0 470.4h.9v.9h-.9zM445.9 471.1h.9v.9h-.9zM447.4 479.0h.9v.9h-.9zM446.9 461.3h.9v.9h-.9zM446.8 479.0h.9v.9h-.9zM446.8 467.5h.9v.9h-.9zM446.6 481.2h.9v.9h-.9zM446.3 480.6h.9v.9h-.9zM446.2 469.3h.9v.9h-.9zM447.0 466.6h.9v.9h-.9zM446.5 485.1h.9v.9h-.9zM446.8 460.6h.9v.9h-.9zM446.8 480.2h.9v.9h-.9zM446.0 482.9h.9v.9h-.9zM446.4 485.1h.9v.9h-.9zM445.8 478.7h.9v.9h-.9zM446.2 475.1h.9v.9h-.9zM446.8 476.2h.9v.9h-.9zM445.9 473.6h.9v.9h-.9zM447.6 473.9h.9v.9h-.9zM445.8 468.8h.9v.9h-.9zM447.1 480.8h.9v.9h-.9zM447.0 475.9h.9v.9h-.9zM447.1 475.5h.9v.9h-.9zM446.0 472.7h.9v.9h-.9zM447.0 471.6h.9v.9h-.9zM446.3 473.7h.9v.9h-.9zM446.1 463.0h.9v.9h-.9zM446.7 474.3h.9v.9h-.9zM447.0 473.2h.9v.9h-.9zM447.2 464.4h.9v.9h-.9zM446.6 473.1h.9v.9h-.9zM446.0 477.2h.9v.9h-.9zM445.5 473.9h.9v.9h-.9zM447.2 462.8h.9v.9h-.9zM445.8 477.7h.9v.9h-.9zM446.0 466.7h.9v.9h-.9zM447.5 477.0h.9v.9h-.9zM446.8 468.5h.9v.9h-.9zM446.8 476.0h.9v.9h-.9zM456.2 457.3h.9v.9h-.9zM455.2 451.6h.9v.9h-.9zM455.6 461.6h.9v.9h-.9zM456.4 457.9h.9v.9h-.9zM455.1 455.4h.9v.9h-.9zM455.8 469.4h.9v.9h-.9zM455.5 461.8h.9v.9h-.9zM457.0 464.8h.9v.9h-.9zM456.2 473.3h.9v.9h-.9zM454.8 460.3h.9v.9h-.9zM455.5 463.4h.9v.9h-.9zM455.8 464.3h.9v.9h-.9zM456.4 453.3h.9v.9h-.9zM456.5 471.7h.9v.9h-.9zM455.9 455.0h.9v.9h-.9zM456.6 448.5h.9v.9h-.9zM456.5 462.6h.9v.9h-.9zM454.8 459.9h.9v.9h-.9zM456.0 471.0h.9v.9h-.9zM455.2 469.1h.9v.9h-.9zM455.0 463.6h.9v.9h-.9zM455.6 446.7h.9v.9h-.9zM455.9 463.4h.9v.9h-.9zM456.0 453.6h.9v.9h-.9zM456.0 451.1h.9v.9h-.9zM456.0 456.4h.9v.9h-.9zM456.6 464.8h.9v.9h-.9zM456.6 464.9h.9v.9h-.9zM456.2 459.8h.9v.9h-.9zM456.3 456.8h.9v.9h-.9zM456.1 450.1h.9v.9h-.9zM456.1 456.8h.9v.9h-.9zM454.8 461.2h.9v.9h-.9zM455.4 452.2h.9v.9h-.9zM455.0 455.7h.9v.9h-.9zM455.9 470.3h.9v.9h-.9zM456.9 464.6h.9v.9h-.9zM455.6 471.2h.9v.9h-.9zM455.9 463.9h.9v.9h-.9zM456.6 453.6h.9v.9h-.9zM456.4 455.0h.9v.9h-.9zM455.0 464.5h.9v.9h-.9zM456.0 460.9h.9v.9h-.9zM456.2 461.0h.9v.9h-.9zM456.7 462.1h.9v.9h-.9zM455.1 455.0h.9v.9h-.9zM455.4 445.2h.9v.9h-.9zM455.1 462.5h.9v.9h-.9zM456.0 455.6h.9v.9h-.9zM455.7 452.0h.9v.9h-.9zM456.6 452.4h.9v.9h-.9zM455.6 465.7h.9v.9h-.9zM455.3 449.2h.9v.9h-.9zM456.3 459.8h.9v.9h-.9zM456.3 450.9h.9v.9h-.9zM456.7 458.8h.9v.9h-.9zM455.3 454.9h.9v.9h-.9zM456.7 454.4h.9v.9h-.9zM455.6 457.1h.9v.9h-.9zM456.3 472.4h.9v.9h-.9zM456.3 459.9h.9v.9h-.9zM456.9 456.9h.9v.9h-.9zM456.4 452.7h.9v.9h-.9zM455.7 471.4h.9v.9h-.9zM456.0 460.8h.9v.9h-.9zM455.5 460.7h.9v.9h-.9zM455.1 459.0h.9v.9h-.9zM454.8 459.5h.9v.9h-.9zM455.4 448.5h.9v.9h-.9zM456.7 461.4h.9v.9h-.9zM455.0 452.7h.9v.9h-.9zM456.1 454.6h.9v.9h-.9zM456.2 451.3h.9v.9h-.9zM455.9 465.6h.9v.9h-.9zM455.2 458.4h.9v.9h-.9zM456.5 457.7h.9v.9h-.9zM455.2 467.1h.9v.9h-.9zM455.7 446.2h.9v.9h-.9zM456.1 475.9h.9v.9h-.9zM456.1 475.9h.9v.9h-.9zM456.1 475.9h.9v.9h-.9zM456.2 463.7h.9v.9h-.9zM456.6 454.1h.9v.9h-.9zM455.2 469.9h.9v.9h-.9zM455.8 445.2h.9v.9h-.9zM455.3 449.4h.9v.9h-.9zM456.0 455.8h.9v.9h-.9zM456.8 454.2h.9v.9h-.9zM456.4 464.4h.9v.9h-.9zM455.4 453.1h.9v.9h-.9zM456.3 448.4h.9v.9h-.9zM454.8 457.2h.9v.9h-.9zM455.4 458.3h.9v.9h-.9zM455.9 463.1h.9v.9h-.9zM456.5 447.9h.9v.9h-.9zM455.2 468.1h.9v.9h-.9zM455.2 466.6h.9v.9h-.9zM456.6 466.3h.9v.9h-.9zM455.2 463.1h.9v.9h-.9zM456.7 465.6h.9v.9h-.9zM456.1 464.2h.9v.9h-.9zM456.5 462.0h.9v.9h-.9zM456.6 467.7h.9v.9h-.9zM456.7 455.7h.9v.9h-.9zM456.0 445.2h.9v.9h-.9zM454.8 456.5h.9v.9h-.9zM454.8 459.4h.9v.9h-.9zM455.7 452.8h.9v.9h-.9zM456.1 466.0h.9v.9h-.9zM456.3 471.9h.9v.9h-.9zM454.9 464.7h.9v.9h-.9zM455.0 465.3h.9v.9h-.9zM455.7 454.2h.9v.9h-.9zM456.5 456.2h.9v.9h-.9zM455.6 475.7h.9v.9h-.9zM456.9 459.1h.9v.9h-.9zM456.0 461.3h.9v.9h-.9zM455.6 446.7h.9v.9h-.9zM455.7 467.3h.9v.9h-.9zM456.4 468.5h.9v.9h-.9zM456.2 453.7h.9v.9h-.9zM455.9 453.8h.9v.9h-.9zM456.8 454.9h.9v.9h-.9zM455.7 449.2h.9v.9h-.9zM456.2 475.7h.9v.9h-.9zM456.4 454.7h.9v.9h-.9zM455.9 468.2h.9v.9h-.9zM455.1 458.6h.9v.9h-.9zM455.9 453.6h.9v.9h-.9zM456.0 460.4h.9v.9h-.9zM456.3 468.0h.9v.9h-.9zM455.0 462.1h.9v.9h-.9zM455.6 474.8h.9v.9h-.9zM455.6 469.8h.9v.9h-.9zM456.2 457.5h.9v.9h-.9zM455.7 447.3h.9v.9h-.9zM456.3 465.6h.9v.9h-.9zM456.5 451.4h.9v.9h-.9zM456.1 465.6h.9v.9h-.9zM455.7 456.8h.9v.9h-.9zM455.7 465.2h.9v.9h-.9zM456.4 458.8h.9v.9h-.9zM455.7 458.4h.9v.9h-.9zM466.1 469.7h.9v.9h-.9zM464.4 462.4h.9v.9h-.9zM466.0 467.7h.9v.9h-.9zM465.3 459.8h.9v.9h-.9zM464.4 464.7h.9v.9h-.9zM465.4 469.0h.9v.9h-.9zM466.2 466.7h.9v.9h-.9zM465.5 477.4h.9v.9h-.9zM465.4 471.1h.9v.9h-.9zM464.7 453.0h.9v.9h-.9zM466.1 449.3h.9v.9h-.9zM464.8 446.4h.9v.9h-.9zM464.2 457.5h.9v.9h-.9zM464.5 460.8h.9v.9h-.9zM466.2 459.7h.9v.9h-.9zM464.9 454.4h.9v.9h-.9zM465.2 448.9h.9v.9h-.9zM465.8 444.7h.9v.9h-.9zM465.4 447.4h.9v.9h-.9zM464.9 436.0h.9v.9h-.9zM464.0 457.6h.9v.9h-.9zM465.0 449.6h.9v.9h-.9zM465.4 468.0h.9v.9h-.9zM465.3 461.2h.9v.9h-.9zM465.7 451.4h.9v.9h-.9zM466.0 457.3h.9v.9h-.9zM466.0 446.2h.9v.9h-.9zM464.3 469.9h.9v.9h-.9zM465.1 466.5h.9v.9h-.9zM466.4 461.2h.9v.9h-.9zM465.0 441.4h.9v.9h-.9zM465.8 466.8h.9v.9h-.9zM465.2 464.5h.9v.9h-.9zM466.1 460.7h.9v.9h-.9zM465.7 442.4h.9v.9h-.9zM465.3 450.8h.9v.9h-.9zM464.7 464.8h.9v.9h-.9zM465.4 460.7h.9v.9h-.9zM466.0 471.0h.9v.9h-.9zM464.6 440.0h.9v.9h-.9zM464.9 466.9h.9v.9h-.9zM465.8 459.3h.9v.9h-.9zM465.6 473.4h.9v.9h-.9zM464.2 462.4h.9v.9h-.9zM464.8 463.1h.9v.9h-.9zM465.0 452.7h.9v.9h-.9zM465.6 463.9h.9v.9h-.9zM465.0 465.2h.9v.9h-.9zM465.1 475.1h.9v.9h-.9zM465.5 437.0h.9v.9h-.9zM464.4 469.7h.9v.9h-.9zM464.9 450.7h.9v.9h-.9zM465.1 443.6h.9v.9h-.9zM466.3 456.6h.9v.9h-.9zM465.4 467.2h.9v.9h-.9zM466.4 461.2h.9v.9h-.9zM465.4 463.5h.9v.9h-.9zM465.2 474.1h.9v.9h-.9zM464.6 448.8h.9v.9h-.9zM465.3 452.5h.9v.9h-.9zM464.9 465.5h.9v.9h-.9zM464.7 444.4h.9v.9h-.9zM465.4 436.0h.9v.9h-.9zM464.2 460.9h.9v.9h-.9zM465.9 449.4h.9v.9h-.9zM466.1 454.6h.9v.9h-.9zM465.4 450.8h.9v.9h-.9zM465.0 458.4h.9v.9h-.9zM465.2 470.9h.9v.9h-.9zM465.4 465.4h.9v.9h-.9zM466.3 466.1h.9v.9h-.9zM464.5 447.2h.9v.9h-.9zM465.4 447.8h.9v.9h-.9zM465.3 474.6h.9v.9h-.9zM466.1 466.9h.9v.9h-.9zM465.9 457.7h.9v.9h-.9zM466.1 462.2h.9v.9h-.9zM464.9 438.1h.9v.9h-.9zM466.1 465.4h.9v.9h-.9zM464.9 463.0h.9v.9h-.9zM464.5 447.8h.9v.9h-.9zM465.4 476.4h.9v.9h-.9zM464.9 452.3h.9v.9h-.9zM465.9 454.2h.9v.9h-.9zM465.6 440.6h.9v.9h-.9zM464.8 436.0h.9v.9h-.9zM466.0 462.5h.9v.9h-.9zM466.0 455.5h.9v.9h-.9zM465.2 467.6h.9v.9h-.9zM465.4 463.8h.9v.9h-.9zM464.2 462.2h.9v.9h-.9zM465.5 460.3h.9v.9h-.9zM464.9 448.3h.9v.9h-.9zM466.4 455.9h.9v.9h-.9zM465.1 439.2h.9v.9h-.9zM464.4 448.8h.9v.9h-.9zM466.1 449.6h.9v.9h-.9zM464.8 436.0h.9v.9h-.9zM465.0 475.6h.9v.9h-.9zM465.1 463.1h.9v.9h-.9zM465.4 467.1h.9v.9h-.9zM464.2 458.3h.9v.9h-.9zM466.0 447.2h.9v.9h-.9zM464.4 466.7h.9v.9h-.9zM464.5 455.3h.9v.9h-.9zM464.6 473.0h.9v.9h-.9zM466.3 455.9h.9v.9h-.9zM464.4 465.4h.9v.9h-.9zM465.8 465.2h.9v.9h-.9zM464.2 455.5h.9v.9h-.9zM464.7 471.8h.9v.9h-.9zM465.9 464.1h.9v.9h-.9zM464.8 447.4h.9v.9h-.9zM466.0 452.6h.9v.9h-.9zM465.4 471.6h.9v.9h-.9zM465.7 464.2h.9v.9h-.9zM466.1 452.0h.9v.9h-.9zM465.5 461.1h.9v.9h-.9zM465.5 446.8h.9v.9h-.9zM465.9 447.9h.9v.9h-.9zM466.1 460.0h.9v.9h-.9zM464.8 467.1h.9v.9h-.9zM465.9 458.0h.9v.9h-.9zM464.6 462.4h.9v.9h-.9zM464.6 473.6h.9v.9h-.9zM465.2 476.0h.9v.9h-.9zM465.7 448.1h.9v.9h-.9zM464.4 465.2h.9v.9h-.9zM465.3 459.4h.9v.9h-.9zM465.3 468.9h.9v.9h-.9zM466.2 465.3h.9v.9h-.9zM464.5 468.7h.9v.9h-.9zM464.5 458.2h.9v.9h-.9zM465.3 456.0h.9v.9h-.9zM466.1 462.9h.9v.9h-.9zM465.2 465.2h.9v.9h-.9zM466.1 448.4h.9v.9h-.9zM465.5 436.0h.9v.9h-.9zM464.5 462.1h.9v.9h-.9zM465.3 453.2h.9v.9h-.9zM464.9 463.5h.9v.9h-.9zM464.8 477.4h.9v.9h-.9zM465.5 436.0h.9v.9h-.9zM465.2 459.7h.9v.9h-.9zM465.0 465.1h.9v.9h-.9zM465.3 453.4h.9v.9h-.9zM466.4 462.3h.9v.9h-.9zM465.6 463.6h.9v.9h-.9zM465.0 468.9h.9v.9h-.9zM465.8 458.8h.9v.9h-.9zM464.8 460.8h.9v.9h-.9zM465.3 461.3h.9v.9h-.9zM464.4 446.6h.9v.9h-.9zM465.0 463.2h.9v.9h-.9zM465.7 474.0h.9v.9h-.9zM464.3 452.7h.9v.9h-.9zM465.1 436.0h.9v.9h-.9zM475.2 457.3h.9v.9h-.9zM474.8 468.4h.9v.9h-.9zM473.6 460.9h.9v.9h-.9zM473.8 461.9h.9v.9h-.9zM474.5 464.4h.9v.9h-.9zM474.3 463.9h.9v.9h-.9zM474.4 463.5h.9v.9h-.9zM474.8 463.1h.9v.9h-.9zM474.6 453.6h.9v.9h-.9zM474.7 457.7h.9v.9h-.9zM474.9 464.6h.9v.9h-.9zM474.6 457.9h.9v.9h-.9zM474.1 460.9h.9v.9h-.9zM474.5 464.2h.9v.9h-.9zM475.1 459.5h.9v.9h-.9zM474.6 465.2h.9v.9h-.9zM475.2 459.6h.9v.9h-.9zM474.5 453.2h.9v.9h-.9zM474.7 451.8h.9v.9h-.9zM474.9 451.9h.9v.9h-.9zM474.2 451.3h.9v.9h-.9zM474.6 464.2h.9v.9h-.9zM474.7 458.6h.9v.9h-.9zM475.2 460.2h.9v.9h-.9zM474.3 471.3h.9v.9h-.9zM474.6 460.3h.9v.9h-.9zM475.2 461.1h.9v.9h-.9zM475.0 461.7h.9v.9h-.9zM474.2 465.1h.9v.9h-.9zM474.1 470.6h.9v.9h-.9zM474.1 466.4h.9v.9h-.9zM474.2 453.3h.9v.9h-.9zM474.0 465.0h.9v.9h-.9zM475.3 461.0h.9v.9h-.9zM474.3 471.3h.9v.9h-.9zM475.3 463.7h.9v.9h-.9zM475.2 459.7h.9v.9h-.9zM475.2 458.4h.9v.9h-.9zM473.6 463.5h.9v.9h-.9zM474.7 451.3h.9v.9h-.9zM474.3 459.0h.9v.9h-.9zM474.1 462.9h.9v.9h-.9zM474.0 467.1h.9v.9h-.9zM475.0 455.0h.9v.9h-.9zM474.7 463.3h.9v.9h-.9zM473.7 462.1h.9v.9h-.9zM474.9 466.0h.9v.9h-.9zM474.2 456.7h.9v.9h-.9zM475.0 460.5h.9v.9h-.9zM474.2 457.3h.9v.9h-.9zM474.0 464.1h.9v.9h-.9zM474.2 456.1h.9v.9h-.9zM474.5 463.5h.9v.9h-.9zM473.9 454.7h.9v.9h-.9zM474.4 462.4h.9v.9h-.9zM473.6 464.5h.9v.9h-.9zM474.3 468.3h.9v.9h-.9zM473.8 462.5h.9v.9h-.9zM475.5 459.8h.9v.9h-.9zM475.1 469.3h.9v.9h-.9zM474.1 465.0h.9v.9h-.9zM473.8 467.0h.9v.9h-.9zM473.9 462.3h.9v.9h-.9zM474.2 451.3h.9v.9h-.9zM475.2 462.4h.9v.9h-.9zM483.5 472.8h.9v.9h-.9zM484.2 459.0h.9v.9h-.9zM483.3 456.9h.9v.9h-.9zM484.6 462.9h.9v.9h-.9zM483.2 464.9h.9v.9h-.9zM484.2 462.8h.9v.9h-.9zM484.5 468.7h.9v.9h-.9zM483.9 459.7h.9v.9h-.9zM484.4 463.2h.9v.9h-.9zM484.6 466.1h.9v.9h-.9zM484.3 458.2h.9v.9h-.9zM484.5 468.6h.9v.9h-.9zM484.6 467.3h.9v.9h-.9zM484.2 463.9h.9v.9h-.9zM484.4 458.0h.9v.9h-.9zM484.0 461.8h.9v.9h-.9zM483.8 464.0h.9v.9h-.9zM483.5 456.4h.9v.9h-.9zM484.2 469.9h.9v.9h-.9zM484.1 462.8h.9v.9h-.9zM484.4 456.7h.9v.9h-.9zM483.0 461.4h.9v.9h-.9zM484.4 470.0h.9v.9h-.9zM483.7 457.3h.9v.9h-.9zM483.7 472.8h.9v.9h-.9zM484.1 457.0h.9v.9h-.9zM484.8 464.4h.9v.9h-.9zM484.1 471.3h.9v.9h-.9zM483.7 461.1h.9v.9h-.9zM483.5 462.7h.9v.9h-.9zM483.6 467.5h.9v.9h-.9zM484.2 461.0h.9v.9h-.9zM484.2 469.2h.9v.9h-.9zM484.5 468.5h.9v.9h-.9zM484.1 463.0h.9v.9h-.9zM483.3 466.5h.9v.9h-.9zM483.4 463.5h.9v.9h-.9zM483.4 463.2h.9v.9h-.9zM483.4 472.8h.9v.9h-.9zM483.5 459.0h.9v.9h-.9zM484.4 466.5h.9v.9h-.9zM484.4 466.5h.9v.9h-.9zM483.7 468.0h.9v.9h-.9zM483.7 461.7h.9v.9h-.9zM483.1 458.6h.9v.9h-.9zM483.6 463.7h.9v.9h-.9zM483.7 470.7h.9v.9h-.9zM484.4 470.3h.9v.9h-.9zM483.2 463.4h.9v.9h-.9zM483.9 466.8h.9v.9h-.9zM483.6 456.9h.9v.9h-.9zM483.7 470.5h.9v.9h-.9zM483.6 472.8h.9v.9h-.9zM483.3 459.5h.9v.9h-.9zM484.6 463.1h.9v.9h-.9zM483.9 457.8h.9v.9h-.9zM483.8 460.2h.9v.9h-.9zM493.9 455.5h.9v.9h-.9zM493.6 448.3h.9v.9h-.9zM492.8 469.2h.9v.9h-.9zM492.8 469.4h.9v.9h-.9zM493.1 461.8h.9v.9h-.9zM493.8 474.2h.9v.9h-.9zM492.4 460.5h.9v.9h-.9zM493.5 469.3h.9v.9h-.9zM493.9 465.0h.9v.9h-.9zM493.3 452.3h.9v.9h-.9zM492.8 472.7h.9v.9h-.9zM493.4 463.3h.9v.9h-.9zM493.2 448.3h.9v.9h-.9zM492.9 448.3h.9v.9h-.9zM493.5 471.2h.9v.9h-.9zM494.0 470.0h.9v.9h-.9zM493.9 474.3h.9v.9h-.9zM492.7 472.6h.9v.9h-.9zM492.3 461.5h.9v.9h-.9zM492.7 470.3h.9v.9h-.9zM492.9 461.7h.9v.9h-.9zM493.9 477.1h.9v.9h-.9zM493.3 467.6h.9v.9h-.9zM492.8 472.7h.9v.9h-.9zM492.9 456.7h.9v.9h-.9zM492.5 455.6h.9v.9h-.9zM493.0 466.0h.9v.9h-.9zM493.0 462.4h.9v.9h-.9zM492.3 468.5h.9v.9h-.9zM493.4 455.6h.9v.9h-.9zM493.3 481.4h.9v.9h-.9zM493.1 473.6h.9v.9h-.9zM494.2 462.8h.9v.9h-.9zM494.1 462.6h.9v.9h-.9zM493.5 448.8h.9v.9h-.9zM492.2 473.9h.9v.9h-.9zM493.2 467.3h.9v.9h-.9zM493.5 476.1h.9v.9h-.9zM493.7 482.3h.9v.9h-.9zM492.8 454.0h.9v.9h-.9zM493.7 465.7h.9v.9h-.9zM493.7 460.1h.9v.9h-.9zM493.6 466.0h.9v.9h-.9zM493.0 458.0h.9v.9h-.9zM493.9 457.3h.9v.9h-.9zM492.7 478.6h.9v.9h-.9zM492.4 473.0h.9v.9h-.9zM494.1 471.1h.9v.9h-.9zM493.4 473.0h.9v.9h-.9zM492.8 463.5h.9v.9h-.9zM493.2 450.0h.9v.9h-.9zM492.9 459.7h.9v.9h-.9zM492.2 460.2h.9v.9h-.9zM493.7 469.7h.9v.9h-.9zM493.7 468.7h.9v.9h-.9zM493.8 471.7h.9v.9h-.9zM493.0 471.5h.9v.9h-.9zM492.3 461.6h.9v.9h-.9zM493.4 468.5h.9v.9h-.9zM492.6 480.7h.9v.9h-.9zM492.2 458.4h.9v.9h-.9zM493.8 457.3h.9v.9h-.9zM493.7 478.8h.9v.9h-.9zM493.5 460.0h.9v.9h-.9zM494.1 464.1h.9v.9h-.9zM492.7 469.7h.9v.9h-.9zM493.2 485.1h.9v.9h-.9zM492.1 468.7h.9v.9h-.9zM493.4 477.4h.9v.9h-.9zM493.9 456.8h.9v.9h-.9zM492.0 465.1h.9v.9h-.9zM493.5 469.0h.9v.9h-.9zM493.9 461.3h.9v.9h-.9zM493.9 463.6h.9v.9h-.9zM492.5 478.8h.9v.9h-.9zM493.7 479.6h.9v.9h-.9zM493.3 480.8h.9v.9h-.9zM494.1 473.0h.9v.9h-.9zM493.6 455.1h.9v.9h-.9zM493.4 481.7h.9v.9h-.9zM494.2 460.3h.9v.9h-.9zM492.4 467.2h.9v.9h-.9zM493.6 455.4h.9v.9h-.9zM492.4 472.5h.9v.9h-.9zM493.5 450.6h.9v.9h-.9zM493.4 477.8h.9v.9h-.9zM493.6 485.1h.9v.9h-.9zM492.9 472.3h.9v.9h-.9zM494.2 470.1h.9v.9h-.9zM493.1 471.5h.9v.9h-.9zM492.4 471.2h.9v.9h-.9zM493.2 473.5h.9v.9h-.9zM493.9 467.9h.9v.9h-.9zM492.6 468.3h.9v.9h-.9zM492.3 476.2h.9v.9h-.9zM493.4 463.5h.9v.9h-.9zM492.4 454.7h.9v.9h-.9zM493.0 469.3h.9v.9h-.9zM492.7 456.8h.9v.9h-.9zM493.0 452.7h.9v.9h-.9zM492.2 472.7h.9v.9h-.9zM493.6 468.6h.9v.9h-.9zM493.3 448.3h.9v.9h-.9zM493.4 453.4h.9v.9h-.9zM492.6 457.8h.9v.9h-.9zM493.0 473.2h.9v.9h-.9zM492.6 466.4h.9v.9h-.9zM493.2 463.1h.9v.9h-.9zM492.9 479.4h.9v.9h-.9zM493.3 484.0h.9v.9h-.9zM492.8 464.0h.9v.9h-.9zM493.4 454.3h.9v.9h-.9zM494.2 471.3h.9v.9h-.9zM492.6 468.2h.9v.9h-.9zM493.2 485.1h.9v.9h-.9zM493.8 468.2h.9v.9h-.9zM492.9 485.1h.9v.9h-.9zM492.5 460.1h.9v.9h-.9zM493.9 472.3h.9v.9h-.9zM492.9 465.8h.9v.9h-.9zM492.5 474.8h.9v.9h-.9zM494.1 468.4h.9v.9h-.9zM493.6 473.7h.9v.9h-.9zM493.9 454.3h.9v.9h-.9zM492.6 470.8h.9v.9h-.9zM493.3 474.1h.9v.9h-.9zM492.9 459.9h.9v.9h-.9zM493.8 478.0h.9v.9h-.9zM492.5 481.8h.9v.9h-.9zM493.0 485.1h.9v.9h-.9zM502.2 456.5h.9v.9h-.9zM502.2 457.9h.9v.9h-.9zM502.3 459.0h.9v.9h-.9zM502.5 457.3h.9v.9h-.9zM501.9 456.5h.9v.9h-.9zM502.8 456.5h.9v.9h-.9zM502.8 457.0h.9v.9h-.9zM502.7 455.8h.9v.9h-.9zM502.8 455.4h.9v.9h-.9zM502.2 456.5h.9v.9h-.9zM503.0 456.1h.9v.9h-.9zM501.9 456.3h.9v.9h-.9zM502.3 456.7h.9v.9h-.9zM510.9 461.9h.9v.9h-.9zM510.8 461.7h.9v.9h-.9zM511.4 461.9h.9v.9h-.9zM511.7 458.3h.9v.9h-.9zM512.3 465.3h.9v.9h-.9zM511.3 461.9h.9v.9h-.9zM511.6 463.4h.9v.9h-.9zM511.8 459.4h.9v.9h-.9zM511.4 460.0h.9v.9h-.9zM511.5 459.0h.9v.9h-.9zM511.7 470.9h.9v.9h-.9zM511.6 461.6h.9v.9h-.9zM512.2 460.5h.9v.9h-.9zM512.4 464.7h.9v.9h-.9zM512.1 465.2h.9v.9h-.9zM512.6 460.8h.9v.9h-.9zM511.4 468.4h.9v.9h-.9zM512.0 465.5h.9v.9h-.9zM511.3 457.7h.9v.9h-.9zM512.1 460.0h.9v.9h-.9zM511.6 461.0h.9v.9h-.9zM511.8 458.3h.9v.9h-.9zM511.2 461.7h.9v.9h-.9zM511.5 472.8h.9v.9h-.9zM512.4 464.3h.9v.9h-.9zM511.3 461.0h.9v.9h-.9zM512.5 463.6h.9v.9h-.9zM511.8 461.8h.9v.9h-.9zM512.3 461.2h.9v.9h-.9zM511.3 461.5h.9v.9h-.9zM511.2 467.1h.9v.9h-.9zM511.3 470.0h.9v.9h-.9zM512.2 468.1h.9v.9h-.9zM511.8 460.5h.9v.9h-.9zM511.5 459.8h.9v.9h-.9zM512.1 459.5h.9v.9h-.9z" fill="#000" fill-opacity="0.85"/>
<line x1="297.74" y1="414.40" x2="297.74" y2="459.00" stroke="#555" stroke-width="0.8"/>
<rect x="294.24" y="421.70" width="7.00" height="18.30" fill="#c8102e"/>
<line x1="294.24" y1="433.00" x2="301.24" y2="433.00" stroke="#3a0008" stroke-width="1.0"/>
<line x1="307.04" y1="450.40" x2="307.04" y2="493.80" stroke="#666" stroke-width="0.8"/>
<rect x="303.54" y="465.00" width="7.00" height="13.50" fill="#f0960f"/>
<line x1="303.54" y1="470.80" x2="310.54" y2="470.80" stroke="#5a3000" stroke-width="1.0"/>
<line x1="232.60" y1="497.60" x2="232.60" y2="499.80" stroke="#231f20" stroke-width="0.9"/>
<line x1="241.91" y1="497.60" x2="241.91" y2="499.80" stroke="#231f20" stroke-width="0.9"/>
<line x1="251.21" y1="497.60" x2="251.21" y2="499.80" stroke="#231f20" stroke-width="0.9"/>
<line x1="260.51" y1="497.60" x2="260.51" y2="499.80" stroke="#231f20" stroke-width="0.9"/>
<line x1="269.82" y1="497.60" x2="269.82" y2="499.80" stroke="#231f20" stroke-width="0.9"/>
<line x1="279.12" y1="497.60" x2="279.12" y2="499.80" stroke="#231f20" stroke-width="0.9"/>
<line x1="288.43" y1="497.60" x2="288.43" y2="499.80" stroke="#231f20" stroke-width="0.9"/>
<line x1="297.74" y1="497.60" x2="297.74" y2="499.80" stroke="#231f20" stroke-width="0.9"/>
<line x1="307.04" y1="497.60" x2="307.04" y2="499.80" stroke="#231f20" stroke-width="0.9"/>
<line x1="316.35" y1="497.60" x2="316.35" y2="499.80" stroke="#231f20" stroke-width="0.9"/>
<line x1="325.65" y1="497.60" x2="325.65" y2="499.80" stroke="#231f20" stroke-width="0.9"/>
<line x1="334.95" y1="497.60" x2="334.95" y2="499.80" stroke="#231f20" stroke-width="0.9"/>
<line x1="344.26" y1="497.60" x2="344.26" y2="499.80" stroke="#231f20" stroke-width="0.9"/>
<line x1="353.56" y1="497.60" x2="353.56" y2="499.80" stroke="#231f20" stroke-width="0.9"/>
<line x1="362.87" y1="497.60" x2="362.87" y2="499.80" stroke="#231f20" stroke-width="0.9"/>
<line x1="372.17" y1="497.60" x2="372.17" y2="499.80" stroke="#231f20" stroke-width="0.9"/>
<line x1="381.48" y1="497.60" x2="381.48" y2="499.80" stroke="#231f20" stroke-width="0.9"/>
<line x1="390.78" y1="497.60" x2="390.78" y2="499.80" stroke="#231f20" stroke-width="0.9"/>
<line x1="400.09" y1="497.60" x2="400.09" y2="499.80" stroke="#231f20" stroke-width="0.9"/>
<line x1="409.39" y1="497.60" x2="409.39" y2="499.80" stroke="#231f20" stroke-width="0.9"/>
<line x1="418.70" y1="497.60" x2="418.70" y2="499.80" stroke="#231f20" stroke-width="0.9"/>
<line x1="428.00" y1="497.60" x2="428.00" y2="499.80" stroke="#231f20" stroke-width="0.9"/>
<line x1="437.31" y1="497.60" x2="437.31" y2="499.80" stroke="#231f20" stroke-width="0.9"/>
<line x1="446.62" y1="497.60" x2="446.62" y2="499.80" stroke="#231f20" stroke-width="0.9"/>
<line x1="455.92" y1="497.60" x2="455.92" y2="499.80" stroke="#231f20" stroke-width="0.9"/>
<line x1="465.23" y1="497.60" x2="465.23" y2="499.80" stroke="#231f20" stroke-width="0.9"/>
<line x1="474.53" y1="497.60" x2="474.53" y2="499.80" stroke="#231f20" stroke-width="0.9"/>
<line x1="483.83" y1="497.60" x2="483.83" y2="499.80" stroke="#231f20" stroke-width="0.9"/>
<line x1="493.14" y1="497.60" x2="493.14" y2="499.80" stroke="#231f20" stroke-width="0.9"/>
<line x1="502.44" y1="497.60" x2="502.44" y2="499.80" stroke="#231f20" stroke-width="0.9"/>
<line x1="511.75" y1="497.60" x2="511.75" y2="499.80" stroke="#231f20" stroke-width="0.9"/>
<text x="236.10" y="507.00" font-size="7.4" text-anchor="end" fill="#333" stroke="#333" stroke-width="0.08" transform="rotate(-45 236.10 507.00)">M0</text>
<text x="245.41" y="507.00" font-size="7.4" text-anchor="end" fill="#333" stroke="#333" stroke-width="0.08" transform="rotate(-45 245.41 507.00)">M1</text>
<text x="254.71" y="507.00" font-size="7.4" text-anchor="end" fill="#333" stroke="#333" stroke-width="0.08" transform="rotate(-45 254.71 507.00)">M2</text>
<text x="264.01" y="507.00" font-size="7.4" text-anchor="end" fill="#333" stroke="#333" stroke-width="0.08" transform="rotate(-45 264.01 507.00)">M3</text>
<text x="273.32" y="507.00" font-size="7.4" text-anchor="end" fill="#333" stroke="#333" stroke-width="0.08" transform="rotate(-45 273.32 507.00)">M4</text>
<text x="282.62" y="507.00" font-size="7.4" text-anchor="end" fill="#333" stroke="#333" stroke-width="0.08" transform="rotate(-45 282.62 507.00)">M4eo</text>
<text x="291.93" y="507.00" font-size="7.4" text-anchor="end" fill="#333" stroke="#333" stroke-width="0.08" transform="rotate(-45 291.93 507.00)">M5</text>
<text x="301.24" y="507.00" font-size="7.4" text-anchor="end" fill="#333" stroke="#333" stroke-width="0.08" transform="rotate(-45 301.24 507.00)">M6</text>
<text x="310.54" y="507.00" font-size="7.4" text-anchor="end" fill="#333" stroke="#333" stroke-width="0.08" transform="rotate(-45 310.54 507.00)">M7</text>
<text x="319.85" y="507.00" font-size="7.4" text-anchor="end" fill="#333" stroke="#333" stroke-width="0.08" transform="rotate(-45 319.85 507.00)">CML</text>
<text x="329.15" y="507.00" font-size="7.4" text-anchor="end" fill="#333" stroke="#333" stroke-width="0.08" transform="rotate(-45 329.15 507.00)">MDS</text>
<text x="338.45" y="507.00" font-size="7.4" text-anchor="end" fill="#333" stroke="#333" stroke-width="0.08" transform="rotate(-45 338.45 507.00)">CLL</text>
<text x="347.76" y="507.00" font-size="7.4" text-anchor="end" fill="#333" stroke="#333" stroke-width="0.08" transform="rotate(-45 347.76 507.00)">pre&#8722;B&#8722;ALL</text>
<text x="357.06" y="507.00" font-size="7.4" text-anchor="end" fill="#333" stroke="#333" stroke-width="0.08" transform="rotate(-45 357.06 507.00)">MM</text>
<text x="366.37" y="507.00" font-size="7.4" text-anchor="end" fill="#333" stroke="#333" stroke-width="0.08" transform="rotate(-45 366.37 507.00)">T&#8722;ALL</text>
<text x="375.67" y="507.00" font-size="7.4" text-anchor="end" fill="#333" stroke="#333" stroke-width="0.08" transform="rotate(-45 375.67 507.00)">HCL</text>
<text x="384.98" y="507.00" font-size="7.4" text-anchor="end" fill="#333" stroke="#333" stroke-width="0.08" transform="rotate(-45 384.98 507.00)">DLBCL</text>
<text x="394.28" y="507.00" font-size="7.4" text-anchor="end" fill="#333" stroke="#333" stroke-width="0.08" transform="rotate(-45 394.28 507.00)">FL</text>
<text x="403.59" y="507.00" font-size="7.4" text-anchor="end" fill="#333" stroke="#333" stroke-width="0.08" transform="rotate(-45 403.59 507.00)">CHL</text>
<text x="412.89" y="507.00" font-size="7.4" text-anchor="end" fill="#333" stroke="#333" stroke-width="0.08" transform="rotate(-45 412.89 507.00)">NLPHL</text>
<text x="422.20" y="507.00" font-size="7.4" text-anchor="end" fill="#333" stroke="#333" stroke-width="0.08" transform="rotate(-45 422.20 507.00)">MCL</text>
<text x="431.50" y="507.00" font-size="7.4" text-anchor="end" fill="#333" stroke="#333" stroke-width="0.08" transform="rotate(-45 431.50 507.00)">MZL</text>
<text x="440.81" y="507.00" font-size="7.4" text-anchor="end" fill="#333" stroke="#333" stroke-width="0.08" transform="rotate(-45 440.81 507.00)">BL</text>
<text x="450.12" y="507.00" font-size="7.4" text-anchor="end" fill="#333" stroke="#333" stroke-width="0.08" transform="rotate(-45 450.12 507.00)">MALT</text>
<text x="459.42" y="507.00" font-size="7.4" text-anchor="end" fill="#333" stroke="#333" stroke-width="0.08" transform="rotate(-45 459.42 507.00)">PTCLNOS</text>
<text x="468.73" y="507.00" font-size="7.4" text-anchor="end" fill="#333" stroke="#333" stroke-width="0.08" transform="rotate(-45 468.73 507.00)">ALCL</text>
<text x="478.03" y="507.00" font-size="7.4" text-anchor="end" fill="#333" stroke="#333" stroke-width="0.08" transform="rotate(-45 478.03 507.00)">AITL</text>
<text x="487.33" y="507.00" font-size="7.4" text-anchor="end" fill="#333" stroke="#333" stroke-width="0.08" transform="rotate(-45 487.33 507.00)">ATL</text>
<text x="496.64" y="507.00" font-size="7.4" text-anchor="end" fill="#333" stroke="#333" stroke-width="0.08" transform="rotate(-45 496.64 507.00)">CTCL</text>
<text x="505.94" y="507.00" font-size="7.4" text-anchor="end" fill="#333" stroke="#333" stroke-width="0.08" transform="rotate(-45 505.94 507.00)">HSTCL</text>
<text x="515.25" y="507.00" font-size="7.4" text-anchor="end" fill="#333" stroke="#333" stroke-width="0.08" transform="rotate(-45 515.25 507.00)">ENKTL</text>
<line x1="227.00" y1="522.50" x2="303.60" y2="522.50" stroke="#000" stroke-width="1.0"/>
<text x="265.00" y="532.60" font-size="7.2" text-anchor="middle" fill="#333" stroke="#333" stroke-width="0.08">AML</text>
<text x="0.40" y="559.60" font-size="12.0" text-anchor="start" fill="#000" font-weight="bold">E</text>
<text x="44.50" y="562.30" font-size="7.2" text-anchor="middle" fill="#333" stroke="#333" stroke-width="0.08">Normal</text>
<text x="44.50" y="569.90" font-size="7.2" text-anchor="middle" fill="#333" stroke="#333" stroke-width="0.08" textLength="65.34" lengthAdjust="spacingAndGlyphs">hematopoiesis (HCA)</text>
<text x="137.00" y="569.90" font-size="7.2" text-anchor="middle" fill="#333" stroke="#333" stroke-width="0.08" textLength="51.64" lengthAdjust="spacingAndGlyphs"><tspan font-style="italic">BCL2L1</tspan> (BCL-XL)</text>
<text x="43.30" y="661.30" font-size="7.4" text-anchor="middle" fill="#333" stroke="#333" stroke-width="0.08" font-style="italic">BCL2</text>
<text x="131.50" y="661.30" font-size="7.4" text-anchor="middle" fill="#333" stroke="#333" stroke-width="0.08" font-style="italic">MCL1</text>
<g transform="translate(0,0)">
<path d="M14.5,580 C15,577.5 18,577 22,577.3 C26,577.5 29,578 29.5,580 C29.8,582 28,584 27.5,586 C28,588 30,589.5 31,591 C31.2,593 30.5,595 29.5,595.5 C28.5,594.5 27.5,593.8 26.5,594 C25.5,596 26,599 26.5,602 L28.5,603.5 L17,603.8 C16,600 14.5,596 14.2,592 C14,588 14,584 14.5,580 Z" fill="#2fb2e6"/>
<ellipse cx="23.0" cy="588.0" rx="2.2" ry="2.6" fill="#ffffff"/>
<ellipse cx="20.0" cy="582.0" rx="1.0" ry="1.2" fill="#ffffff" fill-opacity="0.7"/>
<path d="M16.8,603 L28.6,603.4 C28,606 26,608 23.5,610 C21.5,612 19.5,614 17,615.5 C14.5,616.5 12,616.5 11,615.5 C10.2,614 10.5,611.5 11.5,609.5 C13,607 15,605 16.8,603 Z" fill="#1bab8c"/>
<ellipse cx="23.6" cy="602.6" rx="2.4" ry="3.0" fill="#ffffff" stroke="#2fb2e6" stroke-width="0.6"/>
<path d="M65.5,581 C65.5,579 68,578.8 69.5,579.5 C71,580.5 71.5,583 71.2,585.5 C72.5,587 74,588.5 75,590 C77.5,591.5 79.5,594 80.3,597.5 C80.8,601.5 80,605.5 77.5,608.5 C75,611 72,612.5 69,613.8 C67,615 66,617 65,620 L63,620 C63,617 62,614.5 60.5,612.5 C58.5,610 57.5,606.5 57.5,602.5 C57.5,598.5 59,595 61.5,593 C62.5,591 63,589 63.5,587 C64.5,585 65.5,583 65.5,581 Z" fill="#a8b222"/>
<ellipse cx="73" cy="601.5" rx="2.0" ry="4.2" fill="#e4e6b0"/>
<path d="M55,619 C57,616 60,614 63.5,613 L64.5,616 C62.5,620 61,624 59,628 L56.5,631 C55,628 53.5,624 53.5,621 Z" fill="#e8a434"/>
<path d="M56,621 C51,621 46,621.5 41,620.5" fill="none" stroke="#e8a434" stroke-width="1.7" stroke-linecap="round"/>
<path d="M56.5,626 C52,626.5 47,627.5 43,628.5" fill="none" stroke="#e8a434" stroke-width="1.4" stroke-linecap="round"/>
<path d="M57,619 C55,617 53.5,615.5 52,614" fill="none" stroke="#e8a434" stroke-width="1.4" stroke-linecap="round"/>
<path d="M41,620.5 L33,619.5" fill="none" stroke="#e8a434" stroke-width="1.0" stroke-linecap="round"/>
<path d="M43,628.5 L36,629.5" fill="none" stroke="#e8a434" stroke-width="0.9" stroke-linecap="round"/>
<path d="M52,614 L50,612.5" fill="none" stroke="#e8a434" stroke-width="0.8" stroke-linecap="round"/>
<path d="M15.5,631 C16,627.5 19,625 22.5,624.8 C25,625 27.5,626.5 28,628.5 C30,629.5 32.5,630 35,630.5 L34.5,631.5 C31,631.5 28.5,632 27,633 C24,634.5 20,634.8 17.5,634.2 C16,633.5 15.5,632.5 15.5,631 Z" fill="#eef2fb" stroke="#7c9ee0" stroke-width="1.1"/>
<ellipse cx="22" cy="629.6" rx="3.4" ry="2.1" fill="#ffffff"/>
<path d="M58.5,629 C59,634 56.5,639.5 52,643.5 C48,646.5 43,648 38,647.5 C35,647.3 33,646.5 32.5,645 C33,643 35.5,641.5 38,641.5 C41,641.5 44,641 46.5,639.5 C50,637 52.5,633 54,629.5 C55,628 57.5,627.5 58.5,629 Z" fill="#e24c9c"/>
<path d="M31,641.5 C32,638.5 35,637 38.5,637 C41,637.2 42.5,638.5 41,640.5 C39,641.8 36,642.2 33,642.6 Z" fill="none" stroke="#e47cb8" stroke-width="1.0"/>
<ellipse cx="37.6" cy="607.8" rx="1.0" ry="2.0" fill="#c8b0d0"/>
<ellipse cx="24.5" cy="602.8" rx="1.8" ry="2.8" fill="none" stroke="#7a7aa0" stroke-width="0.6"/>
<path d="M36,603 L39,600 M50,611 L52,608.5 M31,613 L35,614" stroke="#c8a8c8" stroke-width="0.6"/>
</g>
<text x="11.00" y="581.60" font-size="5.6" text-anchor="start" fill="#3a3a3a" stroke="#3a3a3a" stroke-width="0.08">NK cells</text>
<text x="8.70" y="598.90" font-size="5.6" text-anchor="start" fill="#3a3a3a" stroke="#3a3a3a" stroke-width="0.08">T cells</text>
<text x="55.70" y="594.60" font-size="5.6" text-anchor="start" fill="#3a3a3a" stroke="#3a3a3a" stroke-width="0.08">Monocytes</text>
<text x="23.40" y="611.50" font-size="5.6" text-anchor="start" fill="#3a3a3a" stroke="#3a3a3a" stroke-width="0.08">Plasma cells</text>
<text x="59.70" y="617.40" font-size="5.6" text-anchor="start" fill="#3a3a3a" stroke="#3a3a3a" stroke-width="0.08">CMP</text>
<text x="29.40" y="625.70" font-size="5.6" text-anchor="start" fill="#3a3a3a" stroke="#3a3a3a" stroke-width="0.08">Mega</text>
<text x="54.50" y="625.70" font-size="5.6" text-anchor="start" fill="#3a3a3a" stroke="#3a3a3a" stroke-width="0.08">HSC</text>
<text x="25.00" y="632.70" font-size="5.6" text-anchor="start" fill="#3a3a3a" stroke="#3a3a3a" stroke-width="0.08">karyocytes</text>
<text x="52.50" y="632.70" font-size="5.6" text-anchor="start" fill="#3a3a3a" stroke="#3a3a3a" stroke-width="0.08">&#8212;MEP</text>
<text x="7.80" y="637.10" font-size="5.6" text-anchor="start" fill="#3a3a3a" stroke="#3a3a3a" stroke-width="0.08">B cells</text>
<text x="45.30" y="646.80" font-size="5.6" text-anchor="start" fill="#3a3a3a" stroke="#3a3a3a" stroke-width="0.08">Erythrocytes</text>
<g transform="translate(88.1,0) scale(0.932,1) translate(0,0)">
<path d="M14.5,580 C15,577.5 18,577 22,577.3 C26,577.5 29,578 29.5,580 C29.8,582 28,584 27.5,586 C28,588 30,589.5 31,591 C31.2,593 30.5,595 29.5,595.5 C28.5,594.5 27.5,593.8 26.5,594 C25.5,596 26,599 26.5,602 L28.5,603.5 L17,603.8 C16,600 14.5,596 14.2,592 C14,588 14,584 14.5,580 Z" fill="#dab6ae"/>
<ellipse cx="23.0" cy="588.0" rx="2.2" ry="2.6" fill="#ffffff"/>
<ellipse cx="20.0" cy="582.0" rx="1.0" ry="1.2" fill="#ffffff" fill-opacity="0.7"/>
<path d="M16.8,603 L28.6,603.4 C28,606 26,608 23.5,610 C21.5,612 19.5,614 17,615.5 C14.5,616.5 12,616.5 11,615.5 C10.2,614 10.5,611.5 11.5,609.5 C13,607 15,605 16.8,603 Z" fill="#d8a89a"/>
<ellipse cx="23.6" cy="602.6" rx="2.4" ry="3.0" fill="#ffffff" stroke="#dab6ae" stroke-width="0.6"/>
<path d="M65.5,581 C65.5,579 68,578.8 69.5,579.5 C71,580.5 71.5,583 71.2,585.5 C72.5,587 74,588.5 75,590 C77.5,591.5 79.5,594 80.3,597.5 C80.8,601.5 80,605.5 77.5,608.5 C75,611 72,612.5 69,613.8 C67,615 66,617 65,620 L63,620 C63,617 62,614.5 60.5,612.5 C58.5,610 57.5,606.5 57.5,602.5 C57.5,598.5 59,595 61.5,593 C62.5,591 63,589 63.5,587 C64.5,585 65.5,583 65.5,581 Z" fill="#dcc4be" stroke="#c4b6b6" stroke-width="0.9"/>
<ellipse cx="73" cy="601.5" rx="2.0" ry="4.2" fill="#eeeaee"/>
<path d="M55,619 C57,616 60,614 63.5,613 L64.5,616 C62.5,620 61,624 59,628 L56.5,631 C55,628 53.5,624 53.5,621 Z" fill="#d89c90"/>
<path d="M56,621 C51,621 46,621.5 41,620.5" fill="none" stroke="#d89c90" stroke-width="1.7" stroke-linecap="round"/>
<path d="M56.5,626 C52,626.5 47,627.5 43,628.5" fill="none" stroke="#d89c90" stroke-width="1.4" stroke-linecap="round"/>
<path d="M57,619 C55,617 53.5,615.5 52,614" fill="none" stroke="#d89c90" stroke-width="1.4" stroke-linecap="round"/>
<path d="M41,620.5 L33,619.5" fill="none" stroke="#d89c90" stroke-width="1.0" stroke-linecap="round"/>
<path d="M43,628.5 L36,629.5" fill="none" stroke="#d89c90" stroke-width="0.9" stroke-linecap="round"/>
<path d="M52,614 L50,612.5" fill="none" stroke="#d89c90" stroke-width="0.8" stroke-linecap="round"/>
<path d="M15.5,631 C16,627.5 19,625 22.5,624.8 C25,625 27.5,626.5 28,628.5 C30,629.5 32.5,630 35,630.5 L34.5,631.5 C31,631.5 28.5,632 27,633 C24,634.5 20,634.8 17.5,634.2 C16,633.5 15.5,632.5 15.5,631 Z" fill="#f8f4f4" stroke="#c4b8b8" stroke-width="1.1"/>
<ellipse cx="22" cy="629.6" rx="3.4" ry="2.1" fill="#ffffff"/>
<path d="M58.5,629 C59,634 56.5,639.5 52,643.5 C48,646.5 43,648 38,647.5 C35,647.3 33,646.5 32.5,645 C33,643 35.5,641.5 38,641.5 C41,641.5 44,641 46.5,639.5 C50,637 52.5,633 54,629.5 C55,628 57.5,627.5 58.5,629 Z" fill="#e2603c"/>
<path d="M31,641.5 C32,638.5 35,637 38.5,637 C41,637.2 42.5,638.5 41,640.5 C39,641.8 36,642.2 33,642.6 Z" fill="none" stroke="#d8a8a0" stroke-width="1.0"/>
<ellipse cx="37.6" cy="607.8" rx="1.0" ry="2.0" fill="#d8b0a8"/>
<ellipse cx="24.5" cy="602.8" rx="1.8" ry="2.8" fill="none" stroke="#c4b8b8" stroke-width="0.6"/>
<path d="M36,603 L39,600 M50,611 L52,608.5 M31,613 L35,614" stroke="#c4b8b8" stroke-width="0.6"/>
</g>
<g transform="translate(1.5,88.6) scale(0.932,1)">
<path d="M14.5,580 C15,577.5 18,577 22,577.3 C26,577.5 29,578 29.5,580 C29.8,582 28,584 27.5,586 C28,588 30,589.5 31,591 C31.2,593 30.5,595 29.5,595.5 C28.5,594.5 27.5,593.8 26.5,594 C25.5,596 26,599 26.5,602 L28.5,603.5 L17,603.8 C16,600 14.5,596 14.2,592 C14,588 14,584 14.5,580 Z" fill="#d8aaa4"/>
<ellipse cx="23.0" cy="588.0" rx="2.2" ry="2.6" fill="#ffffff"/>
<ellipse cx="20.0" cy="582.0" rx="1.0" ry="1.2" fill="#ffffff" fill-opacity="0.7"/>
<path d="M16.8,603 L28.6,603.4 C28,606 26,608 23.5,610 C21.5,612 19.5,614 17,615.5 C14.5,616.5 12,616.5 11,615.5 C10.2,614 10.5,611.5 11.5,609.5 C13,607 15,605 16.8,603 Z" fill="#e0644f"/>
<ellipse cx="23.6" cy="602.6" rx="2.4" ry="3.0" fill="#ffffff" stroke="#d8aaa4" stroke-width="0.6"/>
<path d="M65.5,581 C65.5,579 68,578.8 69.5,579.5 C71,580.5 71.5,583 71.2,585.5 C72.5,587 74,588.5 75,590 C77.5,591.5 79.5,594 80.3,597.5 C80.8,601.5 80,605.5 77.5,608.5 C75,611 72,612.5 69,613.8 C67,615 66,617 65,620 L63,620 C63,617 62,614.5 60.5,612.5 C58.5,610 57.5,606.5 57.5,602.5 C57.5,598.5 59,595 61.5,593 C62.5,591 63,589 63.5,587 C64.5,585 65.5,583 65.5,581 Z" fill="#cfc2c2" stroke="#c4b8b8" stroke-width="0.9"/>
<ellipse cx="73" cy="601.5" rx="2.0" ry="4.2" fill="#ece8ec"/>
<path d="M55,619 C57,616 60,614 63.5,613 L64.5,616 C62.5,620 61,624 59,628 L56.5,631 C55,628 53.5,624 53.5,621 Z" fill="#d8948c"/>
<path d="M56,621 C51,621 46,621.5 41,620.5" fill="none" stroke="#d8948c" stroke-width="1.7" stroke-linecap="round"/>
<path d="M56.5,626 C52,626.5 47,627.5 43,628.5" fill="none" stroke="#d8948c" stroke-width="1.4" stroke-linecap="round"/>
<path d="M57,619 C55,617 53.5,615.5 52,614" fill="none" stroke="#d8948c" stroke-width="1.4" stroke-linecap="round"/>
<path d="M41,620.5 L33,619.5" fill="none" stroke="#d8948c" stroke-width="1.0" stroke-linecap="round"/>
<path d="M43,628.5 L36,629.5" fill="none" stroke="#d8948c" stroke-width="0.9" stroke-linecap="round"/>
<path d="M52,614 L50,612.5" fill="none" stroke="#d8948c" stroke-width="0.8" stroke-linecap="round"/>
<path d="M15.5,631 C16,627.5 19,625 22.5,624.8 C25,625 27.5,626.5 28,628.5 C30,629.5 32.5,630 35,630.5 L34.5,631.5 C31,631.5 28.5,632 27,633 C24,634.5 20,634.8 17.5,634.2 C16,633.5 15.5,632.5 15.5,631 Z" fill="#eca89c" stroke="#d87060" stroke-width="1.1"/>
<ellipse cx="22" cy="629.6" rx="3.4" ry="2.1" fill="#ffffff"/>
<path d="M58.5,629 C59,634 56.5,639.5 52,643.5 C48,646.5 43,648 38,647.5 C35,647.3 33,646.5 32.5,645 C33,643 35.5,641.5 38,641.5 C41,641.5 44,641 46.5,639.5 C50,637 52.5,633 54,629.5 C55,628 57.5,627.5 58.5,629 Z" fill="#cec6c6"/>
<path d="M31,641.5 C32,638.5 35,637 38.5,637 C41,637.2 42.5,638.5 41,640.5 C39,641.8 36,642.2 33,642.6 Z" fill="none" stroke="#ccc0c0" stroke-width="1.0"/>
<ellipse cx="37.6" cy="607.8" rx="1.0" ry="2.0" fill="#c81010"/>
<ellipse cx="24.5" cy="602.8" rx="1.8" ry="2.8" fill="none" stroke="#d87060" stroke-width="0.6"/>
<path d="M36,603 L39,600 M50,611 L52,608.5 M31,613 L35,614" stroke="#d87060" stroke-width="0.6"/>
</g>
<g transform="translate(89.3,88.6) scale(0.9,1)">
<path d="M14.5,580 C15,577.5 18,577 22,577.3 C26,577.5 29,578 29.5,580 C29.8,582 28,584 27.5,586 C28,588 30,589.5 31,591 C31.2,593 30.5,595 29.5,595.5 C28.5,594.5 27.5,593.8 26.5,594 C25.5,596 26,599 26.5,602 L28.5,603.5 L17,603.8 C16,600 14.5,596 14.2,592 C14,588 14,584 14.5,580 Z" fill="#d6b4ac"/>
<ellipse cx="23.0" cy="588.0" rx="2.2" ry="2.6" fill="#ffffff"/>
<ellipse cx="20.0" cy="582.0" rx="1.0" ry="1.2" fill="#ffffff" fill-opacity="0.7"/>
<path d="M16.8,603 L28.6,603.4 C28,606 26,608 23.5,610 C21.5,612 19.5,614 17,615.5 C14.5,616.5 12,616.5 11,615.5 C10.2,614 10.5,611.5 11.5,609.5 C13,607 15,605 16.8,603 Z" fill="#e0947f"/>
<ellipse cx="23.6" cy="602.6" rx="2.4" ry="3.0" fill="#ffffff" stroke="#d6b4ac" stroke-width="0.6"/>
<path d="M65.5,581 C65.5,579 68,578.8 69.5,579.5 C71,580.5 71.5,583 71.2,585.5 C72.5,587 74,588.5 75,590 C77.5,591.5 79.5,594 80.3,597.5 C80.8,601.5 80,605.5 77.5,608.5 C75,611 72,612.5 69,613.8 C67,615 66,617 65,620 L63,620 C63,617 62,614.5 60.5,612.5 C58.5,610 57.5,606.5 57.5,602.5 C57.5,598.5 59,595 61.5,593 C62.5,591 63,589 63.5,587 C64.5,585 65.5,583 65.5,581 Z" fill="#e4604c" stroke="#e03020" stroke-width="0.9"/>
<ellipse cx="73" cy="601.5" rx="2.0" ry="4.2" fill="#f2c8bc"/>
<path d="M55,619 C57,616 60,614 63.5,613 L64.5,616 C62.5,620 61,624 59,628 L56.5,631 C55,628 53.5,624 53.5,621 Z" fill="#e08474"/>
<path d="M56,621 C51,621 46,621.5 41,620.5" fill="none" stroke="#e08474" stroke-width="1.7" stroke-linecap="round"/>
<path d="M56.5,626 C52,626.5 47,627.5 43,628.5" fill="none" stroke="#e08474" stroke-width="1.4" stroke-linecap="round"/>
<path d="M57,619 C55,617 53.5,615.5 52,614" fill="none" stroke="#e08474" stroke-width="1.4" stroke-linecap="round"/>
<path d="M41,620.5 L33,619.5" fill="none" stroke="#e08474" stroke-width="1.0" stroke-linecap="round"/>
<path d="M43,628.5 L36,629.5" fill="none" stroke="#e08474" stroke-width="0.9" stroke-linecap="round"/>
<path d="M52,614 L50,612.5" fill="none" stroke="#e08474" stroke-width="0.8" stroke-linecap="round"/>
<path d="M15.5,631 C16,627.5 19,625 22.5,624.8 C25,625 27.5,626.5 28,628.5 C30,629.5 32.5,630 35,630.5 L34.5,631.5 C31,631.5 28.5,632 27,633 C24,634.5 20,634.8 17.5,634.2 C16,633.5 15.5,632.5 15.5,631 Z" fill="#f6f0f0" stroke="#cac0c0" stroke-width="1.1"/>
<ellipse cx="22" cy="629.6" rx="3.4" ry="2.1" fill="#ffffff"/>
<path d="M58.5,629 C59,634 56.5,639.5 52,643.5 C48,646.5 43,648 38,647.5 C35,647.3 33,646.5 32.5,645 C33,643 35.5,641.5 38,641.5 C41,641.5 44,641 46.5,639.5 C50,637 52.5,633 54,629.5 C55,628 57.5,627.5 58.5,629 Z" fill="#e29a84"/>
<path d="M31,641.5 C32,638.5 35,637 38.5,637 C41,637.2 42.5,638.5 41,640.5 C39,641.8 36,642.2 33,642.6 Z" fill="none" stroke="#d8b0a8" stroke-width="1.0"/>
<ellipse cx="37.6" cy="607.8" rx="1.0" ry="2.0" fill="#c81010"/>
<ellipse cx="24.5" cy="602.8" rx="1.8" ry="2.8" fill="none" stroke="#cac0c0" stroke-width="0.6"/>
<path d="M36,603 L39,600 M50,611 L52,608.5 M31,613 L35,614" stroke="#cac0c0" stroke-width="0.6"/>
</g>
<defs><linearGradient id="umr" x1="0" y1="0" x2="0" y2="1"><stop offset="0" stop-color="#d81010"/><stop offset="0.5" stop-color="#e87860"/><stop offset="1" stop-color="#dcd0cc"/></linearGradient></defs>
<rect x="153.90" y="623.40" width="3.90" height="21.60" fill="url(#umr)"/>
<text x="160.00" y="624.90" font-size="5.8" text-anchor="middle" fill="#333" stroke="#333" stroke-width="0.08" transform="rotate(90 160.00 624.90)">4</text>
<text x="160.00" y="629.55" font-size="5.8" text-anchor="middle" fill="#333" stroke="#333" stroke-width="0.08" transform="rotate(90 160.00 629.55)">3</text>
<text x="160.00" y="634.20" font-size="5.8" text-anchor="middle" fill="#333" stroke="#333" stroke-width="0.08" transform="rotate(90 160.00 634.20)">2</text>
<text x="160.00" y="638.85" font-size="5.8" text-anchor="middle" fill="#333" stroke="#333" stroke-width="0.08" transform="rotate(90 160.00 638.85)">1</text>
<text x="160.00" y="643.50" font-size="5.8" text-anchor="middle" fill="#333" stroke="#333" stroke-width="0.08" transform="rotate(90 160.00 643.50)">0</text>
<rect x="69.20" y="711.40" width="3.90" height="19.90" fill="url(#umr)"/>
<text x="75.40" y="712.90" font-size="5.8" text-anchor="middle" fill="#333" stroke="#333" stroke-width="0.08" transform="rotate(90 75.40 712.90)">4</text>
<text x="75.40" y="717.12" font-size="5.8" text-anchor="middle" fill="#333" stroke="#333" stroke-width="0.08" transform="rotate(90 75.40 717.12)">3</text>
<text x="75.40" y="721.35" font-size="5.8" text-anchor="middle" fill="#333" stroke="#333" stroke-width="0.08" transform="rotate(90 75.40 721.35)">2</text>
<text x="75.40" y="725.57" font-size="5.8" text-anchor="middle" fill="#333" stroke="#333" stroke-width="0.08" transform="rotate(90 75.40 725.57)">1</text>
<text x="75.40" y="729.80" font-size="5.8" text-anchor="middle" fill="#333" stroke="#333" stroke-width="0.08" transform="rotate(90 75.40 729.80)">0</text>
<rect x="152.60" y="711.10" width="3.90" height="21.20" fill="url(#umr)"/>
<text x="158.60" y="712.20" font-size="5.9" text-anchor="start" fill="#333" stroke="#333" stroke-width="0.08">10.0</text>
<text x="158.60" y="717.43" font-size="5.9" text-anchor="start" fill="#333" stroke="#333" stroke-width="0.08">7.5</text>
<text x="158.60" y="722.65" font-size="5.9" text-anchor="start" fill="#333" stroke="#333" stroke-width="0.08">5.0</text>
<text x="158.60" y="727.88" font-size="5.9" text-anchor="start" fill="#333" stroke="#333" stroke-width="0.08">2.5</text>
<text x="158.60" y="733.10" font-size="5.9" text-anchor="start" fill="#333" stroke="#333" stroke-width="0.08">0.0</text>
<text x="185.90" y="559.60" font-size="12.0" text-anchor="start" fill="#000" font-weight="bold">F</text>
<line x1="230.20" y1="563.50" x2="230.20" y2="657.40" stroke="#231f20" stroke-width="1.6"/>
<line x1="230.20" y1="656.60" x2="424.50" y2="656.60" stroke="#231f20" stroke-width="1.6"/>
<line x1="227.70" y1="656.60" x2="230.20" y2="656.60" stroke="#231f20" stroke-width="1.0"/>
<text x="224.20" y="659.10" font-size="7.0" text-anchor="end" fill="#444" stroke="#444" stroke-width="0.08">0</text>
<line x1="227.70" y1="641.68" x2="230.20" y2="641.68" stroke="#231f20" stroke-width="1.0"/>
<text x="224.20" y="644.18" font-size="7.0" text-anchor="end" fill="#444" stroke="#444" stroke-width="0.08">30</text>
<line x1="227.70" y1="626.77" x2="230.20" y2="626.77" stroke="#231f20" stroke-width="1.0"/>
<text x="224.20" y="629.27" font-size="7.0" text-anchor="end" fill="#444" stroke="#444" stroke-width="0.08">60</text>
<line x1="227.70" y1="611.85" x2="230.20" y2="611.85" stroke="#231f20" stroke-width="1.0"/>
<text x="224.20" y="614.35" font-size="7.0" text-anchor="end" fill="#444" stroke="#444" stroke-width="0.08">90</text>
<line x1="227.70" y1="596.94" x2="230.20" y2="596.94" stroke="#231f20" stroke-width="1.0"/>
<text x="224.20" y="599.44" font-size="7.0" text-anchor="end" fill="#444" stroke="#444" stroke-width="0.08">120</text>
<line x1="227.70" y1="582.02" x2="230.20" y2="582.02" stroke="#231f20" stroke-width="1.0"/>
<text x="224.20" y="584.52" font-size="7.0" text-anchor="end" fill="#444" stroke="#444" stroke-width="0.08">150</text>
<line x1="227.70" y1="567.10" x2="230.20" y2="567.10" stroke="#231f20" stroke-width="1.0"/>
<text x="224.20" y="569.60" font-size="7.0" text-anchor="end" fill="#444" stroke="#444" stroke-width="0.08">180</text>
<text x="208.40" y="609.30" font-size="8.3" text-anchor="middle" fill="#333" stroke="#333" stroke-width="0.08" transform="rotate(-90 208.40 609.30)" textLength="93.5" lengthAdjust="spacingAndGlyphs">% colonies (of control average)</text>
<rect x="232.10" y="608.12" width="7.00" height="48.48" fill="#c8c8cc"/>
<rect x="241.20" y="616.33" width="7.00" height="40.27" fill="#1c6b52"/>
<rect x="250.40" y="589.98" width="7.00" height="66.62" fill="#f8dc9a"/>
<rect x="259.50" y="626.27" width="7.00" height="30.33" fill="#f08c12"/>
<line x1="235.60" y1="596.94" x2="235.60" y2="622.79" stroke="#231f20" stroke-width="0.9"/>
<circle cx="235.00" cy="596.94" r="1.5" fill="#111"/>
<circle cx="236.50" cy="602.90" r="1.5" fill="#111"/>
<circle cx="234.70" cy="622.79" r="1.5" fill="#111"/>
<line x1="244.70" y1="606.88" x2="244.70" y2="626.77" stroke="#231f20" stroke-width="0.9"/>
<circle cx="244.10" cy="606.88" r="1.5" fill="#111"/>
<circle cx="245.60" cy="611.85" r="1.5" fill="#111"/>
<circle cx="243.80" cy="626.77" r="1.5" fill="#111"/>
<line x1="253.90" y1="567.10" x2="253.90" y2="601.91" stroke="#231f20" stroke-width="0.9"/>
<circle cx="253.30" cy="567.10" r="1.5" fill="#111"/>
<circle cx="254.80" cy="596.94" r="1.5" fill="#111"/>
<circle cx="253.00" cy="601.91" r="1.5" fill="#111"/>
<line x1="263.00" y1="616.82" x2="263.00" y2="631.74" stroke="#231f20" stroke-width="0.9"/>
<circle cx="262.40" cy="616.82" r="1.5" fill="#111"/>
<circle cx="263.90" cy="626.77" r="1.5" fill="#111"/>
<circle cx="262.10" cy="631.74" r="1.5" fill="#111"/>
<line x1="249.30" y1="656.60" x2="249.30" y2="658.80" stroke="#231f20" stroke-width="0.9"/>
<rect x="284.00" y="609.86" width="7.00" height="46.74" fill="#c8c8cc"/>
<rect x="293.10" y="614.34" width="7.00" height="42.26" fill="#1c6b52"/>
<rect x="302.30" y="606.38" width="7.00" height="50.22" fill="#f8dc9a"/>
<rect x="311.40" y="612.35" width="7.00" height="44.25" fill="#f08c12"/>
<line x1="287.50" y1="601.91" x2="287.50" y2="609.86" stroke="#231f20" stroke-width="0.9"/>
<circle cx="286.90" cy="601.91" r="1.5" fill="#111"/>
<circle cx="288.40" cy="609.37" r="1.5" fill="#111"/>
<circle cx="286.60" cy="609.37" r="1.5" fill="#111"/>
<line x1="296.60" y1="601.91" x2="296.60" y2="617.82" stroke="#231f20" stroke-width="0.9"/>
<circle cx="296.00" cy="601.91" r="1.5" fill="#111"/>
<circle cx="297.50" cy="617.82" r="1.5" fill="#111"/>
<circle cx="295.70" cy="617.82" r="1.5" fill="#111"/>
<line x1="305.80" y1="595.44" x2="305.80" y2="606.38" stroke="#231f20" stroke-width="0.9"/>
<circle cx="305.20" cy="595.44" r="1.5" fill="#111"/>
<circle cx="306.70" cy="605.89" r="1.5" fill="#111"/>
<circle cx="304.90" cy="605.89" r="1.5" fill="#111"/>
<line x1="314.90" y1="611.85" x2="314.90" y2="613.34" stroke="#231f20" stroke-width="0.9"/>
<circle cx="314.30" cy="611.85" r="1.5" fill="#111"/>
<circle cx="315.80" cy="611.85" r="1.5" fill="#111"/>
<circle cx="314.00" cy="613.34" r="1.5" fill="#111"/>
<line x1="301.20" y1="656.60" x2="301.20" y2="658.80" stroke="#231f20" stroke-width="0.9"/>
<rect x="335.90" y="608.37" width="7.00" height="48.23" fill="#c8c8cc"/>
<rect x="345.00" y="632.73" width="7.00" height="23.87" fill="#1c6b52"/>
<rect x="354.20" y="620.06" width="7.00" height="36.54" fill="#f8dc9a"/>
<rect x="363.30" y="650.63" width="7.00" height="5.97" fill="#f08c12"/>
<line x1="339.40" y1="596.94" x2="339.40" y2="623.78" stroke="#231f20" stroke-width="0.9"/>
<circle cx="338.80" cy="596.94" r="1.5" fill="#111"/>
<circle cx="340.30" cy="601.41" r="1.5" fill="#111"/>
<circle cx="338.50" cy="623.78" r="1.5" fill="#111"/>
<line x1="348.50" y1="623.29" x2="348.50" y2="638.70" stroke="#231f20" stroke-width="0.9"/>
<circle cx="347.90" cy="623.29" r="1.5" fill="#111"/>
<circle cx="349.40" cy="632.73" r="1.5" fill="#111"/>
<circle cx="347.60" cy="638.70" r="1.5" fill="#111"/>
<line x1="357.70" y1="610.86" x2="357.70" y2="624.78" stroke="#231f20" stroke-width="0.9"/>
<circle cx="357.10" cy="610.86" r="1.5" fill="#111"/>
<circle cx="358.60" cy="618.81" r="1.5" fill="#111"/>
<circle cx="356.80" cy="624.78" r="1.5" fill="#111"/>
<line x1="366.80" y1="648.64" x2="366.80" y2="651.63" stroke="#231f20" stroke-width="0.9"/>
<circle cx="366.20" cy="648.64" r="1.5" fill="#111"/>
<circle cx="367.70" cy="650.63" r="1.5" fill="#111"/>
<circle cx="365.90" cy="651.63" r="1.5" fill="#111"/>
<line x1="353.10" y1="656.60" x2="353.10" y2="658.80" stroke="#231f20" stroke-width="0.9"/>
<rect x="387.80" y="608.37" width="7.00" height="48.23" fill="#c8c8cc"/>
<rect x="396.90" y="647.65" width="7.00" height="8.95" fill="#1c6b52"/>
<rect x="406.10" y="609.37" width="7.00" height="47.23" fill="#f8dc9a"/>
<rect x="415.20" y="651.63" width="7.00" height="4.97" fill="#f08c12"/>
<line x1="391.30" y1="599.42" x2="391.30" y2="620.30" stroke="#231f20" stroke-width="0.9"/>
<circle cx="390.70" cy="599.42" r="1.5" fill="#111"/>
<circle cx="392.20" cy="602.41" r="1.5" fill="#111"/>
<circle cx="390.40" cy="620.30" r="1.5" fill="#111"/>
<line x1="400.40" y1="646.66" x2="400.40" y2="649.64" stroke="#231f20" stroke-width="0.9"/>
<circle cx="399.80" cy="646.66" r="1.5" fill="#111"/>
<circle cx="401.30" cy="648.15" r="1.5" fill="#111"/>
<circle cx="399.50" cy="649.64" r="1.5" fill="#111"/>
<line x1="409.60" y1="594.45" x2="409.60" y2="617.32" stroke="#231f20" stroke-width="0.9"/>
<circle cx="409.00" cy="594.45" r="1.5" fill="#111"/>
<circle cx="410.50" cy="615.33" r="1.5" fill="#111"/>
<circle cx="408.70" cy="617.32" r="1.5" fill="#111"/>
<line x1="418.70" y1="650.63" x2="418.70" y2="653.12" stroke="#231f20" stroke-width="0.9"/>
<circle cx="418.10" cy="650.63" r="1.5" fill="#111"/>
<circle cx="419.60" cy="652.13" r="1.5" fill="#111"/>
<circle cx="417.80" cy="653.12" r="1.5" fill="#111"/>
<line x1="405.00" y1="656.60" x2="405.00" y2="658.80" stroke="#231f20" stroke-width="0.9"/>
<rect x="444.30" y="580.20" width="7.60" height="7.40" fill="#c8c8cc"/>
<text x="455.50" y="586.40" font-size="7.4" text-anchor="start" fill="#333" stroke="#333" stroke-width="0.08">Ctrl</text>
<rect x="444.30" y="595.40" width="7.60" height="7.40" fill="#1c6b52"/>
<text x="455.50" y="597.00" font-size="7.4" text-anchor="start" fill="#333" stroke="#333" stroke-width="0.08">A-1331852</text>
<text x="455.50" y="604.80" font-size="7.4" text-anchor="start" fill="#333" stroke="#333" stroke-width="0.08">(100 nM)</text>
<rect x="444.30" y="614.40" width="7.60" height="7.40" fill="#f8dc9a"/>
<text x="455.50" y="616.00" font-size="7.4" text-anchor="start" fill="#333" stroke="#333" stroke-width="0.08">Venetoclax</text>
<text x="455.50" y="623.80" font-size="7.4" text-anchor="start" fill="#333" stroke="#333" stroke-width="0.08">(200 nM)</text>
<rect x="444.30" y="633.00" width="7.60" height="7.40" fill="#f08c12"/>
<text x="455.50" y="634.60" font-size="7.4" text-anchor="start" fill="#333" stroke="#333" stroke-width="0.08">Navitoclax</text>
<text x="455.50" y="642.40" font-size="7.4" text-anchor="start" fill="#333" stroke="#333" stroke-width="0.08">(500 nM)</text>
<defs><marker id="ah" viewBox="0 0 10 10" refX="9" refY="5" markerWidth="5" markerHeight="5" orient="auto"><path d="M0,0 L10,5 L0,10 z" fill="#111"/></marker><marker id="ahg" viewBox="0 0 10 10" refX="9" refY="5" markerWidth="5" markerHeight="5" orient="auto"><path d="M0,0 L10,5 L0,10 z" fill="#aaa"/></marker></defs>
<circle cx="200.3" cy="671.6" r="7.0" fill="#ececec" stroke="#d6d6d6" stroke-width="0.8"/>
<circle cx="200.3" cy="671.6" r="4.3" fill="#c6c6c6"/>
<circle cx="249.3" cy="671.6" r="7.0" fill="#ececec" stroke="#d6d6d6" stroke-width="0.8"/>
<circle cx="249.3" cy="671.6" r="4.3" fill="#c6c6c6"/>
<circle cx="301.0" cy="671.6" r="7.0" fill="#ececec" stroke="#d6d6d6" stroke-width="0.8"/>
<circle cx="301.0" cy="671.6" r="4.3" fill="#c6c6c6"/>
<circle cx="352.7" cy="671.6" r="7.0" fill="#fff" stroke="#c8102e" stroke-width="1.1"/>
<circle cx="352.7" cy="671.6" r="4.6" fill="#c8102e"/>
<circle cx="403.0" cy="671.6" r="7.0" fill="#fff" stroke="#c8102e" stroke-width="1.1"/>
<circle cx="403.0" cy="671.6" r="4.6" fill="#c8102e"/>
<circle cx="450.6" cy="671.6" r="7.0" fill="#fff" stroke="#c8102e" stroke-width="1.1"/>
<circle cx="450.6" cy="671.6" r="4.6" fill="#c8102e"/>
<circle cx="301.6" cy="706.3" r="7.0" fill="#fff" stroke="#c8102e" stroke-width="1.1"/>
<circle cx="301.6" cy="706.3" r="4.6" fill="#c8102e"/>
<text x="200.30" y="688.00" font-size="7.4" text-anchor="middle" fill="#333" stroke="#333" stroke-width="0.08">HSC</text>
<text x="249.30" y="688.00" font-size="7.4" text-anchor="middle" fill="#333" stroke="#333" stroke-width="0.08">CFU-GEMM</text>
<text x="301.00" y="688.00" font-size="7.4" text-anchor="middle" fill="#333" stroke="#333" stroke-width="0.08">CFU-GM</text>
<text x="352.70" y="688.00" font-size="7.4" text-anchor="middle" fill="#333" stroke="#333" stroke-width="0.08">BFU-E</text>
<text x="403.00" y="688.00" font-size="7.4" text-anchor="middle" fill="#333" stroke="#333" stroke-width="0.08">CFU-E</text>
<text x="450.60" y="688.00" font-size="7.4" text-anchor="middle" fill="#333" stroke="#333" stroke-width="0.08">Erythroblasts</text>
<text x="301.60" y="722.80" font-size="7.4" text-anchor="middle" fill="#333" stroke="#333" stroke-width="0.08">MEP</text>
<text x="489.00" y="673.90" font-size="7.4" text-anchor="start" fill="#333" stroke="#333" stroke-width="0.08">RBC</text>
<text x="352.00" y="705.60" font-size="7.4" text-anchor="start" fill="#333" stroke="#333" stroke-width="0.08">Monocytes</text>
<text x="349.00" y="714.00" font-size="7.4" text-anchor="start" fill="#333" stroke="#333" stroke-width="0.08">Granulocytes</text>
<text x="342.80" y="733.00" font-size="7.4" text-anchor="start" fill="#333" stroke="#333" stroke-width="0.08">CFU-Meg</text>
<line x1="215.3" y1="671.2" x2="236.0" y2="671.2" stroke="#111" stroke-width="1.1" marker-end="url(#ah)"/>
<line x1="268.0" y1="671.2" x2="288.2" y2="671.2" stroke="#111" stroke-width="1.1" marker-end="url(#ah)"/>
<line x1="369.5" y1="671.2" x2="389.0" y2="671.2" stroke="#111" stroke-width="1.1" marker-end="url(#ah)"/>
<line x1="417.7" y1="671.2" x2="437.0" y2="671.2" stroke="#111" stroke-width="1.1" marker-end="url(#ah)"/>
<line x1="466.0" y1="671.2" x2="485.5" y2="671.2" stroke="#111" stroke-width="1.1" marker-end="url(#ah)"/>
<line x1="272.0" y1="689.0" x2="288.2" y2="699.3" stroke="#111" stroke-width="1.1" marker-end="url(#ah)"/>
<line x1="317.3" y1="698.4" x2="332.3" y2="687.4" stroke="#111" stroke-width="1.1" marker-end="url(#ah)"/>
<line x1="321.0" y1="717.0" x2="337.2" y2="727.0" stroke="#111" stroke-width="1.1" marker-end="url(#ah)"/>
<line x1="317.3" y1="672.9" x2="345.2" y2="694.2" stroke="#aaa" stroke-width="1.0" stroke-dasharray="2,1.6" marker-end="url(#ahg)"/>
</svg></body></html>
